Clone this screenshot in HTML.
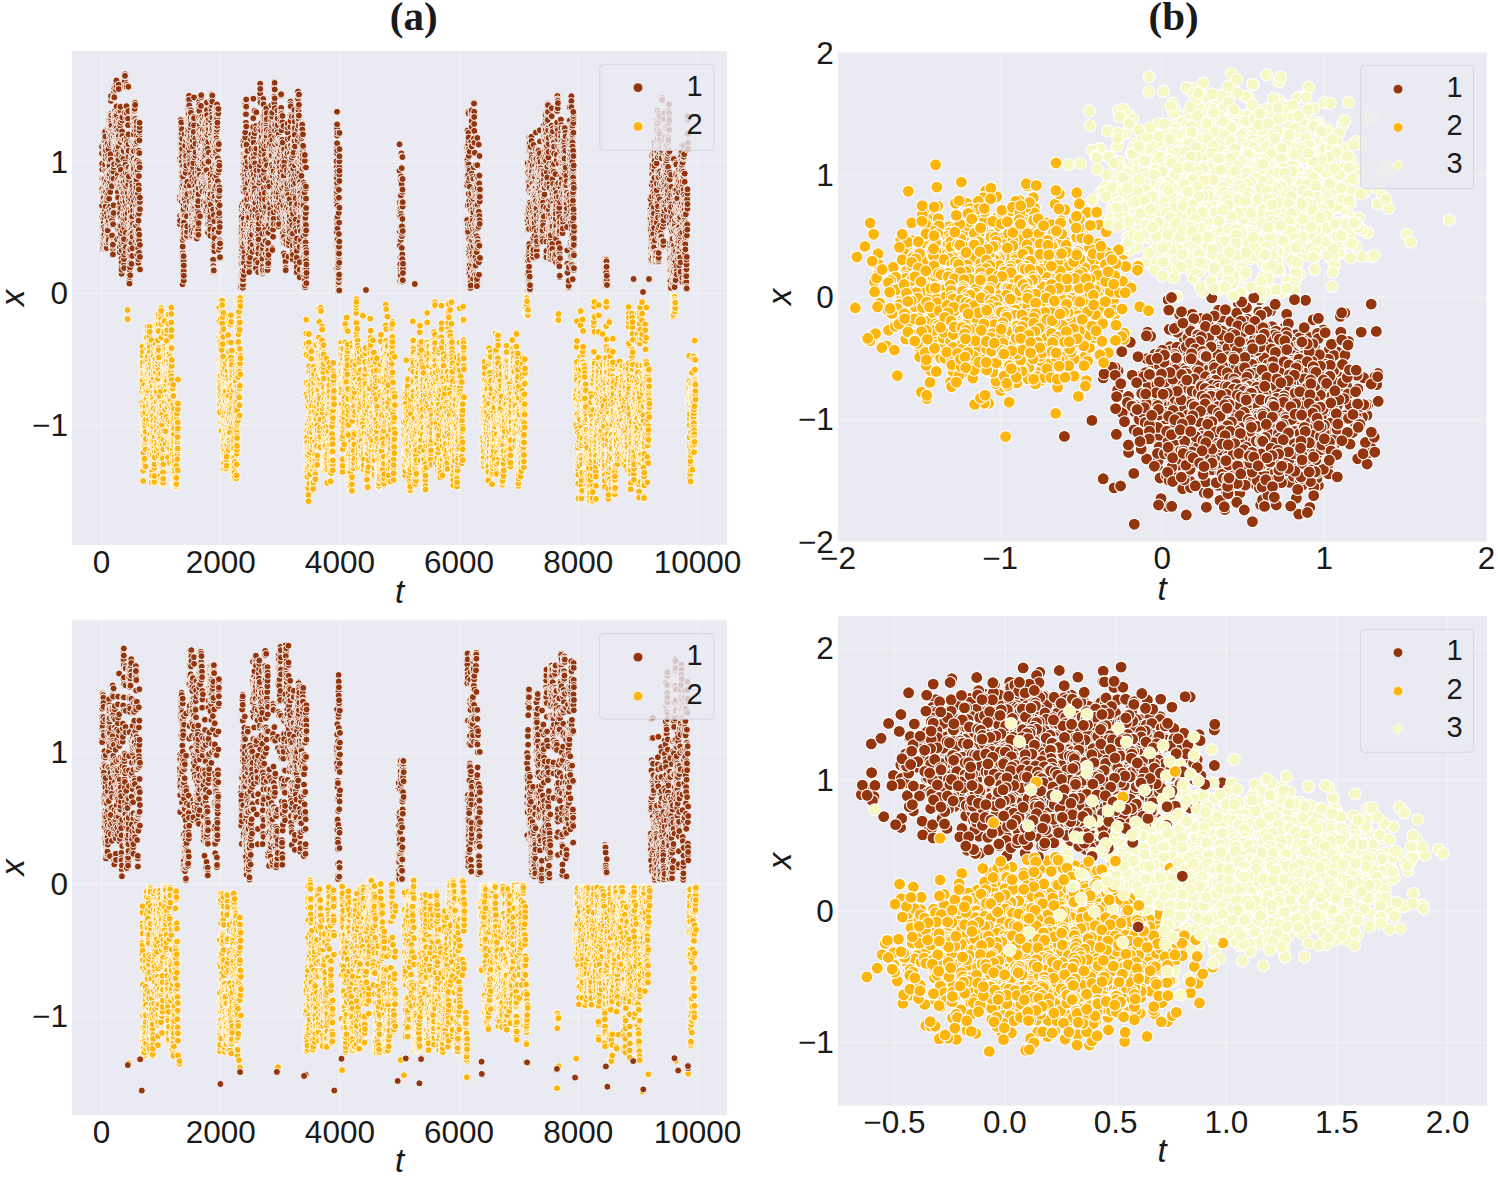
<!DOCTYPE html><html><head><meta charset="utf-8"><style>html,body{margin:0;padding:0;background:#fff;width:1498px;height:1180px;overflow:hidden}svg{display:block}.sa{fill:none;stroke:none}text{font-family:"Liberation Sans",sans-serif;fill:#1a1a1a}</style></head><body><svg width="1498" height="1180" viewBox="0 0 1498 1180"><rect width="1498" height="1180" fill="#fff"/><defs><marker id="ab" markerUnits="userSpaceOnUse" markerWidth="20" markerHeight="20" refX="10" refY="10" overflow="visible"><circle cx="10" cy="10" r="3.5" fill="#93360f" stroke="#fff" stroke-width="0.9"/></marker><marker id="ay" markerUnits="userSpaceOnUse" markerWidth="20" markerHeight="20" refX="10" refY="10" overflow="visible"><circle cx="10" cy="10" r="3.5" fill="#fcb50d" stroke="#fff" stroke-width="0.9"/></marker><marker id="bb" markerUnits="userSpaceOnUse" markerWidth="20" markerHeight="20" refX="10" refY="10" overflow="visible"><circle cx="10" cy="10" r="6.0" fill="#93360f" stroke="#fff" stroke-width="1.1"/></marker><marker id="by" markerUnits="userSpaceOnUse" markerWidth="20" markerHeight="20" refX="10" refY="10" overflow="visible"><circle cx="10" cy="10" r="6.0" fill="#fcb50d" stroke="#fff" stroke-width="1.1"/></marker><marker id="bp" markerUnits="userSpaceOnUse" markerWidth="20" markerHeight="20" refX="10" refY="10" overflow="visible"><circle cx="10" cy="10" r="6.0" fill="#f7f7c4" stroke="#fff" stroke-width="1.1"/></marker></defs><clipPath id="cA1"><rect x="72" y="51" width="655" height="494"/></clipPath><rect x="72" y="51" width="655" height="494" fill="#eaeaf2"/><path d="M101.5 51V545M220.7 51V545M339.9 51V545M459.1 51V545M578.3 51V545M697.5 51V545M72 161.6H727M72 293.3H727M72 425H727" stroke="#f3f3f7" stroke-width="1" fill="none"/><g clip-path="url(#cA1)"><path class="sa" marker-mid="url(#ay)" marker-start="url(#ay)" marker-end="url(#ay)" d="m127.6 310 0 9 14.4 113.6 .1-30.3 0-20.8 .1-9.8 0 4.4 .1 8.2 0-29 .1-8.8 0 33.7 0 11 .1-15.7 .1-1.8 0-12 0 4.1 .1 21.9 0 26.2 .1-51.6 0 9.1 .1-19.6 .1 21.3 0 33.3 .1 13.1 0 15.1 .1 34 0 2 0 10.4 .1-19.5 0-9 .1-17.4 .1-9 0 19.9 0-10.1 .1-.8 0-12.6 .1-1.5 0 24.3 .1-27.5 0 26.5 .1 20.1 0-4.4 .1-30.7 0-13.7 .1-30.5 0-13.1 .1 29.5 0 30 .1-10.3 0 7.8 .1 14.7 0 1.2 .1 21.6 0-1.7 .1-6 0-28.2 .1 1.2 0-.6 .1-21.2 0 29.3 .1 8.4 0-16.9 .1-22.3 0 19.4 0-15.1 .1-19.3 .1 11.1 0-15.2 .1 36.6 0 16.4 .1-52.2 0 16.4 0 15.8 .1 16.7 .1 27.3 0-16.8 0-30.4 .1 12.5 0 8.8 .1-1.6 0-19.3 .1-29.9 0-23.5 .1 4.4 0 .3 .1-8.6 .1 36.7 0-5.5 0-15.3 .1-.1 0-9.5 .1 3.6 0 26.6 .1-7.1 0-20 .1-4.2 0-25.1 .1 6.3 0-9.1 .1-2.7 0 .8 .1-9.1 0 1.9 .1 12.8 0 15.6 .1 11.1 0-13.8 .1-7.6 0 5.7 .1 22 0-4.5 .1-6.2 0-21.9 0-1.1 .1-11.5 .1-3.7 0-.8 .1 4.5 0 13 0 22.1 .1 8.4 .1-1 0-18.8 0 1.9 .1 12.6 .1 33.9 0-10.5 0-6.7 .1 8.9 0 15.1 .1-7.8 0 1.4 .1-15.5 0-19.9 .1 13.8 0 21.9 .1 11.9 .1 8.2 0-32.7 0-20.9 .1-.3 0-25.9 .1 22.2 0 15.2 .1 5.4 0 32.5 .1-12.1 0-1.6 .1-25.8 0 5.3 .1-8.7 0-8.2 .1-17.9 0-2 0-11.9 .1-4.9 .1 17.1 0-19.1 0-2.8 .1 4.9 .1 12.4 0 2.9 .1 5.1 0 43.9 .1 41.7 0 13.5 .1-20.5 0-47.1 .1 45.3 0 25 .1-18.6 0-25.5 0 1.2 .1 14.7 .1 5.1 0 3.5 .1-36 0-16.9 0-17.7 .1 21.2 0 40 .1-48.6 0 7.4 .1-6.7 0 36.2 .1-1.8 0-36.5 .1 33.8 0-27.6 .1-24.5 0 .7 .1-17.2 0 27.8 .1 6.1 0-14.4 .1 23.2 0 13.1 .1 21.5 0-12.2 0-4.4 .1 37.5 .1 35.6 0-2 0 10.1 .1-6.1 .1-19.7 0-12.6 .1-13.1 0 25.1 .1-2.1 0-37.7 0 1.4 .1 11.3 0-33.9 .1 8.5 0-1.2 .1-16.2 0 22 .1 30.1 .1-41.6 0 3.7 .1 46.3 0-6.3 0 14.9 .1-29.2 0-22.2 .1 17.8 0 6.7 .1-1.4 0-10.6 .1 24.4 0-17.5 .1 12.3 0-14.3 .1 11.8 0-29.9 .1 5.7 0-48.9 .1-6.6 0-7.4 0 10.6 .1 22.3 .1-9.8 0 5 0-2.5 .1 20.7 0 43.1 .1 13.8 .1-3.8 0-2.6 .1 17.7 0 19.4 0 2.5 .1-.1 0-5.9 .1-8.2 0-19.2 .1 2.8 .1 12.9 0-12.2 0 6 .1-.7 .1-1.3 0 1.3 0-20.7 .1-34.6 0-42.2 .1 2.3 0-1.2 .1 5.6 0-17.8 .1-.4 0 35 .1-21 0 3.4 .1-7.2 0 9.7 .1 17.5 0-13.8 .1 1 0-28.6 .1 27 0 51.3 .1 9.1 0-20.4 .1-18.3 0-21.1 .1 38.3 .1-9.1 0-14 0-1.9 .1 3.9 .1-1.6 0-35.2 .1 39 0 52.2 0-27.1 .1 6.5 .1 2.2 0-34.2 .1 10.8 0 19.4 .1 20.9 0 9 .1-5.9 0-18.8 .1 5.4 0-14.3 .1-33.6 0-35.7 .1 .5 0-24.5 .1 28.3 0 1.3 .1 32.6 0-17.9 .1 10.3 .1-1.9 0-28.9 .1-30.9 0 47.7 .1-.9 .1-7.9 0-15.7 .1 24.4 0-3.4 0 17.5 .1-26.8 0 55.4 .1 29.7 0-38.4 .1 49.5 .1-12.1 0 19.8 .1-43.9 0-53.5 .1-10.5 0-17 0-14 .1 6.9 .1-9.4 0 35.7 .1 7.2 .1 29.2 0-12.1 .1-4.5 0 39.5 .1 23.4 0-17 0-4.6 .1 12.2 .1-26.9 0-10.4 .1 .8 0 39.5 .1 0 0-28.9 .1 7.4 0-9 .1 43.6 0 23.3 .1-40.3 0-11.5 .1-4.7 0 30.2 .1-2.9 0-19.7 .1 31.6 0 .4 .1-7 0 14.9 .1 8.3 0 13.8 .1 4 .1-36.1 0 1 .1-54.7 0-2.7 .1-14.4 0 17.9 .1 .3 0-17.7 .1-52.4 0-6.7 .1-6.2 0 10.5 .1-8.1 .1 13.3 0 13.4 .1 26.5 0 42.8 0 2.1 .1 7.2 .1-51.6 0 42.1 .1 24.8 0-28.6 .1 38.8 0 19.3 .1-43.6 0 4.5 .1 3.5 0-20.7 .1 10.1 .1 4.8 0-13.7 .1 41.4 0 19.8 0 13.5 .1 3.5 .1-.5 0-2.4 .1-27.8 0 4.8 .1 6.9 0-1.7 .1-6.6 0-11.6 .1 13.4 0-8.5 .1 22.5 0 7.6 .1 3.6 0-.9 .1-4.7 0 .8 .1-14.4 0-15.2 .1-9.2 .1-21.7 0-32.5 .1-2.2 0 47.1 0-44.1 .1-5.6 0-14.4 .1 7.3 .1 9 0-13.4 .1-16.7 0-21 .1-9.9 .1 43.1 0-44.9 0 13.7 .1-.7 0 21.3 .1-7.5 0 15.9 .1-13.2 .1-28.5 0 42.7 .1 19.2 0 21 0-7.4 .1-17.5 .1 22.5 0-5.2 .1-28.2 0 9.1 .1 30.7 0-24.9 .1 26.4 .1-24.1 0-13 0 37.1 .1 21.7 .1 12.6 0-24.2 .1-45.6 0-6.2 .1 1.5 0-.8 0-1 .1 6.9 .1 6.3 0 .6 .1-28.2 0-4.1 .1 0 0 17.9 .1-1.6 0-11.2 .1 37.5 .1-36.8 0 21.4 .1 21.9 0 18.6 .1-10.9 0-47.1 .1 2.5 0 23.5 .1-36.1 0-7.8 .1 13.3 0 24 .1 .6 0 17 .1-15.2 0-46.8 .1-3.9 0 .5 .1 37.3 .1-2.9 0 41.4 .1 16.2 0-25.2 0 7 .1 34.2 .1 10 0-52.6 .1-25 0 36.8 .1 32.6 0 19.6 .1 .3 0-.9 .1-1.8 0-9.3 .1-28 .1-47.2 0-1.3 .1-13.6 0 6.9 .1-.6 0-40.5 .1-9.3 0 52.5 .1-1.4 0-8.9 0 4.4 .1-7.3 .1-6.5 .1 1.3 0 2.9 0 13.8 .1 32.9 0-43.5 .1 1.4 .1 39.2 0-9.9 0-33 .1 1.1 0-6.1 .1 17.8 .1-18.6 0 22.5 .1 15.4 0 14.5 .1 5.7 0 44.5 .1-1.2 0 15 .1-23.9 0-14.2 .1-32.7 0 19.4 .1 10.1 0-42.7 .1-22.1 0-7.7 .1-2 0 24.7 .1 6.3 .1 65.2 0-5.3 .1 .7 0-27.8 .1-39.6 0 30.2 .1 5.7 0-6.7 .1-16.4 0-7.8 .1-9 0 24.7 .1-15.8 0-39.8 .1-13.9 0-14.8 .1 6.3 0 34 .1 .2 .1 10.9 0-29 .1 35.8 0-5.5 .1 19.4 0-19.8 .1 50.2 0 7.1 .1-23.1 0-5.8 .1 15.7 0 5.4 .1 33.3 .1 11.3 0 17.4 0-32.9 .1-.5 .1-12.2 0 13.5 .1-19.8 0-30 0-1 .1 7.5 .1 37.8 0 15.2 .1-4.5 0 14.7 .1 3.3 0-35.9 .1 4.3 0-18.8 .1-27.4 0 11.2 .1 18.7 .1-9.4 0-9.3 0 29.4 .1-7.9 .1 15.6 0 8 0-1 .1 30.8 .1 12.1 0-16.6 .1-21 0-.5 .1 12.6 0-23.6 .1-6.8 0-18.1 .1 7.7 0 12 .1-10.5 .1 35.3 0-11.3 .1 14.5 0 12.3 .1-8.8 0 13.4 0 3 .1 6.8 .1-18.7 0 12.5 0-16.6 .1 22.4 .1 2.9 0-1.4 .1 2.4 0 0 .1 .1 .1 0 0 0 0 0 .1 0 0 0 .1 0 .1-.1 0-1.1 .1 .5 0-.9 0 .4 .1-1.1 .1-1.4 0 2.6 .1 .4 0-4.4 .1-5 0 6.9 .1 .9 .1-4.3 0 3.3 .1 .2 0-5.8 .1-12.9 0 .4 .1-15.1 0-2.5 0-30 .1 24.3 .1-22.8 0 25.5 0 1.7 .1-5.4 .1-38.3 0 10.5 .1 29.3 0 10.3 .1 .8 .1 5.3 0-8.8 0-19.9 .1 11.8 .1-3.3 0-16.6 .1 25.4 0-10.7 .1 11.4 0-26 .1-13.3 0 61 .1-41.5 0-25.2 .1-24 41.3-42.2 .1-29.6 0 12.9 .1 39.7 0 14.9 0 7.9 .1 10.1 0-7.9 .1 7.1 0-6 .1 26.8 0-17.2 .1 16 0-8.3 .1-6.8 0-7.3 .1-3.9 0 1.7 .1 6.9 0-30.6 0-.1 .1-22.7 .1 4.5 0 28.8 0-12.1 .1 2 0-18.7 .1 22.9 0 4.8 .1-9.4 0 12.4 .1-43.1 0-14.6 .1-6.7 0 54.6 0-30.3 .1 33.2 0-21.3 .1 44.5 .1-3 0-18.6 0 26.7 .1 24.7 0-20.9 .1 29.1 0 .5 .1-29.1 0-31.3 .1-7.7 0 7.9 0-32.6 .1 13.3 0-23.5 .1 6.9 0 15.2 .1-20.2 0 36 .1-36.2 0-26.9 .1-2.3 0 .4 .1 11.2 0-7 .1 18.4 0 34.9 0 4.1 .1 1.5 0-32.1 .1 28.7 0-43.5 .1 20.1 0 7.1 .1 16.9 0 2.9 .1 9.7 0-7.8 .1 32.2 0 7.1 0 3.7 .1 12 0-10.8 .1-32 0-7.6 .1-14 0-19.6 .1 68.6 0 18.2 .1-45 0-4.8 .1-61 0 16.2 .1 40.4 0 48 0-.1 .1 16.7 0-45.3 .1 37.2 0 12.9 .1 13.1 0-5.6 .1 3.5 0 19.5 .1-1.1 0-5.1 0-42.7 .1-20.8 0-18.1 .1-14.9 .1 23.7 0 6.8 0 19.7 .1 6.1 0-28.9 .1 34 0-30.5 .1 14.5 0 26 .1-9 0 5.4 .1 15.1 0-48.7 .1-6.5 0-14.9 0-11.8 .1 37.4 0-17.7 .1 14.8 0 21.7 .1-21.4 0-21.8 .1 7.6 0-4.2 .1-4.8 0 11.4 .1 11.6 0 17.8 0-36.6 .1 7.9 0-28.3 .1 12.4 0 25.8 .1 27.9 0-19 .1 23.1 0-12.1 .1 9.3 0-23.7 0 39.7 .1 19.9 0-9.1 .1 9.7 0 1.3 .1-3.3 0-4.7 .1-6.3 0 11.8 .1-12.2 0 3.2 .1 9 0-32.2 0-12.2 .1 1.5 .1 9.9 0-27.1 0 6.5 .1 26.1 .1 7.5 0-1.4 0-10.6 .1-37.9 0 10.4 .1-26.9 0-7 .1 .7 0 10.7 .1-13.3 0 13.3 0 20.1 .1-19.5 .1 15.7 0 25.1 0-39.1 .1 40.7 0 14.1 .1-.8 0-18.6 .1-44.8 0-25.6 .1-16.1 0 25.7 0 24.8 .1-1 .1 23.1 0 1.5 0 29.4 .1 1.8 0-18.2 .1-3 0 30.9 .1-18 0-43.9 .1-7.5 0 15.3 .1 5.6 0 27.1 0-14.2 .1 .5 .1-1.3 0-62.7 .1 1 0-30.2 0 20.4 .1-24.3 0-2.5 .1 51.5 0 16.5 0 2.6 .1 24.8 .1-6.4 0 6.6 0 23.9 .1-1.5 .1-2.3 0-8.2 0-9.1 .1 20.1 0 6.4 .1-14.6 0 17.9 .1-11 0 13.8 .1-25.6 0 1.7 0-20 .1-.7 0-11.5 .1 11.5 .1 2 0-41 0-38.3 .1 43.7 0 16.9 .1 1.7 0-19.4 .1 19.3 0-25.4 .1 5.1 0 59.5 .1-68.4 0-42.1 .1 27.2 0-20.6 0 35.6 .1 17.1 0-10.2 .1 5.7 0 3.4 .1 39.1 0 14.1 .1-24.4 0-38.9 .1 1.6 0 2.6 .1-.4 0-5.4 0 8.1 .1-5 0 19.2 .1-10 0-1 .1-22.6 0 30.5 .1 27.7 0 14.4 .1 22.7 0-28.2 0-39.7 .1 16.7 0 6.2 .1-.5 0-2.2 .1-13.7 0 1 .1-14.5 0 4.2 .1-3.4 0 65.8 .1 25.4 0-1.4 .1-1.5 0 7.6 .1 6.3 0-.9 0-4.3 .1-4 0 3.7 .1 6.5 0-.6 .1-15 0 .6 .1-2.1 0 14.9 0-24.2 .1 .3 .1 .5 0-32.4 .1-27 0 26.7 0 4.3 .1-5.2 .1 2.9 0 4.6 0 19.1 .1-1.8 0 21.6 .1-26.2 0 0 0 12.4 .1 9.6 0 8.5 .1 9.5 0 1.8 .1 .2 0-2.3 .1-2 0-9.8 .1 5.5 0 6.8 .1-13.8 0 6.7 .1 .6 0 2.8 .1-11.3 0 5.5 .1-4.7 0-44.3 0-8.5 .1 1.4 0 26.7 .1-8.9 0-48.2 .1 5.2 0 15.1 .1-27.7 0-1.9 .1 10.7 0-3.4 .1-3.6 0-6.4 0 19.1 .1 21.6 .1-22.2 0-7.7 0 28.3 .1-1.6 0 17.4 .1-14.7 0-37.9 .1 31.7 0-20.6 0 14.2 .1 16.3 .1 18.9 0 12.8 0 6.9 .1-32.8 0 11.6 .1 23.1 .1 12.3 0 10.3 0 3.2 .1-2.8 0-11 0-10.7 .1-10 .1-11.1 0 3.2 .1-39.2 0 22.2 0 30.9 .1-3.9 0-21 .1 13.1 0-27.8 .1 12.7 0-25.2 .1-10.2 0 2.1 .1-3.5 0-13.6 0-9.2 .1-20.2 0-42.5 .1-2 0 5.4 .1-3.9 0 21.3 .1 55.7 0 43.7 .1-20.2 0-4.5 .1-4.8 0 25.3 .1-39.5 0-7 0-14.5 .1-38.8 0 11.7 .1 13.4 0 26.9 .1-33.8 .1-.7 0-12.8 0-4.9 .1-13.3 0 15.5 .1 35.4 0-36.4 .1 1.1 0-12.9 0-4.4 .1 10.3 0-10.3 .1 24.5 .1-4.4 0 44.9 0-6.3 .1 .8 0 6.1 .1 4.5 0-7.8 0 33.4 .1 7.3 .1-15.2 0 15.9 .1-16.9 0 27.1 0-30.8 .1-54.8 0 19 .1 37 0-63.3 .1 40.8 0-58.5 .1-6 0-1.7 .1 1.2 0 .1 0-1.3 .1 .8 .1 4 0 4.1 0 49.4 .1 18.9 0-18.4 .1 2.3 65.5-14.9 .1 9.7 .1-5.7 0-27.6 0 13.6 .1 21.4 .1-11.2 0 38.9 0 11.8 .1 57.3 .1 16.8 .1-20 0-5.6 0 23.6 .1 5.8 0-16.2 .1-1.7 .1-24.1 0 7.6 0 5.2 .1 6.1 .1-2.9 0-2.1 .1 20.5 0 6.5 .1-29.1 0 34.7 .1-22.9 .1 12 0-39.5 .1-29 0-9.7 .1 .5 0-39.8 .1 57.1 0 19.1 .1 31.5 .1-1.2 0-6.1 .1-20.2 0 35.1 .1 4.6 0 19.9 .1 6.9 0-32.5 .1 38.6 0-49.5 .1-31.3 0-38.6 .1 35.8 .1-10 0-65.1 .1-8.3 0 21.8 .1-7.5 0 39.8 .1-2.2 .1-19.7 0 5.6 .1 29 0-10.1 .1 56.3 0 24.8 .1 11.6 0-19.8 .1-44.2 .1 7.9 0 5 0 13 .1 3.9 .1-.5 0 25.7 .1-8.9 0-13.1 .1-6.7 0-31.7 .1 34.5 .1 12.1 0-21.7 .1 6.4 0-18.1 .1 15.1 0-18 .1-7.3 .1-28.1 0-11.1 .1 5.1 0 2.2 .1 10 0 17.5 .1-4.8 0-2.3 .1-12.9 .1 24.7 0-58.7 0 15.9 .1-25.1 0 1.7 .1 17.5 .1 27.3 0 4.7 .1-24.4 0-4 .1 3.9 .1 36.2 .1-6.8 0 26.6 .1-12.2 0-40.4 .1 44.4 0 25.8 .1-4.5 0 24.1 .1-7.8 .1-2.3 0 2.7 .1 3.3 .1-26.3 0-14.1 0 1.9 .1 17.6 .1-1 .1 25.3 0 1.4 .1 12 0 1.9 .1 5.5 0-3 .1 3.4 .1-2.1 0 .9 .1-6.1 .1-16.4 0-19.6 .1-52.8 0 6.7 .1-13.8 0-10.7 .1-9.2 .1 4.3 0 13.7 .1-6.9 0-4.1 .1 8.6 0 7.3 .1 24.9 .1 14.6 0-31.8 .1-3.7 0 17.3 .1 5.3 .1 48.8 0-44.9 .1 3.3 .1-17.2 0 12.5 0 22.9 .1 12.7 .1 2.6 .1-2.1 0-13.9 .1 19 0 12.3 .1 2.1 0 4.4 .1 .5 0-17.2 .1-2.8 .1-22.7 0-4 .1-11.7 0 26.4 .1-16.3 .1 15.1 0-26.9 .1-.2 .1 8 0-13 .1-12.9 .1-2.7 0-28 0-25.6 .1 35.3 0 38.6 .1-12.7 .1-3.9 .1-1.6 0-4.9 .1-7.4 .1 12.7 0 30.8 0 5.7 .1 8.5 0-8.6 .1 27.6 .1-33.9 0-40.8 .1 35.1 .1 32.8 0-2.5 .1-25 .1 4.5 0-3.6 0-1.5 .1 8.7 .1-43.2 .1-21.1 0 40.5 .1-40.3 0 20.3 .1-13.6 0 7.5 .1 9 .1-21.4 0-22.6 0 9.8 .1 29.3 .1-.3 .1 12.3 0-24.9 0 15.2 .1-5.4 .1 5.5 0-39.3 .1-18.4 0-26.7 .1-2.5 .1 1.3 0-1.1 .1 34.3 .1-21.1 0 30.6 .1 3.4 .1 4.1 0 24.1 .1 19.4 0 27.6 .1-12.3 0-22.9 .1-17.4 .1-14.6 0 6.8 .1 27.8 .1-30.8 0 42.5 .1 28.9 0-11.8 .1 19.1 0-9.4 .1 10.2 0-27.5 .1-35 .1-14.3 0-25.3 .1 1.2 .1 16.7 0-2.9 .1-15.9 0-36.3 .1 3.6 .1-.3 0 36.7 .1 12 .1-3.7 0-13.9 .1-.2 0 1 .1 9.5 0 .6 .1 13.6 0 8.9 .1-.8 .1-5.9 0-.3 .1-.8 0-27.6 .1 7.1 .1 .1 0-21.1 .1 3.3 .1 18.7 0 39.5 0-2.6 .1 28.3 .1-1 .1-21.1 0 16.8 .1-20.1 0 15.9 .1-40.9 0-.5 .1 12.8 .1 13.5 0-13.5 .1-23.1 0 10.3 .1 14.5 .1 50.3 0-55.3 .1-4.7 0-8.1 .1-14.2 .1 18.8 0-11.1 .1 25.8 .1 13.6 0 7.2 0-44.9 .1 36.6 0-4 .1 18.7 .1 28.7 .1 6.6 0-18.8 .1-29.2 0 6.9 .1 46.2 0 16.5 .1 .4 .1 2.2 0 1.4 .1-19.6 0 8.9 .1 13.9 .1-4.3 0-26.9 .1 1.7 0-36.7 .1 21.4 0-6.4 .1 3.9 .1 9.8 .1 29.6 0-23.7 .1 19.1 0-9.6 .1-.3 0-11.1 .1 8.8 0 21.7 .1-6.5 .1 8 0-5.6 .1-31.9 .1 25 0-20.9 .1-8.2 0-34.8 .1-31.4 .1-2.1 0 41.9 .1 .6 0 38.9 .1 11.2 .1 16 0 3.5 .1-.6 0-10.1 .1 5.7 0 1.9 .1-9.1 .1 10.6 0-5.1 .1 17.8 0 1.2 .1-31.9 .1-30.2 0 32.8 .1 .7 .1-40.8 0-26.4 .1 2.6 0 9.5 .1 1.1 0 36.8 .1 29.1 0-30.9 .1-38.8 .1 9.7 .1 32.6 0-40.7 0 4.2 .1 27.7 .1-19.4 0-39.2 .1 16.5 .1 43.4 0 10.4 .1 3.3 0-5.9 .1-46.1 0-29.1 .1 61.8 .1-22 0 5.2 .1-5.4 0-40.6 .1 25.6 .1 17.8 .1 33.2 0-21 .1-37.2 0 4.1 .1 22.7 0-16.6 .1 12.9 0 2.9 .1 14.6 .1-2.6 0-21.6 .1-.9 0 11.4 .1-29 .1-11.8 0 54.2 .1 22.9 0-.6 .1 21 0-4.6 .1-5.5 .1 3.6 0 2.8 .1 3.8 0 16.3 .1-26.9 .1 7.8 0-43.6 .1 16.8 .1 1.2 0 30.4 .1 4 0 2.1 .1-19.7 0-.6 .1-12.4 .1 24.4 0-12.4 .1-11.4 0-17.3 .1 9.6 .1-13.6 0 3.2 .1 5 .1-7.6 0 1.8 .1 4.2 0 7.8 .1-26.2 0-32.5 .1 24.5 .1 15.3 0 5.9 .1 18.2 0 4.8 .1 7.3 .1 12.5 0 6.4 .1-9.8 .1-42.3 0-7.7 0-6.5 .1-8.6 .1-9.3 0-14.9 .1-8.3 .1 29.8 0-10.5 .1 16.4 .1-5.5 0 12.5 .1-25.5 0-6.2 .1 27.6 0-11.6 .1-13.7 0 14.6 .1 7.5 .1 6 7-19.4 .1-42 .1 4.9 0 6.1 .1-5.2 0 43.7 .1-10.9 0-16.9 .1 43.6 0-19 .2-17.1 0 15.2 0 24.8 .1-8.2 .1 6.7 0-29.1 .1 33.6 0 23.4 .1-8.3 .1-47 0 37.4 .1-4.1 0 22.5 .1-7.9 .1 40.7 0-8.3 .1 2.3 .1-6.6 0-10.1 .1-38.6 0-1.5 .1 27 0-9 .1-72.3 0 1 .1 24.2 .1 32.8 0-63.4 .1 25.9 0-16.3 .1-9.9 .1 16.4 0 19 .1-1.5 0-10.5 .1-6.9 .1 7.1 0 7.3 .1 47.1 0-26.3 .1 11.3 0 6 .1 14.1 .1 12.3 .1-33.7 0-3.3 .1 5.7 0 10.4 .1-27.9 0-18.2 .1 1.5 .1 18.8 0-32.8 .1 37.8 0-19.3 .1-12.2 .1 34.3 0-37.5 .1 6.2 .1-31.9 0 .2 .1-13 0-5.5 .1 51.6 0-3.4 .1 12.5 0 1.7 .1-13.2 .1-4 .1-11.7 0 2.8 .1 7 0 10.2 .1 10.1 0 2.6 .1-31 0-1 .1 7.1 .1 3.2 0-13.8 .1 27.3 .1-20.9 0-.4 .1-7.3 .1-2.8 0-21.1 0-11.9 .1 27.7 0 8.7 .1 .7 .1 2.4 .1 57.2 0 18.5 .1-8.6 0-17.4 .1 26.7 0-59.2 .1 13.8 .1-28.2 0 5.2 .1-14 .1-4.1 0-15.8 .1 13.2 0 55 .1-8.6 .1-1.8 0 32.1 .1 12.3 .1-34.5 0 55.3 0 4.2 .1-1.1 0 2 .1 2.3 .1-26.6 0-20 .1 10 0-14.9 .1 44 .1 15.7 0 1.9 .1 7.1 0 2.3 .1-16.4 .1 19.8 0 1.1 .1 .5 0-6 .1-10.1 .1-.9 0-1.2 .1-.4 .1-4.9 0 1.8 .1 2.9 0-15.4 .1 12.6 0 5.4 .1-1.6 .1 1.6 0 12.1 .1 .7 .1-10.5 0 13.6 .1-7.2 0-2.5 .1 10 .1-12.2 0-2.1 .1-13.7 0-15 .1 19.8 .1-5.2 0 8.6 .1-16.6 0 17 .1-.5 0-58.6 .1 38.5 .1 9.3 0-14.3 .1-23.3 .1 28.2 0 4.5 .1 9.5 0 4.8 .1-1.1 .1 16.2 0 10.6 0 .3 .1 .1 .1-.2 0-6.3 .1-7.3 0-11.6 .1 2.6 .1-20.4 0-26.7 .1-25.5 .1-13.3 0 16.3 .1-29.7 0-8.3 .1-17.7 .1 5 0-.7 0 19.8 .2 13.9 0 19.1 0-1.9 .1-19.4 .1-16.9 0 28.8 .1 24.4 0 .7 .1-28.1 0 19.3 .1-29.7 .1-6.5 0 39.9 .1 57.8 .1-3.7 0-19 .1 13.5 0-8.2 .1 11.6 .1-6.1 0-17.7 .1 4.8 0-11.1 .1-26.3 .1 52.7 0-14.2 .1-29 .1-18.3 0-23.9 .1-.3 0-19.1 .1-4.3 .1 42.7 0 41.7 .1-20.8 0 1.8 .1-27.9 0-11.2 .1 11.2 .1 24.6 0-28.4 .1-13.8 0 9.7 .1-15.4 .1-20.7 0-2.7 .1-17.8 0-13 .1 2.4 .1 39.5 0-1.6 .1 3.3 0-30.1 .1-1.3 0-14.9 .1 6 .1-5.3 0-2.9 .1-5.6 .1 2.7 0 21.2 0 10.1 .1 4.5 .1 10.7 0 10.9 .1-7.3 .1-10.2 0 1.6 .1 5.9 0 33.6 .1-8.9 .1-2.3 0-12.4 .1-18.9 0-11.6 .1 23.8 .1-7.2 0 7.7 .1-8.3 0 1.4 .1-5.5 .1 5 0 9.5 .1 30 0-3 .1 2.7 .1 14.2 0-13 .1-3 .1 23.5 0-1.6 0 60.5 .1 1.8 .1-5.9 0-13.3 .1 3.5 .1-2.4 0 8.8 .1-4.4 0-13.9 .1-29 .1-37.9 0-24.2 .1 13.1 0 26.6 .1 28 0 8.2 .1 7.5 .1 8.8 0-32.4 .1 12.7 0-25.1 .1 7.1 .1-14.8 0-9 .1-22.9 .1-4.6 0 6.2 0 .6 .1 52.3 .1-14.3 0-17.2 .1 6 .1 21.3 0 29.1 .1 14.4 0 17.3 .1-10.4 .1-20.7 0-8.6 .1-34.3 0 6.7 .1-15 .1 8.2 0-23.3 .1 45.7 0 30.8 .1 17.7 .1-17.9 0-42.7 .1 52.9 0-26.7 .1 9.4 0-7.5 .1 26.5 0 5.9 .1-1.3 .1-6.8 0-15.2 .1 11.5 .1-38.7 0 7.3 .1 32.7 .1 9.5 0-8.3 .1 11.9 .1-5.9 0 1.2 0-46.2 .1 17.9 .1-46.8 0 30.8 .1 7.6 .1-34.9 0 5.3 .1 27.8 0-27 .1-46.2 0-.7 .1-34 0 40.1 .1 40 .1 2.7 0 17.8 .1 11.3 .1 34.3 0 2.3 .1 .5 0-20.2 .1 20.4 .1-16.1 0 15.9 .1 3.7 .1 1.3 0-16.6 0 12.3 .1-6.2 .1-31.6 0-16.3 .1 6.9 .1-20.6 0 35.1 .1-30.1 0 41.5 .1-10.8 0-18.7 .1-13.8 .1-28.9 0 6.1 .1 12.4 .1 21.8 0-27 .1-10 0-13.7 .1 1.7 0-1.3 .1 .1 .1-12.7 0 4.1 .1 20.6 .1-4.2 0 23.9 .1-1.7 0 1.9 .1-44.7 0-1.3 .1 21.8 0 13.8 .1 15.8 .1 38.4 0-41.5 .1-27.2 0 36.2 .1 8.2 .1 30.7 .1 8 0-4.4 .1-4.6 0 5.3 .1-8.1 .1 2.8 0 10.7 .1 15.3 0 3.9 .1-2.5 .1 9.2 0 7.6 .1-18.1 0-27.5 .1-3.4 0 14.1 .1-13.3 .1-8.7 0 23.1 .1-19.8 0-4.5 .1 4.1 .1 15 0 22.8 .1 16 0-22.9 .1-10.8 0-43 .1 28.6 .1 26.1 0-2.8 .1-18 0 4.6 .1-10.6 0 27 .1-3.3 .1-1.9 0 7.1 .1-19.6 0 1 .2-26.3 0-4.2 0 1.9 .1-14.2 .1-4.1 0-39.2 .1 26.6 0 7.3 .1-10.8 .1 13.2 0 29.9 .1 7.9 .1-15.1 0-14.6 .1 39.6 0 3 .1-19.4 0 5.4 .1-20.7 .1 12.3 0-38 0-.6 .2 11.3 0-31.6 0-3.5 .1-3.1 .1-42.9 0 28.2 .1-8.9 .1 14.7 0-5.2 .1-6.1 .1-10.7 0 14.4 .1 14.4 0 42.5 .1-34.5 .1 15.9 0-.5 0 43.4 .1 12.4 .1-38.3 .1-30.1 0 5 0 46.6 .1 31.1 .1-3.3 0-32.6 .1-1.7 0 42.2 .1-11.7 0-30.5 .1 10.9 .1-43.3 .1 48.6 0-21.1 .1 31.8 0-44.8 .1 32.5 .1 15.7 0-47.2 .1-20.6 0-7.5 .1 48.8 0 21.5 .1-31.5 0 2.1 .1 1.1 .1-13.4 0-24.7 .1-21.9 .1-12.1 0 27.2 .1 14.5 0 3.1 .1-26.6 0-2.2 .1 2.7 .1 57.5 0 5.8 .1-20.4 .1 20.5 0-52.2 .1 6 0-2.5 .1 19.4 .1-40.5 0 18.5 .1 52 0 5.6 .1 26.6 0 14.6 .1-14 .1 4.8 0 7.7 .1 1.9 .1 4.4 0-15.8 .1-2.9 0 12.3 .1-7.8 .1-11.5 0 .8 0-1.4 .1 2.1 .1-15.3 0 11.4 .1-36.2 .1-3.1 0-.3 .1 15.5 0 22.8 .1-30.3 .1-19.9 0 5.6 .1-13.8 0-8.6 .1-16.3 0 20.6 .1 39.4 .1-44 .1 39.8 0-11.3 .1 12.8 0 8.3 .1 17 0-9.6 .1-8.9 .1-15.2 0-.9 .1-5.2 0 34.4 .1 14.6 0-49.4 .1-5.4 .1-40.7 0 12 .1 43.6 .1-6.3 0 4.9 .1-3 0 32.8 .1-18.5 0 7.6 .1-50.8 .1 27.7 0 1.7 .1-3.4 0 5.5 .1 26.4 0 28.8 .1 7.2 .1-1.1 .1-26.7 0 22.6 .1-14 0 8.5 .1-12 0 16.1 .1 10.6 .1-4.9 0-8 .1-8.6 .1-30.3 0-12.1 0 31.7 .1 12 .1 6.9 0 21.6 .1-16.9 0 16.6 .1-1.2 .1 .5 0-7.2 .1 3.3 .1 1.5 0-11.4 0-6.7 .1 3.4 .1 11.3 .1-25.4 0 20.6 .1 1.4 0-6.2 .1 4.7 0-7.5 .1 9.6 .1-1 0 .1 .1 2.7 .1-9.1 0-1.9 .1-24.2 0 11 .1 8.8 0 7.1 .1-12.8 0-39.7 .1-37.5 .1-16 .1 29.6 0-2.1 .1 3.4 .1-53.3 0-.3 .1-7.2 0 6.5 0 29.4 .1 48.9 .1 19.7 .1-11.2 0-1 .1 22.1 0 21.1 .1-5.3 .1-14.2 0-33.5 .1 2.2 0-17.5 .1 13 0 20.3 .1-23.7 0 2.4 .1 1.3 .1-14 0 43.7 .1 35.2 0-8.3 .1-.3 .1 4.8 0-12.2 .1-6.6 0-12.1 .1-11.6 .1 25.8 0-20.9 .1-8 0 32.2 .1 6.2 .1-7.2 0-17.1 .1-21.9 0-22.3 .1-30.8 .1 7.3 .1 20.9 0-4.9 0-13.7 .1-18 .1-11.6 0 70.8 .1-13.4 .1-1.2 0 37.1 .1 20.5 0-33 .1 26.1 0 27 .1-5.7 0 .5 .1-14.9 .1 10.5 .1-48.9 0-6 .1-41.5 0 12 .1-20.3 0-13.8 .1 30.7 .1 3.4 0 10.7 .1 23.1 .1-6.8 0-17.4 .1-17.2 0 25.8 .1-15.3 0-46.9 .1 43.8 .1 13.9 0 0 .1-31.4 0-4.9 .1 54.4 0-48.2 .1-22.1 .1-46.6 0 20.5 .1 18.6 0 18.3 .1 12.3 0-21 .1 37.2 .1-38.3 0-11.3 .1-11.9 .1-20 .1 39.4 0 6.3 0 18.7 .1-22.5 .1 14.9 0-6.9 .1 21.3 .1-4.6 0-27.3 .1 11.8 0 .1 .1 46.7 .1-18.2 0 7.7 .1 23.8 0-26.7 .1-24.7 .1-5 0-47.3 .1 27.5 0 14.9 .1-11.4 .1-1.7 0 14.2 .1 1.5 0 35.3 .1 45.4 0-27.2 .1-9 .1 .9 0 8.2 .1 2.2 0-32.3 .1 17.1 .1 33.5 0 23.4 .1 21.8 0-18.7 .1 2.8 .1 4 0 6.5 .1-17.7 0-1 .1 2.8 0-16.1 .1-47.5 .1-30.5 0-8.6 .1 16.7 .1 4.7 0 14 .1-30.4 0 14.6 .1-21.8 0 8.2 .1 67 .1 22.5 0 9.2 .1-35.8 .1-5.1 0-22.5 0 30 .1 16.1 .1-21.4 0-3.4 .1 11.1 .1-11.8 0 47.9 .1 14.8 .1-13.1 0-10.5 .1 .7 0-8.6 .1-8.1 .1 6.5 0-24.2 .1 34.4 0 2.1 .1-30.8 .1-11.3 0 20.1 .1-28.6 0-33.1 .1-8.7 0-18.4 .1-.1 0-21.8 .1 12.7 .1 18.8 0 35.6 .1-31.4 .1-19.1 0 1.2 0 12.3 .1 13.1 .1 3.3 0-48.6 .1 19.4 0 5 .1-4.2 .1-9 .1-15.1 0 20 .1-18 0 29.5 .1 40.8 0-21.8 .1 41.5 0 8.4 .1-7.3 .1-.3 0-32.4 .1 8 .1 2.6 0 20.1 .1-9.4 .1 67.1 0-1.9 .1-10.4 0-12.3 .1 22.9 0-10.5 .1 21.3 .1-6.5 0-14.1 0 5.8 .1-23.7 .1-3.7 .1-16.6 0 13.4 0 16.2 .2-3.7 0-38.4 .1 20.9 0 9.6 .1 14.1 0-35.4 .1-12.5 .1-.3 0-11.2 .1-37 .1 41 0-1.1 .1 9.6 0-1.3 .1 28.3 9 13.3 .1-24.5 0 7.8 .1-32.8 .1 7.3 0 30.5 .1 7 0 14.7 .1-17.6 .1 36 0-8.5 .1 3.9 0-3.1 .1-12.5 0 10.9 .1-13.6 .1 24.3 0-5.3 0 .9 .1 3 .1-3.8 0-18 .1-12.7 0-9.7 .1 19 0-6.6 .1 2.3 0-38.6 .1 42.2 0-3.7 .1-31.7 .1-25.8 0 62.4 .1-7 .1 9.5 0-31.9 .1-17.9 0-5.8 .1-36.9 0 32.5 .1 4 0 35.5 .1 21.2 0-.4 .1-2.4 .1 15.5 0-5.8 .1-6.9 0-13.7 .1-29.7 .1-1.7 0-20.4 .1-.8 0 27.1 .1 30.4 .1 12 0 9.6 .1-12.2 0-27.4 .1-9 0 34.6 .1 .1 0-63.1 .1-9.9 .1 15.6 0-12.1 .1 3.3 0 45 .1 10.2 0-1.3 .1 8.5 .1-19.4 0-50 .1 55.3 0 29.5 .1-14 0-13.9 .1-20.9 0-7.8 .1 4.3 .1 31.9 0-13.4 .1-8.6 .1 11.1 0 23 .1 10.3 0-2 0-.4 .1 5.6 .1-37.8 .1 5.8 0 24.6 0 6.3 .1 9.7 .1 5.4 0-1.5 .1 4.6 0-18.2 .1-10.2 .1 11.3 0 17.7 .1 3.1 0 .7 .1-.4 .1 .4 0-1.8 .1-4 0-.5 .1 5.7 0-3.4 .1-14.2 .1-8.1 0 4.8 .1-8.6 0-13.7 .1 14.1 0-37.3 .1-21.6 0 4.7 .1-7.8 .1 14.9 0 11.9 0-12 .1-23.1 0-21.1 .1 23.9 .1 39.6 0 4.4 .1-13.7 .1 11.2 0 9.1 .1 20 0-6.3 .1-35.3 0 23 .1-6.6 0 2.6 .1 20.5 .1 2.9 0-18.8 .1 11.5 0-2.5 .1 4.5 .1 4.3 0-29.2 .1 28.5 0 3.5 .1-71.2 0 28.4 .1 14.1 .1-30 0-17.1 .1-25.9 0-2.2 .1-41.4 0 18.1 .1 14.1 0 7.3 .1 19.9 .1-.5 0-32.9 .1-6.9 0 7.1 .1 17.9 0 25.4 .1-41.9 0 13.8 .1 8.9 .1 19.8 0-9.5 .1-29.8 0 43.8 .1 31 .1 22.5 0-9.7 .1 2.3 0-22.2 .1 1.4 0 35.2 .1-.2 .1 4.5 0-9.9 0-19 .1-13.8 .1-9.1 0 35.6 .1 15.6 0 7.2 .1 10.5 .1 5.3 0-18.9 .1-16.7 .1 7.4 0 12.5 0 1.6 .1 14.9 .1-12.1 0-16.6 .1 8.2 0-28.5 .1 22.5 0-10.4 .1-22.7 0 3.3 .1 27.7 0-6.9 .1-3.8 .1 10.2 0 20.2 .1 5.7 0-6.4 .1 1.3 .1-.6 0-13.4 .1-11.7 .1 23.8 0-11.4 .1-2.3 0-9.8 .1-18.9 0-3.5 0-20.2 .1-3.2 .1-3.3 .1-18.1 0 19.6 .1-18.4 0-7 .1-22.5 0 59.5 .1 28 0-47 .1-18.5 0-14.6 .1 23 0-13.5 .1 35 .1 17.3 .1-1.7 0 1.2 .1-40.3 0 30.1 0 .2 .1 11.6 .1-37.6 0 1.8 .1 14.8 0 17.7 .1 15 .1-47.4 0-35.1 .1 .7 0 17.6 .1 19.2 0 4 .1-29 .1-2.8 0 24.9 .1 29.5 .1 8.1 0-14.4 0-9.3 .1 7.2 .1 31.4 0-14.7 .1 11.2 0-21.7 .1-59.6 .1 25.4 0 45.2 .1-21.9 0-6.7 .1-43.3 0 9.5 .1-23.1 .1-9.4 0 10.6 .1 6.3 0-3.9 .1-19.6 0 27.6 .1 39 0 17.8 .1 7.7 0 18.8 .1 14.3 0-15.2 .1 24.8 .1-27.7 0 8 .1-1.9 0-38.3 .1 39.8 0-18.7 .1 12 0 13.8 .1-20.1 .1-14.4 0 25.7 .1-13.1 0-.9 .1 15.2 .1-23.3 0-57.8 .1-8.8 0-8.1 .1 26.5 .1 14.1 0 18.3 .1-12.5 0 2.8 .1-13.3 0 40.4 .1-44.1 0-15.4 .1 11.5 .1-8.9 0 18.9 .1 17 0 6.4 .1-22.9 0-5.3 .1 5.4 .1 42.7 0-20.4 .1-38 0 9.7 .1 26.1 .1 8.6 0-19.6 .1 45 0-7.4 .1-.6 .1-31.4 0 21.1 0-31 .1-17.9 0 10 .1 1.8 0 9.4 .1 5.4 .1-21.4 0 19 .1 3.3 .1 32.6 0 42.6 .1-6.1 0 6.3 .1-11.4 0-9.1 .1 13 0-4.1 .1 5.8 .1-.4 0-5.3 .1 21.4 0-13 .1-2.8 .1 8 0-4.4 .1 1.4 0 11.3 .1-7.5 0 4.6 .1 2.9 0 6.5 .1-5.6 .1-2.4 0 7.6 .1 1.5 0-.9 .1 1.8 .1-1.3 0-2.1 0-3.5 .1-2.7 .1 6 .1 3.7 0-13.9 0-11.7 .1-22.2 .1-20.1 0-.9 0-20.4 .1-14.9 .1 9 0-15.2 .1 57.1 0-47.1 .1-31.1 0 29.9 .1 22.2 .1 26.2 0 31.1 .1-11.9 0-9.6 .1-24.1 .1-17.4 0 33.4 .1-10.1 .1 3.7 0-17.7 .1-33 0-28 .1 4.3 0-1.6 .1-13.9 .1-28.8 0 9.5 0 20.3 .1 2.6 .1 15.6 0 .8 0 18.4 .2 36.7 0-14.5 .1 25 0-35.7 .1 45 0 3.8 .1-24.7 0 .4 .1 5 0 32.8 .1-21.6 0-11.4 .1 3.5 .1-6.5 0 13.3 .1-24 0 19.5 .1 20.1 0-14.8 .1 24.5 .1-18.3 0-76.1 .1-12.1 0-4.4 .1 15.9 .1 4.3 0-5.9 .1-6.8 0 37.1 .1-4.5 .1-40 0 .6 0 37.4 .1 2.9 .1-2 0-9.8 0 24 .1 35.2 .1 22.3 0-6.1 .1-29.9 0 6.8 .1 6.1 .1-20.1 0-2.7 .1-21.4 0 21.4 .1-27.2 .1 4.9 0 29.2 .1 38 0 4.6 .1-21.7 0 0 .1 21.5 .1 5.7 0-13.5 .1-9 0 3.9 .1-9.6 0 15.9 .1-33 .1-21 0 50.3 0 1.1 .1-36.9 .1-39.8 .1 6.2 0-16.8 0 27.3 .1 2.7 .1 47 0 24.2 .1-33.8 0-15 .1 15 0 4.7 .1-5.5 .1 3.3 0-12.8 .1-16.6 0-26.8 .1 24.7 0-31.9 .1-22.3 0 25.2 .1 1.3 .1-12.7 0-18.2 .1 2.1 0 6.2 .1 6.7 .1 4.3 0-12.8 .1 1.6 0 .5 .1-3.2 .1 1.6 0 1.4 0 37.4 .1 34.7 .1-22 0-11.4 .1-6.3 0-.7 .1 20.1 .1-40.1 0-1.1 0 15.6 .1-13.4 .1-21.8 0 4.8 .1-4.7 .1 8.7 0-19.1 .1 8.1 0 8.8 .1 15.2 0 .9 .1 27.2 0-12.7 .1-21.4 0 1.8 .1-10.1 .1-7.5 0 3 .1 15.5 0-9.4 .1-4.3 .1-12.8 0 11.8 .1-39.6 0-4.4 .1 2.8 0 38.1 .1 5.9 .1 14.3 0-2.8 0 5.3 .1 15 .1 10.8 0-19.2 .1 46.4 .1 45.2 0-32.3 .1 3.8 0-8.6 .1 12.6 0-39.1 .1-9.3 0 45.6 .1-8.8 0 4.8 .1-.2 0-25.3 .1-24.4 .1 53.9 .1-2.9 0 .9 0-20.2 .1-26.6 0 35 .1 21.2 .1-1.2 0-41.8 .1 9.9 .1-14.4 0 9.6 0 9.4 .1 37.8 .1 4.4 0-24 .1 18 .1-23.6 0-25 .1 45.9 0-31.6 .1-2.1 .1-16 0 5.5 0 30.3 .1 30.7 .1-16 0 20.6 .1-20.4 0-10.5 .1 13 .1-14.3 0-33.9 .1-17.1 0-18.4 .1 1.9 0 6.8 .1-.3 0 3 .1 9.3 0-2.2 .1 27.1 .1 21.2 0 12.8 .1-34.9 0-8.8 .1-6.9 .1-4 0-3.1 .1-29.1 0-8.9 .1-3.7 0-11.9 .1 22.8 0 25.8 .1 3.6 .1-.8 0-2.9 .1 6 0-8.1 .1 25.8 .1 10.1 0 9.7 .1 34.8 0 6.2 .1-2.7 .1 9.8 0-18.7 0 12.1 .1-2.3 .1-2.7 0 3.3 .1-6.3 0-1.7 .1 12 0-13.7 .1 4 .1-3.7 0-35.2 .1-28.7 0-25.6 .1-9.5 0-1.1 .1 24.8 0 4.8 .1-28.7 .1-16.6 0-6.5 .1-9.6 .1-4.3 0 5.7 0-23.4 .1 40.9 0-4.8 .1 3.1 .1-1.7 0 4.4 .1 16.5 0 11.9 .1 9.2 .1-6.6 0 27.9 .1 1.9 0 7.3 .1 30 0-25.1 .1 10.4 0 34.6 .1 9.9 .1-17.6 0 1.9 .1-19.3 0-19.7 .1-57.4 .1-3.4 0 19.8 0-18.5 .1 20.9 .1-5 0-11.4 .1-24 0 26.9 .1 15.9 .1-15.5 0 29.4 .1-36.7 0-7.8 .1 11.7 0 19.7 .1-27.3 0 .9 .1 13.1 .1 26 0 14.2 .1-28.2 0 29 .1 11.4 0-5.7 .1 31.9 .1-14 0-43.5 .1-5.7 .1 .5 0 5.5 0 21.6 .1 33.8 .1 6.1 .1-22.9 0 4.2 .1-7.6 0-25.7 .1 23.2 0 14.9 .1 24.9 0-3.4 .1 2.6 0-27.4 .1 18.9 .1 7.5 0-26.5 0-2 .1 6.9 .1 14.4 .1 12.1 0-14.2 0 1.2 .1-35.6 .1 .6 0 7.4 .1 15.2 0 22.1 .1-41.6 .1-11.9 0-4.4 .1-35.3 0 29 .1-13 0-31.6 .1 22.8 .1-.1 0 39.3 .1 12.7 0 18.8 .1 10.4 0-32.2 .1-5.9 0-4.1 .1 12.3 0-10 .1-18.4 .1 9.2 0 12.8 .1 34.6 0 3.4 .1 6.3 0-42.5 .1 6.5 .1 .4 0-61.5 .1-23.6 .1 .1 0-3.1 .1-31.2 0 26.6 .1-12.6 0-11.8 .1-2 0 14 .1-5.4 0 18 .1-25.8 .1-4.9 0-6.7 .1 7.9 0-9.5 .1 30.8 0-29.7 .1 8.4 .1-7.2 0 13.2 0 24.1 .1 38.1 .1-3.1 0 28.2 .1 11.1 0 28.1 .1-19.5 .1 2.8 0-17.6 .1 13.5 0-3.4 .1-13.4 0 11.6 .1-2.7 .1 20 0 13.9 .1-59.7 .1-31.2 0 4.3 .1-14.8 0-6 .1-31.6 0 22.4 .1 17.6 0-13 .1 5.2 0-6 .1 7.3 .1 8.7 0-3.3 .1 6.1 0 38.7 .1 46.1 .1 9.3 0-24.5 0 19 .1 15 .1-8.1 .1 .1 0-22 0-21.9 .1-34 .1-7.8 0-1.3 .1-18.3 0 .3 .1-21.8 0-21.5 .1 38.3 0 25 .1-25.5 0 10 .1-8 .1 6.7 0 27.8 .1-4.7 0-18.9 .1 3.3 .1 15.4 0 47.3 .1 2.9 0 28.9 .1-46.9 .1-19.2 0-25.3 0 4 .1 15.6 .1-15.8 0 18 .1 16.6 0 12.7 .1 32.2 .1 18.9 0-2.1 .1 14 0 1.2 .1 5.4 0 5.3 .1-22.7 0-35.7 .1 33.9 .1-2.4 0-16.3 .1-6.7 0 23.5 .1 9.7 0 1.8 .1-4.6 0-8.6 .1-37.1 .1 7.9 0-.7 .1 3 0 8.8 .1 19.9 0-5.6 .1 17.5 .1-54.2 .1-13.6 0 41.2 .1-21.1 0 5.1 .1 9.2 0 10.9 .1 13.8 0-49.7 .1 42.4 .1 5.9 0-33.3 0-32.1 .1 4.6 .1 7.6 0 9.1 .1-10 0 9.7 .1-17 0 5.6 .1-6.1 0 2.4 .1 3.2 .1-10.3 .1-3.8 0 54.9 .1-17.2 0 6.5 .1-35.3 0-33.2 .1 17.3 0 4.1 .1-19.6 0 24.8 .1 31.3 .1 2 0 14.3 .1-52.3 0 2.7 .1-33.5 0 62 .1 19.9 .1 12.3 0 25.8 .1 4.9 0-3.3 .1 6 0 1.6 .1-4.1 .1-10.5 0-1.5 .1-17 0-23.4 .1 3.6 .1 11.9 0 8.3 .1 16.4 0-5 .1-9.1 0-17.4 .1-20.9 0 29.1 .1 2.6 0 7 .1 6.1 .1-4.2 0-12.6 .1 3.3 0-8.6 .1-5.7 0-41.7 .1-2.3 .1-24.2 0 37.6 .1-10.4 0 16.7 .1 12.3 0 9.4 .1-39.4 .1 13.5 0-23.8 .1-9.8 0-10.4 .1 1.7 0 30.7 .1 53.4 .1-29.5 0-18.2 .1-2.6 .1 4.2 0-30.8 0-28.5 .1-34.3 .1 34.1 0 13.3 .1 14.2 0 .2 .1 13.7 .1-6.6 0 10.1 .1-28.3 0 22.9 .1 9.6 0 20.4 .1 13.2 .1-19.5 0 28.3 0-3.4 .1-20.2 .1 3.7 0-37.6 .1 33.8 0-15.4 .1 30.6 .1 2 0 3.8 .1-18.1 0 31.5 .1-11.6 .1-33.8 0 26.2 0 15 .1-9.5 .1-8.7 0-12.5 .1 5.2 .1 15.7 0 30.1 0 2.5 .1-6.5 0-37.4 .1-37.4 0 23.8 .1 33.3 .1-18.4 0-16.1 .1-6.9 .1 16.8 0-10.6 .1 23.9 0-23.2 .1 3.6 0 23 .1-4.6 .1 15.8 0-32 .1 49.8 0-10.9 .1-20.3 0-24.8 .1-8.2 .1-29.8 0-14.1 .1-31.1 0-14.3 .1 35.8 0 3.8 .1-4.2 0 9.5 .1-31.8 .1 21.1 0-.7 .1 2.8 .1 7 0 6.8 0-9.4 .1 11.2 0 7.4 .1 3.2 .1 28.1 19 10.2 .1 11.5 0 18.7 .1-20 .1-2 0 26 0 5.2 .1 8.8 0-5.3 .1 10.3 0 .4 .1 1.4 .1 3.6 0-10.6 0 2.3 .1-2.9 .1 2.9 0 5 .1-10.9 0-27.7 .1-14.5 0 3.6 .1-20.8 0 23.4 .1-11.4 0-3.3 .1-10.3 .1 17.3 0-4.3 0-2.3 .1-21.1 0-18.7 .1 5.7 .1 6.2 0 11.4 .1 21.3 0-9.6 .1-16.6 0 9.7 .1 14.5 0-.8 .1-6.7 0-13.3 .1 6.4 0-.2 .1 12.2 0 14.9 .1 5.6 0 3.1 .1-3.4 .1-2.6 0-35 .1 51.7 0 8.7 0-38.8 .1 18.4 .1 13 0 25.2 .1-23.2 0-19.2 0 33.2 .1-13.8 0-12.1 .1-13.3 .1 17.3 0 4.7 .1 5.3 0-13 .1 4.8 0-9.3 .1-10 0-29.1 .1-.3 0 6.7 .1 14.4 .1-15.8 0 22.3 .1-23.2 0 10.7 0-18.7 .1 6.5 .1 1.5 0 31.3 .1 26.2 0-7.9 .1 .1 0 13.6 .1 8.8 0 4.9 .1-3.9 0-2.2 .1 5.3 .1 2 0 .9 0-4.9 .1 9.2 .1 5.9 0-13.5 .1 8.4 0-28.4 .1 26.7 0 0 0 8.8 .1-14.6 0-11.3 .1-5.4 .1-15.9 0-29.5 .1-9.7 0 22.3 .1 10.3 0-44.2 .1-10.2 0-8.9 .1-7.7 0-5.3 .1-2.2 0 11.8 .1 16.1 .1 21 0 31.7 .1 11.3 0 17.4 0-5.9 .1 .6 0-25.9 .1 15.1 .1 .3 0 10.1 .1-6 0-9.7 0-14.2 .1-12.1 .1-32.9 0-24.5 0 8 .1 12.2 .1 24 0-3.2 .1-9.4 0-6.8 .1-25 0 5.1 .1 3.8 0-2.1 .1-1.5 .1-5.5 0 4.4 .1 .4 0 34.1 .1 27.5 0-8.8 .1-29.3 0-.1 .1 .4 0 13.2 .1-3.6 0-1.5 .1 5.9 0 16.1 .1-17 0-5 .1 37.7 0-3 .1 8 0 1.3 .1 15.5 0-13.5 .1 16.2 .1 9 0-6.2 .1 20.1 0 10.4 .1-15.8 0-6.3 .1-.1 0 1.9 .1-.5 0 3.5 .1-9.5 0-6.9 .1-28.8 0-13.4 .1 34.4 0 .5 .1 11.7 0 12.7 .1 4.2 0-3.5 .1-20.5 0-3.8 .1-7.1 0 19.7 .1 11.8 .1-3.1 0-27.3 0 1 .1 9.8 0-10.5 .1-34.8 .1 40.6 0-32.3 0-7.2 .1 14.7 0 20.9 .1 11.2 .1-24.4 0-10.7 .1-10.9 0 17.8 .1 7.3 0-28.8 .1-2 .1 8 0 19.8 0 18 .1-17.4 0 13.7 .1-9 .1-10.2 0 .4 0 12.8 .1-15.6 .1 21 0 22 .1-3.5 0-19.5 .1-16.9 0-26.7 .1-15.1 0 17.1 .1 28.5 0-.5 .1-59.6 0 0 .1 16.4 0-2 .1-20.5 0 2.7 .1 3.1 0 3.2 .1-3.7 .1-7.4 0-25 .1 21.4 0-2.4 .1 13.1 0-4.9 .1-3.5 0-7.6 .1 12.4 0 11.6 .1 12.7 .1 30.6 0 6 0-36.2 .1 5.2 .1-15 0 12.4 0 23.5 .1 21.3 .1 29.7 0 4.3 0 5.6 .1-8.2 0-2.1 .1 .8 0-11.5 .1-9.8 .1 2 0-28 .1 .3 0 23.3 .1-19.6 0-19.6 .1-18.8 0 7.4 .1-23.8 0-2.3 .1-4 0-2.6 .1-21.6 .1-1 0 .5 0 5.6 .1 17.3 .1 4.8 0-24.4 0-3.3 .1 10 0 27.7 .1 10 .1 39.8 0-7.1 .1-28.3 0-.7 .1-9.5 0-2 .1 10.8 0 13.6 .1 19.8 0-13.8 .1-.4 0 35.9 .1 14.7 .1-10.6 0 13.2 0 4.9 .1-17.2 .1-8.8 0 4.2 .1-35.5 0 4.7 0 7.2 .1-6.6 .1-30.8 0 3 .1 20.5 0 4.3 .1 31.7 0 1.8 .1-44.5 0 30.8 .1 14.8 0-30.1 .1 9.8 0-20.9 .1-13.3 0 27.3 .1-8.3 0-11.8 .1 9 0 40 .1-14.6 .1-45.5 0-3.7 .1 38.7 0-11.1 .1 20.3 0 16.5 .1 9.5 0-1 .1-20.4 0-16.9 .1 23.4 0-5.5 .1-16.1 0 17.1 .1-20.8 .1-28.5 0 28.6 .1 20.5 0 17 0-16.3 .1-33.3 0-28.4 .1-7.5 .1 29.9 0 32.2 .1-2.2 0 10.1 .1 10.2 0-27.3 .1 34 0 14.7 .1 10 0 1.1 .1-11.6 0 7 .1 9.9 0-10.5 .1-7.7 0 15.7 .1-1.4 0-16.8 .1-12.1 0-20 .1-8.4 .1 3.3 0 15.5 0-29.1 .1 21.3 .1-17.5 0 29.3 .1-10.3 0 28.5 .1-1.7 0 3.1 .1-14.6 0-6 .1 10.2 0 4.1 .1-8.9 0 17.5 .1-2 0 9.9 .1-5.6 0-6.8 .1-12.4 .1-17.9 0 .6 0 3.8 .1-16.3 .1-3.4 0-13.5 .1 15.7 0 18.7 .1-7.1 0 .9 .1 2 0-10.7 .1-8.6 0-.2 .1 22.2 0-21.3 .1 12.1 .1-7.2 0 37.5 0-27.1 .1-28.2 0-14.1 .1-2.9 .1 15.3 0-19 .1-15.6 0 16.6 .1-4.1 0-5.3 0 9 .1 3.2 .1-19 0-5.5 0 5.8 .1 11 .1 9.5 0-16.3 .1 6.7 0-3.1 .1 9.7 .1-18 0 23.9 0-17.2 .1 4.7 0 19.8 .1 15.3 0-11.6 .1 2.2 .1-32.9 0 1.2 .1 25.2 0-26.9 .1-25.1 0 6.2 .1 8.8 0 14.4 .1-3 0 14.9 .1 36.3 0 31.5 .1 1 0-4.9 .1-37 0-29.2 .1-20.5 0 9.7 .1 3.7 0 61.7 .1 4.4 .1 1.5 0-6.2 .1-20.2 0-41.9 0 12.8 .1 2.2 .1-8.1 0 11.9 .1 16 0 1 .1-22.3 0-19.2 .1-5.9 0-3.6 .1 22.6 0 25.7 .1 26.6 0 11.7 .1-21.4 .1 14.4 0-32.8 0 12.9 .1-28.1 0 14.3 .1 10.4 0-11.8 .1 2.4 .1 23.4 0-8.9 0-2.9 .1 19.6 0-9.2 .1 18.5 .1 10.6 0-4.4 0 10.2 .1 1.5 .1-3.3 .1-3.5 0-17.7 0-43.1 .1-5.8 0-3.6 .1-17.3 0 32.9 .1-21.9 0 4.3 .1-.4 .1-17.4 0-5.5 0 26.2 .1 13.9 0 6 .1-21.4 0 24.6 .1 10.7 .1 28.5 0 13.2 .1-3.6 0-7.6 .1-10.5 .1-2.5 0-21.1 0 19 .1-18.4 .1 26.9 0-20.8 .1-25.6 0 5.7 0 12.3 .1 5.5 0-32.8 .1 19 0 9.8 .1 3.4 .1-22.2 0 19.2 .1 5.3 0-21.2 0-28.5 .1-1.2 .1-12.5 0 9.9 .1 3.7 0 51.8 .1-28.8 0-30.2 .1-13.8 0 4.5 .1-.7 0-3.1 .1-17.3 .1 8.3 0 14.6 0-13.6 .1 14.9 0 3.5 .1-8.5 .1 6.8 0-8.1 .1 9.8 0 10.7 .1-3.7 0 14.2 .1-30.6 0-6.4 .1 7.3 0-.3 .1 12.8 0-3.4 .1-3 .1 13.7 0-19 0-6.5 .1 7.7 0 11.9 .1-15.1 .1-1.7 0 15.1 0 3.7 .1-11.6 .1-.8 0-1 0-8.1 .1 4.1 .1 12.9 0 2.8 .1-6.9 0 5.9 .1-.7 0 17.3 .1 6.5 .1 28.5 0-27.2 0 13.4 .1 17.5 .1 17 0-12.9 0-23.9 .1 .1 0 2.5 .1-10.5 0 14.9 .1-7.5 .1 16.3 0-19.6 .1 15.9 0-22.1 .1 14.6 0 3.1 .1 17.7 0 13 .1-16 0 10.4 .1-15.7 0-19 .1-16.1 0-24.8 .1 13.5 0 .2 .1 6.4 .1 0 0 29.9 .1 .8 0-24.1 0-1.6 .1-29.1 .1-1.3 0 7.8 .1-21.1 0-13.8 .1 1.3 0 24.8 .1 19.7 0 19.4 .1-32 0 22.3 .1 23.9 0 6.1 .1 9 0 .2 .1-2.4 0-14.5 .1-13 0 22.3 .1 12.3 0-35.6 .1-14.8 0-1.2 .1 13.2 0-1.3 .1-19.2 0-11.2 .1-7.1 .1 4.4 0-2.7 .1 24 0-6.8 .1-4.4 0-16.1 .1 9.5 0 14.2 .1 31.5 0 9.3 .1 1.5 0 24.3 .1 3 .1 19.7 0 1 .1 1 0 17.6 0-2.7 .1-7.9 .1-2.1 0 5.3 0-3.9 .1-23.5 .1-42.4 0-11 .1-8.3 0-3.3 .1 43.8 0-1.2 .1-20 0 2.7 .1 16.3 0 5 .1 7.1 0-13 .1-10.8 0 11.4 .1 17.7 0-30.9 .1 31.8 .1 9.2 0-16.4 .1 3.2 0 5.6 0 5.5 .1 10.1 .1-13.9 0 19.1 .1-13.6 0 6.7 0-12.9 .1 7.2 .1-10.5 0 7.7 .1 4.5 0 15.9 .1 2.9 .1-8 0-2.9 0 3 .1-6.5 .1-15.8 0-16.5 0 5.7 .1-14.8 .1 18.8 0-1.8 0 9.3 .1-24.7 .1 36.2 0 4.6 .1 5.7 0 2.4 .1-15.6 0-14.7 .1-5.1 0 4.7 .1-18.3 0 5.3 .1-20.7 0-12.9 .1-27.2 0 15.1 .1 23.2 .1 40.9 0 5.6 .1-44.1 0-5.2 .1-11.1 0 47.3 0-4.7 .1 23.3 .1-19.6 0-25.7 .1-31.6 0-5.8 .1 5.5 0-21.4 .1 5.6 0 30.7 .1 17.7 0 24.1 .1-15.1 0-14.3 .1-9.8 0 16.1 .1 12.3 0-15.5 .1-2.8 .1 24.1 0 19.8 .1-3.7 0-11.2 .1-12.6 0-18.4 .1 38.1 0 23.2 .1-6.8 0 3.3 0 4.1 .1-5.7 .1-6.4 .1-12.6 0-7.8 0-10.7 .1-8.3 .1 7.4 0-41 .1 26.2 0-12.5 0-1.6 .1 17.2 0-28.9 .1 30.5 .1 1.4 0 13.1 0-23.4 .1-21.6 .1 1.3 0-16.3 0-8.3 .1 13.7 .1-4.2 1-64.5 .1 4.2 0 2.1 .2-2.3 0 3.2 .1 3.6 0-2.9 .1-8.8 .1-3 0-2.3 .1 .1 .1 4.6 0 1.9 .1-4 .1 .6 0 12.4 .1-1.8 .1-.8 0 1.1 .1 1.2 .1 .5 0-3.2 .1 4.7 .1 .7 0-.3 .1-.9 .1-1.2 0 1.3 .1-4.1 .1-1 28.6 10.2 0 0 .1 0 0-.6 .1-2 .2 2 0 0 .1-.7 .1-2 0 2.6 .1 .7 .1 0 .1 0 .1 0 .1 0 .1 0 .1-1.3 0 1.3 .1-1 .1 1 .1 0 0-.6 .1 .6 .1 0 .1-6.1 17.5 81.8 .1 20.4 .1 8.9 0-29.7 .1 20.8 0-16.6 .1-.3 0-26.7 0-3.2 .1 10.9 .1-33.3 0 22.4 .1 7.9 0-8.9 .1-1.9 .1-45.2 0 40.6 .1-20.9 0 27.9 0 11 .1 10.5 .1 24.4 0-.3 .1-8.8 0 22.9 .1 4.1 .1 27.9 0 8.9 .1-24.3 0 2 .1 21.9 0-21.6 .1 17.3 0-32.1 .1 27.6 0-4.8 .1-11 .1 24.6 0-7.6 .1 13.4 0 8.9 .1 14.8 0-32.9 .1-6.7 0-41.9 .1-15.4 0 5.7 .1-6.1 .1-30.6 0-1.4 .1 39.2 .1-14.1 0 25.3 0 22.2 .1 14.2 .1-37.5 0-25.5 .1 2.6 0-12.6 .1 24.1 0 27.6 .1 7.1 0 20.6 .1-6.1 0 9.5 .1-8.5 .1-33.9 0-14.5 .1-5.9 0 3.6 .1 13.2 0 17.6 .1 7.8 .1-56.2 0 4.3 .1-6.6 0-13 .1 18.4 0-8.7 .1-.6 0-26.4 .1 8.5 0-39.6 .1-14.2 .1 56.2 0 17.6 .1 13.8 0-29.6 .1 8 0-15.2 .1 30.9 0-11.5 .1 16.6 0-15.5 .1 18.3 .1 7 0 19.1 .1 18.7 0 10.5 .1 29.5 0 13 .1-6 0-12.4 .1 11 .1-29.6 0-1.5 0 1.8 .1-3.5 .1 1.4 0 12.2 .1 .8 .1-8.7 0 10.7 0 16 .1-18 .1-29.5 0-4.7 .1-29.9 .1-21.1 0-33.1 0 7.8 .1-10.8 0-32 .1 45.8 .1-3 0 38.4 .1-35.4 .1-18.4 0-15.8 0 34.5 .1 22.7 0-.6 .1 16.6 .1 27 0-9.4 .1-12.8 0-25.5 .1 5.5 0-4.1 .1 19.6 0 1.2 .1 10.2 .1-21.7 0 22.2 .1-22.7 0 20.6 .1 16.2 0-35 .1-20.4 0-8.6 .1-1.5 0 3 .1-2.2 .1 3.3 0 3.9 .1 4 0 7.4 .1 31.9 0-10.4 .1-6.4 0-1 .1-7 .1 31 0-9.4 .1 6.8 0 23.3 .1-9.8 0 8.1 .1-12 .1-24 0 25.2 .1-21.2 0-18.9 .1 29.9 0-6.6 0-29.5 .1 20.9 .1-15.1 0 16.8 .1 50.7 0 6.9 .1-.7 .1 8.4 0-7.2 .1-26.7 0 24.3 .1 22 .1-17.3 0-1.3 .1-10.7 0-14.1 .1-9.6 0 9.6 .1-11.4 0-14.1 0 26.1 .1 23.3 .1 4.9 0-15.9 .1-3.4 .1 4 0 2.4 .1-18.7 0-19.1 .1 28 0 19.1 .1 9.3 0-12.1 .1 4 0 12.1 .1 1.3 0 7.7 .1 4.2 .1 6.5 0-2.8 0-3.9 .1-12.5 .1-12.3 .1 7.6 0-10.2 .1-10.9 0 13 .1-2.1 0 17.9 .1-17.6 0-.4 .1 2.7 0-5.9 .1 24.6 0 5 .1-13.6 .1 10.9 0-23.6 0 21.2 .1-25.5 .1-4.2 0 11.5 .1-10.1 0-26.7 .1 8.1 0 15.9 .1 39.2 .1 3.7 0 2.6 0 .3 .1-16.7 .1 11.4 .1 3.7 0-1.9 0-5.5 .1 8.9 .1-3.2 0 1.9 .1-4 0-5.2 .1 1.3 0-6.4 .1 6.7 .1-17.1 0 4.9 0-22.2 .1-3 .1-32.5 0-9 .1 19.4 0-21.9 .1 7.2 .1-8.6 0 9.7 0-4.4 .1-20.9 0 18.7 .1-10.5 .1 16.8 0 13.9 .1 30.3 0-21.6 .1 11.2 .1-2.6 0-6.3 .1 16 0-21.5 .1-21.4 0 4.6 .1-24.5 0 33.3 .1-14.5 0 10.7 .1 8.3 .1 2.9 0 .8 .1-14.1 0 15.2 .1 16.3 0-1.2 .1 13.9 .1 17.3 0 4.4 0 8.1 .1 3 0-1 .1-2.2 .1-6.2 0-16.1 .1-31.1 0-24.4 .1 .9 0 20.1 .1-17.1 .1 8.1 0-2.1 .1 15.7 0-36 .1-37.8 0 11.4 .1-4.5 0-3 .1-49.5 .1 37.2 0-30.9 .1-7.8 0 37.3 .1 16.9 0-16.6 .1-11 0-29.8 .1 10.4 .1-29.2 0-2.6 0 1.1 .1 4.9 .1-4.6 0 13.8 .1 57.7 .1-8.4 0 1.4 0-34.8 .1-14.6 0 44.3 .1 2.2 .1 8.2 0 3.5 .1 25.7 0 40.4 .1 8.7 0-3.9 .1-23.4 .1 9 0-2.1 .1 27.4 0-3.1 .1 5.9 0-9 .1-12.4 .1-15.9 0-21.7 0-13.1 .1 57.8 0 8.9 .1 17.2 .1-5.6 0 10.5 .1 22.4 0-13.2 .1-29.9 0 5.5 .1-34.4 .1 6 0-31.4 .1 12.4 0-10.3 .1 26.7 0 18.1 .1-16.4 0 2.8 .1 9.6 0-21.5 .1 13.6 .1 4.7 0-26.8 .1-24.6 0 3 .1-12.2 0 18.1 .1-13.3 .1-5.5 0-4.4 0 26.5 .1 20.5 .1-34.3 0-7.3 .1-11.4 0-2.8 .1 33.3 .1-13.2 0-11.1 .1 33.7 0 19.5 0-25.6 .1 16.7 .1-14.2 0-22.1 .1 .3 0-2.5 .1-5.3 .1-6.9 0-11.7 0 6.7 .1 15.4 .1 8.7 0-16.4 .1-40.1 0-27 .1 10.4 .1 61.5 0-12.3 .1 42.5 0 0 .1-3.4 0-9.2 0 20.8 .1 2.2 .1 .5 .1 31.3 0 10.7 0-21.9 .1 19.9 .1-12.9 0-4.7 .1 23.2 0-25.5 .1-10.6 0 21.9 .1-41.7 0 10.7 .1-18.5 .1 14.6 0-5.7 .1 42.5 0-8.2 .1-12.9 0 9.4 .1-12.3 0 28.9 .1-14.4 .1 7 0-.9 .1 6.5 0-22.9 .1 7.8 0 9.3 .1-54.9 0 17.8 .1-19.1 .1-3.7 0-10.4 .1-15.7 0 4.8 .1 17.7 0-5.9 .1 51.2 .1 13.3 0 .2 .1 9.7 0 11 0-39.1 .1 25.7 0 9.6 .1-7.2 .1-55.3 0 7.9 .1-.5 0 5.8 .1-16.2 0-3.8 .1-19.4 0 32.1 .1 32.5 0-11.8 .1-6.8 .1-43.2 0 23.7 .1-23.1 0-3.3 .1-38.2 0 29.2 .1 1.6 .1 26.4 0 17 .1-29.1 0 23.4 .1-9.9 0-10.5 .1 8.8 .1-4.2 0 19.3 .1 38.8 0 8.6 .1 15.2 0-22.9 .1 16 0-6.6 .1-34.2 0-40.1 .1 42.9 .1 20.9 0 5.3 .1-27.6 0 4.3 .1 11.7 0-21.6 .1 33.6 0 14.6 .1-8.9 0 6.9 .1 4.6 .1 .2 0-3.6 0-16.9 .1 14.9 .1 18.7 0-15.6 .1 21.7 0-12.2 .1-20.8 .1-6.9 0-13.4 0 11.9 .1-11.5 .1-17.9 0-16.2 .1-14.5 0 3.4 .1 30.9 0-28 .1 1.8 0-3.5 .1-17.5 .1-7.9 0 6.4 .1-2.8 0 1.8 .1-4 0 .7 .1 13.2 .1-3.2 0-18.7 .1-10.9 0-20.9 .1-19.3 0-5.3 .1 .2 .1 37.7 0 26.1 0 8.1 .1 .6 .1-2.9 0-.5 .1 21.7 0-28.6 .1-13.8 0 21.3 .1 3.8 0-2.2 .1-.7 .1 22.8 0 13.7 .1 21.6 0 2.1 .1-10.3 0-7.2 .1-8.6 0 38.4 .1-10.6 0 19.2 .1-2.4 .1 12.5 0 13.6 .1-7.8 0-12.9 .1-16.5 0 19.7 .1 16.4 .1 2.8 0-20.1 .1 13 0 17.2 .1 9.9 0-4 .1-34.3 .1 7.6 0-15.1 .1-3.4 0-45.3 .1 8.8 0 10.5 .1-31.5 0-10.7 .1-60.8 0 42.8 .1 12.4 0 13.2 .1 .8 0-24.2 .1-43.5 .1 28.6 0 31.8 .1 8.6 0 27.7 .1 30.1 0 3.3 .1 .9 0 15.8 .1 10.2 0-22.1 .1-39.6 .1-22.8 0-16.8 .1-18.1 0 14.8 .1-13.1 .1 3.2 0-8.5 0 15.6 .1 2.6 .1 14.8 0-.5 .1 47.8 0-19.4 .1 4 0 14.9 .1-35 0-20.9 .1-10.6 .1 23 0 1.5 .1 9.8 0 .9 .1 11.3 0 28.4 .1 6 0 11.4 .1 6.2 .1 14 0 3 .1 3.4 0-46 .1 16.5 0-9.6 .1-2.9 0 2.2 .1-28.7 0 15 .1 6 0-17.5 .1 1.2 .1-8.1 0 2.7 .1-31.3 .1 22.8 0-14.6 0-19.1 .1 12.6 0-21.3 .1-6 .1 17.3 0-14.6 .1-13.3 .1-12.9 0 25.8 .1-2.3 0 29.7 0 19.5 .1-26.8 .1 3.1 0 14.6 .1-15.5 0 25.4 .1 25.9 0-19.2 .1-6.6 .1-3.5 0-28.6 .1 25.6 0-12.1 .1-11.5 0 27.4 .1 11.4 0 18 .1 25.3 .1-2 0 3.9 .1 17.4 0 .1 .1-6.8 0-15.1 .1 4.3 0 4.9 .1 9.3 0 10.3 .1-11.1 0 6 .1 1.6 .1-15.4 0 22.4 0-4.8 .1-9.8 .1 10.2 0-13.4 .1 13.4 .1-1.9 0-23.6 0 2.4 .1-25.1 .1-9.7 0 20.8 .1 14.4 0-2.2 .1-7.3 0-7.6 .1-7.2 .1 12.7 0-9.6 .1-11.8 0-26.4 .1 17 0 12 .1-17.2 0 7.4 .1 23.4 0-15.7 .1 4 .1 19.3 0-31.2 .1 18.3 0 2.7 .1-3 0-21 .1 16.9 0-6.3 .1-27.1 0 5.3 .1-28.1 .1 6.1 0 9.8 .1 14 0-16.2 .1 29.7 0 34 .1-1 0-3.5 .1 7 0-6.5 .1-7.4 .1 .4 0 8.2 .1-2 0-.6 .1-2.9 .1-41.8 0-18.6 0 26.7 .1-11.9 .1-29.4 0-13.5 .1 30.5 0-.6 .1 26.7 0 7.9 .1 18 .1-10.4 0-29.2 .1 28.7 0-31.4 .1 .6 0 32.7 .1-9 0-.7 .1-10.1 0 11.8 .1-6.7 .1-18.7 0 10.4 .1-8.9 0 4.2 .1 16.4 0-36.4 .1 29.7 0-12.4 .1-5.7 0-10.3 .1-30.7 0 7.9 .1 24.8 .1 50.2 0 1 .1 7.2 .1 5.8 0-12.2 .1-50.6 0 14.6 .1 14.6 0 5.3 .1 5.7 0-39.3 .1-10.7 0-17 .1 20.3 0 20.2 .1 4.4 .1 1.9 0-6.3 .1 20.8 0-39.2 .1 1.9 0-6.2 .1 13.7 .1 12.6 0 4.5 .1 15 0 2.3 .1-49.7 0-5.2 .1-.1 0-12.8 .1 28.8 0 19.4 .1 22.6 0-10.1 .1-25 .1 14 0 30.8 .1 2.7 0-17 .1-19.6 .1 7.4 0-.7 .1 17.9 0-6.4 0-44.4 .1-1.1 0 15 .1-.4 .1-29 0-3.8 .1-2 .1 10 0 28.7 .1-24.7 0 1.1 0 49.2 .1 28.6 0-7.5 .1 3.9 .1 6 0-17.2 .1 16.4 .1-13.3 0 3.2 0-16.4 .1 9.3 .1-14.4 0 10.7 .1 8 .1 2.3 0-24.9 .1-18.5 0 17.7 0 10.5 .1-19.3 .1 18.7 0-3.8 .1 21.3 .1 5.9 0-10.4 .1 11 0-5.8 .1-4.3 0 16 .1-25.1 0-15.5 .1-28.2 0 29.2 .1-39.2 0-14.4 .1 11.4 .1 19.4 0-3 0-16 .1 29.3 .1 41.1 0-6.5 .1-21.6 0-52.5 .1 16.6 .1-3.6 0 7.5 .1 39.8 0-17.6 0-27.6 .1-22.7 .1 .9 .1 3.5 0 4.4 0 18.3 .1 30.7 .1 13.7 0 4.3 .1 2 0 16.6 .1-.4 0 7.8 .1-14.6 0 7.5 .1-38.5 .1-25.8 0 21.2 0 24.6 .1 6.5 .1-5.2 0-25.9 .1-19.9 0 27.6 .1 13.2 .1-18.6 0 5.1 0-27.7 .1-21.6 .1 7.3 0 25.5 .1-15.6 0 5.2 .1 46.6 .1-17.3 0-9.9 .1 22.4 0 15.7 .1-3.7 0-3.2 .1 9.3 0-2.2 .1-.6 0 16.8 .1-13.9 .1-28.8 0-14.4 0-19.5 .1-21.5 0-7.7 .1 10.9 .1 9.1 0-15.6 .1 5.6 .1-48.3 0-19.6 .1 14.7 0-3.8 .1-4.3 0 31.5 .1-1.6 0-25.8 .1 45.3 0 29.1 .1-8.4 .1-5.2 0-1.9 0 6.1 .1 20.1 0-14.1 .1-8.6 .1 24.7 0 3.3 .1 11 0-39.5 .1 34.7 0 8.6 .1 44.5 .1-11.1 0-.1 0 11.2 .1-27.5 .1 20.4 0 3.6 .1 18.7 0-10.5 .1-9.9 0-10.6 .1-1.7 .1 12.1 0 3.2 .1 8.4 0-3.4 .1 12.8 0 6.2 .1-25.9 .1-8.5 0 5.8 0-4.4 .1-14.2 .1-2.2 0-9.9 .1 20.5 .1 3.6 0-30.3 .1 4.6 0 23 .1-50.2 0 27.2 .1 15.2 0-16.3 .1-5.5 0 12.4 .1 1.6 0-38.1 .1-28 0-12.8 .1-43.2 .1 7.1 0 41.2 .1-11.8 0-19.3 .1 2.5 0-15.6 .1 9.6 .1-5.3 0 18.2 0-6.3 .1 34.9 0 9.6 .1-.8 .1-13.5 0-11.8 .1-12.6 0 41.5 .1-16.6 .1 39.4 0-4.2 0 30.3 .1 36.5 .1 .4 0 .1 .1-10.1 0-47.7 .1-18.8 0 5.2 .1 9.8 .1 0 0 56.5 .1-10.7 0 22.8 .1-5.9 0 11.7 .1-11.1 .1-4.5 0-13.1 .1-6.2 0-16 0 6.9 .1-21.9 .1-12.9 0-4.6 .1 2.8 .1-9.6 0 2.9 0 16.4 .1-.9 0-22.6 .1-3.7 0 33.4 .1-1.1 .1 20 .1-8.7 0 1.6 0-5.4 .1 34.6 0-14.1 .1 1.5 0 3.1 .1-27.9 .1-2.2 .1 12.1 0-16.8 .1-10.2 0-16.5 0 2.5 .1 5.9 .1-15.2 0-.5 .1 37.7 0 6.9 .1 21.8 0-5.5 .1-6.1 .1-20.6 0 24.9 .1-1.6 0 10.4 .1-10 0-17.2 .1 20.3 0-32.1 .1-18.1 .1 15.7 0 38.6 .1-1.4 0-11.8 .1 2.3 0-18.9 .1-29.8 0-9.8 .1 7.6 0 36 .1 1.6 .1 8.5 0 21.4 .1-5.2 0-7.1 .1-65.7 0-1.3 .1-1.6 .1 .8 0-34.3 .1-20.7 0 29 .1 22.7 0 7.1 .1 12.6 0 6.4 .1 19.8 .1-6.7 0 1.7 0 1.4 .1-10.7 0 4.3 .1 8.6 .1-14.2 0-4.1 .1-3.1 0 .2 .1 12 .1 10.1 0 25.5 0 19.9 .1 28.1 .1 7.3 0 6.1 .1-34 0-9.7 .1-5.3 .1-2.9 0-42.3 0 19 .1-25.3 .1-5 0-14.5 .1-54.1 0-10.6 .1 3.4 0 27.3 .1-5.4 0-22.9 .1-7.8 .1 10.7 0 20.1 .1-8.7 0 84.8 .1 19.9 0 24.9 .1 .8 0 2.5 .1-.4 0 19.9 .1-23.7 0-4.2 .1-50.9 .1 22.2 0-14.9 .1-23.9 0 30.4 .1-10.3 .1 29.7 0 2.7 .1 9.3 0-24.4 .1 30.8 0 4.4 .1-12.1 0-11 .1-16.2 0-32.8 .1 31.2 0-29.7 .1-12.2 0-1.8 .1-.3 .1-9.3 0-44.7 .1 16.7 0 1.7 .1-36.6 .1 11.6 0 20.4 .1 31.2 0 24.7 0 56.2 .1 14 .1-16.8 0-26.1 .1-27.9 .1 3.5 0-14.9 .1 29 0-17.9 0-5.3 .1 1.8 .1-9.2 0 44.6 .1 39.7 .1-19.1 0-22.6 .1-3.8 0 13.6 .1-7.7 0 14.6 .1 31.8 0-19.7 .1-41.7 0 40.6 .1-8 .1 .3 0 0 .1 44.4 0 13 .1 .2 0 1.5 .1-18.3 0-3.3 .1 6.8 0-10.6 .1 12.7 .1-24.6 0-14.9 .1 1.6 0 11.8 0-5.3 .1-16 .1-3.1 0 11.4 .1-3.1 .1-43.3 0 .9 0-25.2 .1 13 .1-26 0 2.6 .1-40.8 0 5.7 .1 30.8 0-20 .1 22.8 .1-14.4 0 24.8 .1 2.6 0-2.2 .1 12.5 .1-22.5 0 9.3 0 53.8 .1 2.2 0 3.2 .1-7.9 0 12.9 .1-13.8 .1-23.6 0-9.1 .1-9 0-19.6 .1 3.7 0-28.9 .1-30.3 0 54.6 .1 6.7 0-1.7 .1 1.6 .1 8.1 0-12.3 .1 6.9 0 18.3 .1-18.6 .1 13.7 0-10.9 0 19.5 .1 11.6 .1 24.7 0 31.6 .1 21.2 0-25.4 .1-14.3 .1 2.9 0-39.3 0 13.1 .1-22.9 .1 1.9 0 7.1 .1-12.8 0-18.8 .1 12.1 0 43.6 .1 .6 .1-4 0 10.8 .1 26.1 0-30.3 .1-19 0 16.1 .1 11.3 0-1.5 .1-46.3 0-22.1 .1 14.3 0 4.2 .1 17.3 0-8.3 .1-10.9 .1-17.2 0-1.2 .1 16.9 0 21.6 .1-28 .1 22 0-1.5 .1 16.6 0-10 .1-3.3 23.8-87.4 .1-7.7 0 4.9 .1 1.1 .1-12.2 .1 1.5 0-5.6 .1 1.4 0 4 .1-3.8 .1 8.6 0-4.9 .1-1 0 2.2 .1 3.4 .1 1 0-3.2 .1-4.6 0 6.5 .1-2.8 0-2.5 .1-5.7 .1 2.8 0 12.1 .1-.5 0-6.4 .1-1.3 .1-.9 0 2.5 .1-3.9 0 2.1 .1 4.8 .1-5.6 13.7 95.1 .1-1.6 0 1.9 .1-9.1 0-33.1 .1 27 0-1.4 .1 20.8 0-7.7 .1 3.4 0 46.8 .1-7.5 0-12 .1-11.2 .1 4.7 0-14.9 .1 10.1 0 37.3 .1-1 0 19.1 .1 9.7 0-9.7 .1-12 0 1.1 0-11.4 .1 5 0 21.7 .1-9.9 .1-2.8 0-6.7 .1 15.9 0 11.2 .1-26.2 0-4.6 .1-49.7 0-8.1 .1-2.6 .1-6.3 0 9.9 0 3.8 .1-14.6 0 7.7 .1 5.4 0 35.9 .1-29.8 .1-18.2 0 7.2 .1 3.7 0-3.6 .1 3 0 9.4 0 2.9 .1-14.3 .1 60.4 0-9.6 .1-49 0-21.5 0 23.4 .1-1.2 .1-2.3 0 3 .1 6.1 0-3.3 .1 23.1 0 6 .1 18.4 0 23.8 .1-24.1 0-9.3 .1-16.9 0-16.6 .1-8.6 0 8.6 .1 6.8 .1 3.2 0-3.5 .1-10.7 0 3 .1-16.2 0 2.9 .1 1.3 0-33.1 .1 2.8 0 32.7 .1 22 0 2.4 0 3.3 .1-16.1 0 13.3 .1-25.6 .1 11.5 0 4.3 .1 6.2 0 20.3 .1-24.1 0 13.7 .1 4.4 0 7.1 .1-4.5 0 22 .1-18 0 4.3 .1 5.9 .1-3.6 0 1.1 0-35.8 .1-9.9 0-6.5 .1 .9 .1-10.5 0-39.5 .1 41.5 0 16.2 .1-9.2 0-19.4 .1 13.1 0 7.4 .1 8.6 0-1.9 .1-13.8 0-23.3 0 35.2 .1-8.3 .1-2 0 6.3 .1 8.7"/><path class="sa" marker-mid="url(#ab)" marker-start="url(#ab)" marker-end="url(#ab)" d="m102 146.6 .1 59.1 0-14.7 0-37.4 .1 10.1 .1 5.9 0 19.4 .1-10.2 0 37.8 .1 10.2 0 19.3 .1 .5 0-.4 0 1.9 .1 .3 0-2 .1 .9 0-3.4 .1 2.9 0-3.4 0 .2 .1-7.4 .1 1 0 7.2 0 2.5 .1-3.7 0-17.4 .1 9.7 0-16.8 .1-21.6 0 16.4 .1-34.1 0 22.2 .1 23.8 0-2.6 0-24.8 .1-6.6 .1 35.4 0 .6 .1 12.9 0-1.5 .1-1 0-.3 0-.9 .1 .8 0 4.4 .1 4 0-2.1 .1-9 0-16.8 0-26 .1-50.4 0 3.9 .1-11.4 .1 47.6 0-14.1 0-30 .1 12.4 .1 3.4 0 25.5 0 5.3 .1 45.1 0-18.4 .1 3.7 0-13.3 .1-14 0-41.2 0 18.5 .1-32.9 0 11.3 .1 14.4 0 13.3 .1-34.1 0 22.2 .1-13.2 .1 13 0-5.9 0 53.9 .1-16.3 0-5.8 .1 8.2 0-38 .1-7.7 0-1.1 .1 9.6 0-5.1 .1 49.7 0 37.4 0 6.3 .1-1.8 0 1.8 .1 4.4 0 .7 .1 0 0-.5 .1 .4 0 .1 .1-.3 0-.6 0-5.3 .1-21.6 .1-34.2 0 8.3 .1 5.2 0-19.8 0-5.3 .1 37.8 0-32.6 .1-10.1 0-26.6 .1 54.1 0-10.7 .1 35.1 0 11.9 .1-16.4 0 10.7 0 .9 .1 5.6 0 0 .1 3.7 0 2.5 .1-10.6 0 7.3 .1-15.6 0-35.2 .1-9.9 0-21.4 0-12.1 .1-15.7 .1 20.3 0 25.2 .1-14.7 0 37.6 .1-3.1 0-20.3 .1-23.5 0 13.5 .1-.1 0 9 0 65.8 .1 4.8 0-2.5 .1-18.8 0-12.5 0-19.8 .1-16.4 .1-47.2 0 6.2 .1-11.1 0 46.9 0-4.3 .1 27 0 8.9 .1-21.5 0 6.9 .1-10.9 0-8.5 .1 .9 0-38.3 .1 32.8 0 17 .1-3.1 0 37.2 0-27.9 .1-55.5 .1 8.4 0-10.3 .1 2.8 0-4.2 0 .6 .1-10.3 0 5.1 .1 14.1 0 11 .1 47 0 14.3 .1 7.7 0 2 0 8.8 .1-7.1 0-36.3 .1-27.3 .1-30.6 0 .3 0 5 .1 11.8 0 29.9 .1-10.9 0-37.6 .1-6.2 0 4.9 .1-20 0-3.5 .1-1.2 0 17.8 0 20.8 .1-8.1 0-3.2 .1 4.5 .1 7.6 0 7.4 .1-17.3 0-10.2 0 25.9 .1 2.4 0 27.6 .1 .2 0 7.3 .1 7.4 0-8 0 31.1 .1 16.1 0-5 .1 0 0 19.9 .1-16.3 0 11.5 .1 6.6 0 4.7 .1 1.5 0-2.4 .1 1.1 0-2.4 0 1.5 .1-.8 .1 1.5 0-4.1 0-.9 .1 1.2 0 1 .1 2 0 2.4 .1-2.6 0-1.1 .1-19.4 0 29.1 .1-30.2 .1-11.9 0 2.7 .1-79.6 0-5.4 .1 33.4 0 8.3 .1 7 .1 26.6 0 7.7 .1-45.9 .1-33.6 0 4.1 .1-46.3 0 6.7 .1 45.7 0-6.8 .1 27.3 0-68.2 .1-9.1 .1 1.4 0 9 .1-8.9 0 26.6 .1 .6 .1-3.3 .1 2.3 0 14.9 .1-13.9 0 3 .1-3.6 0 26.2 .1 4.3 .1-26.2 0 2.5 .1-11.1 0 10.9 .1 .3 .1 12.8 0 8.7 .1-16.5 0 6.6 .1 4.9 0 6.7 .1 5.5 .1-5.9 0-31.4 .1-29.5 0 5.9 .1 32.2 .1 22.2 .1-13.4 0 9.5 .1 .5 0-26.6 .1-8 0-25.6 .1 6 0 42.4 .1-.5 0-22 .1 8.8 .1 23.5 .1-17.4 0 18.3 .1 8.7 0-6.6 .1-4.2 .1 44.2 0 57.6 .1-85.7 0 1.7 .1 29.2 .1-42.1 0-11.4 0 12.5 .1 21.2 .1 10.1 .1-36.5 0 4.4 .1 21.2 0 28.2 .1-41.3 .1 46.9 0-18.4 0 49.8 .1-43.7 .1-50.7 0 .6 .1 24.5 0-18.5 .1 5.2 .1-35.1 .1-23.9 0-2.8 0 4.3 .1 32.3 0 13.9 .1 .9 .1 5 .1-21.6 0 34.8 .1-13.8 0-11.1 .1 80.1 0-23 .1 20 .1 1 0-22.9 .1-17.4 .1 13.9 0 47.8 .1 18 0-21.1 .1 26.4 .1-14.6 0-24 .1-28.1 0 17.5 .1-60.7 0-20.9 .1 4.2 .1 16 0-30.7 .1-.1 0-4 .1 15.7 .1 19.6 0 28.4 .1 8.9 0-9.6 .1 12.8 .1 25.5 0 25.1 .1 6.9 0-14 .1-8.3 0-32.2 .1 59 .1-2.7 0 16.8 .1 8.4 .1 6.7 0-4 .1-19.4 0 11.8 .1-73 0-11 .1-23.6 .1-15.8 .1 18.2 0-22 0-3.6 .1-15.1 0 4.1 .1-3.1 .1 18.7 .1 41.6 0-1.3 .1-26.3 0 41.6 .1 9.3 0 19.3 .1 10.9 .1 9.2 0-47.1 .1 4.8 .1-14 0-1.1 .1-7.4 .1 46.7 0-8.1 .1 4.4 0-59.6 .1 23.4 0-42.5 .1 12.4 0-1.4 .1 42.8 0 19.9 .1 27.9 .1 23.7 .1-40.7 0 14.7 0 20 .1 9 .1-13.4 0-46 .1 5.9 .1 13.7 0 19.8 .1-41.1 0-8 .1-2 0-11.2 .1-46.2 0-26.7 .1-31.8 .1-4.7 .1-2.2 0 1.6 .1 10.7 0 89.7 .1-13.2 0 34 .1 22.4 .1-18.1 0-39 .1-17.4 0 19.9 .1 16 0-7.6 .1 41.3 .1 18.3 .1 19.2 0-4.9 .1-40 .1-18.4 0-2.5 .1 38.5 0-31.8 .1-45.4 0-41.7 .1 12.2 0-33.2 .1 21.4 .1-19.3 0 26.9 .1-.9 0 31.6 .1 3.4 .1-6 0 5.2 .1-7.2 0 7.1 .1-10.1 0 5.2 .1 27.5 .1-1.9 0 41.1 .1-34.2 0 43.7 .1-39.6 .1 34.5 0-16.9 .1 28.7 .1-25.1 0-16.1 0 9.2 .1-40.8 .1-29.1 .1-4.4 0 6.5 0 24.9 .1 34.5 .1-31.6 .1-66.3 0 24.4 .1 33 0-9.8 .1 22.6 0 22.3 .1-28.4 .1 25.6 0-9 .1 32.9 0 8.5 .1-11.6 .1 26.7 0 10.8 .1 18.5 0-4.6 .1-7.1 .1 31.3 0 1.4 .1 6.5 0 2.9 .1-14 0-17.2 .1 3.3 .1 21.3 0-14.1 .1-14.1 .1-22.6 0-1 .1 42.2 .1 7.9 0-41.3 0-16.9 .1 32.5 .1 13.3 .1-54.4 0-4.9 .1-12.5 0 20.9 .1 4.3 0 3.8 .1-27.6 .1 28.4 0 4.9 .1 8.4 0 21.8 0-13.6 .1-46.9 0-25 .1 22.8 0 5.8 .1 29.9 0-11.1 .1 24.9 0-17.9 .1 39 0-34.4 .1-13.4 0-58.6 0 28.2 .1-27.5 0-15.7 .1 48.8 0 46.1 .1-31.5 0-22.5 .1-15.1 0 1.1 .1-13.5 0 32 0 37.3 .1-8.4 0 39.2 .1-7.7 0-25.3 .1 15.2 0-6 .1-46 0 18.4 0 28.7 .1 3.5 .1-63.6 0-21.8 0 19.3 .1-8 0 3.6 0 29.7 .1 .5 0 10.1 .1-38.6 0-24.7 .1 67.2 0 13.4 .1-33.2 0-34.3 .1-33.1 0 31.2 0 11.5 .1-23.8 0-29.9 .1-2.4 0 .7 .1 1.1 0 39.8 .1 13.7 0-6.6 0-24.2 .1-14.2 0-2.6 .1 33.5 0 19.5 .1 22.7 0 7.4 0-32 .1 6.8 .1-32.1 0-23.3 .1-9.3 0 8 0-10.2 .1-1.5 0 3.5 .1 15.7 0 16.6 .1-12.9 0-21 .1-.2 0-5.5 .1-.6 0-.2 0 .9 .1-.7 0 .9 .1-1.3 0-.2 0 .7 .1-.2 0 .4 .1 1.9 .1 17.2 0 22.5 0-25.7 .1 8.3 0 36.4 0-1 .1 23.1 .1-25.3 0 16.3 0 48.7 .1-18.3 0 7 .1 27.2 0-58.6 .1 6.7 0 44.4 .1-8.3 0-32.4 0-53.4 .1 33.9 0 24.8 .1 6.6 0-22.9 .1-3.5 0 32.4 0-70.3 .1-15.5 0 18 .1 44.3 0-7.9 .1-20 0-18.1 .1-11.1 0-9.5 0 5 .1-4 .1 29 0-15.4 0 33.8 .1-9.5 0 6 .1-24.1 0 19.8 .1-.3 0-.5 0 72.8 .1 4.4 0 6.2 .1 10.4 0-53.1 .1-7.8 0-22.5 .1 4.5 0 47.2 0 8.7 .1-11.4 0-9.8 .1 1.4 0 8.9 .1-5.1 0 18.9 .1-40.8 0 10.4 .1 27.3 0 1.6 0-33.9 .1 45.8 0 3.4 .1-11.4 0 2.9 .1 23.2 0-3.6 .1-20.6 0-18 .1 9.4 0-44.8 0-19.6 .1-14.9 0 60.3 .1-21.8 0-24.6 .1 2.3 0 9.1 .1-39.5 0 25.7 0 51.4 .1 27.2 0 11.9 .1-49.2 0 31.1 .1-25.6 0-56 0 11.1 .1-23.8 .1-7.9 0-1.8 .1-8.5 0 1.9 0 3 0-4.3 .1 44.6 .1 34.6 0-4.5 .1 11.7 0 35.7 0 12 .1 12.5 40-72.6 .1 18.8 0 8.7 0-3.5 0-21.1 .1-39.5 0-2.2 .1-22.3 0 8.9 0-1.1 0-8.7 .1-4.1 0-1.4 0 13.6 .1-18.5 0-4.9 .1 2.5 0-2.1 0-.3 0 2.1 .1 1.5 0 10.7 .1-5.6 0-4.5 0-3 0-.7 .1 5.5 0 7.5 0-3.1 .1-5.2 0 6.7 0 11.8 .1-18.2 0 .4 0 7.8 .1-6.4 0 11.2 .1-8.4 0-7.2 0 15.7 0-8 .1 7.1 0 14 .1 23 0-21.3 0 19.7 0-12.5 .1 39.5 0-43.4 0 45.3 .1-14.7 0-44 .1-11 0 1.8 0 28.3 .1-12.9 0 12.7 0-22.5 0-10.1 .1 23.1 0 24 .1-22.3 0-5.1 0 45.4 .1-28 0-27.7 0 17.8 0 15.9 .1 17.7 0 24.8 .1-17.8 0 33.6 0 24.4 .1 16.9 0 12.2 0 .2 0-11.6 .1-21.7 0 2.2 .1 2.3 0-8.9 0-6.7 0-4.2 .1 25.9 0 2.1 0-5.3 .1 15.6 0-42.6 0-50 .1 7.4 0-16.4 .1 9.2 0-4.9 0-10.8 0 18.4 .1 43.6 0-13.6 .1 21.9 0-39.8 0-1.6 .1-10 0 31.2 0-12.3 0-11.2 .1 16.8 0 53.6 0-32.6 .1-8.7 0 38.9 0-4.3 .1 14.9 0 9.5 .1-15.1 0 10.2 0-52.7 .1-.4 0 4.4 .1 9.6 .1 1.2 0-6.3 .1 1.9 .1-32.7 0 14.9 0-23.7 .1 8 .1-65.8 .1 58 0 4 .1-2.6 0 5.3 .1-29.5 .1 19.6 0 26.5 .1-58.4 0 14.4 .1-25.7 0 14 .1 28 0-35.4 .1 7.6 0 13.1 .1-.3 .1 10.2 .1-10.1 0-10.3 .1 40.8 0 3.2 .1-42.2 .1 21.4 0 8.8 .1-40.6 .1 2.1 0 12 0-28.6 .1 1 .1 46.1 0-20.9 .1 16.5 .1 14.1 0-10.5 .1 41.5 0 5 .1 2.1 0 2.3 .1-20.3 .1 20.5 0-1.1 .1-4 .1 .1 0 .1 .1-5.6 0-19.5 .1-24.9 .1 12.2 0-62.5 .1-9.7 0 15.8 .1-2.5 0-13.7 .1 8 0 .6 .1-11.3 .1 3.1 0-6.5 .1-3.9 .1-3.1 0-1.9 .1-5.7 0-.6 .1-1.1 .1 15.9 0 16.5 .1 11.7 0 5.6 .1-36 0 1 .1-7.3 .1 17.5 0-4.1 .1 21.6 0-3.3 .1-12.5 .1-29.9 .1 7.3 0-3.4 .1 5.7 0 18.2 .1 15.4 0 18.5 .1-.8 .1 46.3 0 6.1 0-7.8 .1-15.9 .1-40.1 .1-26.9 0 32.9 .1-25.7 .1 35.3 0 4.1 0-.8 .1-25.6 .1-5.8 0-8.5 .1-4.5 .1 12.4 0-6.2 0-13.8 .1 2.4 .1-4.6 0 7.4 .1 10.1 .1 8.7 0-25.8 .1 2.4 0 33.9 .1 27.2 0-26.9 .1-22.3 .1 31.3 0 37 .1 33.2 .1 6.8 0 1.3 .1 1.9 0-1 .1-2.1 0-2.2 .1-12.3 .1-9.6 0 8.3 .1-7.6 .1-3 0 9 .1-1.7 0-36.3 .1 23.8 .1-4.5 0-15.9 .1 25.9 0-8.3 .1 21.5 0-52.9 .1 2.3 0-29.5 .1-22.1 .1 15.1 .1 13.3 0 45.8 0 16.4 .1-41.5 0-31.8 .1 20 .1 7.8 .1 47 0 14.3 .1 8.3 0-14.2 .1-11.6 0-4.8 .1-65.9 .1-4.3 0-15.2 .1 3.3 .1-22.6 0 20.8 0 7.1 .2 57.7 0-27.8 .1 2.1 0 43.3 .1 12.8 0 8 .1-6.2 0-17.2 .1 13.4 .1 11.4 0 1.8 .1 4.1 0-6.9 .1-6.7 0 5.5 .1-14 .1-16.4 0-11.6 .1-5.6 0 13.2 .1-47.7 .1 17.1 0 37.4 .1-49.4 .1 8.6 0 49 .1-10.7 0 27.4 .1-14.3 .1 11.8 0-24.9 .1 27.4 0-5.2 .1-9.7 .1 23.7 0 4.8 0 2.6 .1 3.8 .1-4.1 0-22.6 .1 9.2 .1 .8 .1 14.8 0-.3 .1 1.5 0-1.1 .1 2.5 0-5 .1-30.3 .1 11.3 0 3.5 .1-40.3 0 4.2 .1 22.2 0 17.2 .1-8.5 .1-24.8 0 17.5 .1-37.3 0 28.6 .1-24.2 .1 27.1 0 11.3 .1 19.5 .1-26.9 0 1.8 0-11.2 .1-30 .1 36.8 0 27.3 .1 1.3 .1 6 0-.9 .1-9.7 0-31 .1 29 .1-9.9 0-25.1 .1-13 0-40.6 .1 1.8 .1-8.4 0-9.9 .1 11.7 0-12.3 .1-10.2 0-5.8 .1 9.5 .1-6.4 0 43.2 .1 2.6 0 18.4 .1-6.4 .1-18.4 0-19.1 .1 8.9 .1 12.7 0 7.9 .1 20.6 0 41.3 .1-34.1 .1 1.4 0-46.1 .1 21.9 0-29.6 .1-10.1 0 30.4 .1 1.8 0 6.2 .1 6.7 .1-14.6 0-10.6 .1 43.6 .1-33.5 0 33 .1-46.5 0-30.2 .1-8.8 .1-1.9 0 21.9 .1 22.6 .1-18.1 0 9.8 0 18.1 .1 6.2 .1 7 0-18 .1 38.8 .1 4.4 0-45.6 .1 20.8 .1 27.9 0-27.1 0-43.3 .1 12.4 .1 3.9 0-14.8 .1-5.8 0 39.1 .1-34.1 .1 10.2 0 60 .1-26.2 0 11.7 .1-19.3 .1 8 0-35.7 .1 15.1 0 6.8 .1 8.7 0-8.7 .1 5.1 .1-17.8 0-20.5 .1 27.9 .1 .7 0 9.2 .1 22.4 .1-2.7 0-22.6 .1 30.2 0 20.4 .1 0 .1-2.6 0 3.4 0-26.5 .1-21.9 .1-8.4 .1 1.8 0 17.4 .1 .4 0-4.8 .1-6.1 .1-9.5 0-14.8 0 41.9 .1-23.4 .1 30.5 0-49 .1-10.6 0-5.8 .1 22.8 .1 9.2 0-15.2 .1-2.5 .1 46.8 0 4.8 .1-1.1 0 11.4 .1-37.1 .1-6.3 0-4.2 0-21 .1-11.6 .1 9 0 14 .1 34.8 .1 9.6 0 22.4 .1-9 .1-.8 0 18.7 .1-32.6 0 26.9 .1-18 0 14.7 .1 5.3 .1-37 0 38.6 .1-47.6 0-41.6 .1 17.9 .1-20.6 0-4.8 .1-2 0-7.6 .1 12.7 0 5.7 .1 14.4 .1 10 0-.7 .1-15.7 .1 2.1 0 3.7 .1 18.6 0 25.1 .1-29.7 .1 11.1 0 39.1 .1-3.9 0 11.7 .1-14.1 0 23 .1 1.6 .1 6.7 0 8.7 .1-44.2 0-28.1 .1 17.1 .1-15.7 0-19.9 .1-16.3 0-4.9 .1-1.1 0 3.7 .1 9 .1 20.3 0-33.1 .1 9.5 0 47.7 .1 10.9 .1 22.5 .1-12.4 0 19.7 0-18.2 .1-22.5 .1-.8 0 11.8 .1-12.9 .1 34.8 0 14.3 .1-11.5 0-14.8 .1-3.3 0-6.7 .1 40.2 .1-9.7 0 8.8 .1-7.7 0 8.7 .1-1.1 .1-9.9 0 13.9 .1 5.1 0-6.6 .1-55 .1 36.6 0-16.4 .1-14.8 .1 3.6 0 21.3 .1-17.5 0-.6 .1-51.9 0-8.4 .1-18.7 .1-7 0 17.2 .1 16.7 0-13 .1-21.1 .1-6.4 0 .7 .1 15.8 0 28.5 .1-8.3 .1 8.9 0-13.2 .1-29.5 0 .2 .1 .1 0-.8 .1 18.3 .1-8.9 0-6.7 .1-3.4 0 6.1 .1 16 .1 7.9 .1 14.2 0 15.9 0-25.1 .1 10.3 .1-12.6 0 47.8 .1 34.2 0-40.6 .1-27.4 0 25.2 0 30.2 .1-41.8 0 30.1 .1 23.6 0 37.1 0 13.1 .1 5.5 0 1 .1 3.1 0 2.6 0-.3 .1-.4 0 0 .1-2.1 0 .8 .1-.2 0 1.5 .1-.8 0-20.7 0-3.3 .1-1.8 0-29.5 .1 17.3 0-37.1 .1-.5 0-1.9 0 6.9 .1 47.1 0-11 .1 7.6 0-22.3 0 29.9 .1-12.9 0 8 0-16.4 .1-46.9 0 .2 .1-38.9 0 5.7 .1 4.4 0 42.3 .1-17.5 0 6.7 0-37.7 .1 17.1 0-17.7 .1 31.6 0 8.9 0 .8 .1-10.5 0-37.4 .1 .6 0 4.7 .1-25.8 0 6.7 0 1 .1-13.8 0-3.4 .1 1.3 0-3.5 0 23.7 .1 23.4 0-29.1 .1 1 0-7.4 .1 10.7 0 11 .1-27.1 0-6.3 0 14.1 .1 31.7 0 10.5 .1-14.1 0 34.7 .1-16.2 0 2.2 0 30.7 .1-26.6 0 10.8 .1 15 0-75.9 .1 6.2 0 6.5 0-23.6 .1-5.6 0 14.5 .1 2.5 0 21.3 .1-17.7 0-3.1 0 18.6 .1-21.8 0-6.8 .1-7.6 0-4.5 0 8.1 .1 5.9 0-7.9 .1 3.8 0-5.9 0 17.4 .1 32.4 0-17.3 .1-18.2 0 43.8 .1-7.3 0 12.2 0-5.5 .1 6 0 36.6 .1 0 0 8.6 .1-12.4 0-23.4 0-23 .1 44.4 0 29.4 0-31.5 .1-5.7 0-5 .1-24.7 0-.3 .1-22.1 0 6.4 0 44.5 .1-21.3 0-58.9 .1-4.6 0 36.3 0 62.4 .1-10.9 .1 49.1 0-4.1 0-.1 .1 8.2 0-17.9 0-69.1 .1-19.9 0 1.3 .1 17.8 0 7 .1 .7 0 47 0-23.4 .1 31.5 0-28.7 .1 17 0-26.9 .1 6.1 0-29.6 0 2.9 .1 21.9 0 34 .1 4.7 0-35.7 .1 14.7 0 17.9 .1 17.2 0-13.3 0 31.2 .1-11.4 0-4.7 0 5 .1-3.5 .1 13.6 0-13.7 21 38.1 0 6 .1-.7 0-4.5 .1-25.1 0-18.6 0-6.6 .1-2.8 0 27.9 0-1.1 .1-19.1 0-2.6 0-16 .1 45 0-16.6 0 34.4 .1-6.7 0-2.9 0-15.1 .1-37.2 0-9.5 0 39.2 .1-11 0 4.2 0-26 .1 .7 0-10.7 0 32.7 .1-6.3 0-6 0 3.8 .1 2.5 0 7.4 .1 29.5 0 2.5 0-1.6 .1 .5 0-33.2 0-16.9 0 33 .1-7.3 0-8.8 0 32.9 .1 6.4 0 3.8 0 .8 .1 1.3 0-1.7 .1-11 0 2.8 0 7.9 .1-.9 0 7.1 0 .3 .1-3 0-4.5 0-6.6 .1 5.7 0-16.2 0-16.8 .1 13.3 0-4.6 0-51.7 .1 32.4 0-24.3 .1-43.6 0 7.8 0 11.1 0-12.3 .1-4.8 0-15.1 0-13.5 .1 4.3 0 12.5 .1 63.1 0-29.9 0 39.3 .1 7.1 0 37.7 0-17.3 0-15.1 .1 19.5 0-43.6 0 38.4 .1 5.8 0-38.3 .1-17 0-20 0 22.7 0-54.5 .1 3.3 0 2.2 .1 2.4 0-6.3 0 13 .1-2.2 0 10.2 0 28.8 .1 17 0 28.2 .1-18.9 0 10.1 0 27 0-13.2 .1-21.5 0-34.2 0-25 .1 6.8 0 29 0-43.1 .1-12.7 0 32.8 0 21 .1-31 0-9 .1-28.7 0-6.2 0-31.4 .1 31.6 .1 24 0-22.2 .1-22.9 0 17.8 .1 25.3 0 6.7 .1 18.4 .1 4.3 0 21.5 .1-4 0-14.9 .1-44.6 .1-22.3 .1 3.6 0-12.2 0-6.6 .1-3 .1 2 0-7.1 .1 27 .1 18.1 0 13.3 .1 12.3 0 35 .1 30.7 0 30.3 .1-38.5 .1 .3 0-.4 .1-2.5 0-31.6 .1 47.4 .1-41.8 0 44.3 .1-7.5 0-13.9 .1-55.6 .1 10.9 0-26.4 .1 30.9 0-20.1 .1 13 0 45.2 .1-36.7 .1 24.6 0 6.2 .1 5.8 .1 19.5 0-26.3 .1 30.3 0-36.8 .1 6.2 .1 29.9 0 15.4 .1-24.4 0 15.9 .1-33.6 0 41.3 .1-28.6 .1-10.3 0-23.8 .1 26 .1-3 0 30.5 .1 7.2 0-.4 .1 15 0 .3 .1 2 0-7.7 .1-2.7 .1-28.9 0 7.3 .1 2 .1-.6 0 8.5 .1-15 0-9.1 .1 19.6 0-13.8 .1-57.5 .1 37.2 .1 14.2 0 15.4 .1-11.3 0 28 .1-13.3 .1-5.2 0 3.3 0 5.5 .1-49.8 .1-10.4 0-13.7 .1 7 .1 28.9 0 19.3 .1-21.3 0-50.5 .1-18.1 .1 18.6 0 29.8 0 3.3 .1-30.3 .1-1.5 .1-10.5 0-14.3 .1 29.2 0 2.8 .1-8.4 .1 31.1 0 .7 .1 33.6 0-9.9 .1 21.2 0-6.6 .1 .2 .1-7.2 0-45.2 .1 18.9 .1-10.1 0 38.7 .1 1.1 0 27.2 .1-7.2 0-34.1 .1 5.4 0 10.7 .1-54 .1 10.1 0 12.3 .1 3.7 .1-1.4 0-10.4 .1-14.9 0-16.7 .1-26.7 0-1.7 .1-8.7 .1-19.5 0 39 .1 .2 .1 4.7 0 36.9 .1-4.9 0 18.6 .1 13.8 .1-18.2 0-33.8 .1 3.8 0 30.4 .1 .2 .1-1.1 0-25.9 0 27.3 .1-6.8 .1-33.9 .1-38.3 0 .3 .1 22.2 0 55.2 .1 3.7 0 36.2 .1-11.6 0 10.7 .1-29.3 .1-18.5 0-.9 .1-15.3 .1 44.2 0 2 .1-7 .1 13.8 0 14.7 0-1.3 .1 32.4 .1-13.2 0-19.7 .1 11.6 0 28 .1-.8 .1-5.8 0-2 .1-21.2 0-70.8 .1-15.3 .1-27.1 .1-13.6 0 17.2 .1 17.5 0 1.6 .1 26.1 0-4.2 .1 26.8 .1 28.4 0 10.5 .1-41.8 .1 1.7 0 .3 .1-1.5 0 3.5 .1-.2 0-16.5 .1 12 .1 32.3 0-3.4 .1 7.2 0-11 .1 28.9 .1-1.5 0-5.3 .1-4.1 0-5.9 .1 11.9 .1-30 0-15.8 .1 19.2 0 32.6 .1-9.2 0 23 .1 9.5 .1-18.5 0-9.6 .1-7.1 0-.7 .1-7.3 0-6.5 .1 17.1 .1 6.5 0 2.2 .1-24.7 0-17.2 .1-24.6 .1 1.6 0 9.9 .1 25.1 0-35.5 .1-53.3 .1 13.9 0 36.2 .1 14.9 .1 4.5 0-.3 .1-23.2 0 27.2 .1-32.5 0 21.2 .1-1.3 0-10.3 .1-22.2 .1 19.2 0-11.6 .1-67.8 .1-3.7 0-10 .1 5.2 0 12.2 .1-1.3 .1 2.8 0 21.2 .1 3.6 .1 10.9 0 20.8 0-5.2 .1-7.8 .1 4.9 .1-7.8 0 10.9 .1-15.2 0-8.3 .1-7.2 0 20.6 .1 17.3 .1 29.8 0 14.8 .1-12 0-43 .1-4 .1-10 0 40.6 .1 24.7 0-26.3 .1 33.7 0-.1 .1-10.4 .1 56 0 14.9 .1-19.9 0-16.4 .1-12.3 .1 37.5 0 6.5 .1 7.3 0 1.1 .1-.8 .1-1.4 .1-.4 0-4.5 .1 3.3 0-21.4 .1-4.6 0-26.4 .1-11.2 0-17.4 .1-45.6 .1-27.2 0-17.2 .1 4.9 0 19.9 .1 4.8 .1-24.3 .1 28.8 0-6.9 0 53.5 .1 8.3 .1-64.9 0 50 .1-3.3 .1-38.1 0-7.4 0-5.7 .1 30.5 .1 11.7 0-21.9 .1-22 .1-4.6 0 2.2 .1 24.7 .1 15.9 0-13.4 .1 21.2 0 30.1 .1 12.4 0-6 .1 25.5 0-12.1 .1 7.2 .1 9.7 .1-9.1 0 20.3 0 29 .1-15.7 .1-13.1 0-19.7 .1-2.1 .1-12.6 0 46.9 .1-20.4 0-67.2 .1-27.6 .1 21.2 0 18.6 .1-45.8 0-7 .1-11.3 .1-5.6 0 15.2 .1 22.1 0-5.9 .1-18.7 0 18.5 .1-3.8 .1-22.7 0 18.5 .1-1.7 0-10.8 .1 46.1 .1 21.2 0 26.3 .1 10 0-2.5 .1 29.9 .1 6.4 0 5.7 .1 1.3 .1 4.7 0 1.8 .1-6.1 0 1.4 .1-20.5 0 5 .1 11.9 0-43.3 .1 14.7 .1 9.7 .1 16.7 0-.4 0 6 .1-1.9 .1-30.6 0 17.8 .1-28.9 .1 33.3 0-35.4 .1 4.3 0-21 .1-3.3 .1-16.7 0 42.7 .1-11.5 0-82.7 .1 25.6 .1-15 0 4.4 .1-5.1 0 52.1 .1-6.9 .1-10.5 0 40.8 0 2.2 .1-1.5 .1-64 .1-10.5 0 1 .1 10.6 0 54.3 .1-7.5 0 10.1 .1-.3 .1-14.4 0 6.7 .1 5.5 0-13.2 .1 22.4 .1-4.3 0-20.3 .1-42.5 0 5 .1-23.9 .1 22.2 0 14.7 .1 59.4 .1-54.3 0 1.2 .1-25.7 0-15.4 0 3.4 .1-1.1 .1 31.5 .1-49 0 1.6 .1-15.3 0 8.8 .1 42.2 0-5.5 .1 42.3 .1-37.6 0 18.5 .1-8.5 0-.5 .1-16.2 .1-3.2 0-21.9 .1 2.3 .1-9.3 0-4 .1 27.1 0 53.5 .1 55 0 1.7 .1-26.5 .1-1.7 0 2.3 .1-23.2 0-8.4 .1-16.5 .1 23.3 0-31.7 .1 30.6 .1 31.4 0 7.2 .1-18.1 0-.6 .1-3.3 .1-32.2 0-10.3 .1-1.2 0 34 .1 13.6 0-6.4 .1-11 .1-8.7 0-2.5 0 34 .1-31.9 .1 1.6 0-46 .1 3.7 .1-27.1 0-20.1 .1-7.5 0 6 .1-15.3 .1-4.7 0-.9 .1 1 .1 6.6 0 8.9 .1 9.7 0 15.1 .1 2.5 0 4.8 .1 14.5 .1-.5 0-8.1 .1-11.4 .1 31.5 0-4.2 0 8.2 .2 41.5 0-23.5 0 23.1 .1-43.8 .1 29.4 0-21.2 .1-2.7 0 17.5 .1 19.2 0-3.3 .1-1.2 .1-33.4 .1-20.9 0 32.4 .1-16.1 0-6.7 .1 39.7 .1 10.7 0-8.5 .1 32 0-14.6 .1-4.3 .1-19.6 0-66.6 0 42.2 .1 21.4 .1 14.3 0-15.2 .1-39.6 .1-7.9 0-7.1 .1 4.6 .1 18.8 0-8.1 .1-26.7 0-5.8 .1 12 0 2.5 .1-6.4 0 37.4 .1 1.3 .1 16.9 0-22.1 .1 5.9 0 18.2 .1 12.1 .1-6.8 0 26.1 .1-63.7 0 56.1 .1 1.3 .1 24.9 0-32.8 .1-9.1 .1-18.1 0-32 .1 20.3 0 19.4 .1 12.8 .1 37.3 0-26.1 0-17.6 .1 2.2 .1-43.7 .1 2.1 0 20.5 .1-8.5 0 15.8 .1 11 0 37.9 .1-39.4 .1-4.1 0-35.2 .1 13.5 0 10.1 .1 4.6 .1 5.2 0-18.3 .1-4.6 0 53.3 .1 10 0-8.5 .1-14.7 0 19.1 .2-33.3 0-3.5 .1-31.6 0-17.7 .1 25.5 0 3 .1-30 .1-10.2 0-.2 0 4.1 .1-19.1 .1-1.3 .1 13.6 0 4.9 .1 1.3 .1 2.7 0-.1 .1 13.6 0 10.4 .1 3.5 0 42 .1-4.7 .1-41.4 0 6.4 .1 42.5 0 7.9 .1 3.3 .1 13.5 0-2.2 0 4.8 .1-28.3 .1-62.4 0 14.3 .1 25.7 0-43.4 .1-6.3 .1 26.8 0 21.2 .1-14.2 0 16.4 .1 16.5 .1 24.5 0 25.7 .1 4.5 0-66.7 .1 5.5 .1 29.6 0-50.7 .1 4.8 .1-6 0-27.8 .1 25.4 .1 24.5 0 20.8 0-11.7 .1 26 .1 42.5 0-10.7 .1-5.9 0-20.9 .1-33.8 .1-32.1 0 2.3 .1-3.1 .1 12.4 0 24.8 0-19.3 .2-11.1 0 63.1 .1-3 0 14 .1-30.6 0 12.8 .1 13.4 0-1.1 .1 1.3 0 29.9 .1-14.9 .1-10.7 0-32.9 .1 13.9 .1 1.1 0 5.9 .1-36.2 .1 61.7 0 17.8 0 5.8 .1 .7 .1 0 0 2.1 .1-27 0-22.9 .1-28.1 0 17.8 .1 7.6 .1-16.4 0 2.9 .1 22.4 .1 1.9 0 15.3 .1-3.3 .1-15.8 0-33.4 .1-19.2 0 17.3 .1-33.5 0-3.1 .1 17.4 0 12.4 .1 31.6 .1-2.3 .1-10.3 0 5.1 .1-17.7 0 9.3 .1 28.3 .1-40.4 0-2.5 .1-30.5 0-20.8 .1-4.9 .1 19.4 0-19.2 0-4.1 .1 15.6 .1 61.6 0 11.4 .1 7 .1-.1 0-3.1 .1-20.9 .1 42.4 0-22.9 .1 42.3 0-28.9 .1-.3 0-1 .1-27.5 .1 9.8 0 36.1 .1-20.5 .1 14.9 0-16.8 .1-7.9 0 27.4 .1-21.1 .1-17.3 0 26.4 .1-27.8 0 11.7 .1-1.1 0 4.7 .1 3.1 0 11.3 .1-32.9 .1 38.8 0-16.3 .1-5.7 .1-44.7 0 1.2 .1-21.5 0 32.3 .1-13.5 0-16.2 .1 6.8 .1-22 0 7.2 .1-19.2 0 .6 .1-12 0-13.3 .1 19.4 .1-16.7 0 2 .1 39.6 0 20.1 .1 15 .1 0 0-4.6 .1-5 .1-14.5 0 52.3 .1 3 0 23.7 .1-16.4 0 14.4 .1-29.9 .1 6.7 0-24.9 .1-9.4 0-15.9 .1-3.8 .1-42.1 0 2 .1 32 0 9.1 .1 10.6 .1-2.7 0 14.3 .1 29.6 0 15.7 .1 25.5 .1 4.2 .1 4.8 0-4 0 3.5 .1-6.9 .1-18.7 0 11.8 .1 9.3 .1-38.5 0-21.9 0 19.6 .1-59.3 .1 15.6 0-15 .1 34.1 0-20.5 .1-17.7 .1-3.1 .1 37.1 0-32.5 0-11 .1-1.6 .1 37.1 0 3.4 .1 10.3 0-45.1 .1-6.2 .1-28.1 .1 31.3 0-3.2 0-12.7 .1 3.1 .1-20 0 7.2 .1 8.6 .1 2.1 0 13.5 .1-6.6 0-9.5 .1 1.4 0-4.9 .1 6.5 .1 18.3 0 19.1 .1 9.2 .1 8.2 0 12.2 .1 30.7 0-17.5 .1-18.1 0 14.7 .1-4.4 .1-2.4 0 9.5 .1 20.5 0-8.7 .1 25.6 .1-34.5 0-5 .1 22.7 0 21.4 .1-8.6 0 26.2 .1-.5 .1-16.8 .1-1.7 0 .5 .1 13.8 0 5.8 .1 3.4 .1 .4 0-21.3 .1 16.1 0-9.4 .1-19.1 .1-60.4 0 26.1 .1 26.9 0-18.4 .1-51 .1-21.3 0 21.9 .1 11.7 0 15.9 .1 1.2 .1-50.9 0 21.9 .1 8.7 0-53.9 .1-2.4 0 14.5 .1-16.4 .1-13.9 0-7.2 .1 20.8 0 6.5 .1-7.3 .1-5.2 0 2.4 .1-13.2 .1 14.8 0-3.7 .1 18.1 0-3.6 .1-2.4 .1 7.1 0-10.4 .1 .2 0-10.9 .1-10.2 0 115.2 .1-46.2 0 14.8 .1-17.9 0-7.5 0-16.2 .1 16.5 0 29.7 .1-11 0 19.2 .1 30.6 0-9 0-14.3 .1-12.4 0 60.9 .1 30.3 0-7.6 0-7.4 .1-35.2 0-33.9 .1-12.2 0 7.7 .1-31 0 1.2 0 8.2 .1-15.1 0 30.1 .1 10.2 0 18.3 .1-17.8 0-24.7 .1-9.4 0-14.8 0 22.5 .1-9.6 0 8.2 0 41.3 .1 8.6 .1 25.3 0-9.8 0 1.8 .1-1.1 0-14.4 .1-5.4 0-15 0 7.1 .1-18 0 1.1 .1 24.8 0-23.6 .1 12.3 0-2.8 0-11.6 .1-54.9 0 16.6 0 4.3 .1 24.3 0-37.6 .1-2.4 0 18.3 .1-.7 0 7.7 .1-30.3 0-3.9 .1 20.6 0-21.2 0-3.3 .1 1.1 0 2.3 .1-1.6 0 21.8 0 2 .1-3.3 0-21.4 .1 5.6 0-4.7 .1 4.7 0 34.8 0-16.9 .1 15.7 0 23.4 .1-18.8 0 44 0-43 .1-9.8 0-7.4 .1 37.1 0 11 .1 12.1 0-12.4 .1-40 0-7.7 0-17.2 .1 12.7 0 7.9 .1-9.2 0 39.3 0 12.6 .1 9.3 .1 9.7 0 27.3 0 3.7 .1-13.8 0 2.2 .1-11 0-19.7 .1 17.6 0-40.5 0 4.7 0 37.1 .1-12.9 .1-13.9 0 29 0 4.6 .1 37.8 0-.4 0 1.2 .1-16.8 .1-3.5 0 7.1 0 16.9 .1-3.8 0 6 .1-28.3 0-27.7 0-7.8 .1 6.3 0-53.4 .1 27.9 0-7.8 .1 42.1 0 41.9 .1-45.9 0 27.3 0-82.6 .1-6.8 0-5.8 .1 55.9 0 7.2 0 26.9 .1-13.1 0 47.8 .1 7.6 0-1.9 .1-16.4 0-41 .1-28.1 0 23.4 0-5.4 .1 16.1 0 27.9 .1-5.9 0-14.9 0 32.1 .1-22.9 0-7.9 .1 5 0 5.7 .1-40.1 0-24.4 .1-2.2 0-18.9 0 57.5 .1-16.6 0-9.8 .1 9.4 0 50.9 0 2.1 .1-30.6 0 19.7 .1 2.8 0 23.1 .1-7 0-4.6 0 18.8 .1-10.3 30-26.3 0 21.9 .1-36.4 0-5.1 0-76.9 0 11.2 .1 6.1 0 20 0 8.1 0 6.8 .1-20.2 0 37.2 0-27.9 0-13.8 .1 71.3 0-30.1 0 6.5 0-7 .1-64.7 0-5.5 0 22.8 0-59.1 .1 16.7 0-4.1 0 11.2 0 7.7 .1 7.2 0 33 0 15.2 0 25.8 .1-50.5 0 67 0-35.3 0-72.8 .1 38.3 0 68.6 0-16 0 4.3 .1-11.3 0-27.9 0 39.6 0 22.4 0 12.1 .1 7.1 0 14 0-18.9 .1 9.3 0 15.9 0-44 0 8 .1 5.9 0-4.9 0-2.4 0 32.6 0-25.8 .1 24.6 0-26 0-7.9 .1 22.8 0-10.4 0-15.4 0 20.3 0 14.9 .1-24.1 0-8.6 0-3.4 0 17.4 .1 21.9 0-18.8 0 19.8 0-11 .1-14.9 0 13.9 0 15.5 0-16.3 .1 13.3 0-1.8 0 4.8 .1-.2 0-14.8 0 8.5 0-19.1 0-14.3 .1-.5 0 38 0 2.5 .1-13.7 0-67.8 0 3.9 0 69.2 .1 8.1 0-11.1 0-4.5 0-15.6 0 15.4 .1-40.4 0-36.3 0-7.9 0 88 .1-16.9 0-14.2 0 6.9 0-6.9 .1-24.1 0 52 0 15.5 0 .2 .1-.3 0 .4 0-27.7 0-21.3 .1 .2 0-74.3 0 7.3 .1-13.3 0-5.1 0 24.8 0 26.7 0-36.9 .1-21.7 0-16.2 59.9 11.6 .1-.2 0 26.5 .1 44.6 0 15.7 .1-28.3 0 6.5 .1 71.3 0-13.8 .1-26.8 0 5.7 .1 35.8 0-2.1 .1 1 0-15.4 .1 11.5 0 4.3 .1 .2 0-8 .1-.6 0-8.2 .1-6.8 0-29.9 .1-16.5 0 63.5 .1 2.6 0-1.8 .1-35.6 0-10.8 .1-33.5 0 18.5 .1-37.4 0 3.1 .1 1.5 0 26.1 .1 29.2 0-51.4 .1-31.3 0 62.8 .1-49 0-14.1 .1 50.4 0-18 .1-1.8 0 19.2 .1-35 0-11.6 .1 71.9 0 19.5 .1-21.7 0 9.8 .1 21.2 0-24.4 .1 48.7 0 .1 .1-.1 0-1.6 .1-25.6 0 4.7 .1-67.2 0-34.8 .1 32.5 0 29.4 .1-40 0 27.6 .1 24.4 0-28.8 .1 63.3 0 14.7 .1-11.2 0 4 .1-9.3 64-117.3 .1 37.4 0 35.8 .1 .5 0-34.5 .1-37.5 .1-18 0 29.8 .1-29.3 0 34.7 .1 16.9 .1-18.9 0-12.4 .1 54.3 0-28.7 .1 56.4 0-3.7 .1-4.7 .1 7.2 0-63.1 .1 6.2 .1-30.4 0-32.7 .1 21.2 .1-19.5 0 26.9 .1-2.8 0 12.3 .1 44.1 0-13 .1-25 0 8.6 .1-14.9 0 19.3 .1 86 .1 10.1 .1-12.9 0-13.1 .1 16 0-53.9 .1 68.3 0 4.4 .1-26.7 .1-20.5 0-21.5 .1-53.5 0 18.8 0 7.7 .1 8.7 .1 37.9 0 40.4 .1 17.6 .1 .7 0-2 .1-24.3 0 20.9 .1-.8 .1 6.7 0 3.1 .1-3.6 0 4.5 .1-5.1 .1 2.7 0-17.1 .1 7.9 0-31 .1-23 0 18.2 .1 16.1 .1-60 0 13.4 .1-16.8 .1-48.8 0-2.6 .1-21 0-10.8 .1 4.3 0-1.5 .1 8.3 0-10.6 .1 16.5 .1 19.4 0 27.1 .1 27.6 0 24.7 .1 22 .1-6 0-1.8 .1 14.6 0 9.9 .1 7.9 0-.1 .1-12.1 0-6.9 .1-76.6 0 28.3 .1 16 .1 36.1 0-39.3 .1 2.8 0-10 .1 18.3 .1 41.9 .1 8.1 0-43.1 .1 .5 0-27.9 .1 4.1 0-32.8 .1 19.1 0-20 .1 11 0 56.4 .1 13.6 .1 12 0 .6 .1-105.1 .1-28.8 0-22.8 .1-13.2 0 1.1 .1 9.7 .1 10.7 0-12.2 0 5.2 .1 13.9 .1 12.1 0-.3 .1 48.4 .1 36.4 0 9.8 0-13.4 .1-27.5 .1-43.7 0 40.2 .1 12.6 .1 17.8 0 43.4 .1 6.8 0 1.1 .1-11.8 0-3.8 .1 1.6 .1-8.2 0 4.6 .1-16.8 0 22.7 .1 2.6 0-31.7 .1 10 .1-50.1 0 12.4 .1-10.5 0-30.7 .1 64.3 0-19.1 .1 40.3 .1-28.8 0-5.2 .1 26.3 .1-23.5 0 2.1 .1 18.5 0-63.2 .1 6.7 0 53 .1 15.9 .1 28.7 0 1.9 .1 3.3 0-11.1 .1 4.1 0-18.8 .1-41.1 .1-23.5 0-9.8 .1-20.7 0-27.3 .1 41.9 .1 24.9 0 19.7 .1-35.7 0 39.6 .1 10.7 .1 8.4 0-5.4 .1 .6 0-32.4 .1 5.9 0 9.4 .1-46.8 .1-1 0 5.3 .1 15.3 0-1.1 .1 14.3 0 9.6 .1 5.7 .1-14.6 .1-67.6 0 49.1 .1 3.7 0 14.4 .1-18.2 0 68.7 .1 12.4 0-29.1 .1-23.7 .1-38.4 0 36.2 .1 26 0-23.1 .1-6.5 0-40.5 .1-19.6 .1 35.4 0 28.9 .1-18.7 0 22.3 .1-27.1 0-7.7 .1 .3 .1 68.5 47.5-1.9 0-41.6 .1-50.3 0-1 0 57.2 .1 9.2 0 42.6 0 14.8 0 .6 .1 .6 0-2.6 0 .4 0-11.5 .1 12 0 2.8 0-.7 0-.6 .1 1.2 0-1.5 0 1.2 .1 .3 0-.2 0-14.9 0-13.4 .1-32.9 0-14.9 0-30.7 0 25.7 .1-25.8 0-10.5 0 37.9 0-36.8 .1 51.9 0 60.8 0 1.3 .1-58.1 0 .3 0 28.2 0 28.8 .1-7.9 0 7.9 0-15.1 .1 16.5 0-.1 0-.7 0-14.8 .1 10.2 0 2 0-66.3 0-27.9 .1-7 0 35.3 0-7 .1-3.9 0 37.4 0 8.9 0-24.4 .1 16.4 0 21.3 0-8.9 0-.9 .1 21.1 0-28 0-5.9 0-62.1 .1-40.7 0-3.8 0 14.1 .1-7.7 0-1.9 0 32.7 0-30.5 .1 5 0-2 0 39.2 0-19.5 .1 46.9 0 74.6 0-.1 .1-11.6 0-17 0-12.1 0 38.8 .1-2 0 5.4 0 .5 .1 .1 0-1.6 0 1.3 0-1.9 0 1 .1-3.9 0-123.1 .1 30.7 0 9.7 .1 19.7 .1-14.9 0 14.8 .1-29.9 0-33.4 .1-21 .1 16.5 0 6.4 .1-4.7 .1-9.2 0 7.7 .1 23.2 0 26.7 .1-50.2 0 13.3 .1 6.2 .1 16.5 0-8.7 .1 33.7 0-41.9 .1-33 .1-3.6 0 4.3 .1 14 .1 37.9 0-34.8 .1-.4 0 10.1 .1 4.9 0-2.6 .1 1.9 0 4.5 .1 6.6 .1 7.3 0 23.7 .1 11.7 0 3.1 .1-22 .1-23.5 0-18 .1 47.3 .1 8.4 0 32.7 .1-4.8 0 5.7 .1-2.5 .1 6.3 0-1.1 .1-.4 .1-3.6 0-13.6 .1-2.7 0-16.7 0 17.5 .1 12.2 .1-31.8 0-73.4 .1 14.3 .1 42.1 0-8.9 .1-5.1 0 36.2 .1-27 0-3 .1-15.9 .1-1.7 0 11.3 .1 .4 .1 26.6 0-.4 .1-20.6 0 2.9 .1 21 .1-10.8 0 16.6 .1 5.5 0 7.4 .1-35.6 .1-21.5 0 10.6 .1-12.4 0-5 .1-6.5 .1 20.4 0 20 .1-8.1 0-11.6 .1 14.3 0-17.9 .1-23.5 .1-8.2 0 22.3 .1 14.4 0 4.3 .1-21.2 .1-21.5 0-16.6 .1 38.4 0-9.9 .1 40.1 .1 6 0 5.3 .1-20 0-33.4 .1 49.4 0 5.9 .1 1.7 .1-1 0 0 .1 35.4 .1-5.2 0-14.5 .1 25.2 0-12.1 .1-6.4 0 3.9 .1-20.2 .1-36.5 0-2.3 .1-14.7 0 3.8 .1 19.9 .1-1.1 0-6 .1-.2 0-11.4 .1 10.1 .1-8.4 0-6.7 .1-.8 0-17.4 .1 22.8 0 31.1 .1-28.5 .1-4.6 .1-.8 0-19.8 .1 14.7 0-2.6 .1-7.9 0-3 .1 28.8 0-1.3 .2-19 0 24.3 .1-5.7 0-10.4 .1 23.1 .1-13.6 0 12.8 .1-16.7 0 16.2 0 10.8 .1 12 .1-8.1 0 16 .1 5.1 0 4.4 .1-13.1 .1-30.2 .1 10.2 0-37.9 .1-5.3 0-22.9 .1 11.1 0 30.3 .1 3.5 .1 2.8 0-3.4 .1 8.2 0 0 .1-20.9 .1 11.3 0-5.3 .1 24.8 0 6.6 .1-1 0-30 .1 2.5 .1 27.6 0 4.7 .1-6.9 .1 9.9 0 10.6 0 6.5 .1-.4 .1 3.2 .1 14.9 0-10.8 .1 4.7 0-8.7 .1-13.8 .1 10.4 0 12.3 .1-23.7 0-25.7 .1-10.9 0 6.4 .1 17.6 .1 25.6 0-19.5 .1 9.5 0 18.4 .1-1.7 .1-22.6 0 30.6 .1-8.5 0-34.8 .1 21.3 0-46.1 .1 3.3 .1 43.7 0 23.5 .1-16.5 .1-22.5 0 4.7 .1 13.4 .1 1.5 0 3.3 .1-34.3 0-33.6 .1 30.3 0 19 .1 9.4 .1-20.1 0-24.2 .1 5.3 0-15.7 .1 18.7 .1 36.3 0-31.8 0-10.3 .1 13.5 .1-50.1 .1 9.1 0-22.3 .1 9.6 0 2 .1 23.5 .1 29 0 5.9 .1-6.8 0-28.7 .1-18 0 7.4 .1-9.4 .1-9.9 0 1.3 .1 23.3 0-6.7 .1-7 .1 8.6 0-15.7 .1 6.6 0 11.1 .1-18 .1-2.3 0-10.1 .1-6.5 0 6.1 .1 1 .1-5.1 0 7.3 .1 6.7 .1 31 0-14.4 0 8.9 .1 28.3 .1 24.4 .1 33.9 0 12.2 .1 3.2 0-6.2 .1-21.6 0-.5 .1-49.6 0 6.3 .1-13.5 .1-20.2 0-3.3 .1-10.6 .1-5.1 0 13 .1 36.2 0 2.2 .1-30.2 0-1.1 .1 24.4 0-10.7 .1-45.2 .1-4.2 .1-4.2 0-1.9 .1 8.8 0-14.2 .1-2.4 .1 2 0-.9 .1 .7 0 7.3 .1-.6 .1 15.4 0 1 0 2.1 .1 9.7 .1 17.3 0-17.5 .1-2.9 .1 6.9 0-6.1 .1 14 0 49.4 .1 13.7 0-5.1 .1 16.7 .1-7.7 0 8.9 .1 8.1 0-18 .1 12.2 .1-26.1 0-20 .1-20 .1 23.9 0 39.6 0-22.4 .1 37.3 .1 2.4 0 .3 .1 9.4 .1-6.9 0 7.6 .1-1.5 .1 3.5 0 .2 .1 .1 0 1.4 .1-1.9 .1-1.4 0-2.5 .1-32.5 .1-14.8 0 9.3 0 4.6 .1 11.5 0 6.7 .1-3.7 .1 1.1 .1-8.6 0 23.5 .1-24.2 0 2.6 .1-3.1 0-24.6 .1-29.2 .1-6.2 0-32.6 .1-16.3 .1 12.4 0-3.2 .1-17.5 0 8 .1 20.3 .1 27.1 0 2.6 .1 24.5 0 29.9 .1-1.6 0 7.6 .1 2.1 .1 15.1 0 5 .1 6 0-28.3 .1-32.1 0-15.3 .1 14.9 .1-27.6 0-14.9 .1-12.4 .1-10.6 0 3 .1 12.1 0 54.9 .1-28.1 0 33.1 .1-17.1 .1-2.5 0 28.4 .1 3.2 0-25.9 .1 22.1 0 7 .1-12.2 .1-65.7 0 .9 .1 1.2 .1 5.6 0 23.4 .1 18.6 0-26.6 .1-18.2 0 1 .1 7 .1 44 0 15.1 .1 .4 .1 17.7 0-24.2 .1 14.4 0 38 .1-5.6 0 1.7 .1-24.5 .1-19.7 0-18 .1 18.3 .1-2.1 0 23.9 .1-10.7 .1-8 0-6.7 0-12.9 .1-20.7 .1 15 0 17.9 .1 19.6 0-17.6 .1 2 .1 9.4 0-1.5 .1-5.2 .1 40.5 0 8.1 .1-34.2 0 10.7 .1-6.9 0-6.1 .1-29.4 .1 3 0-6.4 .1 12.3 0-4.8 .1-3.1 .1-13 0-24.1 .1-5.4 0-26.7 .1-1 .1 1.5 0 7.5 .1-11 0-14.2 .1 11.5 0-20.3 .1 5.9 .1-10 0-2 .1 3.5 .1 .8 0-.6 .1 8.5 .1-8.7 0 1.4 .1 2.1 0 26.9 .1 9.5 0-4.7 .1 11.5 .1 39.5 0 14.6 .1-17.1 0 47.3 .1 2.2 .1 10.5 0 17.7 .1 3.2 .1-11.9 0-18.2 0-28 .1-42.4 0 54.1 .1-21 .1 17.4 .1-4.1 0 2.7 .1 20.5 .1-9.2 0 4 0-20.3 .1 58.5 .1-12.5 .1 3 0 20.3 .1-1.4 0-46.7 0 2.5 .1-7.2 .1 23.8 .1 10.1 0-35.5 0-5.7 .1-14.8 .1-55.9 0 3.6 .1 7.3 .1 30.2 0-11.3 .1-18 0 .4 .1-.1 .1-1.7 0-12.2 .1-6.1 0-3 .1-1.9 0-14 .1 13.3 .1-7.6 0 11.5 .1 24.1 0 8.6 .1-27.7 .1-13.8 0 29.3 .1 26.4 0 8.2 .1-24.6 .1 25.1 .1-23.6 0 14.2 0-4.5 .1 5.3 .1 14.2 0-53.6 .1-3.4 .1 16.8 0-9.8 .1 25.1 0-12.2 .1-11.3 .1-2.1 0 85.9 0-8.5 .1-4.8 .1-46.9 .1 22.5 0-.7 .1 26.8 0 6.8 .1-62.4 0 52.5 .1-50.1 0-8 .1 9 .1-25.8 .1 3.5 0 53.6 .1-27.9 0 17.8 .1 2.4 0-35.3 .1-13.6 .1-9.1 0-6.8 .1 7.4 0 14.9 .1-22.6 .1 12.6 0 29.3 .1-18.3 0-9.2 .1-3.2 0-9.5 .1 18.3 .1 11.9 0 14.2 .1 10.8 0-26.3 .1-23.8 .1-6.7 0 8.4 .1 29.7 .1 3.5 0 31 .1-17.4 0-2 .1 7 .1-3.1 0 18.5 .1-33.6 0-19.4 .1-18.1 .1 3.8 0 51 .1 4 0-23.8 .1 50.6 .1-6.3 0-18.7 0 18.5 .1-9.3 .1-1.7 .1-7.4 0-8.2 .1-9.3 0 38 .1 1.1 .1-6.2 0-10.5 0-3.6 .1 .3 .1-13.7 0 17.8 .1 4.8 0-11.3 .1 19.8 .1 14.7 0-18.5 .1-11.3 0-4.5 .1 3.9 .1 20.5 0 33.2 .1 13.5 .1 8.9 0 12.6 .1-.9 .1 .9 0 1.4 0 0 .1 .2 .1-.1 0-.5 .1-1.7 0-1.3 .1 2.1 0 1.2 .1-.5 .1 .4 .1 .3 0 .2 .1 0 .1-.1 0 0 0-2 .1 .9 .1-5.1 0-14.3 .1 1.2 0-48.3 .1-23.8 .1-1.2 0 6.8 .1 14.8 0-16.7 .1-55.6 .1-5.9 0 21.3 .1-9.8 .1 1.1 0 44.7 .1-53.8 0-20.7 .1-13.2 0 13.1 .1 36.7 .1-3.4 0 18.3 .1-22.5 0-9.7 .1 25 .1-5.9 0 24.3 .1 18.5 .1 5.2 0 3.9 .1 31.1 0-21.1 .1 1.3 0 34.8 .1-10.2 0-2.5 .1-26.5 .1 38.1 0-70.9 0-36.3 .1 3.4 0-7.8 0-19.5 .1 8 0 3.5 0-.7 .1 14.8 0 5.6 0-55.1 .1-4.6 0 4.9 0 6 0 28 0 11.7 .1 32 0-11.1 .1 16.1 0-51.6 0-6.1 0 33.4 .1 25.5 0-13.1 0-35.6 0 39.3 .1 42.7 0-54.4 0 1.2 .1 15.2 0 48.9 0-10.6 .1 7.1 0 9.6 0 29.8 0-27 .1-28.3 0 37.1 .1 8.2 0-10.9 0-47.9 0-55 .1 1.2 0-4.1 0-2.4 0 11.7 .1-13.2 0 27.3 0-32.5 .1 13.2 0-16.8 0 21 .1 35.5 0 57.6 0-35.2 0 16.5 .1 58.1 0-36.7 0 24.9 .1-33 0-34.9 0 35.2 0 6.1 .1 3.6 0-50.1 0-6 .1-17.8 0 30.1 0-8.3 .1-16.2 0-25.4 0 32.4 0-5.6 .1 10.5 0-19.4 .1-45.6 0-5 0-2 0-2.6 0-1.5 .1 20.8 0 23.4 .1 26.5 0 29.8 0 1.5 0-29.5 .1 24.9 0 8.8 0 25 .1-1.1 0-11.9 0-64.6 .1 22.5 0 65.8 0-8.8 .1 24.8 0-1.6 0-30 0 17.1 .1-24.4 0-4.2 31 32.3 .1 1 .1 6.9 .1-6.6 .1 .7 0 19.6 .1 2.7 .1 1.7 0 0 .2 0 0-3.7 .1 3.2 .1-2.1 .1-16.1 .1 4.8 .1 1.4 0-10.1 .1-2.6 .1 1.5 0 5.1 .1 .4 .1 13.3 .1-4.3 .1 8.8 .1 .4 43.4-69.2 .1-16.6 0 19.1 0-8.7 .1 16.3 .1-12.6 0-.1 .1 26.5 0-11.2 0-16.2 .1 18.6 0 9 .1-16.9 0-10.2 .1 21.6 0 13.5 .1 7.9 0 .6 .1 .8 0-2.4 0 5.2 .1-1.5 0-21.6 .1 16.3 0-13.3 0-55.1 .1 20.3 .1 30.3 0-11.2 0 20.5 .1-.8 .1-1.5 0-45.9 0 17 .1 28.9 0-18.4 0-8.3 .1-30.4 0-29.8 .1 12.2 0 47.4 .1-1.3 0-39.2 .1 75.5 0-39.7 .1 .2 0-45.3 .1 75.1 0 10.3 0 .8 .1 2.2 0 2.4 .1-5.2 0 6.2 .1-5.6 0-32.8 .1 14.2 0-2 .1-11.2 0-38.3 .1 52.6 0 11.4 0-26.5 .1-9.7 0-17.9 .1-36.4 0-1.4 .1 37.8 0 25.4 .1 26.7 0-.7 .1-35.6 0 14.7 .1 25.8 0 2 0 3.4 .1-39.5 0 12.5 .1 26.8 0-1.1 .1-4.4 0-19.4 .1-41.7 0-9.8 0 1 .1-35.3 0 27.9 .1 23.6 0-15.8 .1-31.3 0 19.3 .1-11.2 0 6.1 0-10.5 .1 46.4 0 42.6 .1 1.2 0 13.2 .1-.8 0 5.9 .1 .5 0-3.5 0 1.6 .1 .4 0-1.3 .1 .8 0-.4 .1 4.4 0-3.3 .1 2 0-4.5 .1 1.8 0-2.4 .1 5.5 0 .8 .1 0 0 .5 0-1 .1 .3 .1-.3 0 .6 0-2.2 .1-.4 0 2.7 .1 .3 0-.2 .1-4 0 1.8 .1-6.7 0-.5 0 4.7 .1-4 0-32.6 .1-18.3 0-14.2 0 16.1 .1-8.7 0-31.6 .1 26.8 0 32.4 .1-39 0-36.2 .1 7.6 0-29.8 .1 2.2 0 10.6 .1 13.7 0-28.2 .1 6.8 0-10.7 .1-8.7 0 26.9 0 9.9 .1-8.5 0 12.6 .1 5.5 0-.8 .1 .6 0 16 .1-1.4 0 31.4 0-5.6 .1-20.1 0 38 .1-5.8 0 5.9 .1-9.2 0 27.6 .1-4.1 0-12.3 .1 20.3 0 16.2 0 5.1 .1 2.7 0-1.7 .1-.3 0 .3 .1-1.1 0 1.3 .1 .9 0-1.7 .1-2.9 0 1.2 0-4.9 .1-25.5 0-30.6 .1-24.8 0 5.6 .1-32.2 0-32 .1 21.9 0 13.3 .1-30 0 15.7 .1 1 0-15.1 0 35.1 .1-11.2 0-12.5 .1-14.5 0-1.1 .1 18 0 11.1 .1 7.4 0-12.2 0 8.6 .1 37.5 0-2.4 .1-.2 0 15.5 .1-27.8 0 66.8 .1-12.8 0 11.5 .1 .2 .1 7.5 0 1 .1-1 .1-11.8 0 13 .1 0 0 .6 .1 .1 .1-.3 0 0 .1-.1 0 .2 .1-.5 0-.4 .1-2 0-5.4 .1 1.8 .1-4.1 .1 1 0-19.8 .1-40.5 0-2.6 .1-29.7 0 8 .1 6.1 .1 25.9 0-32.2 .1-2 0-49.4 .1-2.9 .1 2.5 0-.3 .1 18.5 0 28.4 .1 38 .1 23.2 0-5.2 .1 17 0 20.8 .1 1.1 .1 2.9 0-3.8 .1-13.9 0 18.3 .1 .3 .1 1.1 0-1.3 .1-.5 0-4.1 .1 4.2 .1-.8 0 .9 .1-3.8 0-17.7 .1-6.1 .1 3.2 0-6.2 0-5.5 .2-6.3 0-20.9 .1 2.5 0 6 .1-7.2 0-7.8 .1-1 0 2.5 .1-10.7 .1 15.2 .1 29.6 0-5.6 0-33.7 .1-.4 .1 23.3 .1-22.4 0-24.3 0-28.5 .1-6.3 .1 24.1 0 7.8 .1-3.5 .1 15.8 0 14.4 .1 23.1 0-6.5 .1 18.2 0-5.3 .1-26.7 0 5.2 .1-23.4 .1 11.5 .1-20.9 0-19 0 28.2 .1-6.2 .1 21 0-6.1 .1-3.2 0-.6 .1 13.1 .1-3.8 0-6.2 .1-13.4 .1-24.6 0 17.7 .1 1.8 0 15.2 .1 36.9 .1 11.6 0-14.3 .1 22.1 0-7.7 .1-19 .1-16.9 0 5.5 .1 7.4 0-17.9 .1-12.1 0 2.1 .1 10.9 .1 27.8 0 3 .1 .7 .1-44.8 0-6.8 .1 40.8 0-37.2 .1-12.2 .1 30.3 0 7.7 .1 15.6 0-3.7 .1-36.7 0 13.2 .1-41.1 0 11.1 .1 1.3 0 15.2 .1-11.6 .1-1.8 0-24.5 0-5.7 .1-3.4 .1 .4 0 2.3 0 2.1 .1 2.8 0 8.8 .1-7.8 .1 1 0-2.7 .1 4.9 0-13.9 .1 25.6 0-11.7 .1 2 0 30 .1 1.3 0 47 .1-11.5 0 16.9 .1 13.3 0-10.9 .1-33.7 0 6.9 .1 27.5 0 42.5 .1-2.8 0 11.7 .1-34.3 0 21.7 .1 18.1 .1-21.4 0-48.4 0 65.3 .1 10.4 .1 10.9 0 5.7 .1-5.1 0 6.9 .1-2.5 0-21.2 .1-1.7 0 3.9 .1 1.2 0-11.6 .1 29.4 0 2.1 .1-11.9 0-64.4 .1-7 0-8.9 .1 11.2 0-32.1 .1 44.5 0 9.7 .1-41.9 0 59.9 .1-8.2 .1 36.7 0-24.3 .1 16 0-4.4 .1-11.8 0-8.1 .1 12 0 19.7 .1-21.2 0-32.3 .1 10 0-5.1 .1 13.7 0-22.7 .1 35 0-11.1 .1-15.2 .1 47.3 0 5.7 0-13.7 .1-13.1 0-13 .1 22.9 0-1.1 .1 5 0 9.3 .1 10.1 0-.1 .1-1.9 .1-13.4 0-3 .1 3.8 0-44.3 .1 2.6 0 22.3 .1 13.5 0-12.2 .1-6.4 0 28.7 .1-3.3 0-11.5 .1-7.8 .1-1.6 0-54.1 0-37.2 .1 87.7 0-33.9 .1 14.4 0 18.1 .1-18.1 .1 3.5 0 23.2 0 27.1 .1-3.6 .1-13.7 0 14.3 0-11 .1 11.7 0 5.8 .1 2.5 .1-7.1 0-16.1 .1-41.7 0 3.1 .1 .1 0-5.5 .1-21.9 0 8 .1-15.2 0-1.3 .1 60.2 0 6.6 .1 3.3 0 15.3 .1-13.3 0 6.2 .1 3.3 0 2.6 .1 6.9 0-.5 .1-28.6 .1-13.5 0-8.9 0-34.9 .1 1.1 0-22 .1 37.9 .1-36.3 0 54 .1-31.3 0 5 0-39.8 .1 1.6 .1 44 0-19.1 .1 44.9 0-16 .1-20.4 0 44 .1 15.9 0 13.3 .1-5.3 0 8.8 .1-36.7 0 3.5 .1-4.2 .1-3.8 0 5.8 0-28.8 .1-4.1 .1-21.1 0 13.3 .1 18.9 0 25.1 .1-23.9 0 27.8 .1-17.9 0 25.7 .1-35 0 22.6 .1-37 0 4.9 .1 47.5 0 1.5 .1-21.9 0-5.3 .1-56 0 6.9 .1-6 .1 8.2 0 51.1 .1-21.4 0-6.9 0 19.8 .1-8.6 0 12.5 .1 7.9 0 2.7 .1 7.1 0-40.1 .1-27.7 .1-10.9 0 15.9 .1 6.6 0 17.4 .1-.8 0 19.2 .1-19.3 0 18.3 .1 38.1 0-13.6 .1 .4 0 5.1 .1-41.5 0 32.4 .1-13.5 0-29.4 .1-1.1 0 .6 .1 11.7 0 14.3 .1-13.2 0 1.8 .1-12.8 .1-28.6 0-6.3 0 12.1 .1 33.4 0 40.3 .1-9.8 .1-17.2 0 9.6 0 33.8 .1-2 .1-9.4 0-20.1 .1-8.9 0-51.8 .1-23.5 0-11.2 .1 62 0-2.4 .1-40.7 0-17.5 .1 5.1 .1 22.8 0-10.9 0-11.3 .1-5 0 7.2 .1 9.5 0 7.2 .1 17.9 0-40.4 .1 10.4 0 10.9 .1-.8 .1 6.3 0 26 .1 6.1 0-44.7 .1-13.3 0 23.5 .1 11.9 0 42.9 .1-17.6 0 20.1 .1 49.7 0-4 .1-28.1 0-6.2 .1 5.6 0-34.9 .1-51.7 0 47.2 .1-25.5 .1-8.9 0 2.6 0 3.4 .1 14.1 .1 29.5 0-18.9 .1-6.6 0 23.3 .1-9.6 0 10.4 .1-.2 0-11.4 .1-40.3 0-13.3 .1-12.9 0 11.8 .1 18.6 0 .4 .1-19.6 0 33 .1 10.5 0-5.5 .1 48.9 .1-28.3 0 32.6 0-49.6 .1 6.3 .1-30.6 0-19.8 .1 50.7 0 10.7 .1-12.2 0 16.7 0 .4 .1 25.4 0-17.6 .1-18.4 .1-36.3 0 25.6 0-17.4 .1 73.1 .1 23.1 0 4.7 .1-11.1 0-18.9 .1-4.8 0-6.3 .1-19.3 0 6.6 .1 15.4 0-18.1 .1-29.8 0 53 .1-12.2 0-.4 .1-12.1 0 7.1 .1-31 0 12.3 .1 1.2 0 11.2 .1 47.2 0 5.7 .1-8.6 .1 4.4 0 12.7 .1 1.2 0-.8 .1-5.3 0-5.9 0-14.9 .1 8.2 .1-4.8 0-4.9 .1 27.3 0 1.9 .1-.5 .1-31.5 0-33.6 0 12.2 .1-30.6 0-16.2 .1 18.4 0-8.9 .1 2.2 .1-1 0 25.1 0-19 .1 24.1 .1-36.1 0 15.3 .1-4.7 0-14.8 0-39.7 .1-14.5 .1-14.8 0-1.2 .1 14.6 0-17.5 .1 26.1 0 .7 .1 5.5-322 141.5 48.8-6 218.8-5 15.4 0-6 13"/></g><text x="101.5" y="573.2" font-size="31.5" text-anchor="middle">0</text><text x="220.7" y="573.2" font-size="31.5" text-anchor="middle">2000</text><text x="339.9" y="573.2" font-size="31.5" text-anchor="middle">4000</text><text x="459.1" y="573.2" font-size="31.5" text-anchor="middle">6000</text><text x="578.3" y="573.2" font-size="31.5" text-anchor="middle">8000</text><text x="697.5" y="573.2" font-size="31.5" text-anchor="middle">10000</text><text x="68" y="172.6" font-size="31.5" text-anchor="end">1</text><text x="68" y="304.3" font-size="31.5" text-anchor="end">0</text><text x="68" y="436" font-size="31.5" text-anchor="end">−1</text><text x="399.5" y="602.5" font-size="33" font-style="italic" text-anchor="middle">t</text><text transform="translate(15.3 298) rotate(-90)" x="0" y="8.7" font-size="33" font-style="italic" text-anchor="middle">x</text><clipPath id="cA2"><rect x="72" y="620.3" width="655" height="494.7"/></clipPath><rect x="72" y="620.3" width="655" height="494.7" fill="#eaeaf2"/><path d="M101.5 620.3V1115M220.7 620.3V1115M339.9 620.3V1115M459.1 620.3V1115M578.3 620.3V1115M697.5 620.3V1115M72 752.1H727M72 884.1H727M72 1016.1H727" stroke="#f3f3f7" stroke-width="1" fill="none"/><g clip-path="url(#cA2)"><path class="sa" marker-mid="url(#ay)" marker-start="url(#ay)" marker-end="url(#ay)" d="m142 953.8 .1-10.7 0-11.6 .1-2.2 .1-5.6 .1-11.1 0 33 0-16.9 .1-22.5 .1 27.4 0 16.9 .1-24 .1 32 0 1.7 .1 7.3 0 47.9 .1-30.8 0 43.7 .1 8.3 .1-9 0 11.1 .1 0 0 2.3 .1 13.5 .1-5.8 0 5.6 .1-2.5 0-2.2 .1-1.4 .1-.9 0 7.9 .1-2.1 0 2 .1-.7 .1 1.1 .1-2.9 0 .3 .1-.4 0-15.9 .1-7.2 0 2.6 .1 1.3 .1 2 0-2.3 .1 10.4 0-29 .1-10.7 0-.1 .1 39.9 .1-2.2 0-10.8 .1-1.8 0-22.6 .1 16.6 .1-52.5 0 21.5 .1-26.1 .1 29.2 0 30.9 .1-38.9 .1-31.1 0 5.9 0 33.1 .1 20.7 0-15 .1 21.6 .1 10.8 .1 16.1 0-5.4 .1-38.6 0-37.4 .1-40.7 0-2.4 .1-.4 .1-4.7 0 4.1 .1-26.6 .1 17 0-17.7 .1-4.5 0 2.6 .1-2.6 0 5.6 .1 37.4 .1-9.3 0 9.3 .1-13.1 0 21 .1 48.2 .1-16.6 .1-39.3 0 7.5 .1 36.5 0-46.6 .1-3.9 0-17.9 .1 32.5 0-9.2 .1-15.3 .1 19.8 .1 25.7 0-29.6 .1 38.8 0 25 .1 10.2 .1-42.7 0 68.8 .1 12.9 0-8.4 .1-40.5 .1-59.5 0-34.9 .1-6 0 5.4 .1 39.8 .1-8.4 0 29.4 .1-9.1 0 4.1 .1 39.1 .1 10.4 0 23.5 0-3.4 .1-7.1 .1 7.7 0-37 .1 21.7 0 24.3 .1 12.6 .1-2.2 0-21.7 .1-5.5 .1-49.5 0-48.4 .1-.7 .1-11.7 0-16.7 .1-2.4 0-1.3 .1 1.2 .1-3.1 0-.9 0 1.9 .1 1.9 .1 30.7 0-16.4 .1 19.4 .1 3 0-4.8 .1 32.8 .1 49.2 0 .4 .1 11.8 .1-7 0-32 0-.4 .1 34.2 .1 1.5 .1 19.8 0 2.4 .1-31.3 0-7.2 .1 6.4 0 17.5 .1 7.2 0 7.9 .1-4.6 .1 .4 0-5.7 .1-17.8 0 12.4 .1 19.3 0-20.5 .2 7.7 0-4.1 0 16.9 .1 14.8 .1-1.5 0-13.3 .1 2.9 0 .8 .1 4.1 0-11.5 .1-19.1 .1 17.7 0-.8 .1 3.7 .1-24.9 0-20.4 .1-27.4 .1-21.5 0 29.2 0 17.6 .1-49.1 .1-.8 0-32.1 .1 24.3 .1-37.2 0-1.6 .1-1.3 .1 43.6 0 66.7 .1-41.2 .1 7.9 0-30.8 0 16.5 .1 .2 0-3 .1-11.7 .1 27 0-2.8 .1-9 .1 24.8 0 35.2 .1-22.1 .1-1.6 0 15.7 .1-58 0 25.5 .1-22.2 0-30.4 .1-6.3 .1 15.3 0 9.4 .1-28.5 .1 14 0-8.2 .1 2.1 0 7.3 .1-23 .1 10.4 0-24.8 0-.2 .1 18.1 .1 8.2 .1 7.5 0 12.7 .1 7 0 43.3 .1-85 .1 11.3 0-4.4 .1 9 0-13.5 .1 4.5 0 17.1 .1 12.2 .1 12.7 0 11.3 .1 55.3 0-23.4 .1 11 0-77.1 .2-30.5 0 25 .1 53.2 0 30.5 .1-23.3 0 31.4 .1 9.7 0-21.3 .1-8.4 .1 28.3 .1 21.4 0-9 0-46.1 .1-57.6 .1-2 0 29.8 .1 61.7 .1-7.4 0-46 .1-52.8 0-14.5 .1-7 0 11.8 .1-2.6 .1-11.5 .1 67.9 0 20.5 .1 23.9 0-61.9 .1-20.5 .1-28.3 0 16.2 0-9.5 .1 15.4 .1-2.5 0 18.7 .1-19.9 .1 49.6 0 33.3 .1-31.5 .1 17.8 0 7.9 .1-58.6 0-18.7 .1-20.5 0 36.9 .1-35.5 .1-2.3 0 5.3 .1-1.1 0 4.4 .1 9.2 .1-7 0 18.7 .1 45 .1-66.1 0 4.7 .1 33.7 0-16.7 .1 25.9 0 36.3 .1-16.7 0 46.9 .1 9.4 .1-7.1 0-21.4 .1-35.3 0-40.7 .1 4.6 .1-1.1 0 14.1 .1-15.5 .1 10.1 0-25.9 .1 20.1 .1 25.9 0 7.1 .1 6.6 0 45.9 .1 6.5 0 16.7 .1-20.3 .1-10.2 0-11 .1-8.8 .1-6.7 0-17.6 .1 28 0 25.3 .1-20.2 0 15.6 .1-17.6 .1-7.2 0-22 .1 40.2 0-38.6 .1 27.9 .1-32.5 0-27.6 .1-18.3 0-1.1 .1 15.4 0 20.8 .1-6.7 .1 5.5 .1-21.1 0-24.4 .1 13.2 0-21.5 .1 4.4 0-8 .1-.6 .1 .1 0 .8 .1 .1 .1-1 0 1.4 .1 .2 0 3.7 .1 1 .1-3.9 0-1.2 .1-.4 0 13 .1-1.9 0 8.1 .1 16.4 .1 6.4 0-16.2 .1 8.3 0-4.3 .1-26.3 .1 7 0 52.7 .1-34.3 0-25.9 .1 8.7 0-9.9 .1-2.4 .1 0 .1 .5 0-.6 .1 .3 0 .5 .1 1.9 .1 6.5 0 27.7 0-4.7 .2 30 0-1.9 .1-9.5 0-4.7 .1 36.7 0-7.6 .1-20.4 .1-44.7 0 13.3 0 24.2 .2-18.5 0 53 .1-9.7 0 29.7 .1-29.4 0 29.9 .1-19.5 .1 15.6 0-22.7 .1-.7 0 28.8 .1-15.8 .1 6.4 0 16.8 .1-9.3 0-4.8 .1 34.2 0-14.4 .1 14.4 .1 17.9 0-29.8 .1-18.6 .1 32.5 0 7.5 0 14.2 .1-2.1 .1-20 .1 21.4 0-1.3 .1-7.9 0-20.8 .1-15.5 .1 30.3 0 8.4 .1-2.7 0-5.1 .1 11.8 .1-12.4 0-65.4 .1-22.4 0-16.8 .1-15 .1 32.2 0-22.6 .1-25 0-1.8 .1-2.3 .1 8.3 0-1.7 .1 24.6 0-22.3 .1-3.3 .1 5.1 0-3.9 .1-6.3 0 .2 .1 1.1 .1-1.4 0 0 .1 1.4 .1 6.5 0-.9 .1 7.6 0-7.3 .1 29.9 0 35.6 .1 7.3 0-5.9 .1 7.3 .1-4.4 0 10.9 .1 24.6 .1-9.4 0-24.7 .1 20.5 0-23 .1 2 0-31 .1 44.9 .1-7.5 .1-1.6 0-41.8 .1 20.6 0 39.2 .1 6.1 .1 53.4 0-4.1 .1 4.6 0 3.4 .1-16.2 .1-2.9 0 1.7 .1 14.1 0-.1 .1-17.9 0 4.5 .1 3.2 .1-19 0-35.6 .1 12.7 .1 24.5 0 15.5 .1-6.8 0-8.9 .1-23.8 .1 27.1 0 14 0 6.2 .1 1.5 .1 8.8 0-1 .1 1.9 .1-13 0-6.6 .1-2 .1 3.3 0-1.1 0-12.6 .1 22.7 .1-13.1 .1-26 0-9.9 .1 30.1 0-15.7 .1-32.7 .1 35.4 0 2 0 4.6 .2-14.9 0-51 .1 2.7 0 9.4 .1-41.8 .1 47.1 0 25.9 0-17.7 .1 .3 .1 33.6 0-48.7 .1-23.5 .1-16.9 0-29.2 .1-3.1 .1 15.1 0-14.9 0 35.9 .1 17.2 .1 43.5 0-10.6 .1-9.8 0 8.3 .1-17.7 .1 8 0-9.7 .1-8.1 0-51.8 .1 46 .1-16.9 0-36.4 .1 6.8 .1 28.5 0-3.9 .1-23.7 0-1.8 .1 45.1 .1-18.9 0 30.9 0 10.5 .1-1.5 .1 9.3 0 23.1 .1-67 .1 12.7 0 47.1 .1 39.6 .1 .8 0-9.8 .1-33.9 0 13.2 .1 13.7 0-15 .1 13.4 0 16.7 .1 6.9 .1-31.2 0 30.3 .1 7.4 .1 14.6 41.7-115.8 .1 23.9 0 29.1 .1 9.6 .1-2 0 40.8 .1 10.2 0-4.1 .1-2.1 0-6.8 .1-3.7 0-.8 .1-9.1 0 3.7 .1-17.1 0-9.3 .1-35.3 0-13.9 .1-57.4 .1 7.3 0-.1 .1-6.5 0 .6 .1-3 0 6.6 .1 23.4 0 34.1 .1 62.6 .1 18.2 0-7.5 .1-2.9 0-48.3 .1 18.4 0 11 .1-48 .1 41.1 0-12.2 .1-34.8 0-18.7 .1 41 0-25.6 .1 1.1 0 25.2 .1-4.7 0 5.8 .1 17.8 .1 29.6 0-3.8 .1-23.9 0-55.9 .1 18 0-42.6 .1-24.3 0 40.1 .1 1.5 .1 65.4 0 7.7 .1-3.5 0 6.4 .1-23.5 0 10 .1 34 0-49.9 .1 3 0-47.6 .1-17.6 .1-16.7 0-6.5 0 28.5 .1-11.9 .1-7.3 0 34.9 .1 8.7 0 15.1 .1 10.5 0-7.6 .1 54.6 0-97.7 .1 35.2 .1 23.5 0 5.9 .1 26.3 0 15.7 .1 18.1 0-5.5 .1-11.7 0-10.5 .1 26.3 .1 2.2 0 1.5 0-4.1 .1-35.4 .1-12.4 0 21.5 .1 10.3 0-12.9 .1-31.2 0 16.8 .1-8.2 .1 47.4 0-32.5 .1 3.1 0-30.5 .1 13.3 0 6.4 .1 23.6 0 1.6 .1 12.6 0-7.9 .1-5.1 .1-5.3 0 9.9 .1 2.7 0 .6 .1-22.8 0 17.6 .1-13.7 0 26.8 .1 .2 .1-10.6 0 1.9 0-2.1 .1 11.6 .1-14.6 0 13.9 .1-16.9 .1-4.8 0-.4 0-19 .1-36.8 0 20.5 .1-14.7 .1-33.8 0-44.5 .1 .3 0 19.3 .1 27.8 0-29.1 .1 .8 0 1.9 .1-19.5 0 7.3 .1-.9 0 5.1 .1 32.3 .1 23.7 0 25.4 .1 1.4 0 30.3 .1 10.8 0 .9 .1-20.1 .1 .1 0 19.2 0 20.5 .1-21.9 .1-17.9 0 3.5 .1 1.4 0-23.3 .1-36.1 0 13.4 .1 38.7 .1-23.7 0 5 .1 35.4 0-5.4 .1 18.7 0-49.1 .1 23 0 29.2 .1-13.1 .1-4.3 0-67.3 .1 58.7 0-6.6 0 .8 .1 14.8 .1 10.8 0-85.2 .1-20.6 .1-5.5 0 29.2 .1-.4 0 29.6 .1 35.4 0-.6 .1 5.7 0 18.5 .1 10 0-4.9 .1 6.2 0-3 .1-6.9 .1-5.6 0-34.3 .1 11.1 0 26.7 .1 2.3 0-15.1 .1-27.2 0-13.7 .1 35.5 .1-.3 0-28.8 .1 16 0 8.5 .1 1.8 0-31 .1 39.9 0 9.9 .1 3.3 .1-3.4 0 14.2 0-9.7 .1-6.5 0 3.9 .1-18.5 .1 16.6 0-33.5 .1-5.4 0 4.3 .1-72.7 .1 57.8 0-20 .1-13.6 0 31.9 0-1 .1 45.7 0-29.1 .1-1.3 .1-9.8 0 14.9 .1 18.8 0-85.2 .1-2.1 .1 35.5 0-28.2 0-24.9 .1-6 .1 28.5 0-39.9 .1 19.5 0-29.4 .1-.6 0 8.4 .1 39 .1 15.3 0 7.6 .1-20 0 27.1 .1 6.1 0-17.6 .1 1.9 0-30.5 .1 .3 .1 3.3 0-40.8 .1 11.2 0 11.1 0 14 .1-16.6 .1-11.2 0 31.9 .1-.3 .1-15.6 0 36.2 0 23.4 .1-66.7 0 15.4 .1-16.3 0-.2 .1-10.8 .1 16.1 0 53.8 .1 13.5 0 31.8 .1-2.4 0-26 .1 12.9 0 4.8 .1 3.3 .1-25.6 0 25.8 .1 3.8 0-58.5 .1 3.9 .1-44.1 0 12.6 .1-8.7 0 8.9 .1-4.9 0-5.8 .1 8.7 0-9.1 .1 32 .1 32.3 0 11.9 .1-57.9 0 38.1 .1 33.8 0-49.6 .1-38.4 0 19 .1 29.7 0 31.8 .1 10 .1 14.4 0-10.3 .1 29.7 0-12.3 .1-34.6 0-47.8 .1-1.3 0-14.5 .1 13.6 0 16 .1-3.7 0 19.7 .1 4 .1-10.8 0 52.5 .1 2.1 0 15.5 .1 11.9 0 4.7 .1-5.5 0 0 .1-12.7 0-11.2 .1-26.5 .1 15 0-32.9 .1 27.1 0-21.3 .1 35.4 0-29.1 .1 32.3 .1-46.2 0 54.1 0-55 .1-43.5 .1-13.8 0 50.4 .1-25.2 0 15.7 .1 12.7 0 5.6 .1-27.2 0 35.9 .1-2.5 0-3.3 .1-35.4 0 15.6 .1-.5 .1-13.9 0 25.7 .1 23.2 0-27.8 .1-27.5 0-.5 .1-14.8 0 22.9 .1 12.8 .1 36.8 0-40.8 .1-41.9 0 10.4 .1 6.4 0-9.8 .1 35.7 0-29.2 .1 16.4 .1 43 0 3.1 0-.2 .1-5.5 .1 7.2 0-24.3 .1 18.8 0-3.6 .1 2.8 0-18.3 .1 17.7 0-47.6 .1-7.8 .1 56.5 0-12.4 .1 38.7 65-8.3 .1-14.5 0 16.8 .1 5 .1 15.4 0-39.5 .1 15.5 .1 29.2 0-24.7 .1-27.5 0 54.4 .1 8.6 .1 5.1 0-3.6 .1-15 .1 13.4 .1 2.3 0-14.8 .1-3.5 0 12.5 .1 5.8 .1-22.6 0 21.5 .1 2.3 0-3.7 .1-13.4 .1 2.1 0-48.4 .1-9.6 .1-8.6 0 48.3 .1-9.4 .1-36 0-33.4 .1-39.3 .1 1.2 0-13 .1 16.7 0 17.4 .1-12.5 .1 35.9 0 82.1 .1 4 .1-24.1 0-47.5 .1 22.3 0 27.1 .1 24.6 .1-6.4 .1-22.1 0-12 .1 6.8 0 30.7 .1-34.9 .1 11.7 0 9.4 .1-24.6 .1 29 0-24.2 .1-12.1 0-27.2 .1-12.3 .1-10.2 0-28.7 .1-24 .1-.5 0-.2 .1 2.4 0 2.2 .1 16.3 .1-1 0-11.3 .1 11.6 .1 6.9 0 .1 .1 6.8 0-15.3 .1 67.5 .1 16.7 .1-33.6 0 12.8 .1-40 0 38 .1-8.1 .1 25.9 0 3.9 .1-36.4 0 29.7 .1-33.9 .1 .7 0 49.8 .1-54.4 .1 21.2 0-22 .1-6.3 0-11 .1 48 .1-2.7 0 2 .1 37.6 .1-9.4 0 35.4 .1-5.2 0 15.3 .1 4.7 .1 4.2 .1-1.9 0 1.9 .1-9.9 0-9 .1-35.5 0 10.2 .1-15.9 .1 5.4 0-20.5 .1 13.3 .1 23.1 0 36.1 .1-19.2 .1-9.3 0-8.9 .1-2.9 .1 7.3 0-14.4 .1-22.9 .1-5.9 0-13.5 .1-6.6 0-12.4 .1 7.9 .1-6.8 0 13.6 .1-1.8 .1-2.8 0 7.7 .1-4.2 0 9.3 .1 27.7 .1-4 0 34.4 .1 23 0-12.5 .2 8.1 0-8.6 .1-14 0-28.8 .1 47.3 .1-20.2 0 2.3 .1-17.9 0 10.3 .1 12.2 .1 8 0-3.8 .1 2.6 0-2.4 .1-25.3 .1-36.2 0 62.9 .1-48.9 .1-2.8 0-.6 .1 34.2 .1-44.8 0-51.2 .1 27.9 .1 52.6 0-49.3 .1-21.6 0 5.8 .1-34.9 .1 11.1 .1 1.5 0 10.6 0 24.2 .1-21.5 .1 4.5 0-13.9 .1-1.5 .1 15.2 .1-12.6 0 12.6 .1-11.9 0-20.3 .1 3.2 0 12.1 .1-.2 .1-9.5 0 15.6 .1 37.6 .1 23.6 .1-42.2 0 16.2 .1 29.3 0-5.3 .1 51.6 .1 13 0-3.1 .1-5.9 0-.8 .1-13.3 .1 5.7 0 22.3 .1-16.7 0-26.5 .1 6 .1-55.2 0-1.5 .1 15.2 .1-41.2 0-6.5 .1-12.6 .1-12 0 18.1 .1 45.1 .1-38.4 0 7.5 .1-2.6 .1-10.2 0-9.7 .1 24.5 0-7.3 .1 2.3 .1-19.5 0 17.5 .1-8.6 0-7.9 .1 48.5 .1-3.4 .1-29.6 0 34 0-20.8 .1-2.1 .1 44.7 .1 33.3 0-11.8 .1 5.7 .1 13 0 14.6 .1-10.9 0 8.1 .1 13.6 0 1 .2-22.8 0-5.6 .1-12.6 0-26.6 .1-31.8 0-4.6 .1-13.2 .1 74.5 .1-4.4 0 .3 .1-27.1 0 26.7 .1-15 0-32 .1 46.8 .1 44.3 0 9.8 .1-5.2 .1 5.3 .1-.4 0 1.7 .1-10.2 0-15.7 .1-12.3 .1-58.4 0 24.2 .1-15.2 0 11.7 .1 22.9 0 32.7 .1-22.4 .1 13.4 .1 22.3 0-18.1 .1-19.5 .1 10.3 0-50.1 .1 11.6 0-16.4 .1-15.4 .1 16.2 0 7.2 .1 51.4 0-18 .1 7.8 0 1.6 .1-32.7 .1-16.9 .1-13.2 0-1.3 .1 33 .1 9.7 0-53.4 .1-12.9 0 39.7 .1-25.5 0 50.7 .1-42.7 .1 32.3 .1-2.3 0 29.7 .1 11 0 3 .1-24.5 .1-11.8 .1 4.4 0 13.9 .1-3.7 .1 22.7 0-20.9 .1-4.8 .1 25.4 0 .9 .1-10.6 0-12.2 .1 26 .1 4.6 0 14.6 .1-14.7 0 13.3 .1 1.1 0 7 .1-1.3 .1 1.6 .1-7.5 0-4.2 .1 3.1 .1-29.8 0 7.5 .1-26.9 0 30.4 .1-27.3 .1 14.6 0 6.7 .1 18 0-9.5 .1-76.1 .1-18.2 0 29.9 .1-29.8 0-16.1 .1-9.4 .1 17.3 0 1 .1-16.8 .1 2.5 0 2.9 .1-6.6 0 17.5 .1 19 .1-.3 0-46.2 .1-4.2 .1 5.6 .1-3.6 0 13.5 .1-16.7 0 31.6 .1-4.6 .1 21.5 0-16.3 .1-20.4 .1 18.2 0-13.6 .1-6.8 0 23.7 .1 12.1 .1 16.3 0 13.1 .1 1.6 .1 20 0-22 .1 7.2 .1 52.2 0 14.1 .1 5.3 .1-4.4 0-27.4 .1-3.3 0-34.4 .1-.6 .1 8.1 0-2.8 .1-41 .1 48.4 0-5.7 .1-51.6 0 45.6 .1 3.9 .1-14.3 0 8.7 .1 46.4 0-25.8 .1 51.3 .1-38.7 .1-17.1 0 26.4 .1 30.8 0 .2 .1-6.7 .1 4.6 0-6 .1-3.9 .1 9.1 0 1.2 .1-4.8 .1 3.7 0-8.4 .1 5.8 0-5.9 .1 9.7 0-27.3 .1-.2 .1 8.5 .1 11.9 0-23.4 .1-2.3 .1-8.2 0-96 .1-12.4 0 29.8 .1 14.4 .1-35.8 0 13.9 .1-9.4 0-2.6 .1 32 0-11.8 .1-7.1 .1-12.4 .1-12.9 0 26.6 .1-14.1 0 3.9 .1-7.8 .1 21.6 0 12.2 .1 22 .1-19.1 7.5 83.1 .1-43.6 .1-53.5 .1 30.8 0 13.1 .1-30.2 .1-12.1 .1-27.2 0-9.4 .1 13.3 .1 4.8 0 10 .1-17.6 0 8.5 .1-12.1 .1 21 0 1.8 .1-11.5 .1 17.8 .1-8.3 .1-1.7 0 2.3 .1 12.5 .1-8.5 0-8.1 .1 29.7 .1 14.5 0-6.1 .1-1 .1 18.7 0 4.6 .1-36.2 .1 11.8 0 44.4 .1 15.8 .1-.1 .1 20.7 0-20.2 .1-58 .1 8.8 0-14.2 .1-1.6 0 34.5 .1 29.7 .1 6.3 .1 7.8 .1-45.4 0-38.2 .1-35.4 .1 32.9 .1 13.1 0 5.1 .1 43.6 0-14.1 .1 29.5 .1 11 0 18.3 .2 9.1 0 1.9 .1-1.9 0-8.6 .1 5.6 .1-10 0 1.5 .1 3.8 .1-4.8 .1-10.3 0-5.7 .1 5.7 .1-10.9 0-13.5 .1-22.7 .1 54.1 0-19.8 .1-19.6 .1 7 .1-26.8 0-46.3 .1-23.5 .1 38.4 0-42.5 .1 29.2 .1 17.2 0-31.3 .1 24.5 .1 17.9 .1-34.8 0 35.4 .1-31.8 .1-31.2 0 1.4 .1 6.3 .1-8.5 .1 41.7 0-6.2 .1-20.3 .1 13.7 0-27.1 .1-6 .1 35.2 .1-6.7 0-7.1 .1-.2 .1 19.5 .1-4 0-18.6 .1 24.8 0 37.3 .1-35.3 .1-.7 0 49.1 .1 4.4 .1 34 0-13.9 .2-9.3 0 9.7 0-20.7 .1-8.7 .1-15.2 .1-44.8 .1-4.1 0 19 .1-2.8 .1-30.3 .1 13.2 0 35.7 .1 14.2 0 27.9 .1 24.2 .1 22 .1 5.7 0-24.2 .1 7 .1-12.2 .1-6.9 0 16.8 .1-4.6 .1-15.6 0 14.1 .1-22.9 0 28.3 .1-6.5 .1 5.1 .1-19.8 0-66.6 .1 10.5 .1-2.4 0 4.3 .1-.4 .1 34.2 .1-5.3 .1-22.8 0 53.7 .1 20.3 0-12.2 .1 9.5 .1 22.6 0 1.5 .1-2.2 .1-9.4 .1 4.2 0-19.8 .1-46.6 .1-28.1 0-11.6 .1 20.3 0 12 .1-34 .1 29.7 .1-47.2 0 11.4 .1 29.1 .1-22.6 .1-25.4 .1 43.2 0-24.5 0 33.7 .2-19.5 0 22.2 .1-43 0 100.3 .1 25 .1-2 0 .8 .2-.4 0-14.3 .1-80 0-25.6 .1-1.8 .1 4.6 0-27.3 .1 0 .1 3.2 0 15.9 .1 16.2 .1 2.2 0-21.1 .1-4.6 .1-12.4 .1 4.1 0 9.5 .1-4.5 .1 11.2 .1 31.7 .1 4.3 0 9.4 0 25.4 .2-50 0 48 .1-29.2 .1 57.2 0 26.5 .1-22.6 .1 9.6 0 3.2 .1-1.7 .1-7 0-13.5 .1-11.6 .1-18 .1-20.5 0-68.8 .1 11.4 .1 18.8 .1 56.7 0-10.1 .1-25.5 .1 25.4 0 24.4 .1-53.5 .1-11.1 .1 16.5 0 47.8 .1 41.7 .1-1.2 0-15.7 .1-11.9 0-51.8 .2 37.8 0-26 .1 46.1 0-40 .1-47.3 .1-9.3 0 60.1 .1-6.2 .1 24.3 .1-26.7 0 3.8 .1 77.2 .1 .2 0-.8 .1-7.6 .1-7.7 .1-17.4 0-23.6 .1-22.9 .1-.1 .1 13 0-13.6 0-.9 .2 3.4 0-48.7 0-9.4 .1 40 .1 10.8 .1-11.3 0-46.6 .1 42.1 .1-7.1 .1 .8 0-38.7 .1-14.8 .1 9.9 .1 24.2 0 12.3 .1 18.5 .1 28.8 0-43.6 .1-.8 .1-2.5 0 16.4 .1-9.4 .1-3.6 .1 53.9 0 31 .1 1.3 .1 16.1 .1-5.7 0-3.2 .1-1.3 0-14.6 .1-20.7 .1-52.5 .1 52.3 0-12.5 .1 21 0-17.1 .1-34.8 .1-22.9 0-30.9 .1-11.2 .1 24.2 .1-4 .1 66.4 0-26.6 .1-19.1 .1-5.5 .1-12.9 0-3.1 0-15.7 .1 11.2 .1-15.3 .1 1.1 0 6.8 .1 4.4 .1-8.5 0 27.9 .1 21.3 .1 64.2 .1-32.4 0 16.6 .1-13.6 .1-47.5 .1 47.4 0 50 .1 10 0 8.6 .1-9.6 .1-10.2 0-6.2 .2 7.8 .1 4.5 0-29.5 0 2.8 .1-18.3 .1-27 .1-52 0 48.1 .1-20.7 .1 18 .1 43.2 0-18.4 .1-23.6 .1-29.2 0-15.2 .1 6.6 .1 11.2 0 35.4 .1 20.8 .1-30.4 0 21 .1-12.4 .1 42.2 0-4.7 .1-14.5 .1-46.7 .1-3.3 0-10.7 .1-7.1 .1 14.4 0-14.7 .1 17.5 .1 22.2 0 49.6 .1-3.7 .1-61.8 .1-16.4 .1-4.9 0 4.6 .1 1.9 .1-31.4 0 9.7 .1 22.9 .1 36.3 0-19.9 .1-28.1 .1 4.3 0 46.8 .1-8.8 .1-27.1 .1-17 0-17.8 .1 17 0 9 .2 78.6 0-3.4 .1 6.4 0 12.9 .1-57.5 .1-52.6 .1 5.1 0 38.5 .1 41.2 0-34.8 .2-2.4 0-53.4 .1-3.6 .1 16.7 0-14.6 .1 15.1 .1 2.4 0-29.8 .1-.8 .1 3.1 .1 38.7 0 20.8 0-9 .1-33.4 .1-18.4 .1-3.8 .1 .2 0-.8 .1 9.1 0 13.9 .1 1.2 .1-9.6 .1 24.6 0-26.4 .1-.3 .1-10.5 0-3.5 .1 .4 .1-.3 .1 .9 0 1 .1-.4 .1 6.6 0 34.1 .2-8.6 0-5.6 0-2 .1 4.2 .1 24 0-33.9 .1-5.2 .1 1.3 .1 14.6 .1 2.2 0-23.9 .1 4.9 .1 10.8 0 20.4 .1-7.5 .1-22.7 0 6.1 .1 30 .1-5.5 .1 17.1 0 27.7 .1-41.9 0 12.4 .2 21.7 0 3.1 0 4.5 .1 15.5 .1-12 .1-23.8 0-27.3 .1-26.9 .1-8.6 .1 16.8 .1 8.6 0-12.9 .1-4.4 0 10.4 .1 11.8 .1-30.4 .1-.4 0 20.6 .1 13.3 .1 33.9 0 40 .1-40.8 .1 18.6 0 1.5 .1-52.1 .1 18.2 .1-42.3 0 18.5 .1 9.8 .1-4.6 .1-1.9 0 19.2 .1 65.2 0 37 .1 11.4 .1-1.1 .1-6.8 .1-1.1 0-.7 0 6.1 .1 2.7 .1-3.3 .1-32.6 .1-.3 0 1.7 .1-3.4 .1 11.2 0 6.6 .1 20.4 .1-1.1 0 2.7 .1-4.8 .1-2.4 .1-8.6 0-9.7 .1 7.8 0-12.4 .1 0 .1 .3 .1 12.6 .1 2.1 0-31.6 .1 20.1 .1 16.2 0-39.2 .1 28.6 0-14.2 .1-23.6 .1-7.2 .1-32.9 0-10.5 .1 3 .1 7.3 .1 12.1 0 60.3 .1-13.9 .1-.5 0-4.7 .1 19.6 .1 7.9 .1 10.9 0 7.1 .1-.1 .1 .3 .1-.5 0-2.4 .1-20 .1-4.8 0-29.5 .1 22.4 0 16.6 .1-17.4 .1-1.8 .1-53.3 0-28.6 .1 69 0-11.7 .1-11.3 .1-48 .1 26.7 .1-50.6 0-23.4 .1 8.2 0 20.3 .1-9.7 .1-11 .1-7 0-.6 .1 14.4 .1 9.3 .1 59.4 0 9.4 .1-9.1 .1-43.4 0-9.3 .1 21.5 0-25.6 .2-1 0 15.3 .1 8.8 0 1.3 .1 23.4 .1-17.2 .1 11.6 0 1.5 .1-30.8 0 11.2 .1-6.4 .1-22.9 .1 7.8 .1 17.4 0-8.6 .1 34.3 .1-11.3 0-16.3 .1 20.8 .1 26.3 0-33 .1 38.9 .1-2.4 0 1.8 .1 4.2 .1 24.1 .1 .3 0-1.2 .1-15 .1-53.4 0 27.8 .1 14.7 .1-5.6 .1-9.1 .1 8.7 0-44.5 .1 18.1 0-12.8 .1 18.5 .1-14.3 .1 26.5 0 1.3 .1-37.8 0 16.6 .1 51.8 .1 13.3 .1 1.1 .1 14.2 0 .6 .1-25.1 0-12 .1-17.2 .1 20.5 .1 45.3 0 3.9 .1 1.6 .1-4.9 0-.3 .1-10.4 .1 2.9 0 8.9 .1 8.8 .1-9.5 0 6.7 .1 .7 .1-13.2 .1-2.6 0-12.5 .1 13.9 .1 12.2 .1-3.1 0-25.9 .1 13 .1-35.6 0 15.2 .1-35.5 .1-5.1 0 26 .1 4.9 0-44.3 .2 20.9 0 22.5 .1-5.9 .1 6.6 .1 2.6 0 41.4 .1-2 .1-19.7 0-2.7 .1 19 0 11.4 .2-6.4 0-.7 0-7.2 .1-3.3 .1-17.8 .1-3.4 0-7.3 .1 12.6 .1 27.9 0-.9 .1-22.7 .1 9.9 0 8.4 .1 6.8 .1-11.7 .1-12 .1-1.4 0-6.5 .1 19.1 0-34.2 .1-24.1 .1 48.3 .1-10 .1 21.8 0-5.1 .1-45.7 .1 11.5 0-15.9 .1 33.4 .1 6.8 0-23.1 .1 13.2 .1-26.8 0-35.5 .1 41 .1 33.7 0-46.4 .1 .5 .1 33.3 .1-20.4 0-1.3 .1-48.1 .1 13.5 0 40.2 .1 4.2 0-30.9 .1-46.7 .1-18.9 .1-9 0-1.5 .1-6.3 .1-1.1 .1 5.1 0 18.6 .1-23.7 .1 9.1 .1-6.3 0-.9 .1 10.3 0-9.1 .1-3.3 .1 19.5 0-12.2 .2 12.3 0 33.6 .1 50.3 .1 11.3 0-52.4 .1 50.1 .1-10.4 0-33.7 .1-44 0 8.9 .1 28.1 .1-33 .1 3.9 0 28.3 .1 43.7 .1 11 0-.3 .1 31.8 .1-17.9 0-2.2 .1 .2 .1 5.2 .1 8.4 0-4.8 .1 9.5 .1-6.3 .1-27 0 18.8 .1-23.1 0-37.5 .1 25.1 .1-6.6 .1 5.8 0 18.7 .2-2.8 0-20.5 .1-17 0 40.9 .1 5.2 .1-13.2 0 14.4 .1 21.9 .1-30.9 0-1.5 .2-42.5 0-40.5 0-4.7 9.1-11.9 .1-1.5 .1 17.3 .1 19.5 0 1.6 .1-5.3 0 26.8 .1-18.6 0 34.2 .1 10.9 .1-3.9 .1-4 .1 38 0 25.1 .1 2.6 0-10.9 .1-26.3 .1 9.3 .1-2.1 0 3.3 .1-25.7 0-25.1 .1-28.2 .1-11.3 0 10.9 .1 12.7 .1 13.4 .1 63 0 9.5 .1-9.6 0 .6 .1 8.1 .1-24.7 .1-5.1 0-18.7 .1-19.3 .1-32.1 0 10.8 0-27.3 .2 48.6 0-7 .1-19.5 0-21 .1 39 .1 11.4 0-2 .1 51.8 .1 13.8 0 9.4 .1-17.7 .1-8.3 .1-6.8 0-5.9 .1-16.3 0-3 .1-62.9 .1-13.3 .1-10.6 0 33.9 0 19 .1-35.4 .1-4.4 0 6.1 .2-7.3 0 21.4 .1-3.2 0 23.4 .1 12.7 .1-27.2 0-25.8 .1 36.3 .1 25.8 .1-15.4 0-2.6 .1 31.9 .1 22.1 0 16.5 0-52.5 .2 15 0 5.1 0-59.5 .1 3 .1 30.7 .1 20.7 0-23.2 .1 2.4 .1-8.8 .1 9 0 21.3 .1-49 0 12.9 .1-52.1 .1 0 .1-1.4 0 7 .1 .8 0 21 .1 52.5 .1 10.8 .1 22 0-1.5 .1-12.9 0-48.3 .1-45 .1-2 0 7.6 .1 7.6 0 18.2 .1 25 .1-5.9 .1 32.7 .1 13.7 0-11.3 .1-33.2 .1-24.1 0-35.2 .1 20.2 0-10.3 .1 3.4 .1-5.9 0-.3 .1 6.7 .1 14.4 0-5.8 .1-22.2 .1-4.6 .1 11.3 0-17.3 .1 2.3 .1-2.9 0 1.2 .1-2.8 .1 .1 0 1.1 .1-1.2 .1 .4 0 5.9 .1 12.4 .1-.7 0 29.5 .1 10.6 .1 19.2 0 7.2 .1 23.2 .1 10.1 0 21.8 .1 10.2 .1 5.2 0 6.1 .1-21.3 .1 29.5 0-.2 .1-16.9 .1 6.6 0-2 .1 8.7 .1 2.9 0-4.5 .1 1.2 .1 5.1 0 .5 .1-28.3 .1 11.8 0 6.7 .1-27.2 .1 7.1 0 16.6 .1 2 0-5.1 .1-30 .1 18.8 0 16.7 .1 1.7 .1 4.9 .1-7.9 0-7.3 .1-9.5 0 11.7 .1-1.6 .1-15.9 0 12.8 .1 16 .1 6.2 .1-.8 0-4 .1-3.9 0-8.5 .1-35.2 .1-13.5 .1 55 0 8.8 .1 1.4 .1-.8 0-16.3 .1-4 .1-.5 0 2 .1-8.8 .1 12.3 0 10.4 .1 3.8 .1-1.6 0-7.9 .1-4.9 0 3.6 .1-2.6 .1 .7 .1 1.6 0-10.8 .1 1.2 .1 15.7 0 6.2 .1-.5 .1-11.5 .1 10.7 0-15.2 .1-5.4 0-23.3 .1 13.4 .1 6.2 .1-19 0-40.4 0 32.9 .1 41.5 .1 8.3 .1-1.2 0-26.5 .1-9.9 0-41.8 .1 3.8 .1 16.6 .1 4.8 0-7.7 .1-15.4 .1 6.5 0 40.2 .1-32.5 0 15.2 .1-4.5 .1 2.3 .1-44.6 .1 48.1 0-19 .1 27.2 0-36.7 .1 .3 .1 25.6 0-85.7 .1-.4 .1-3.2 0 24.7 .1 8.8 .1-30.5 .1-12.5 0 32.3 .1 8.1 0 7.1 .1-6.7 .1 18.3 0-8.8 .1-5 .1 30.8 .1 26 0 10.2 0-30.4 .2-12.8 0-2.3 .1-40 0-23.5 .1 3.6 .1 1.7 .1-11 0 12.3 .1 23.2 0-17.7 .1 36.4 .1-23.9 0-2.4 .1-29.7 .1 4 0 19.3 .1 26 .1 17 0 26.5 .1-26.5 .1-22.8 0 7.2 .1-20.4 .1 8.6 .1 8.4 0-38.7 .1 3.9 0 40.9 .1 40.4 .1 15.8 .1-15.3 0-9.7 .1-39.9 .1 10.8 0-19.5 .1 3 .1 5.5 0 25.5 0-55.6 .1 51.1 .1 32.7 .1-60.2 0 44 .1 32.2 .1-62.6 .1-29.3 0 28.6 .1 68 .1-35.7 0-22 .1-8.7 .1-20.9 0-22.4 .1-8.5 0-.8 .1 12.7 .1 15.7 0-20.8 .1 44.6 .1-27.3 0-5.1 .1 20 .1 27.9 .1 36.5 0-.1 .1-21.9 .1-6.7 0-11.5 .1 52.8 0-2.6 .1 5.6 .1 16.5 0 .4 .1-1.1 .1 9.1 .1 4.5 0-.6 .1-8.3 0 8.8 .1-9 .1-34.4 0 5 .1 4.1 .1 3.4 .1-12.2 0-3 .1 .9 .1 21.4 0-10.8 .1 5 .1 28.9 0 5.8 .1 .9 .1-17 0 10.2 .1-8.3 0 1.1 .1-17.3 .1 7.1 .1-11.9 0 18 .1 1.5 .1-39.5 0-57.3 .1 60.5 .1 22.6 0-2.1 .1 .6 0-52.1 .1 41.6 .1 15.1 0 4.3 .1-8.7 .1 11.7 0-29.1 .1-31.1 .1-20 .1 2.8 0-38 .1-4.6 .1-5.8 0 1.7 .1 34.3 .1-13.2 0-31 .1 25.4 .1-12.4 0 91 .1-11.6 .1 13.4 0 9.6 .1 18.8 .1-48 0 20.7 .1-26.3 .1-36 0 6.9 .1 32.6 .1 10.5 0-8.1 .1-22.8 0 26.5 .1 20.8 .1 27.6 .1-11.8 0 3.2 .1-25.9 .1 33.2 0-17.8 .1 9.4 0-24.3 .1 11.1 .1 11 .1 4.7 .1-13.7 0-24.3 .1-13.3 0-57.1 .1 39.9 .1-44.1 0 26.8 .1-16.4 .1 50.6 0 30 .1 27.1 0-18 .1 21.7 .1-28.7 .1-27.2 0 1.1 .1 24.5 .1-16.5 0 41.6 .1 7.4 .1 5.5 0-15.9 .1-1.3 0 1.1 .2-6 0-.9 .1 16.6 0-29.9 .1-20.8 0 18.7 .1-6.5 .1-19.4 .1 21.7 0-3.8 .1-25.6 .1-15 0 25.3 .1 10.5 .1 15.3 0-12.9 .1-11 0-47 .2 31.4 0 20.2 0-2.3 .1-24.4 .1 19.6 0-9.5 .2 9.6 0-2.6 0-17.6 .1-11.6 .1-14.4 .1-27.2 .1 11.8 0 26.1 0-35.1 .1 13.4 .1-32.9 .1 1.4 0 3.2 .1 6.1 .1-4.5 .1-3.1 0 6.9 .1 20.9 0-1.8 .1 15.9 .1 28 0-56.6 .1-3.7 .1 34.5 0 56.1 .1-15.9 .1 20.7 0-17.9 .1-3.8 .1-16.8 0-43.7 .1 30.4 .1-32.9 0 14.1 .1 11 .1 1.1 .1 53.7 0 33 .1 8.2 0-.8 .1 2.4 .1 6.8 0-8.1 .1-1.7 .1-14.5 0-16.1 .1-9.1 .1 38.1 .1 10 0 0 .1 1.9 0 4.7 .1 0 .1-11 0-12.5 .1 3.6 .1-19.4 .1 2.3 0 9.4 .1-2.2 0 8.5 .1 6.3 .1-25.8 0 6 .1-2.6 .1-64.9 0 23.6 .1 56.6 .1-5.3 0-26.8 .1-2.5 .1 2.9 .1-39.7 0-9.9 .1 1.7 0-19.2 .1 56.6 .1-2 .1-31.2 0 19.5 .1 .9 0 16.6 .1 15.1 .1 6.8 .1-7.6 0 15.7 .1-10.8 0 3.3 .1 6.9 .1 13.7 .1-27.8 0-.5 .1 39.2 .1 3.7 0-5.4 .1 2.5 0 2.6 .1 1.1 .1 .5 0 1 .1 1.4 .1 1 0 .2 .1-.1 .1-.1 .1-.1 0-3.8 .1-17 0 12 .1-23.2 .1-24.9 .1-6.2 0-30.5 .1 54.9 0 11.3 .1 10.6 .1-15.2 0 17.2 .1 1.6 .1-.9 0-20.2 .1-31.6 .1 3.5 0-3.7 .1 9.5 .1 19.4 0-11.9 .1 29.5 .1-3.3 .1-51.8 0 9.7 .1-17 .1-11.1 0-27.8 .1-14.1 0 3.7 .1 5.9 .1-15.5 .1 43 0 42.3 .1-1.3 0 28.1 .1 7.2 .1 4.1 .1-37 0 14.3 .1-4.6 .1-11.7 0 20 .1 4.1 0 18.7 .1-64.9 .1 11.2 0 19.2 .1-45.3 .1 5 .1 37.7 0-51.6 .1 18.2 .1 21.6 0-17.6 .1-19.4 0-15.9 .1 47.3 .1-39.3 0-11.2 .1-2.3 .1-14 .1 .2 .1 16 0 31.7 .1-26.7 0 11 .1 45.8 .1 8.1 0 21.3 .1-2.9 .1-26.6 .1 4.2 0 46.3 .1 1.2 0-6 .1-25.9 0 21 .1-54.8 .1-21.3 .1 30 0-8 .1 10.2 0-19.7 .1 10.1 .1 26.4 0 9.6 .1-17.5 .1 39.9 .1-18.5 0-12.4 .1-39.9 0 3 .1 32.2 .1-29.3 .1-42.4 .1-23.3 0-13.5 0 2.1 .1-3.5 .1 7.3 .1-12.7 0 5.7 .1-10.9 .1-1.3 0 4 .1 4.4 .1-6.6 0 .7 .1 13.2 .1 30.8 0-19.7 .1 33.9 .1-19.9 .1 1.1 0 59.4 .1-42.9 0 29.6 .1 7.5 .1-27.5 0-11 .1 40.5 .1-19.8 .1-8.7 0-11.9 .1-27.9 0-4.2 .1-10.5 0-6 .1 9.6 .1-5.4 .1 42.4 0 4.3 .1 30.8 .1-11.7 .1-55.3 0 26.7 .1 4.5 .1-21.8 0 39.4 .1-3.4 0 23.2 .1 1 .1 43.3 .1 16.9 0-2.9 .1-3.4 .1-12 0-62.5 .1-68.6 0-.5 .1 11.1 .1-12.2 .1 2.6 0-2.9 0 4.8 .1-5.9 .1-2.9 .1 1.9 0 4.4 .1-.4 .1 7 .1 5 0 4.9 0-1.2 .1-17.3 .1 9.6 0 6.8 .1 15.3 .1 18.7 .1-22.6 0-18.8 .1 17.6 .1 29.9 0 50.4 .1 0 .1 17.9 .1-1.9 0-39.4 .1-24.1 0-44.9 .1-8.2 .1 7 0 11.8 .1 26.4 .1-2.2 0 18.9 .1-34.5 .1 10.8 0-8.5 .1 33.8 .1-9.8 .1-24.4 0 27.4 .1-22 0-5.1 .1 7.6 .1 7.7 .1 6.8 0 22.8 .1 13.2 .1 24 0 11.4 .1-13.5 .1 21.7 0-6.5 .1 18.6 0-27.5 .1-80.3 .1-1.1 0 39 .1 23.3 .1 23.2 0 33.1 .1 6.8 .1-1.6 0 1.5 .1-3.5 .1 3.3 .1-3 0-7.9 .1-4.3 0-8.2 .1-11.4 .1 15 0-6.4 .1 13.8 .1-30.7 .1-56.5 0 7.9 .1-9.1 0-28 .1 10.1 .1-6.2 0 89.8 .1-10.4 .1-16.2 0 2.9 .1 22.3 .1-48.7 .1 16 0-13.3 .1-28.7 .1 32.7 0 54.6 .1-.3 0 2.4 .1-18.1 .1-15.5 .1-36.4 0-40.6 .1 27.5 .1 42.7 0 11 .1-12.3 .1 1.9 0 13.5 .1 3.6 0-60.7 .1-26.9 .1-20.3 .1-10 .1 2.6 0 0 .1 .8 0 7.8 .1 .1 .1-6.8 0-3.9 .1-.1 .1-5.6 0-1.1 .1 3.3 0-1 .1-3.7 .1 3.8 0 7.4 .2-3 0-5.5 .1-2.2 .1 3.4 0-2.5 0 9.7 .1-5.5 .1-4.6 0 12.2 .2-10.5 0-.2 0 1.6 .1-2.6 .1 8.5 .1 32.6 0 35.9 .1 15.4 .1-71.4 0-15 .1-6.3 .1 1.8 .1-1.1 0-2.9 .1 1.6 .1 10.2 0 2.1 0-.8 .1 30.9 .1 5.9 .1-7.9 0-11 .1 5.7 0-27.7 .1-2 .1 4.7 0 36 .1 36.1 .1-33.2 0-31.3 .1 21.5 .1 47.7 0-61.8 .2 2.6 0 15.6 0-5.8 .1-5.9 .1-2.2 .1-7.3 16.5 65.2 .1-64.6 .1-1.3 0 4.2 .1 37.5 0-32.6 .1 28.1 0-2.1 .2-22.4 0 55.1 0-.7 .1-31.2 .1-26 0 21.3 .1 .4 0 9.2 .1-.5 .1-18.3 0 23.9 .1-4.2 .1-.9 0-4.6 .1 4.8 .1-17.2 0 1.2 .1-6.8 0 19.1 .1-28.4 .1-8.1 0-5.9 .1-11.3 .1-.5 0 1.3 .1 11.8 0-12 .1-.7 .1 5.3 0 29.5 .1 27.9 .1-30.7 0-30.8 .1-1.1 .1 2.7 0 2.8 .1 4.2 0-3.3 .1 10.1 0-8.2 .1 9 .1 13.2 0 9.8 .1 22.9 .1-14.9 0 6 .1-51 0-2.8 .1 14.6 0 9.3 .2 20.4 0 63.2 .1 3.1 0-2.6 .1 15.4 0 2.3 .1-11.5 .1-37.2 0-.7 .1-33 0 10.4 .1 20.8 0-26.6 .2-2.3 0 6.3 0-30.8 .1-20.4 .1 1.5 0 6.3 .1 36.1 0 16.7 .1 18.1 .1-11 .1 29.7 0 13.1 .1 16.4 0-12.1 .1 5.7 .1-7.1 0 4.5 .1 19 .1-3.6 0-14.9 .1-1.9 0 12.5 .1-5.1 0-6.9 .1-31.9 .1-40.2 .1 37.1 0 17.7 .1 20 0-8.6 .1 3.5 .1 9.7 0 1.9 .1-24 0 21.6 .1-1.1 .1 1.8 0 .2 .1-11.1 0 11 .1 6.1 .1-13.6 0-5.1 .1 10.5 0-.8 .1 16.4 .1 1.2 .1 1.8 0-12.8 .1 .3 0-34.3 .1 3 .1 16.5 0-1.6 .1-2.7 0 14.8 .1-30.7 0-9.3 .1-51 .1 10.8 0 46.5 .1-4.6 .1 11.1 0-8.6 .1-1.1 .1-1.2 0 3.1 .1 14 0 8.8 .1-7.4 .1 1.7 0-12.7 .1-8.7 0 5.2 .1-8.5 .1 9.5 .1-28.6 0 10.2 .1 4.1 0-49 .1-12.7 .1 19.6 0 38.4 .1 7.9 0-26.6 .1 27.2 .1 39.4 0-18 .1-77.4 .1 6.7 0-8.3 0 16.2 .1-29.1 .1-4 0-2.8 .1-1.9 .1 11.3 0 13.4 .1-27.8 .1-1.7 0-.1 .1-.4 0 0 .1 .1 .1 .1 0-.2 .1 0 0 .3 .1-.1 .1-.3 .1-.1 0 0 0 .2 .2 1.3 0-1.2 .1 .2 0 .9 .1-.3 0 15.4 .1 60.6 .1-5.3 0-44.5 .1 14.8 0 16.7 .1 33.9 .1-29.9 0-6.2 .1-34.2 0 9.9 .1-25.7 .1-5.2 0-1.1 .1 1.1 .1 .9 .1 14.2 0 1.4 .1 16.8 0 2.3 .1 33.1 .1-16.3 0-2.8 .1-4.9 0-.3 .1-2.7 .1-3.4 0-10.9 .1-7.7 .1 .2 0 42 .1-12.6 0-8.6 .1-25.4 0-13.9 .1-1.1 .1-.3 .1-.5 0 1.5 .1-.3 .1 9.1 0 12.6 0 43.3 .1 22.8 .1-71.6 0 11.3 .1 12.3 .1-30.5 0 25.5 .1 8.6 .1-15.4 0 10.3 0 27.1 .1-25.8 .1 19.7 0 15.6 .1 26.7 .1-44.6 .1 12.4 0-4.5 .1 .4 0 24.2 .1-32.2 0 31 .1-3 .1-37.3 0 23.2 .1-16 .1 26 0 11.7 .1-13.4 0-3.5 .1 6.1 0 36.8 .1-49.4 .1-6.3 0 22.8 .1-.6 .1-4.8 0 26.4 .1 6.3 .1-16 .1-15.1 0 21.2 0 19.2 .1-19.3 .1 8.1 0 0 .1 21.7 .1 5.7 0-19.3 .1-10 0-1.3 .1-18.1 .1 26 .1-39.1 0 18.1 0-5.9 .1-9.2 .1 8.3 .1 3.7 0-48.3 .1 70.8 .1-11.1 0 8.4 0 18.4 .1-23.9 .1-2.1 .1 12 0 10.8 0 7.6 .1-12.7 .1-1.4 .1 6.3 0-2.1 .1-22.1 .1-10.6 0-.9 .1 7.3 0-17.9 .1 7.7 0 10.1 .1 16.4 .1 10 0-3.3 .1-5.6 .1-41.9 0 .6 .1-7.1 0-24.4 .1-3.1 .1 27.3 0-20.8 .1 3.4 0-5.4 .1 46.8 .1-19.2 0 16.9 .1-1.6 .1 8.3 0 19.6 .1-14.9 0-31.2 .1-1.8 .1 26.4 0 33.3 .1-4.8 .1 15.4 .1 2.3 0-35.3 0 20.4 .1 4.6 .1-13.7 0 7.8 .1 4.1 0-23.3 .1 .8 .1-43 0 13.9 .1-.7 0-40.3 .2-7.4 0-1.7 .1-26.6 0-.9 .1-.1 0 .3 .1 .8 .1 6 0 20.4 .1-23.9 0 27.7 .1 17.3 0 26.1 .1 14.6 .1-8.7 .1 24.4 0-4.9 .1-3.9 0 15.1 .1-68.1 0 4.2 .1-19.2 .1 41.3 0 33.2 .1-13.5 .1 3.4 0-2.3 .1 31.5 .1-17.1 0-11.7 .1 9.3 0 18.7 .1-15.9 .1-25.1 0-42.7 .1 6.5 0-11.6 .1-22.9 .1 8.7 0 20.1 .1 1.7 .1-7.8 0 9.8 .1 35.6 0 1.6 .1 34 .1 18.1 .1-41.5 0 51.3 .1-13.9 .1-29.6 0-57.2 .1 28.4 0 7.6 .1 15.2 0 13.3 .1-31 .1-22.6 0-11.4 .1 39.8 .1 28.2 0 5.9 .1-23.8 0-35.6 .1 56.3 .1 13.3 0 20.4 .1-9.3 0-13.3 .1-4.4 .1 12.3 0 .6 .1-.3 0-13 .1-52 .1-1.7 .1-27.3 0 3.6 .1-2.8 0 19.4 .1-6.5 .1-39 0 2.9 .1 6.7 0 19.5 .1-10 .1 50.6 0-37.4 .1-27.3 0-9.8 .1-2.4 .1 23.6 0 50 .1-14.9 0-2.7 .1-2.8 .1-35.2 0-1.9 .1 9.7 .1 1.7 0 33.6 .1 32 0 1.8 .1 15.1 .1 4.1 0 7.9 .1-22.9 .1-18.3 0-1.8 .1-48 0 13.1 .1-22.6 .1 11.1 0-18.1 .1 25.1 0-32.5 .1 57.9 .1 41.7 .1-2.6 0 .8 .1 27.5 0 1.8 .1-37.9 0-7.9 .1-24.3 .1 5.9 0-6.5 .1 .3 0 14.9 .1-24.8 .1 24.7 0-14.4 .1 25.3 .1-41 0 31.2 .1 21.6 0-5.1 .1-4.6 .1 17.7 0-35.8 .1 29.6 .1 2.3 0-22.4 .1 13.8 0 20.6 .1-3.1 .1-47.9 0 22.7 .1-17.7 .1-3.4 0-.5 .1 6.4 0-9.1 .1-23.6 .1 27.2 0 4 .1 33.6 0-34.6 .1 5.6 .1 1.5 0-21.5 .1 23.1 .1-21.9 .1 7.1 0-29.8 .1 20.7 0 16.5 .1 16 .1-33.1 0-8.3 .1 41.9 .1-16.7 0-44.3 0 11.2 .1-38.7 .1-2.3 .1-.6 0-.6 .1-.5 0-.5 .1 .1 .1 0 0 0 .1 .5 .1 .5 0 13.8 .1 8.3 0-21.4 .1 1.1 .1-1.3 0-1 .1 1.3 0-.8 .1-.9 .1 2.6 0 3.4 .1 8.4 0 33.4 .1 18.5 .1 21.4 0 2.4 .1 28.5 .1 16.3 0 12.9 .1-3.2 .1 5.9 0-8.8 .1 4.4 0-24.6 .1-23.3 0 16.5 .1-1.1 .1 25.6 .1-18.5 0-20.4 .1 11.8 0-5.7 .1 12 0 16.2 .1-22.6 .1 19.2 0-14.2 .1-5.3 .1 38.6 0 4.2 .1-8 0-.3 .1-10 .1 .7 0-64.7 .1-57.4 .1-6.6 0 5.6 .1-10.7 0-.7 .1 10.5 .1 57.3 0-5.4 .1-13.5 .1 5.8 0 42.4 .1-15 0-57 .1 .4 .1 18.8 0-10.1 .1-23.3 0 2.1 .1-13.6 0-1.7 .1-.1 .1 2.1 .1 4.6 0 31.5 .1-29.1 .1-.2 0 20.6 0-11.9 .1 1.5 .1 2.4 0-7.4 .1-1.1 0-10.4 .2 0 0 22.2 .1 53.6 0 34.3 .1-24.5 0-38.6 .1-28.5 .1-18.5 .1 37.1 0 17.5 0 10.3 .1 14.4 .1 7.4 0-12.6 .1-12.2 0-22.3 .1 13.8 .1-2.5 0 2.3 .1 2.2 .1-1.4 0-37.1 .1 2.3 0-4.4 .1-15.4 .1 22.2 .1 21 0 17.2 .1-13.3 0-13.5 .1-26.6 0 6 .1 18.5 .1 4.1 .1-15.5 0-3.1 .1 8.8 0-12.5 .1 0 .1 30.5 0 12.7 .1-11.7 0-3.5 .1 31.3 0-35.5 .1 60.6 .1-23.7 .1-56.1 0-14.2 .1-3.7 0 3 .1-3.2 .1-1.3 0-.6 .1 .2 .1-.1 0-.1 0 .2 .1-.1 .1-.1 .1 .4 0-.5 .1 0 .1 .1 0 .7 0 .6 .1-1 .1 .3 .1 7.3 0-2.7 0-2.7 .1 15 .1 60.9 .1 14.9 0-5.5 .1-45 .1 6.3 0 32.5 .1-2.9 0 29.5 .1-28.2 .1 8.5 0 30.3 .1 22.7 .1-21.2 0 9.6 0 2.8 .1-10.4 .1-2.6 .1-45.3 0-39.1 .1 3.7 0 14.9 .1 5.4 .1 16.7 0-26.3 .1 22.1 0-46.7 .1-3.3 0 5 .1 5.1 .1 22.6 0 16.5 .1 9.3 .1 10.2 0-.8 .1 27.4 .1 2.6 0 8.3 .1-1.9 0-6.1 .1 2 .1 10.6 0-58.2 .1 24.8 .1 7.9 0 25.1 .1-1.1 0 15.7 .1-13.8 .1-3.4 .1 3.1 0 8.7 .1-17.5 .1-8.5 0 3.9 0 9.7 .1-6.1 0-13.8 49.1-55.3 .1 1.6 .1 17.8 0-6.5 .1-10.5 .1-16.3 0-13.2 .1 29.9 .1 .1 0-9.7 .1-2.6 0-7.1 .1 0 .1-5.6 0-.8 .1 23.7 .1 13.1 0-29.5 .1 .5 .1-24.9 0 1.8 .1 4.1 0-12.5 .1 20.4 .1-13 .1-11.5 0 15.7 .1 6.3 0 24.7 .1 15 .1 15.2 0-5.7 .1-8.9 .1-.3 0-9.3 .1 7.4 .1 6.2 .1-24.1 0-14.5 .1-5.3 0 25.3 .1-6 .1-32 0 43.4 .1 36.4 0 26.5 .1-17.8 .1 11.1 0-10.7 .1-43.5 .1-14.4 0-30.9 .1 13.7 .1-4.5 0-10.7 .1 15.5 .1 9.1 0 10 .1 44.1 .1-40.8 0-.5 .1 23.1 0 29.3 .1-27.1 .1-25.6 0 3 .1-.8 .1 9.9 0 23.8 .1 7.6 .1-31.8 .1-13.9 0 8.5 .1-7.5 0 18.4 .1-14.5 .1 19 .1 .3 0 14.3 .1 5 0-42.7 .1-3 .1 17.1 0-27.2 .1-26.6 0-4.5 .1-.3 .1 .2 0 0 .1 .9 0 12.6 .1 2 .1-6.8 .1 6 0 2.5 .1 19.1 .1 28.1 .1 30.7 0 14.7 0-8.2 .1-7.4 .1-13.3 0 6.2 .1-.7 .1-22.3 0 2.3 .1 4.8 0-9.4 .1 14.8 .1 7.4 .1-56.8 0-20.6 .1-6.5 .1 2 0 2 .1-3.7 .1 3.9 0 10.9 .1 5.9 0 30.6 .1 7.6 .1-13.2 0-14.1 .1-6.2 .1-2.9 0 .7 .1-22.6 .1 12.6 0 14.9 .1-21.2 .1 5.9 0 16.7 .1 29.8 0-20.9 .1 4.6 .1 41 0-21.7 .1 40 .1 1.4 0 13.1 .1-31 .1-24.9 .1-31.4 0-2.9 0 30.7 .1-36.4 .1-8.7 .1 3.5 .1-16.4 0 8.7 .1-.9 0 3 .1-10.1 .1 6.5 0 3.4 .1 31.9 .1-15.9 0 18.9 .1 34.2 .1 6 0 28.6 .1-9.7 .1 1.1 0-11.7 .1 18.2 0-37.5 .1-44.7 .1-14.9 0 1.3 .1-16.6 0 16 .1-2 .1 22.2 0 .2 .1-.3 .1 22.3 .1 5 0-.7 0 7.5 .1 30.4 .1 8.4 0-13.5 .2-23.8 0-.3 .1-18.4 0-21.6 .1-7.1 .1-9.3 0 28.5 .1 7 .1-43.7 0 4.1 .1-2.1 0 22.4 .1-11.7 .1 19.8 .1-4.8 0-28.4 .1-3.2 0-2.3 .1 23.5 .1-12.2 0 26.8 .1 1.9 .1 24.8 0-21.6 .1 2.3 .1 6.5 0-6.2 .1 18.9 0 40.2 .1-10.3 .1-7.5 0 13 .1-14.6 .1 15.6 0 4.8 .1-4.5 .1 3.1 0-55.4 .1 29.5 .1 22.5 0-4.8 .1-1.5 .1-26.5 0 22.8 .1-25.9 .1-5.1 0 5.4 .1 12.7 0 19.6 .1 6.5 .1-10.4 0 22.4 .1 1.3 .1-14.8 0 14.6 .1-.8 0-6.7 .1-30 .1-25.9 0-13.6 .1 15.3 .1 .1 .1-40.9 0 15.8 .1-21.5 .1 2.7 0 20.5 0 21.8 .1 .1 .1 4.4 .1-19.7 0-27.1 .1 43.7 0 20 .1 1.2 .1-30.6 0-4.8 .1-25.6 .1 33.4 .1 14 0 20.8 .1 3.2 .1-18.1 0 19.6 .1-.1 .1-33.4 0 15.3 .1-45.8 0-21.4 .1-3.8 .1-.3 .1 .5 0 3.1 .1-2.6 0 6.1 .1 7.9 .1 36.2 0-3.8 .1-14 0 32.7 .1 15.9 .1-11.5 0 .6 .1-15.3 .1 7.7 0 18.3 .1 19.6 .1-21.1 0-11 .1-11.2 .1-1.3 0 7.1 .1-1.7 .1-19.3 0 33 .1 2.8 0 7.3 .1 1.4 .1 10.1 0 1.1 .1-15.6 .1-2.7 .1 3.4 0 7.7 .1 16.8 0 1.5 .1-14.5 .1-21.9 0-8.3 .1 13.5 .1 20.9 .1 3.8 0 3.2 0-3 .1-25.4 .1-12.8 .1-6.9 0-4.6 .1 13.9 0-35.8 .1-24.5 0 7.4 .1-1 .1-13.4 .1-.2 0 .2 .1 16.2 0-3.7 .2 17.4 0 .7 .1 14.5 0-12.7 .1-17.7 0-5.3 .1 12.9 0-3.9 .1-.7 .1 31.5 .1-22.9 0 44.4 .1-11.9 .1 55.6 0-5.5 .1 27.4 0-2.1 .1 15.6 .1 2.4 .1-34 0-29.6 .1 9.2 0 4.6 .1-7.6 .1-29.5 0-25.1 .1 44.2 .1 18.8 0-17 .1 9.6 .1-19.1 0 28.8 .1 6.4 .1 2.3 .1-8.4 0-4.4 0-69.9 .1-27.7 .1 8.7 0 14.9 .1 .5 .1 3.5 .1 25.8 0-3.7 .1-22.6 .1 36.3 0-20.9 .1 6.2 0-16.2 .1 12.9 .1-7.4 0-24.2 .1-1.1 0-14.1 .1 36.2 .1-2.4 .1 13.3 0 21.1 .1-5.1 0 16.7 .1 3 .1 16.6 0-6 .1-12.8 .1-36.2 .1 15.1 0-41 .1 6.9 0 3.3 .1-30 .1 5.5 0 6.8 .1 6.3 0 7.6 .1 5.4 .1-12.1 .1 10.4 0 .8 .1 15 0 22 .1-23.2 .1-32 .1-1.3 0 .8 .1-9 0 6.6 .1 4.8 .1-2.6 0-5.1 .1 5.6 0 15 .1-11.2 .1 26.1 .1-8.9 0-16.6 .1 1.7 0-.4 .1-2.3 .1 4.8 0-13.9 .1 14.2 0 1.7 .1 2.7 .1 3.6 .1-10.9 .1 11.2 0-4.5 .1 12.3 0 47 .1 36.4 0-24.2 .1 20.4 .1 38.3 0-15.3 .1-15.1 .1 6.2 0 14 .1-6.8 .1 19.9 .1-41.9 0-2.2 .1-27.2 .1 5.6 0 .6 0 6.8 .1 43.5 .1-27.9 .1-6.9 0-13.2 .1-17.3 .1 .2 0-54.7 .1 22.3 .1 10 0 8.8 .1 20.4 0-4 .1-6.2 0-29.4 .1 29.7 .1-9.9 0 19.7 .1-42.1 .1 5.2 .1 13.7 0-16 .1 18.3 .1-3.9 0-30.4 .1-5.2 0 46.7 .1-6.1 .1 8.4 0 3.3 .1-37 .1 3.6 .1-13.1 0 4.8 0 14.3 .1 8.3 .1 30.1 .1 17.8 0-39 .1 2.6 .1 29.9 0-5.3 .1-36 0 33.9 .1 19.8 .1-19.5 0 1.7 .1 10.8 0-16 .1 27.1 .1-5.4 .1 35.1 0-29.8 .1-14.7 .1 13.2 .1-22.9 0 1.1 .1 1.2 0 20.1 .1 33.1 .1 3.3 0-35.8 .1-10 0-8.1 .1-61.4 .1 25.4 .1 6.9 0-4.1 0-14.2 .1-12.3 .1-13.8 .1 48.7 0-38.6 .1-11 0-11.4 .1-4.8 .1-5.3 .1 14.3 0 29 .1 6 .1 8 0 16.4 .1-.3 .1 26.4 0 21.5 0 25.9 .2 9.8 0 13.4 .1 1.6 0 1.2 .1 .3 .1-.8 0-21.3 .1-45 .1 7.1 0-4 .1-9.7 0-3.5 .1 5.7 .1 6.7 .1-12.4 0 4 .1 12.8 0-24.5 .1 13.6 .1 43.7 0 21.1 .1-10.4 .1-52.8 0-27.8 .1-.4 .1 25 0 1 .1-64.4 .1-9.3 0 4.6 .1-12.8 .1 18.1 0-22.1 .1 42 0-12.5 .1-4.6 .1-6.8 0 32.7 .1 8.6 0-5.1 .1 27.4 .1-7.2 .1-20.3 0-26.2 .1-8.3 .1 10.7 0-10.6 .1-11.9 .1 4.3 0-28.1 .1 0 0 0 .1 6.6 .1 23.5 0 28.3 .1-2.2 .1 20.3 0 4.3 .1 12.6 .1-22.7 0 37.3 .1-22.2 .1-19.5 0-35.2 .1-25.9 .1 1.5 0-.2 .1-6.6 .1 .1 0 6.7 .1-1.3 0-5.6 .1 11.9 .1 22.7 .1-16.2 0 41.4 0-13.7 .2-41.8 0 1.5 .1-6.4 0 .6 .1 4.1 .1 8.5 0 46.3 .1 31.1 .1 33.6 0 35.2 .1 1.6 0-49.7 .1-8.3 .1-8.5 0 10.9 .1-49.3 .1-14 0 1.8 .1 13.9 .1-19.1 0 48.5 .1 15.1 0-8.3 .1-26.7 .1 26.4 .1 15.7 0-26.4 .1 17 0-48.6 .1-20.1 .1-16.9 .1 41.8 0-14.8 .1-26.3 .1-6.1 0 19.4 .1 2.3 .1 51.1 0 18.9 .1 14.1 0 32.5 .1-30.8 0-19 .1-58.8 .1 2.6 0-16.4 .1-4.6 .1 10.6 0 36.7 .1-22.8 .1 35.7 .1-3.9 0-48.1 .1 40.8 0-27.1 .1-26 0 5.4 .1-4.5 .1-5.4 .1 13.4 0-12.6 .1-4.5 .1 1 0-8.7 .1 .2 0 24.4 .1 6.8 .1-7.4 0 16 .1-8.7 0-.1 .1-20.4 .1-10 .1 19.1 0 26.3 .1 3.8 0 4.1 .1-21.1 .1-9.7 0 4.9 .1 .5 .1 32.4 0 1.1 .1 14.5 .1 20.1 0-36.3 .1-36.8 .1-9.8 0 14.8 .1-22.6 .1 10.7 0-12.7 .1 11.9 0-15.9 .1 15.8 .1 29.9 0 8.4 .1-.3 .1-28.5 .1-10.4 0-11 .1 29.5 .1-18.5 0 18.8 0-4.3 .2-2.3 0 6.2 .1-17.7 0 16.6 .1 50.7 0 21.8 .1-4.2 .1 14.7 0-4.7 .1-16.5 .1-26.4 0-18 .1-30.7 0 39.9 .1 39.1 .1 5.2 0 57.7 .1-18.2 .1 5.9 .1 14.9 0-33.3 .1-29 .1 3.1 0-12.5 .1 4.5 0 1.7 .1 1.5 .1-27.5 .1-1.8 0 11.6 .1-16 0-9.4 .1-32.7 .1 3.3 0 11.6 .1 66.4 .1 11.8 0 13.7 .1 20.8 .1 7.5 0 6 .1-27.3 .1-4.6 0-23.7 .1 31.7 .1-24.8 0-2.1 .1 6.5 0-18.9 .1 9.2 .1-11.8 0 3.4 .1-4.2 .1 1.5 0-39.4 .1-21.2 .1-2.9 0-16 .1 12.1 .1-12.9 0 29.5 .1 25.1 0-34.3 .1 4.2 .1 33.2 0 2.8 .1 19.7 .1-46.1 0-20 .1 .8 .1 38 .1-10.4 0-17.7 .1 19.1 0 20.2 .1 14.7 0-10.5 .1 6.9 .1 1 .1-1.3 0 9.6 .1-14.4 0 4.7 .1-.1 .1-1.7 0-8.1 .1-13.3 .1 5.4 0-2.5 .1-18.4 .1 10.1 0 9.8 .1-1.2 .1 13.9 0 19.5 .1-11.4 0-3.6 .1-30.9 .1-9.9 0 25.1 .1 38.1 .1 32 0-19.8 .1-13.2 .1 12.6 0 36.1 .1 7 .1-13.9 0-17 .1-24.9 .1-10.1 0-17.8 .1-10.5 .1 3.7 0-.2 .1-1.7 0 14.4 .1 7.1 .1 7.7 0-4.8 .1-4.7 0-16.1 .1-38.7 .1-2.2 .1-15.3 0-23.9 .1 1.2 .1 14.3 .1 1.8 0-9.7 0-4.4 .1 5.5 .1 17.9 0 10.6 .1-24.3 .1-7.9 0 8 .1-12 .1 22.8 .1 4 0-3.5 .1 80.6 0-38.6 .1 31.6 .1-8.6 0 16.8 .1-27.7 .1-15.9 .1-1.6 0-29.4 0 3.4 .1 9.2 .1-28.9 .1-14 0-1.7 .1 0 .1 1.3 0 20.8 .1 14.4 .1 1.1 0 24.1 .1-17.7 0-7.3 .1-26.2 .1-10 0 8.5 .1 17.2 0-3.3 .1-14.8 .1 23.9 0 52.3 .1-41.1 .1-28.3 0-15.2 .1 .3 .1 3.9 .1 18.6 0-9.2 .1 .9 0 34.8 .1 15.1 .1-3.5 0 13.2 .1-7.8 .1 27.2 0 19 .1 17.6 .1-19.2 0 4.6 .1-9.2 .1 19.3 0-23.2 .1-26.2 0-1 .1 26.6 .1-13.3 0 10.2 .1 13.8 0-41.1 .1 15.2 .1-11.2 .1-1.3 0 4.2 .1-22.7 0 5.1 .1-28 .1 2.9 .1-17.7 0 13.3 .1 5.2 .1 28.3 0 25 0 .6 .2 6.2 0-23.4 .1 15.2 0-19.8 .1 24.1 0 12.7 .1-8.6 .1 7.3 .1-4.6 0 14.9 .1 6.7 .1-6.1 0 22.7 .1-16.4 0 23.4 .1-26.8 .1 38.7 0 10.5 .1 1 0 1.1 .2-16.4 0-36.2 .1 4.5 0-24.9 .1-25.3 .1 15.8 0 20.4 .1-10.3 .1 45.6 0 17 .1 8.7 .1-12.2 0-9.8 .1 19.7 .1-32.4 0-25.8 0 14.5 .2 31.8 0 8.5 0 4.3 .1-32.4 .1 29.4 .1 9.4 0-3 .1-.3 .1-1.2 0 4.5 .1-.6 0-39.4 .1-24.1 .1-3.5 0-3 .1-10 .1-6.5 .1-29.9 0 7.1 .1 3.3 .1 12.6 0-8.5 0 16.3 .1-9.8 .1 17.9 0-43.8 .1 42.2 .1-33.7 0 6.9 .1-6.7 .1 6.4 .1-35 0-18.1 .1-3 .1 19.3 0-9.8 .1 30.4 .1-9.6 0-17.3 .1-14.9 0 3.7 .1 3.2 0-5.1 .1 9.5 .1 19.4 .1-21.2 0-17.7 .1 .3 0 6.3 .1 .9 .1 26.1 0-11.5 .1-3.5 .1 12.8 .1-6.5 0 31 .1-10.7 .1 35.5 0 3.5 0-20.9 .1-15.3 .1-33.7 .1 42 0-16.5 .1 15 .1-19.5 0 14.6 .1 21 .1-10.4 0 4.2 .1 30.1 0-34.2 .1-28.1 .1 6.5 .1-16.9 0-1.7 .1-19.8 0 5.7 .1-.1 0-5.8 .1 4.7 .1 27.3 0-2.1 .1-13.6 .1 45.2 0-16.3 .1 27.2 .1 10.3 .1-9.3 0 7.1 .1 7.9 .1 14.7 0-8.2 .1-27.7 0 18 .1-72.5 .1 2.3 0-14.6 .1 23.7 .1 15.8 0-7.7 .1 31.9 0-11.4 .1-22.1 .1 11.9 0 24.6 .1 25.9 .1-38.1 .1 12.5 0-5.7 .1 12.1 .1-11 0-48.1 .1-.1 .1 21.6 0-22.4 .1 36.6 0-8.2 .1 5.9 0 23.8 .1-13.1 .1-15.1 0 36.1 .1 12.9 .1-19.2 .1 7.1 0-30.6 .1 14 0-23.8 .1 .2 .1-21 0 27.7 .1 .8 0 4.2 .1-14 .1 26.1 0-4.9 .1 16.7 .1 9 0 9.2 .1-7.6 0-9.1 .2-15.7 0-27.2 .1-5.6 .1-8.8 0 1.7 .1-21 .1 .5 0-1.4 0 0 .1 13.1 .1 21.1 0-33.8 .1 .6 .1-.5 0-.1 .1-.5 .1 6.7 0-6.4 .1 .4 .1 8.4 0-8.8 .1 2.7 .1 14.8 39.3 15.5 .1-4.4 0-13.7 .1 1.6 0 26.6 .1 24.4 .1-4.3 0-58.2 0 14.1 .1 6 .1-7 0-.8 .1-2.4 0-7 .1 9.8 0-17.2 .1-.5 .1 8.4 0 19.6 .1-25.6 0-1.7 .1 .4 0 7.1 .1 36.5 0-11.5 .1 28.5 0 3.5 .1 3.9 0-3 .1 50.8 0 24.7 .1 12.3 .1 2.6 0 .6 0-2.2 .1 .2 0-1.8 .1-19.7 .1-36.4 0 20.6 .1 3.3 0 15.3 0-8.4 .1 4.6 .1-20.1 0-1.9 .1-1.8 0-26.6 .1-58.2 0 51.6 .1-1.5 0 36 .1 34.2 0-21.3 .1-3.5 .1-22.9 0-57 .1 5.5 0 51.6 .1 35.9 0-14.7 .1 1.7 0-37 .1 16.1 0 19.7 .1-25.2 .1-31.7 0 8.1 .1-8.3 0-36.2 .1 2.3 0 17.8 .1-35.5 0 8.9 .1 18.5 0-4.6 .1-18.6 0 8.8 .1 1.8 0 17.6 .1 10.9 .1-28.9 0 15 .1-27.6 0 12 .1 76.9 0-9.9 .1 38.7 0-48.1 .1-31.1 0-1.6 .1 18.8 0 14.6 .1-29.2 .1 27.5 0 19.7 .1 30.1 0-22.1 .1-26.6 0 43.8 .1 3.9 0-11.3 .1-80.5 0 8.4 .1-8.5 0 42.6 .1-14.7 .1-41.6 0-6.1 0-16 .1-1.7 .1 .8 0-.9 .1-.1 0 .2 0 .1 .1 .2 .1 1 0-.4 .1 .2 0-.6 .1 .2 0 21.4 .1-6.3 .1-8.6 0-5.2 .1 10.2 0-12.7 .1-.2 0 .8 .1 42-230.7 126 .1-10.3 .2 5.3 .1-2.9 .2-2.1 .1-2.6 0-4.8 .2 8.5 .1-13.7 .1-2.8 .1 2.9 .2 14.5 .1 2.6 .1 8.2 .2 2.3 0-1.6 .1 1.6 89.5-45.2 .1-2.8 .2 0 0 0 .3 15.3 .2-14.7 0 7 .1-1 .2-2.6 .2 .6 .1 1 .1-1.3 .1-1.1 .2 2.1-429.6 44.9 50.5 .6 .1-2.7 59.5-.9 .9 7.3 38.1-.3 56.3 24.2 7.8-21.3 58.5-10 3.3 15.1 62.6-15.5 .3 17.6 60.3-13.7 29.9 24.6 1.7-21.9 17.4-7.7 66.3 32.9 5.9-17.2 27.5-13.6 12.4 13.1-222.9-47.5 .1-2.2 .1-1.2 .1 1.1 .1-5.2 .1-6.3 .1 10.7 .1-5.3 .1 22.7 .1 4 .1 10.6 .1 1.7 0-4.9 .1 4.1 .1 .5 .1-7.9 .1-3.5 .1-.2 .1 6.1 0-1.9 .1-10.3 .1 0 58.8-9.6 .2 13.4 .2 1.6 .2-16.3 .1-1.7 .2-3.6 .2-2.8 .2-4.8 .1-7.3 .2-3.5 .2 1.2 0 2.4"/><path class="sa" marker-mid="url(#ab)" marker-start="url(#ab)" marker-end="url(#ab)" d="m102 740.1 .1-11.4 .1 13.5 0-25.6 0-21 .1-2 .1 2.3 0 12.8 .1 9.9 .1 12.8 0 36.1 0-41.4 .1-20.8 .1-10.2 0 .4 .1 .5 .1 3.6 0-4.4 .1 2.4 0 1.4 .1 .4 0 3.4 .1 18.7 .1-23.8 0 5.4 .1 3.8 0 10.2 .1 48.4 .1-33.5 0 4.7 .1-3.8 .1 2.6 0 21.5 .1 15.4 0-7.9 0 16.3 .1 14.9 .1 3 0-21.9 .1 25.6 .1-5.3 0-13.8 .1-17.2 0-14.9 .1 60.3 0 15.3 .1-4.5 .1-9.3 0 3.9 .1 4.8 0 16.1 .1-36.7 0-7.6 .1-12.3 .1 13.9 0-28.8 .1-8.8 0-38.1 .1 67.9 .1-5.8 0-3.4 0 63.8 .1-19.3 .1-67.4 0 55.4 .1 34.5 0 9.1 .1 2 .1 2.2 0-3.5 .1-37.9 0-16.8 .1 32.4 .1 5.3 0-8.5 .1 6.3 .1 14.3 0-1.2 0-.8 .1 4.8 .1-1.6 0-13.3 .1-25.9 .1-8.5 0-6.8 .1 26.1 0 12.8 .1-2.7 0-1.6 .1 18.4 0 1.7 .1 3.9 .1-3.4 0 1.7 .1-2 0-14.3 .1-46.3 .1 7.6 0 26.5 .1 19.5 0 0 .1-3.6 0-31.9 .1 1.3 .1-24.3 0-18.7 .1-27.9 0-5 .1-2.5 .1-24.4 0 12.3 .1 7.3 0 40.2 .1 32.3 .1 1.4 0 31.4 .1-16.9 0-64.2 .1 0 0-9.6 .1-24.3 .1-18.2 0 30.4 .1-19 0-3.4 0-2 .1 12.2 .1 16.3 .1 41 0-47.7 0-5.4 .1-14 .1 10.5 0-9.4 .1 0 0 37.4 .1-6.8 .1-6.4 0 123.1 .1-30.1 .1-17.8 .1-39.2 .1-28.1 .1 83.9 0-51.9 .1 35.1 0 11.1 .2-4.2 0 19.3 .1-47.1 .1-3.8 .1-55.2 .1 28.2 0 38.7 .1-53.8 .1-2.6 .1 45.1 0-6.2 .1-18.8 .1-50.7 .1 85.4 .1 47.4 0-83.4 .1 50.1 .1 15.7 .1-26.2 .1-49.7 .1-29.8 0-2.4 .1-19.7 0 13.2 .2 27.5 0-50.6 .1 71.5 .1-46.5 .1 30.1 .1 25.5 0-1.1 .1-68.3 .1 59.2 .1-41.2 .1 54.1 0 18.7 .1-99.1 .1 29.9 .1 24.3 .1 27.6 0-25.4 .1 28.2 .1 55.7 .1 6.2 .1 25.3 0 4.2 .1-43.3 .1-11.3 .1-34.6 .1-47.6 .1-18.2 0-3.4 .1 69.5 .1 60.7 0-54.3 .1-61.7 .1-.7 .1 51.9 .1-12.2 0-28.7 .2 19.3 0 69.9 .1 18.6 .1 21.1 0-5.7 .2 6.2 0-62.8 .1 28.6 .1 3.7 0-53.7 .1-14.6 .1 24.3 .1 31.2 .1-11.2 .1 6.1 0-12.7 .1-69.2 .1 59 0-19.4 .1 17.1 .1-57 .1 10.4 .1 36.4 .1 15.1 0 36.2 .2 7 0-47.1 .1 12.6 .1-.6 .1-28.8 0-47.3 .1-18.8 .1-7.8 .1 21 0 61.7 .1-.8 .1 37.8 .1-6.4 .1-21 0 1.6 .1-30.6 .1 41.4 .1-58.2 0-7.6 .2-62 0 57.5 .1-16.7 .1 31.8 .1 65.9 0 12 .1 7.7 .1 9.7 .1-30.5 0-.1 .1-31.1 .1 7.3 .1 5.8 0 45.9 .1-50.5 .1 37.5 .1-15.8 .1-.5 .1-41.4 .1 17.2 0 20.6 .1-48.2 .1-15.3 0 45.1 .2 14.1 .1-8.8 0 3.4 .1 27.9 0 4.2 .1 32.2 .1-7.5 .1-17.5 .1 22.8 .1 11.2 0-9.1 .1 15.1 .1 .9 .1-10.8 .1-45.6 .1 26.1 0-86.7 .1 4.8 .1-28.9 .1 30.9 .1 5.3 0-29.7 .1 16.3 .1-29.6 .1 8.5 0-13.3 .1-17.9 .1-8.6 .1 8.3 0-41.4 .1-10.8 .1 7.9 .1-5.5 .1 23.9 0-20.2 .2-10.8 0 7 .1 9.7 .1 12.2 0 20 .2-13.2 0 26.3 .1 60.1 .1-9.5 .1 18.1 0-21.2 .1 29.9 .1-20 .1-14.3 .1 48.5 0-20.2 .1-8.6 .1 39.4 .1 3.4 0-9.9 .1-12.7 .1 20.6 .1-87.2 .1-41.6 0-19.1 .1 2.3 .1 42.3 .1 21.6 0 22.9 .1 53.3 .1-38 .1 20.2 0 28.2 .1 7.2 .1 18.3 0-25.4 .1 21.4 0 19.9 .1 7.5 .1 .1 .1 0 0-11.5 .1-20.4 .1-1.1 0 9.6 .1 15 .1 3.3 0-27 .1-12.5 .1-25.2 0 6.2 .1 3.6 0 36.3 .1-3.5 .1-2.6 .1 18 0 5.3 .1-11.1 .1 8.2 0 3.6 .1 3.4 0-7.9 .1-26.9 .1-14.3 0 35.8 .1-1.9 .1 .6 0-6.8 .1-9.1 .1-11.1 0-6.2 .1-18.9 0 30.2 .1-43 .1-15.7 .1-14.4 0-79.3 0 1.1 .1-7.2 .1-2.7 .1 1.3 0 28.1 .1 9.2 .1 25.7 0-49.4 .1-2 .1 2.9 .1 14.8 0-11.7 0-12.1 .1-1.1 .1 38.3 0-3.4 .1-33.8 .1-3.9 .1 9.5 0-1.9 .1 7.2 .1-24.6 0 .1 .1 .4 .1 2.9 0 1.2 .1-7.1 .1 1.1 0 .4 .1-.9 .1 .1 0 3.8 .1 8.8 0 3.8 .1 23.3 .1 76.6 .1-35.2 0 62.9 0-6.5 .2 17.5 0 10.2 0-51.4 .1-10.4 .1 72.4 .1 17.8 0-11.1 .1-5 0 2.8 .1-8.3 .1-89.7 .1 11.5 0-7.6 .1 43.7 0-63.2 .1 23.9 0-1.8 .2-10.8 0 43.9 .1 2.1 0-1.2 .1 20.2 .1-17.5 0 62.6 .1-3.1 .1 9.6 0-35.6 .1-4.9 0-43.5 .1-35.7 .1 .5 0-32 .1 9.8 .1 28.9 0 1.1 .1-1.6 .1-29.1 0 .2 .1 36.6 .1-27.8 .1 20.7 0 2.3 .1 34.9 0-32.6 .1-3.6 .1 38.2 0-21.9 .1 25.4 .1 52.5 0-6.1 .1 6.7 0-10 .2-95.7 0 15.4 0 15.3 .1-30.8 .1-30.2 0 5.9 .1 .5 .1-30.8 .1-4.5 0 4.2 .1-10.4 .1 4.2 0 2.2 0-1.5 .2 10.3 0 28.4 .1-19.2 0-10 .1-.5 .1 56.2 .1 .9 0 11.6 .1 66.8 .1-54.1 0-16.7 .1-42.9 .1 25.2 0 42.1 0 55.6 .1-2 .1 17.3 .1-21.8 0-25.7 .1-25.4 0-27.3 .1 10.7 .1-1.4 .1 17.9 0-17.3 .1 66.2 .1 42.5 0-2.6 .1 10.5 0 .2 .1-40.1 .1-10.9 0 12.5 .1-13.8 .1 14.3 .1-37.3 0 39.5 0-42.3 .1 24 .1-45.3 .1-16.3 0 37.5 .1-61.1 0-19.9 .1 20.2 .1 71.5 .1-35.8 0-6.9 .1 36.4 0-33.2 .1-14.6 .1-24.3 0-31.4 .1 50.5 .1 39.3 0 32.8 .1-46.8 .1 27.1 .1 12.9 0 20.6 0-62.9 40.1 7.9 .1 6.4 0-9 .1 44.1 0-17 .1-35.9 0 23.4 .1-28.3 0 32.5 .1-7.9 .1-63.4 0-2.5 .1-13.5 0 3 .1 16.5 0 61.1 .1-43.6 0-24.2 .1-6.8 .1-11.5 0-1.3 .1 1.3 0 9.4 0-7.2 .1 12 .1-14.6 0 1.4 .1-1.8 0 13.7 .1-5.6 0-8.6 .1 8.8 0-6.5 .1 15.5 0 27.4 .1-17.6 0 70 .1 12.4 .1-28.2 0-11.9 .1-8.3 0 12.2 0 5.1 .1-5.4 .1-20.7 0-30 0-3.3 .1 26.5 .1-.8 0 22.1 .1-56.5 0-4.9 .1 20.9 0 32.1 .1 12.9 0 17.9 .1-58.2 0 5.1 .1 2.1 .1-15.7 0 19.5 .1 55.1 0 .7 .1 17.5 0-18.7 .1-3.2 0 21 .1 28 .1 34.3 0-23.7 .1 14.9 0 4.3 0-31.2 .1-40.4 .1 4.7 0-15.7 .1-21.7 0-36.4 0-8.6 .1 53.1 .1 9.3 0-.6 .1 .9 0 28.8 .1-14.3 0 23.3 .1-26.4 .1-24.4 0 12.5 .1-14 0 44.6 .1 39.7 0-4.4 .1 26.9 0-16.8 0-2.1 .1 15.5 .1-21.8 0-8.2 .1 .6 0 26 .1-9 0-22.7 .1 15.7 .1-28.2 0 6.6 .1 19.8 0-6.6 .1 16.6 0 21.4 .1 2.1 0-1.3 .1-11.4 .1-153.8 0 42.2 .1 32.4 .1 2.9 0 35.5 .1 9 .1 8 .1 5.9 0-44.8 .2-1.1 0 58.7 .1 3.1 .1-2.5 .1-1.9 .1-5.6 0-4.6 .1 12.1 .1-3.9 .1 2.1 .1-6.2 0 1.8 .1-.8 .1 4.9 .1 5 0-4 .2-7.7 0 9.6 .1-11 .1-.6 .1-19.7 0 3.8 .1-24 .1 1 0-17.5 .2 43.1 0 17.9 .1-21.6 .1-17.2 .1 7.6 .1 .3 0-20.6 .1-66.4 .1-54.4 .1 26.5 0 15.2 .1-20 .1-30.4 .1-10.3 .1-11.5 .1 .9 0-3.9 .1 5.1 0-2.5 .1 8.7 .2 2.5 0-6.7 .1-4.7 .1 .3 0 6.7 .1 14.1 .1-14.2 .1-7.3 .1 4.1 .1 29.6 0-20.1 .1-7.2 .1-9 .1 7.3 0-1.1 .1 4.5 .1 22.8 .1-4 0 31.3 .2 25 0 12.7 .1-.4 .1-26.4 .1-23.3 .1-12 0 4.4 .1-10.2 .1 43.2 0-19.2 .1-27.7 .1 30.4 .1-8.2 .1-21.1 .1 24.4 .1 7.9 0 41.6 .1 48.1 .1 20 .1-2.9 .1-12.8 0-35 .1-15.3 .1-25.1 0 34.2 .2-45 0-19.7 .1-41.4 .1 6.6 0 51.7 .2-27.3 0 13.5 .1 24.6 .1 32.1 .1 49.1 0 2.4 .1-35.3 .1 32.3 .1-39.6 .1 10.6 0-12 .1-28.7 .1-28.7 .1 48.4 0-6.3 .1 1.9 .1-32.9 .1-9.8 .1 8.9 .1-17.6 0 16.9 .1 20.8 .1-21.5 .1-26.9 .1 59.9 0-53.7 .1-15.6 .1 63.2 .1 16.4 .1 20.1 0 18.2 .1 6.6 .1-11 .1 5 0-50.4 .1 27.7 .1-26 .1 45.3 0 25.3 .1-12.4 .1-6.5 .1-3.3 0 21.8 .1-29.4 .1-60.1 .1 20.7 .1-17.5 0 50.6 .1-35 .1-5.2 .1-19.6 .1 54.9 .1-37.7 0 26 .1-29.1 .1 58.4 0-4.5 .1 20.9 .2 9.4 0-34.5 .1-8.8 .1-86.7 0-10 .1 3.6 .1-12.5 .1 2.3 .1-4.9 .1 84.6 .1 30.2 0 23.1 .1-33.1 .1-1.3 0-16.3 .1 39.6 .1-9.4 .1-105.5 0-23.3 .2-3.6 0 10.7 .1 9.5 .1-19.1 .1 12.3 0-10.9 .1 1.9 .1-9.9 .1 19.9 .1-9.3 0-8.7 .1 11.9 .1 29 .1 2.8 .1-41.3 0 23.5 .1-5.1 .1-7.9 .1 69.5 0-36.9 .2-26.2 0-1.2 .1 5.3 .1 30.6 .1-16.7 0 8.3 .1 .2 .1 55.9 .1 29.7 .1-15 0-20.5 .1-.6 .1-54.7 .1 44.1 .1 5.2 0 32.7 .1 13.9 .1 13.6 .1-18.9 0-37.9 .2 47.1 0 37.4 .1 8.7 .1-23.5 .1 18.5 0-7.7 .1-32.9 .1 30.6 0 3.9 .2 1.1 0-3.2 .1 10.2 .1 18.6 .1-57 0-55.1 .1-24 .1 50.8 .1-50.8 .1 11.2 .1-.9 0 31.6 0 13.1 .2 21.5 0-3.4 0-18.9 .1 7.3 .1 9.3 .1 11.5 0-57 .1 16.3 0-22.6 .1 58.6 .1-7.4 0 30.6 .1-9 .1 30.1 .1 26.2 0-28.5 .1-29.4 .1 2.9 0-6.3 .1 21.1 0 34.3 .1-34.1 .1-5.7 0-.8 .1 10.5 .1 6.8 .1-4.2 0-11.4 .1 8.2 0-23.6 .1 20.1 .1-2.2 .1 2.6 0-8.2 .1-8.4 0 17.3 .1 13.6 .1 29.2 0-4 .1 5.9 0 1.9 .1-31.6 .1-13.5 0-7.8 .1-68.7 .1 .8 0 28.4 .1-45.5 .1 4.1 .1 .8 0-3.5 0-31.4 .2-6.8 0-27.4 .1 27.4 0 65.1 .1-9.8 .1-1.8 0 25 .1-13 .1 7.2 0-4.2 .1 23.1 .1-59.8 0-45.1 .1-14.6 .1-2 0-3.6 .1 1.4 0 22.7 .1-16 .1-8.2 0-.3 .1 5.2 .1 1.3 0 7.5 .1-11.1 .1 20.4 0-6.9 .1 9.1 .1-8.4 0 27.3 .1-37.8 0 4.8 .1-10.6 .1 14.2 .1-1.2 0 2.5 .1 20.7 0-9.5 .1-10.8 .1-8.9 0 12.2 .1 13.6 .1 62.5 0-42.8 .1-21.1 .1-21.6 0-7.4 .1 19.9 .1-18.5 0 8.9 .1 14.1 .1 49.6 0 8.1 .1-62 .1-5.4 0 13.6 .1-32 0-.3 .2 3.2 0 .6 .1 .9 0-.5 .1 14.5 .1 31.4 0-27.4 .1-12.4 .1 53.1 0-56.3 .1 12 .1-17.6 0 9.4 .1 23.4 .1-2.4 0-16.1 0-7.9 .1-1.4 .1 .4 .1-5.2 0 3.9 .1-5.8 .1-.6 0 0 .1 8.7 .1-.9 0 .1 .1 36.3 0 14.6 .1 23.8 .1 32.9 .1 48 0-26.3 .1-52.1 .1 23.3 0-50.3 .1 24.5 0-3.4 .1 39.4 .1 22.1 0 36.8 .1 1.1 .1-17.6 0-21.5 .1 48.5 .1-15.4 0-1 .1 1.1 .1-47 .1-3.2 0-5.9 .1 9.9 0-1.2 .1-14.5 .1 15.3 0-56.8 .1 49.4 0-3.6 .1 19.5 .1 5 .1-7.8 0-3 .1-39.6 .1 .7 0 52.4 .1-10 0 12.3 .1 28.7 .1 18.9 0 9.7 .1-2.1 .1-33.4 0-3.1 .1-8.8 .1 19 0-.5 .1 1.1 0-4 .1-12.6 .1-21.5 .1 12.3 0-4.8 .1-2.6 .1-11 0-24.8 .1 4 .1 20.3 0 4.2 .1-16.6 0 14.5 .1-47.3 .1-43.4 0 25.5 .1-36.1 .1-12.4 .1 3.6 0 3.2 .1 6.5 .1-17.1 0 24.3 0-15.7 22.1 104.9 .1 10.4 .1 22.5 0-16.1 .1 10.8 0-20.3 .1 .8 .1 17 0-22.6 .1-7.8 .1 56.5 0-34.6 .1-1.4 0 13.3 .1-5.7 .1-37 0 27 .1-27.7 .1-67.2 0-1.1 .1-8.9 0-3.7 .1 6.6 .1 .3 0-4.1 .1-4.9 .1 1.5 0 8.4 .1 16 0 52.9 .1-2.9 .1-12.8 0-7.7 .1 10.7 .1 22.1 0 22.1 .1-47.9 .1-11.1 0-6.2 .1 .5 0 48.5 .1 47.3 .1-2.8 0-45.8 .1-13 .1 12.2 0-15.6 0 11.6 .1-27.6 .1 32 .1-47.3 0-6.6 .1-6.5 0 10.8 .1-9.9 .1 35 0 17.9 .1-21.6 0 11 .1-23.1 .1-30.3 0 37 .1 21.9 .1 2.1 0 .5 .1-38.9 0 28.5 .1 8.4 .1 10.1 .1 42.3 0 1.4 .1 13.5 .1-5.4 0 8.9 0-3.1 .1 2.5 .1-2.7 0-3.9 .1 19.1 0-2 .1-37.4 .1 17.2 0-21.3 .1-3 .1 23.2 0-3.2 .1 9 .1 4.9 0 21.7 .1 6.8 .1-5.6 0-21.7 .1 2.2 .1-4.4 0 5.9 0 10.3 .1-31 .1-33 .1 41.4 0-30.3 .1 3.7 .1-29.6 0 19.1 0 6.8 .1 2.7 .1-17.6 .1-20 0-22.8 .1-21.9 0 2.8 .1 25.6 .1 15.2 0-4.7 .1 13.9 0 19.6 .1 28.5 .1-17.8 .1 9.7 0 7.3 0 23.6 .1-7.5 .1 18.4 .1 7.1 0-1.5 .1-3.1 0 .1 .1-7.8 .1-11.9 0-8.5 .1 2.2 .1 3.1 0 .8 .1 6.1 .1 29.2 0 .3 .1-2.3 0-15.2 .1-17.4 .1 5.3 0-1.7 .1-12.6 0-32.7 .1-11.3 0-30.4 .1-15.9 .1 20.3 0-11.9 .1 35.3 .1-39.9 0 34 .1 8.1 .1-13.9 0 33 .1 54.1 .1-10.8 0 1.2 .1-15.6 0-3.2 .1-15.6 .1 6.2 0-3.2 .1-56.9 .1 17.7 0-3.5 .1-24.3 0-8.3 .1 15.6 .1-11.6 0 19.2 .1 47.9 .1 26.2 0-75.8 .1 62.9 .1-29.3 0 27.7 .1 2.7 0-64.4 .1 5.5 .1 12.1 .1-35.4 .1 8.1 .1 44.6 0 4.4 .1-45.8 .1-60.9 .1 .1 .1-40.3 0 17.7 .1 1.5 .1 4.3 0 13.8 .1 12.4 .1 27.7 .1-22.1 .1 92.2 0 .1 .2-31.3 0 17.4 .1-11.7 0-92.8 .2 2 0-16.5 .1 9.6 .1 41.5 0-50.7 .1 12.3 .1-17.8 .1 9.3 .1 5 .1-.4 0 2.7 .2 18.9 0 50.4 .1-48.3 0-9.1 .1-9.2 .1 1.5 .1-10.1 .1-22.7 .1 2.9 0 24.3 .1-.6 .1 12.8 .1-19.7 0-14.7 .1-8.6 .1 10 .1 25.2 0 49 .2 4.5 .1-3.5 0-23.6 .1-38.6 .1 3.7 0 86.7 .2 45.5 0-.2 .1-48.3 .1-2.9 .1 8.1 0 5.7 .1-58.3 .1 1 .1 62 .1-21.3 0-40.1 .1-10.5 .1 84.6 .1-16.5 0 66.3 .1-15.2 .1-27.2 .1-7.7 0-38.3 .2-74.9 .1 4.1 0 15.8 .1-6.3 0-19.1 .1-1.7 .1 16.6 .1-4.1 .1-5.9 .1-1.8 0-16.2 .1 6.7 .1-5.2 .1-3.2 0 21.8 .1 2.3 .1 18 .1 24.9 0-45.5 .2 22.2 0-2.4 .1 23.7 .1-9.4 0 46.2 .1 4.3 .1-17.3 .1-11.9 .1-29.2 .1-7.2 .1-3.8 0-4.1 .1 10.6 .1 60.1 0-74.2 .1 12.7 .2-10.4 0 15.6 .1-14 0 25.7 .1 15.9 .1 .5 .1 45.5 .1-7.1 .1-80.2 0-22.9 .1 21.8 .1 16.4 .1-8 .1 57.4 .1-14.8 0-30.9 .1 53.2 .1 5.4 .1 29.8 .1 42.8 0-9.6 .1-16.2 .1-8 0 15.7 .1-53.4 .1 29.2 .1-75.1 .1 56.5 0 50.7 .1-30.4 .1-14.2 .1-33 .1 41.3 0 39.2 .1-54.6 .1 37.5 .1-43.9 0 23.5 .1-20.5 .1-27.4 .1 12.3 .1-27.5 0-8.9 .1-34.7 .1 7.7 .1-8 .1-36.7 .1-2.5 0 13.2 .1 3.5 .1 10.7 .1-25.9 .1-1.3 0-2.4 .1 4 .1 17.7 .1-3.9 .1 9.8 0 74.4 .1-20.4 .1-14.4 .1 9.3 0-48 .1 25.1 .1-32.9 .1-17.8 .1 46.8 0 31.2 .2-1.7 0 9.5 .1 8.7 .1 41 0-8.4 .2-82.8 0-24.9 .1 18.6 .1-8 .1 19.3 0-11.1 .1-16.2 .1 10.4 .1-19 0 13.5 .1-8.1 .1 41.8 .1-38.6 .1 29.2 .1 1.8 0 24.5 .1 73 .1 51.9 .1-3.5 0-20 .1 7.2 .1-21.7 .1-6.1 .1-14.9 0-20.7 .1-.4 .1 27.9 .1 17.8 0 16.5 .1 27.5 .1-49 .1 6.2 .1-1.4 0-52.1 .1 54.5 .1 27.1 .1-12.5 .1 1.2 0-8 .2-21.6 0-32.4 .1 41.3 .1-26.6 0-3.6 .2 .7 0 27.3 .1 25.5 0 14.2 .1-7.8 .1-25.9 .1 15.3 0 9.1 .2-7.8 0 7.4 .1-4.4 .1-23.9 .1 8 0-13.6 .1-4.4 .1-27.4 .1 21.9 .1 36.4 .1-3.2 0-10.6 .1 7.5 .1 27.7 .1 1.5 0-23 .2-29.5 .1 9.5 0 11.6 0-3.8 .1 37.7 .1-3.4 .1-22.7 .1-11.8 0-34.7 .2-58.3 .1 5 0-29.8 .1-5.3 .1 2.6 .1 2.6 0 .9 .1 56.6 .1 28.1 .1 11.8 0-23.6 .2 24.3 0-20 .1 54.2 .1 2.9 0 1.1 .1-17.1 .1-32.4 .1-68.8 .1 83.5 0 22 .1-22.7 .1-22.2 .1 26 .1 46.3 0-19.9 .1-47.4 .1-52 .1 35.5 .1-2.5 0 41.6 .1-4.5 .1 21.2 .1-17.7 0 26.6 .1 6.9 .1-21 .1 11.4 .1-7.5 .1-14.5 0 17.3 .1 3.6 .1 6.5 0 23.6 .1-13.6 .1 .4 .1-2.6 .1 10.8 .1 2.7 .1-6.8 0-6.1 .1-40.1 .1 16.6 .1 3.3 0 26.6 .1-27.3 .1 26.3 0 .9 .2-5 0-9.3 .1 9 .1-13.1 .1-30.2 .1-73 0 11.3 .1-46.3 .1 12.8 .1-2.6 0-28.9 .1 1.2 .1-30.3 .1 15.3 .1 45.6 .1-47.1 .1 33.3 0-43.3 .1 1.6 .1-4.6 .1 17.6 0 9 .1 4.6 .1-16.8 .1 9.3 .1 .7 .1 16.2 0 5.8 .1 50.2 0-37.4 .2-50.6 0 10.2 .1 .7 .1-3.8 .1 29.6 0-9.1 .1-16.6 .1-11.8 .1-10.2 0-5.5 .2 3.3 0 11.2 .1-3.8 .1 11.9 .1 5 0 41.4 .1 23.9 .1 43.7 .1-25.3 .1-11.2 0 33.8 .1 1.5 .1-3.4 .1 6.8 .1 15.9 0 38.7 .1 6.1 .1-36.8 0 33.2 .2 22.1 0-10.5 .1 3.6 .1-50.8 0 5.4 .1 1 .1 17.1 .1-16.7 .1 10.9 0-38.2 .2-65.9 .1 28.1 0-2.4 .1 12.6 0-.4 .1-24.3 .2 18.1 0-.6 .1-30.2 .1 21.2 0 42.2 .1 5.3 .1-49 0-7.3 .2 5.1 0-18.3 .1 49.1 .1 32.3 .1 5.5 .1-27.3 0 11.6 .1 26.2 .1-7.5 .1-18 .1 27.6 .1-14.4 0-35.3 .1-52.7 .1-17.2 0-6.4 .2-38.2 0-8.7 .1-2 .1 6.9 .1 12.6 0-8.8 .1-7.6 .1 23.1 0-7.1 .1 14.1 .1-4.8 .1-6.7 .1-18.7 .1 13 0 14.4 .1-11.5 .1 22.6 .1 31.8 0-36.6 .2 27.1 .1-30.9 0 55.2 .1-31.2 .1 15.3 0-8 .1 15.8 .1-11 .1 12.5 .1-3.6 0 18.3 .1 38.4 .1-32.2 0-22.3 .1-4.4 .1-22.7 .1 .3 .1-19.3 .1-33.7 .1 19.3 .1-2.5 0 13.3 .1 11.7 0 5.3 .1 36 .1 24.6 .1-35 .1-12.6 .1 15.4 0-20.4 .1-13 .1 70 .1-39.7 .1-6.9 .1 9.7 .1 13.5 0 15.6 .1 21.3 .1-4.1 0-50.3 .1-20.5 .1-15.7 0 8.6 .1 25.9 .1-14.7 0 24.4 .1 21 .1-.7 0-4.4 .1 55.3 .1-13 0-59 .1 34.3 .1 57.6 0-29.6 .1 36.3 .1-30.5 0-27.6 .1 36.1 .1-32.7 0 14.6 .1 4.6 0 39.9 .1-19.7 .1 37.5 .1-14.5 .1 1.9 0-67.8 .1-15.8 .1-3.1 0 37.1 .1-15.8 0-24.1 .1 47 .1 13.5 .1-31.6 0 20.1 .1-42.7 .1 42.2 0-2.1 .1-3.9 .1 3.9 0-32.1 .1 9.3 .1-7.1 .1-35.3 0-26.5 0 15.1 .2 9.8 0 6.3 0 20.5 .1-21.4 .1-3 0-1.8 .1-26.8 .1 .8 0-6.3 .1 69.8 .1-24 .1 15.3 0 33.8 .1 26.3 .1-28.7 0-12.2 .1-7.8 .1-14.1 0 8.4 .1 59.4 .1-55.3 0 78.4 .1 9.8 .1-14.9 .1-19.5 0 3.5 0-33.3 .1-30.5 .1 61.6 .1-46.9 .1 4.1 0-26.8 .1 10.4 .1-40.1 0 52.1 .1 37.4 .1-16.1 0 3.8 .1-33.3 .1-20.4 0 78 .1-61.9 0-45.4 .1 15 .1 21.4 .1 25.4 0 12.6 .1 13.5 0 17.9 .1-109.2 .1 6.6 .1 33.9 0-24.1 .1 25.2 .1-19.1 0 21.5 .1-33.9 0 50.6 .1-2.4 .1 19.7 .1-7.5 0-69.5 .1 3.6 0-12.1 .1-4.6 .1 29.9 .1-27.1 0 6.4 .1 14.3 .1-4.2 0 .5 .1 24.9 .1 39.7 .1-22.7 0-36.6 .1 2.3 0-12.5 .1-13.9 .1-14.9 0 1 .1 30.7 .1-18.7 .1-5.2 0-3.8 .1 23.9 .1-22.6 0 17 0-17.2 .1 2.2 .1 3.2 .1 10 0 38.2 .1-6.8 .1-11.7 0 23.4 .1-4.8 .1 24.2 .1 43.6 0 11.7 .1 2.2 .1 12.5 0-3.6 .1 4.6 .1 9.8 0 5.8 .1-8 0 4.6 .1-35.9 .1-49 0 32.3 .1-27.4 .1 1 0-12.5 .1-7.4 .1 68.7 0 14 .1-31 .1-4.7 0 26.1 .1 .7 .1-53.6 .1-21.3 0 2.4 .1 4.9 .1-12.6 0-19.2 .1-.6 .1 15.2 0 3.4 .1-54.8 .1 52.5 0 30.5 .1-9.2 .1-25.4 0-5.2 .1 36.5 0-32.1 .1-29.2 .1 6.7 0-4.1 .1-15.9 .1 8 .1-2.9 0 3.4 .1 1 .1 16.5 0 2 .1-11.9 .1-20.4 0 67.5 .1 6.3 .1 9.3 0 42.4 .1-22.1 .1 64.7 0-25.7 .1-35.8 .1-20.8 .1 .5 0 10.4 .1-51.8 .1-8.2 0 7.8 .1 22.3 0 51 .1-14.1 .1-32.5 .1 45.2 0-37.3 .1-26 0 1.1 .1-36 .1 62.2 0-48.1 .1 22.4 .1 12.6 .1-16.4 .1 53.2 0 24.9 0-5 .1 34.7 .1 7.2 .1-9.6 0-15.3 .1-9.6 0-79.8 .1-26.4 .1 17.8 .1 1.9 0-14.3 .1 38.4 .1-36.7 .1 5.6 0 4.8 .1-25.4 0 34.4 .1-8.5 .1-21.6 30.4 53.7 .1-13.2 0-3.1 0-37.5 .1 25.2 .1-10.4 0 97.6 0 8.1 .1-74.9 0 13.9 .1 18.1 0 92 0-2.9 .1-37.6 0-19 .1-20.8 0-17.9 .1 98.1 0-2 .1-37.2 0-56.9 0 .3 .1 59.5 .1 36.4 0-15.3 0-14.8 .1-82.2 0-24.5 0-.9 .1 69.7 .1 13.9 0-108 0-22.1 .1-.7 0-2.7 .1-16.4 0 82.4 .1-43.6 0-32.3 0 14.1 .1 32.4 0 20.4 .1-61.1 0 111.4 .1-44.2 0-49.5 0 42.5 .1-44.3 0-2.9 .1 108.9 0 67.5 .1-8.1 0-5.6 .1 4.3 0-72.6 .1 53.4 0-18.4 0 3 .1-31.3 0 66 .1-95.4 0-8.4 .1-53 0 22.1 .1 9.9 0 11.9 0-21.6 .1 57.4 58.5 24.8 .1-26.7 0-5.4 .1 50.7 .1 19.8 0 22.7 .1-13.9 .1 8.8 0-16.3 .1-29.4 .1 35.3 0 1.1 0 17.2 .1-5 .1-58.1 .1-3.9 0-23.8 .1 29.8 0 14.5 .1-2.1 .1 8.9 0 16.8 .1-2.6 .1-41.1 0 32.3 .1-13.6 0 22.9 .1-22.1 .1-58.7 0-9.2 0-3 .1 0 .1 0 .1 15.4 0-4.6 .1-10.8 0 25.1 .1-6.4 .1-3.7 0 44.7 .1 38.9 0 11.2 .1-19.2 .1-3.1 0 19.3 .1-18.1 0-24.8 .1-41.7 0 16.4 .1-.2 .1 .5 0-8.7 .1 79.7 .1 8.1 0-29.4 .1 11 .1 11 0 7.4 .1-8.3 0-43.3 .1-14.3 .1 26.3 0 20.1 .1-12.2 0-45.7 .1-37.1 0 12.1 .1 32.8 .1-36.3 .1 40.6 0-14.5 .1-24.2 .1 17.1 0-14.6 0-16.5 .1 6.6 .1-6.6 0 2.7 .1-2.7 .1 0 0 0 .1 9.5 .1 26.5 0-15.8 .1-9 63.3-115.9 .1-1.4 .1-.5 0 7.2 .1 19.9 0 1.7 .1-18.6 .1 12.6 0-1.3 .1-22.4 0 16.7 .1 4 0 3.7 .1-18.6 0 18.5 .1 42.9 .1 74.3 0 4.7 .1 37.9 0-18.2 .1 36.2 0 2 .1 8.5 .1-3.6 0-10 .1 8.5 0-33 .1 11.6 0-17.9 .1-9.2 .1 22.6 0-4.5 .1-22.8 .1 38.7 0-25.4 .1 .1 0-10.8 .1 2.8 0 38.8 .1-11.6 .1-41 0-55.4 .1 36.4 0 49.2 .1-26.7 .1 46.8 0-78.6 .1-7.5 0 2 .1-29.7 .1 0 0 31.2 .1-64.6 0-19.5 .1-3.3 0 20.1 .1 8.6 0-7.9 .1 2.8 .1-31.2 .1 37.8 0 15.9 0-4.3 .1 53 .1 20.7 0 64.5 .1-22.1 0-51.4 .1-41.2 0 26.4 .1 28.6 .1 42.2 0 24.5 .1 4.8 0-44.7 .1-38.6 .1 16.4 0 24.7 .1 8.7 0-15.1 .1 11.1 .1-5.2 0-46.1 .1 11.6 0-7.6 .1-67.6 0 7.1 .1 13.1 .1-42.1 0 5.4 .1 13.9 0-10.3 .1 26.4 0-8.7 .1 16.5 .1-38.5 .1 .8 0-3.3 .1-43.4 0-1.1 .1 12.5 0 29.7 .1-8.8 0 47 .1-51.4 0-15.1 .1 17.7 0-25.4 .1 14.8 .1-4.8 0 13.4 .1 31.8 .1-47.3 0 16.3 .1-9.4 0 8.7 .1 34.8 .1 22.6 0-56.2 0-27.2 .1 58.7 .1-12.4 .1 14 0-39.5 .1-3.5 0-19.4 .1 1.3 0-3.1 .1-1.8 0 1.2 .1 3.7 0 31.8 .2 20.2 0-50.8 0-2.2 .1 2.3 .1-5.5 0-.9 .1 .6 0 1.4 .1-1.3 0-.1 .1-.9 .1-.2 0 0 .1 1.2 .1 1.4 0-1.4 .1-1 0 1.6 .1-.9 0 .7 .1 4.6 0 7.5 .1 4.5 .1-14.5 0-2.4 .1-1 0 .4 .1 1.7 .1 4.1 0 33.2 .1 118.5 .1 19.2 0 13.6 .1-25.3 0-40.5 .1 14 0-48.8 .1-14.4 .1 55.8 0 20.7 .1 38.3 0-19.2 .1 23.5 0-48.7 .1-23.5 0-65.2 .1 9 .1 14.6 0 10.9 .1 41.8 0-18.8 .1 26.5 .1-41.7 0 43.9 .1 37.8 .1-15.8 0-82.9 .1-4.1 0 80.2 .1-3.4 0 66.1 .1-1.9 0-25.6 .1-15.8 0 24.8 .1-17.3 .1 18.9 0-72.9 .1 6.3 .1 9.3 0 11.3 .1 24.4 0-11.4 .1 19.8 0 12.4 .1 5.9 .1-15.8 0 24.7 .1-5.5 0-34.5 .1-30.5 .1 34.2 0 1.4 .1-27.5 0-20.7 .1 58.5 .1-34.3 0-60.3 .1 40.3 0 30 .1 50.3 47-109.2 .1-8.9 .1-1.3 0 25.6 .1 24.6 0 32 .1-39.1 .1 15.9 .1-54.9 0 30.7 .1 .1 0-12.5 .1-6.6 0-32.8 .1 21.2 .1 23.2 .1-35.8 0-14.8 .1-14.7 .1-11.7 0-10.6 .1 4.7 .1 2.5 0-.6 .1-6 0 3.8 .1-2.8 .1 3.4 0-7.3 .1 6.6 .1-7.8 0 18.4 .1 94.8 0 21.4 .2 15.7 0-46.3 0 11.6 .1 13.7 .1-19.4 0-16.3 .1-8.3 .1 35.6 .1-8 0-2.8 .1-22.7 .1 16.1 0-5.8 0 17.5 .1 11.4 .1 9.4 0-2.5 .2-4.3 0-8 0 29.6 .1-16.2 .1 12.6 .1-17.2 0 8.5 .1 4.7 0 2.6 .1-33.4 .1 34.2 0-44.9 .1 44.4 .1-7.7 0 5.1 .1 8.3 .1 15.7 0-6.5 .1-3.1 0 10.1 .1-10.8 .1 22.1 .1-6.2 0-13 .1-11 .1 17.5 0 15.9 .1-17.7 .1-5 0 24.6 .1-4.2 0-41.5 .1 12.3 .1-18.4 0-33.5 .1 38.6 .1 14.6 0 .1 .1-30.4 .1 41.1 0-10.8 .1 7 0-61.9 .1 53 .1 23.6 0-26.5 .1 14 .1-5.1 0-3.9 .1 14.6 .1 11.6 0-2.3 .1-8.2 .1-24.3 0 30.3 .1 3.9 0-9.8 .1-7.3 .1-20 0 19.3 .1 12.2 .1 13.9 0 .6 .1-10.7 .1-13.1 0 19.9 .1 1.6 0-13.4 .2-20.8 0-13.3 0 23.6 .1-9.5 .1 2.6 0-30.1 .1 1 .1 28.4 .1 26.9 0 3.8 .1-14.6 0-14.2 .1 5 .1-21.2 0-20.9 .1-55.2 0-13.7 .1-6.6 .1-21.5 .1 21.9 0-11.9 .1 1.4 0 7.1 .1-10.2 .1-5.6 .1-10.6 0 12 .1 28.4 0-10.7 .1 63.8 .1-58.8 0-17.5 .1-5.7 .1 8.4 0 31.4 .1-2.9 .1 7.8 0-21.9 .1 23.4 0 39.1 .1-5.5 .1-19.2 .1-2.4 0-41.9 .1-1.2 0-31.2 .1 10.8 0-14.6 .1 14.6 .1 32.6 .1-7.8 .1 1.1 0 20 0 .8 .2-3.8 0 19.7 0-6.2 .1-7.8 .1 15.4 0 29.2 .1-2 0-3.5 .2-50 0 13 0-5.3 .2 .9 0 31.5 .1 16.8 0 11.7 .1-22 .1 18.3 0 6.2 .1-8.2 .1 26.1 0 .2 .1 27.5 0-19.5 .1 33.5 .1-10.7 0-28 .1-1.8 .1 13.9 0-73.3 .2-13.1 0 37.7 0-45.4 .1 43.7 .1-2.3 .1-7.4 .1 12.5 .1 38.8 .1-1.1 .1-23.7 .1 44.3 0 12.9 .1-5.7 .1 4.8 0 2.6 .1-8.6 .1-5.5 .1 6.6 0 12.3 .2-2.3 0-8.8 .1-8.8 0-75.3 .2-35.4 0-39.5 .1 20 .1 44.1 .1 .9 0-31 .1 62.2 .1 24.2 .1-32.2 0 7.3 .2-10.8 0 .4 .1 18.7 0-6.5 .2 8.3 .1-68.6 0-21.5 .1 34.4 .1-35.8 0 26.7 .1-6 .1 28 .1-7.9 .1 17.2 0-33.4 .1 8.2 .1-22.7 .1 66.3 .1 26.3 .1-8.4 0 17 .1-3.1 .1 8.9 0-23.8 .1-12 .1-41.5 .1-3 .1 52.9 0 25.5 .2-15.2 0-12.1 .1 18.4 .1-4.8 0-7.2 .2 29.3 0-5.1 .1-68 .1-42.4 0-45 .2-8.7 0-3.1 .1 14.3 .1 12.4 .1-5.7 0-16.4 .1-9.2 .1 4.2 .1-5.9 .1 20.8 0 25.9 .1-24.9 .1 25.3 .1-13.5 0-10.5 .1 47.8 .1-9 .1 43.7 .1-7.4 0 56 .1-18.5 .1 53.2 .1 17.6 0-5.2 .1-21 .1-21.7 .1-48 .1-34 .1 72.2 0-4.7 .1-11.8 .1 23.5 .1-29.1 0 19.9 .1-9.3 .1-34.5 .1-10.9 .1 29.6 .1 22.1 0 30.1 .1 22.4 .1 11.6 0-3.9 .2 4 0-26.7 .1 23.1 .1-43.2 .1 2.7 0-19 .1-16.6 .1 41.2 0 2.6 .1 15 .2 .5 0-2.1 .1-2.2 .1-7.5 0-30.8 .2-99 0-9.7 .1-28.5 .1-4.1 0 18 .1 4 .1-11.1 .1 19.7 .1-23.2 .1-9 0-3.6 .1-2.2 .1 0 .1-.1 0 5.8 .1 8.3 .1-9.5 0-2 .1 26.5 .2 23.5 0-3.1 .1-26.1 .1-13.1 .1 12.6 .1-7.3 0-12.2 .1 22.4 .1-4 0 13.1 .1-18.2 .1 16.1 .1 17.5 .1 2.1 0 10.1 .1 6.9 .1 30.8 .1-1.4 .1-1.9 .1 10.9 0 24.6 .1-51.8 .1-27.1 .1 21.2 .1-15.6 .1-19.7 0 .9 .1-11.1 .1-7.8 0 46.5 .1-39.3 .1-4.6 .1-22.7 .1 .6 0-.9 .1 4.8 .1 28.8 .1 31.6 .1 13 0-2.3 .2 6 0-56.8 0-17.8 .1-7.5 .1 3.3 .1-3.2 .1-1 .1 23.4 0-1.1 .1 2 .2 7.8 0 17.8 0-1.2 .2-12.8 0 5.4 .1-15.9 .1 0 .1 14.7 .1 37 0-28.1 .1-5.3 .1 18.8 .1 16.9 .1 5.1 0 68.4 .1 18.4 .1-52.4 .1 7.5 0-2.3 .1-17.7 .1-48.4 .1 98.2 .1-8.2 0-37.9 .2 13.6 0 20 .1 45.7 0-33.3 .1 10.7 .1-14.4 .1-18.4 0-16.6 .1-50.2 .1 32 .1-46.3 .1-5.4 0-13.1 .2-.7 .1 12.1 0 16.8 .1 3.9 .1-24.1 0 23.2 .1-1.5 .1-31.2 .1 14.3 .1 .8 0 16 .1 43.5 .1 18.7 .1 9.1 0-39.9 .2-42.4 0-29 .1-7.7 0 2.8 .1 27 .1-.4 0-47 .1 8.5 0-15.7 .1 15.5 .1 10.6 .1 7.1 0-2.7 .1 1.6 .1 24.7 0-54.2 .1-5.9 .1 11.6 0-10.3 .1 6.8 .1 9.2 0-10.4 .1-1.6 0 27.3 .1 23.5 .1 42.5 0 10.6 .1 30.4 .1 19.9 0 6.7 .1 25.2 .1-37.4 0 28.8 .1-2.2 .1 18.4 0 22.2 .1-10.5 .1 .1 0 6.5 .1-24.7 .1-69.2 0 6.2 .1-23 0-48.7 .1-.5 .1 24.1 .1 11.5 0-50 .1 38.4 0-22.6 .1 11.3 0-13.8 .1 23 .1-39.6 0-20 .1 6.5 .1 10.1 .1-19.1 0-13 .1 16.2 .1-2.9 0 31 .1-41 .1 13.2 0 19 .1-14.8 0-18.2 .1-2.5 .1-1.5 0 19.2 .1-13.6 .1 0 0-3.5 .1 1.1 .1 34.2 0 13.6 .1 47.8 0 31.7 .2 28.4 0-19.7 0-8.9 .1 44.3 .1-43.6 0 2.7 .1-22.9 .1 15.3 0 36.6 .1 39.3 .1-5.2 0-1.5 .1-23.3 .1-34.4 .1-86.2 0 32 .1-6.1 0 75.5 .1 23.8 .1-15.3 0 32.3 .1 26.4 .1-21.6 .1-31.4 0-28.9 .1 2.7 .1-20.2 0 9.4 .1-9.7 0-12.5 .1-9.4 .1 13.8 0 32.4 .1-32.4 .1 7.9 0 31.4 .1 14.9 0-35.1 .1 31.1 .1-15.9 0 2.3 .1-21.7 .1-20.6 .1-71 0 12.6 .1 23 0 15.5 .1 44.5 .1 18.2 .1-69.3 0 76.9 .1-23.2 0-41.4 .1 44.2 .1 31.2 0-70 .1 48.6 .1-3.7 0-11 .1-23.7 0-32 .2 54.7 0-42.7 .1-16.2 0 8.3 .1-25.2 .1-24.9 0 52.9 .1-49.5 .1 43.2 0 35.6 .1-38.1 .1-1 0 35.3 .1 16.4 0-12.5 .1-46.3 .1 34 .1 20.1 0-1.5 .1 54.4 0-14.7 .1-16.3 .1-31.8 0-33.1 .1-38 .1 30.5 0 5.8 .1-23.8 .1-5.9 0-9.6 .1-12.7 0 8.9 .1-3.9 .1-23.4 0 25.4 .1-18.6 .1 3.1 .1 7.8 0 46 .1 5.2 .1-32.1 0-16.6 0 19.1 .1 19.3 .1-15 .1 60.7 .1 46.9 0-2.4 .1 4.7 0 6.9 .1-.4 .1 2 0 19.5 .1-110.2 0 77.5 .1 6.6 .1-3.5 0 4.8 .1-8.5 .1-27.8 0-.8 .1 36.8 .1 24.9 0-16.6 .1-95 0-22 .1-4.2 .1-10.4 .1-31.3 .1 16.8 0-12.1 .1 17.1 0 25.4 .1-23.1 0 12.8 31 145 .2 1.7 .1 .8 .2-.5 .1 .5 .1 5.1 .2 12.7 .1 2.7 .2 2.2 .1 2.8 .2 0 0-.1 .2-.6 .2-13.2 43.9-50.7 .1 .8 .1 28.7 0-4.4 .1 15.9 .1 10.9 0-16.5 .1-37.5 .1-4.6 .1 3.8 0-35.1 .1 27.1 .1 10.1 0-47.3 .1-41.9 .1 19.8 0 59.2 .1 42.9 0 14.2 .1 11.9 .1 4.6 .1-33.8 0 2.9 .1-77 .1 17.2 .1 1.3 0 4.4 .1 7.6 .1 58.6 0-35.4 .1-30.4 .1-68.8 0 20.4 .1 45.5 0-8.7 .1-11 .1 28.9 .1 28.1 0 14.1 .1-49.4 .1-8.7 0-1.6 .1 12 .1 5.6 0-2.5 .1 31.5 .1 14.1 .1-.1 0-10.4 .1 19.1 .1 5.8 0-5.1 .1-18.3 .1 15.9 0 4.5 .1 24.2 0 5.2 .2 3.4 0-.4 .1-.8 0 .9 .1-2.3 .1-5.1 0-3.4 .1-6.9 .1-42 .1 17.1 0-14.3 .1-2.2 .1-13.4 0 6 .1 12.3 .1 30.8 0 3.6 .1-14.8 .1 .1 .1-4.2 0 33.8 .1-12.4 .1-2.3 0-54.8 .1 28.7 0-10 .1 41.5 .1-24.9 .1-23.2 0 18.8 .1-18.2 .1 56.6 .1-69.1 0 49.3 0-10 .2-29.5 0 53.9 0-31.1 .1 25.1 .1-86.5 .1 37.2 .1 13.3 0-46.4 .1-3.6 .1-1.5 0 10.6 .1-9.8 .1-19.4 0 7.2 .1 60 .1-37.1 0-9.8 .1 38.5 .1-46.7 0 17 .1-49.5 .1 90.3 0-9.2 .1 26.9 0-.6 .2 15.1 0-5.7 .1 .3 0-.1 .1 1.8 .1-12.3 0 28.5 .1 5.5 .1 2.1 .1-2.8 0-10.9 .1 10.3 0-9.4 .1-45.7 .1 49.1 .1 8.6 .1-4.5 0 1.6 .1 .4 0-18.8 .1-30 .1 13.4 .1 7.5 0-6.1 .1-19.1 .1-29.9 0 11.2 .1 32.5 .1 34.4 .1 3.7 0-13.2 .1 .9 .1-56.9 0-28.4 .1 51 .1-26.6 0-54.7 .1 19.2 .1 1.8 0 9 .1 13.9 .1-39.1 .1 46.6 0 30.2 .1 37.8 0-40.2 .1 18 .1-5.1 0-24.5 .1 20.1 0 2.6 .2-6.4 0 27.7 .1-36 .1 36.9 0 5.9 .1-25.1 0 16.5 .1-14.1 .1 33.6 .1-11.4 0-15.4 .1-2.4 .1 5.4 0-9.9 .1 20.1 .1-7.5 0 5.1 .1-40.7 .1-7.5 0 32.2 .1 22.3 .1 1.9 .1 9.9 0 .6 .1-.2 0 .4 .2-3.2 0-.1 .1-4.6 0-.2 .1-50.2 .1-32.6 .1 42.3 0 11.9 0 34.7 .2-3.3 0-47.2 .1-86.2 0 13.3 .1 49.9 .1 1.5 .1-1.4 0-23.4 .1 22.9 0-1.6 .1-1.6 .1-9.2 .1-31.7 0-15 .1-10.7 .1-27.7 .1-22.9 0 38.5 .1 12.6 0 28.2 .1 4.8 0 30.3 .1 37.8 .1-20.3 .1-40.1 .1-46 0 1.6 .1-3.1 .1 6.3 .1-4 0 90.8 .1-22.7 0-16.5 .1-69 .1-8.7 0-4.4 .1-26.3 .1 12.4 .1 16.8 0-8.9 0-17.2 .1-3.5 .1 25.2 .1 17.3 0 4.4 .1 20.2 .1 10.2 0 63.1 .1 26.9 .1-13.2 0-44.2 .1 10.2 .1 20.9 .1-.9 0 24.6 .1-51.6 .1-7.8 0 65.7 .1-5 .1 6 0 16.9 .1-64.6 .1-25.5 0 37.9 .1 36.7 .1-16 .1-14.3 0 20.7 .1 33.5 0 9.2 .1-.1 .1-.2 0-3.7 .1-1.8 .1-12.4 0-30.1 .1-22.8 .1-32 .1-4 0-15 .1 65.8 .1-2.8 .1-21 0-40.6 .1 19 .1 54.6 0 30.4 .1 12.8 0-18.5 .1 5.7 .1 12.1 0-22.3 .2 21.1 0-.8 0-43.8 .1-29.5 .1 17.2 .1-11.2 0 20.2 .1 5.8 .1 7.2 0-29.8 .1 51 .1-29.3 .1-27.5 0-38.4 .1 55.3 0 13.5 .1 35.7 .1 9.7 .1-6.8 0-18.8 .1 14.3 .1-18.7 .1-3.7 0-35 .1 52.8 0 5.5 .1-62.5 .1-53.7 .1-28.8 0 18.3 .1-25.5 .1 3.8 0 54.3 .1 45.6 .1 11.3 0-8.4 .1 23.9 .1-2.2 0 17 .1-29 .1-3.1 0-.1 .1-31.6 .1-23.2 0-20.8 .1-28.9 .1-3 0-19.2 .1 24.8 .1-11.1 .1 24.4 0 34.4 .1 19.6 .1 39.4 0-46.2 .1-28.2 .1-48 .1 28.5 0-27.9 .1 6.9 .1-32.8 0-13.6 .1-1 0-.9 .1-8.3 .1-2.9 .1 9 0-7.2 .1 28.1 0 20.1 .2-8.7 0-10.9 .1 21.3 0-.4 .1 36.7 .1-7.8 .1 19.1 0 31.7 .1 6.5 .1 9.2 0-5.1 .1-27.6 .1-6.9 0-10 .1 28.5 .1 19.4 0-27.1 .1 5.5 0 39.7 .2-15.6 0-59.5 .1 60.4 0-44 .1 60.2 .1-8.2 0 .1 .1-26.7 .1-4.7 .1 19.3 0-38 .1 .7 0 7.9 .1-41.4 .1 .6 .1 9.8 0 34.1 .1-35.8 0-4.5 .2 46.4 0 14.4 0 24.6 .2 5.6 0 39.3 0-3 .2-13.1 0-15 .1-6.4 .1-17.3 0-28.3 .1 37.6 0-28.5 .1 18.6 .1 19.1 .1-56.8 0 20.1 .1 4.3 .1-32.8 0 4.2 .1-40 .1 16 0-34.2 .1 14.2 .1-9.7 0 14.4 .1-2.6 .1 22.8 .1-4.5 0 6.3 .1-40.7 .1 22.6 0-10.5 .1-20.4 .1 7.5 0 58.1 .1-46.2 .1-46.1 0 13.2 .1-5.2 .1 13.6 0-29.1 .1 42.8 .1-2 .1-45.7 0 4.8 .1 .3 0 4.8 .1 31.8 .1 3.5 0-30.9 .1 17.8 .1 10.7 0 1.3 .2 17.5 0 2.9 .1-28.3 .1 4.5 0 11.9 .1 .9 0 32.7 .1 43.6 .1 15.8 .1 30.6 0-3.8 .1 9 0-4.8 .1 26.3 .1 7.5 .1 1.7 .1 3.5 0-.5 .1-2.7 .1-3.6 0-7.3 .1-10.4 0 6.7 .1-15.5 .1 .9 .1-27.1 0-59.8 .1-41.7 .1 10 .1-24.8 0-7.4 .1 13.9 0 23.1 .1 16.9 .1 20.1 0 12.2 .1 34.5 .1-53.8 0-36.6 .1-36.7 .1 31.6 0-24.3 .1 29.7 .1-14.4 .1 16.7 0 19.5 .1-44 0 51.6 .1-49.1 .1 3.1 .1-.3 0 10.3 .1-12.5 .1 66.9 0-40 .1 28.9 .1 39 0-10.7 .1 31.9 .1-10.7 0-26.7 .1 5 .1 36.7 0-83.1 .1 4.8 .1-20.3 0 13.2 .1 36.3 .1-18.4 .1 5 .1-3 0-20.6 0-13 .2 40.5 0 26.9 0-48.6 .1-35.8 .1-22.8 .1 11.6 .1-19.7 0 16.7 .1 46.4 0 8.8 .1-7.4 .1 75.9 .1 32.6 0-11.2 .1 3.6 .1 4.8 0-45.5 .1 9.5 .1 44.4-560.5 204.7 12.4-5.8 1.6 31.3 78.6-6.6 19.7-11.9 36.8-.2 28.8 2.8-1.6 1.2 30.2 14.6 7.2-31.8 64.3-.3-8.1 22.6 23.4-21.9-1.7 24.2 62.4-9.4-.2-12.2 44.6 .3 .9 .4 29.8 6.5 18.2 8.7 30.8-11.2 1.5 20.3 25.8-25.6 10.1 28.3 31.2-31.2 3.7 12.3 10-2.4-.2-2"/></g><text x="101.5" y="1142.6" font-size="31.5" text-anchor="middle">0</text><text x="220.7" y="1142.6" font-size="31.5" text-anchor="middle">2000</text><text x="339.9" y="1142.6" font-size="31.5" text-anchor="middle">4000</text><text x="459.1" y="1142.6" font-size="31.5" text-anchor="middle">6000</text><text x="578.3" y="1142.6" font-size="31.5" text-anchor="middle">8000</text><text x="697.5" y="1142.6" font-size="31.5" text-anchor="middle">10000</text><text x="68" y="763.1" font-size="31.5" text-anchor="end">1</text><text x="68" y="895.1" font-size="31.5" text-anchor="end">0</text><text x="68" y="1027.1" font-size="31.5" text-anchor="end">−1</text><text x="399.5" y="1172" font-size="33" font-style="italic" text-anchor="middle">t</text><text transform="translate(15.3 867.6) rotate(-90)" x="0" y="8.7" font-size="33" font-style="italic" text-anchor="middle">x</text><clipPath id="cB1"><rect x="838" y="52.5" width="648.5" height="489"/></clipPath><rect x="838" y="52.5" width="648.5" height="489" fill="#eaeaf2"/><path d="M838 52.5V541.5M1000.1 52.5V541.5M1162.2 52.5V541.5M1324.3 52.5V541.5M1486.4 52.5V541.5M838 52.5H1486.5M838 174.8H1486.5M838 297H1486.5M838 419.2H1486.5M838 541.5H1486.5" stroke="#f3f3f7" stroke-width="1" fill="none"/><g clip-path="url(#cB1)"><path class="sa" marker-mid="url(#by)" marker-start="url(#by)" marker-end="url(#by)" d="m878 253.8-3.7 27.9 21.6 5.2-22.1 47.3 1.2 1.5 48.5-83.2 5.4 4.2-22.8 7.4 16.2 .4 14 17.4-13.5 1.8-9.4 .6 24.5 3-3.4 .1-19 .4 1.8 2.2-4.7 12.2 16.2 1.3-1.4 3.4-23 4.9 15.2 4.6 13.1 1.9-3.2 2.9-18.3 12.5 37.7-107 3.5 2.3 20 2.7-22.6 .9-2.5 3.6 27.2 2.6-21.6 19.2 13.7 1.9-24 1.2 18.1 9.8-9.4 1.7 21.3 .4 1 8.7-23.2 .8 16 4.5-22.3 .8 20.4 .1 9.8 .2-9.9 2.2-13.8 2.1-9.9 .5 25.7 4.8 2.1 .6-14.8 1.8-4.2 3 19.1 1.3-1.9 1.4 7.1 .4 2.5 .7-6.7 .9 6.1 .6-9.5 .8-4.4 .4-10.1 .1 19.6 3.8-13.2 .3 10.7 3.1-4.4 4.6 7.4 5.2-10.3 .6-13.9 3.8 2.1 2.7 22.2 10.3-23.3 1.1 1.6 12.2 20.5 7.2 15-173.8 11 5.9 16.6 8.9-27.1 14.9 24.6 6.5 5.1 10.9-2 1.2-6.9 2.4-24.5 1.3 29.9 2.8-18.8 1.7-12.3 3.2 15.6 3.4 19.5 1.8-29.4 1.2 5.6 2.9-1.5 .4 19.6 1.6-21.5 .1 5.5 .9-11.4 1.2 10.9 5.4 13.9 2.3 8.8 .4-26.6 .3 19.3 .7-17 2 26.6 .1-34.5 .3 17.4 1.7-7.4 .8 23.5 1.2-30.9 .9 22.8 .3 8.1 .5-37.1 .2 11.9 3.1-6.6 .3 14.3 1.5 15.6 4-9.5 2-18.1 1.4 27 1.4-8.9 .4-7.8 1.2 8.7 3.1-19 1.7 .6 .4 9.4 .4-8.8 .2 1.9 2.7 23 1.1-23.6 .4-.2 3.5 28.9 1.7-21.3 .8 6.5 1.3-21.2 1.8 35.5 .9-26.4 .5 19.3 1.7-30.5 .1 32.6 .8-22 1 16.2 1.8-1.4 .3 5.5 .1-25.5 1.9 26.2 1.3-21.3 .6 20.6 1.9-15 1.8 3.1 2.7-4.5 2.6 7.3 1.6-15.1 .8-8.3 1 17.5 .7-15.4 .9 32.5 1.8-6.5 .1-13.9 1.5 18.4 1.3-30.2 1.7 6.7 1 25.4 .3-10.9 .3 9.7 1.5-8 4.1-5.7 4.7 12.5 3.8-.4 1.9-23.3 38.8 44.6-205.6 8.2 37.5-8.9 5.8-10.4 3 17.5 0-4.3 .3-9.3 .2 23.2 5.9-10.7 .1 15.3 2.1-25.8 .9 21.4 4.3 1.3 1.8-24.2 1.9 13.8 1.8-9.2 .2-8.7 3.7 6.4 1 15.9 4 1.3 3.1-24.7 .1 21.7 4.2 12.5 2.1-4.2 1.1-2.9 .7 1.7 .6-4.6 3.8-.8 1.3 7.1 .7-10.3 1.8-4.9 1.3-5.4 1 27.3 2.4-15.4 1.6 13.7 1.3-12.6 .5-7.9 .4 1.6 7.2 13.9 .1-4.7 2.1 8.4 1.2-16.3 1.1-16.3 .3 32.2 .6 4.4 1.8-34.3 .7 29.8 1.4 2 3.5-2.2 1.7-17.2 .1-13.9 3.3 2.5 .2 6.4 .9 17.3 2.1-4.6 .9-3.2 5.5-17.8 1.1 9.9 2.9 18.9 .7-20.7 8.4 12.7 6.4-3.5 12.2-19.6 3.7 54.8-177.5-11.8 17 15.7 26.6 11.6 7.1-14.3 7.8 16.3 13.3-20.5 2.3 .6 2.4 4.1 7.5-1.3 9.8-12 5.7 16.1 .4 1.6 2.5-11 1.4-7.9 .7 2 5.7 26.2 6.9-13.1 1.4 2.3 .5-19.5 1.6 37 .8-8.3 6.8-24.2 21.2 18.9 14-11.2 1.7 0 1.2 41.4-92.9-4.5 17 .5 1.6-7.2 7.2 2.6 1.3 6.3 7.3-10.7 12.9"/><path class="sa" marker-mid="url(#bb)" marker-start="url(#bb)" marker-end="url(#bb)" d="m1118.1 370.7 8.3 36.8 53.3-92.8-8.8 43.5-2.6 .4 9.2 7.7-1 1.2-8.5 13.4 2.7 1-16.7 12 22.4 3-8.5 1.7-12.5 9.6-6.4 9.1-5.8 1.7 29.4 5.9-.8 8.9 2.4 1.3-33.3 11.1 26.5 60.4 44.4-208.8-2.6 28.5 6.7 16.4-19.8 7.2 18.6 0 3.3 3.2-9.7 3-16.6 5.9 22.8 4.6-6.5 2.8 2.9 1.6-8.9 .7 10.9 2 5 1.2 1.3 2.3-23 1 12.8 4.7-10.2 3.9-7.1 1.7 28.1 .3-36.5 1 16.9 5.9 8.5 2.5-6.4 1-3.5 .2-2.2 .5-4.3 1 9.4 1.9-12.1 1.3 .6 2 19.4 1.9 4.5 1.2-30.6 .9 28 .2-1.8 2.4 1.6 3 8.4 1.7-23.6 1.5 15 .9-7.4 .7 6.8 .8 3.8 .1-5.4 1.9 2.9 1.1-14.6 1.5-11.9 3.7 31.5 3.3-2.9 2.9-21 1.2 2.6 .3 13.9 2-11.4 .6 11.9 6.6 .5 4.5-23.8 8.3 26.8 3.5-7.8 28.6 .8 15.8 32.6-176.3 7.8 4.6-2 4.2 1.5 12.9-1.8 4.3 1 1-13.9 .8 24.4 5.7-10.9 0-22.7 1.2 25.5 1.1 11.2 2.1-7.2 4.4 3 1.1-12.9 1.1 4.8 .8-3.7 .6-10.9 .4 21.9 3.5-15.9 .2 14.9 5.4-19.4 .8 25 .4-18.6 1 16.9 5-1.6 3.4-27.6 .1 4.2 .2-2 1.1 27.2 .2 .3 1.1-6.1 .8-12 .7 7.6 .3-10.8 1.5-6.8 3.3 21.5 .7-2.7 .3 7.5 1.5-23 .4 5.6 2.9 16.9 .1-3.7 3.2 2.3 .1-24.2 2.3 26.7 1.2-20.7 3.3 8.6 1.4 .4 1-.7 2.2-14.7 2.7-5.5 1.9 1.7 3 11.5 5.7 18.2 .2 3.6 .4-28.9 1.3 15.7 1.2-12.3 4.2 5.9 .5-7.4 .9 18.7 1.1-15.7 1.6-7.9 4.1 17.1 1.9-20 4.4 10.2 6.9 21.5 15.7-29.3 9.2 49.1-146.1 3.5 5.7-11.2 12.2 27.8 .2 4.3 2.1-37.7 1.3 15.4 2.7-2.6 1 7.4 2.7 7.3 .3-15.4 1.1 9.2 .4 3.9 2.3-24.5 .2 19 0-15.9 .2 32.8 3-24 .7-5.6 0 7.8 0 5.1 1.9 7.3 .3-3.5 .4-20.2 .2 18.7 .7 4.5 1.1 2.3 .1-23.8 2.4-3.3 1.7 11.9 4.5 7.5 2.3-22 .3 24.5 .3-19 .2 15.6 2.4 4.1 1-.8 .9 10.1 1.1-35.5 0 24.4 1.2-23.1 2.5 16.2 .3 2.7 1.5 12.3 2.6-4.6 1.3-5.3 1.3-16.2 1.5 10.6 1.5-14.6 4 3.6 .2 14.1 1.5 16.2 3.2-23.4 .4-12.4 .4 37.7 .8-30.8 1.1-4.1 3.1 28.6 2.5-8.6 .7-15.6 2.1 26.5 2.3-31.3 .4 23.3 1.7 9 .1-19.4 1.7-.1 5.3 8.9 .5-7.7 4.3-11.3 1.1 6.9 .5-8.2 .8 29.5 4.9-28.8 0 11 11.5 17.7 5 2.3 18.9 27-168.2-15.4 7.1 29 33.7-10 4.6-12.6 1 17.6 17.7 4.1 4-34.9 10.3 23.4 9.4-6.6 2.1-3.5 8.8 13.2 1.3-24.7 3.6 8.6 5.4 22.9 5.3-34.4 9.5 8.3 6 12.7 5.9-10.1 8.2-4.5 5.3 11.9 6.3 22-169.1 36.3 68.2-8.9 20-17.1 .1 16.3 10.6-22 .5 17.5 1.3"/><path class="sa" marker-mid="url(#bp)" marker-start="url(#bp)" marker-end="url(#bp)" d="m1122.8 114.2 12.5 29.5 3.8 18-12 10.3 1.2 28.2-.7 15.1-12.5 7.4 19.7 2.2 40.1-100.1-13.8 11-9 4 19.8 5-1.4 12.2-7.7 2.1-18.2 1 6.1 3.8 10.9 .1-20.8 5.6 21.9 2.2 8.5 .7-1.6 .5-3.6 2.2 12.8 2.7-28.2 1.2 3.3 1.4 24.8 4.9-.2 1.7-17.9 3.5 15.2 4.6-25.2 3.3 21 .9-2 0-16.4 .9 16.4 2.8-11.6 16.1-3.9 2.4-13.3 4.3 25.6 .4 7.9 4.1-23.7 8 26.4 21.9-23.3 4.5 42.1-149.3 13.2 12.8 4.4 9.8-4.5 2.4 3.4 8.7-25.1 1 18 .7-3.9 .1 1.5 3-4.9 1.7 3.4 7.3-8.8 2.2 10.9 3.7-.8 3.9-9.6 .2 10.8 2.4 11 1.9 2.4 0-12.2 1.6 14.5 1.7-28.7 .8-3.5 1.6 12.2 .8 15.4 .8-24.5 .8 1.5 .8-10.9 1.8 4.6 .4 17.8 1.1-7.4 9.2 8.9 1.4-18.2 5.7 32.3 .2-28.3 1.1-10.4 2.7 30.1 7-26 2.9 30.6 1.7-26.1 3.8 27.3 3.4-1.3 3.3-32 3.4 29 .4-21 4.6 28 2.7-13.2 .2-3.9 8.6 2.7 5 1.8 .8 10.7 6.7-19.7 6 29.8-161.5 11.3 5.8 12.2 3.3 4.6 9.4 4.5 1.6-10.4 2.5-25.1 .1 10.8 12.6-10.3 0 25.7 3.3-20.4 0 24.2 3.1-1.5 5.8-32.4 1 27.1 .7-20.4 .4 7.9 4.1 6.9 1.9 11.3 1.9-7.7 4.8-19.4 .8 15.7 .9-18.8 .8 14.2 .1 11.8 2.1-18.1 4.4 24.4 .5-33.8 2.6 7.3 4.3 29.8 1.6-24.9 2.4 14.9 1.3-11.3 1.1 9.6 4.1-2.9 1.4-6.8 .7 15.4 .4-20.5 .8 16 .7-18.3 3 25.6 .6-28.4 4.3 4.4 .2 28.3 2.8-6 .3-33.1 .1 31.4 .5 3.9 1-25.2 .9 11.4 .7 2.2 1.9 .8 1.3-14.5 2.1 25.4 .1-9.9 .8-6.7 .4-6.7 .6 27.1 4.5-32.9 1.4 1 6.1 14.5 4-10.3 2.5-11.7 4.8 23.8 1.1 14.3 1.7 20.6-149.4-11.2 39.4 5.7 5.1-10.6 4.3 4.6 1.1-4.1 2.3 4.9 1 6.8 2.3 14.3 2-17.2 1 17.9 .2-15.1 2.4 20.7 1.6-1.8 1.1-29.4 4.4 20.6 1.1 5.8 .4 9.1 1.5-9.3 1-6.9 .9 4.1 .4-26.4 .6 16.4 1.3 18.2 .4-20 2 11.5 4.7 2.2 7.4-25.9 1 33.4 2.7-.4 2.4-21.5 1.2 5.4 3.8-13.1 1 24.8 1.3-11.3 1.6-10.2 1.8 27.5 3.7-16 .3-15 .2 13.4 2.4-4.3 .8-6 .4-4 1.4 22.7 .6 4.4 1.4-9.3 4.4 14.5 3.2-34.6 .1 35.2 .8-6.7 2.8-25 2.7-6.9 .9 8.3 8-6 35.8 24.3 3.8 7.6 .1-8.8 6.7-15.8 1.3 23.3 4.1 7.3-140.6 10.2 8.2 .5 7.5 17.8 2.4-19.5 5.2-9.6 6.9 11.6 11.8 8.2 5.3-18.2 .4 8.6 .5-5.6 3.5 2.1 .5 19.2 .1-18.5 5.1 12.9 1.3 5.4 1.3-23 3-1.6 9.1 21.2 9.7-15.3 17.5 7.8 5.1 32.7-42.3"/><path class="sa" marker-mid="url(#by)" marker-start="url(#by)" marker-end="url(#by)" d="m893.2 267.3-13.4 35.8 15.3 9.9-25.2 27.8 65.7-176-27.3 26.4 15.8 22 8.3 4.6-5.1 1.3 3.3 18.6-19.3 2.7-3.5 2.8 14.5 2 16.9 1.1-13.1 11.4-.8 3.5 9.5 14.9-16.6 3.2 14.7 5.1-9.9 1 3.2 26 8.2 3.5-8.7 5 12.3 12.8-13.1 3.7-19.2 2.7 32 5.7-6.7 1.8-11.7 .9 7.8 2.4 42.5-132.8 4.5 26.5-15.7 3.5 11.5 11.4-5.6 .2 6.9 1.9-.3 3.7 5.5 .2-3 2.3-16.1 1.7 22.5 1.2-15.2 1.4-7.9 .3 21.6 1.6-28.9 .1-.2 3.5-3.9 2.8 23 .7-25.1 2.8 9 14.1-1.9 .1 17.4 .2 6.6 2.4 1.5 3.4-12.4 0 1.7 1-2.6 1.9 6.1 1.6-22.7 .2 4.6 .5 4.7 4.6 8.9 1.3 10 .8-28 .9 6.9 .8 7.5 .1-10.1 .4 23.8 12.9-10.1 2-12.2 3.7-.3 1.1 4.4 1.1 1.5 .2 9.5 0-14.6 14.2 20.4 4.1-15.7 2.3 4 8.3 58.3-166.6-9.4 10.6-13.3 6.9 11.7 10.4-24.9 .1 25.6 2.2-20.9 1.2 .9 .2-7.8 9.2 11.2 3.7 14 .1-5.8 .3-14.1 2.8-4.6 5.9 24.5 1-19.5 .4 .3 1.4 30.5 .2-27.1 2.4-8.1 5 19.8 5.6-5.2 1 3.9 1 11 .9-13 1.7 3.4 1-6.5 .3 9.9 .5-25 .2 32 .4-19.8 .9 26.9 .5-11.5 .1 11.4 .2-31.6 0-5.1 1 7.6 .7 19.1 2.1-16.5 .3 1.9 .1 1.1 .4-7 .6 3.2 .6 1.4 3.2-10.3 .3 32.3 1.1-5.1 .6-4 1.5 6.9 .8-24.4 .7 21.2 .6 3.8 .3-1.3 2.3-12.7 .1 15.9 2-16 1.4 4 .2-7 2.3-10.7 1.7 32.2 1.1-9.4 1.2-24.7 2.5 15 4.3-16.4 .1 32.2 2.1-13.9 1.4 13.3 .5-19.6 .7-9.8 .8 8.7 .4 12.7 1.2 7.3 .1-32.9 .4 33.6 .4-24.9 1.7 2.2 .3-.9 4.1-9.9 .2 17.8 0 19.6 2.4-28.9 .5-8.5 .5 18.1 .6 2.1 1.5-12.7 1.7 4.7 .6 25.7 .1-18.5 2.1 7.2 2.1 8.5 .4-30.7 .1 19.7 1.9-14.9 2.5 2.1 1.8 23 3.4-27.4 1 24.1 13.6-25.3 .2-2.7 .3 5.5 1.4 2.1 .6 1.9 .8 6.9 23.4-16.5 12.5 21.3 33.4 41.6-213.6 11.2 2-19.2 .2 .2 22.1-4.4 8-9.9 1.3 2.4 2.3 4.2 .4-.7 3.4 18.2 1.1-21.2 3.6-.9 .1 28.2 .3-24.2 .5 21.4 2.6-2.4 .2-12.8 2.9-8.8 1 27.2 0-1.2 6.1-25.2 .4 30.4 2.7-37.3 0-1.8 8.2 6.8 1.8 1.6 3 6 .6-6.3 .8-6.1 .5 9.9 1.4 11.3 .8 5.4 1.7-17 1.2-12.1 .3 22.4 3.2 3.7 1.3-20.2 .2-4.8 1.2 23.5 .5-10.9 3.7-8.6 4.1 1.1 .9-2.4 .8 25.5 2.2-15.8 .4 4.9 3.2-4.7 3.6 8.8 3.2 7.7 .1-.4 2.8-11.4 5.1 2.6 1.8 1.9 2.6 4.8 1.1-19.5 2.5 5.3 .6-12.7 1.3 36.7 36.4 29.7-174.8-5.4 19-9.1 32.6 2 2.1 6 4.1 11.8 4.4 7.3 6-37.1 7.5 8.8 4.4 26.8 3.2-15.3 .2 1.7 7.3 1.1 1-13.1 9.8-4 13.2 9.4 .4-8.7 11.2-9.2 2.9 14 .5-11.5 14.9 60.8-102.9-18.1 46.8-3.3 9.8"/><path class="sa" marker-mid="url(#bb)" marker-start="url(#bb)" marker-end="url(#bb)" d="m1134.9 412-6.3 40.5 40.8-122.6 3 .7-2.4 16.2-23.4 11.9 18.5 5.6-11.9 2.7 21.5 15.5 4 6.7-8.6 16.2-1 2.4 1.3 2.7-18.8 9.4 20 13 7.3 2.8 0 10.4-17.9 52.5 10.7 7.7 20.6-192.1 5.7 4.6-.3 19.6 17.3 2 .3 13.3-7.2 4.8-18.5 8.4 24.1 1.9 .2 2.8-33 .8 24.1 .4 5.6 .1-23.7 .3 24.5 .1 3 .6-16.5 11.4-1.2 1.3 1.6 .3 17.4 1.4-4 1.1-22.4 1.5 1.6 .2 16.7 3.3-4.2 1.2-3.3 .2-17.8 3.7 16.9 .1-10.6 .1 5 2.4 12.2 3.6-4.1 1.6 17.4 1.1-4.4 .2-2.8 3.4 3.5 9.3-30.4 .3 27.3 .1-1.8 2.3 4 3.4-27.5 2.5 7.8 6.4 11.5 7.9 6.6 .7-18.2 1.9 16.9 3-7.7 .9 8.3 2-13.8 .3 15.7 2.8 2 12.4-29.8 46.8 58.3-207.1-23.6 9.4 35.8 21.6-2 1-21.5 6.2-4.7 2-7.1 2 35.1 1.9-20.3 1 5.8 1.8-7.1 3.6 19.1 1.4-10.1 2.9 5.5 3.8 1 1.2-21.7 .1 26.7 2.2-1.5 1.1 4.2 .4-37 1.1 2.2 .3 31.4 .7-12.5 1.7 2.7 .4 3.4 .1 9.4 .8-18.5 1.3 1.6 4 9.2 .2-18.4 4.1 5.9 1.6 18 .6 .8 1.3-11.3 0 14.1 1.1-22.9 1.2 12.5 2.9 4.1 4.3-12.4 2.1 6 .6-18.3 .3 19.9 .1 9 .8-22.8 .3 5.2 .7 3.8 1.6 10.6 .1-28.7 .9 6.4 .4 16.3 .3-9.9 0 15.7 2.2-28.2 1.1 14.5 2.4 18 .2-36.6 .4 25.4 1.2-12.3 .2 6.9 1.4-11.4 .7-9.9 .1 6.9 .8 14.1 .1 4.6 4.6-4.6 .1 15.4 4.3-4.7 2.2-12 .8 16.4 3.3-12.3 .8-14.5 .5 1.2 .6 1.8 .7-10.5 .4 30.2 .2-4.6 1.4-7.6 3.2 2.4 6.3 7.7 1.2-15.2 1.6 13.6 .7-3.9 4.3-7.2 3.1-13.9 12.2 15.6 .3 8.4 4.8-6.8 11.5-.7 5.7 30.6-181.9-9.8 14 17.9 4 17.5 5.6-29.7 7.8-6.4 3.1 27.9 8.5-2.8 2.2 3.9 2.1-16.3 3.9-8.6 2.6 5.3 2.7 4.4 2.6 11.7 3.4-2.2 1.5-16.1 1.7 1.6 5.1 16.4 1.3-6.9 1.8 13.4 2.8-31.2 3.6 5 .2-1.1 5.1 11.4 .4 16.9 1 1.2 1.9-15.3 3-15.9 .7 8.8 .8-1.5 .4-3.7 2.3 1.9 .3 6.4 3.3 11.7 6.7-11.1 2.2-8.6 3 24.5 1.5 3.6 .4-19.1 2.1-14.2 .5 35.6 0-17.8 1.4-18.1 1.7 17.7 0 5.6 1.4-2 3.2-6.7 5.4 15.5 .7 .5 5.2-2.3 8.1-27.6 .9 25.1 5.4 6.6 3.5-24.6 .4 20.4 2-27.7 .8 7.3 19.5-8.2 18.1 45.3-154.8 31.3 1.9-10.8 7.9 13 10.5-32.2 3.6 18.6 3 .5 6.5-24.5 7.8 4.7 4.3 8.5 15.9-10.4 4.5 23.8 7.9-11.9 .2 5.3 3.7-21.5 .4 27.9 2.2-24.9 0 16.7 7.5-16.8 .1 10.3 7.7-4.1 7.1 7.4 25.6-14.4 6.7 11.4 2-.4 8.7 27.3-163.6 7.7 9.2 18 102.5 4.6 3.9-1.1 4.9"/><path class="sa" marker-mid="url(#bp)" marker-start="url(#bp)" marker-end="url(#bp)" d="m1090.1 125.8 9.8 22.6-19.6 15.1 27.3-32.5 24.1 36.6-4 14-5.5 4.6 10.3 8.5 6 3-6.1 .2-13.9 6.4-5.9 4.2 4.5 7.2-12.2 4.5 32.8 11.1-3.8 15.2 42-117.2-8.4 28.6 5.1 3.7 4.5 3.2-10.6 2.6-21.2 5.4 13.3 4.2-.9 1.4 16.1 6.2-13 .7 10.8 .7 4.2 5.4-31.2 4.2 17.7 2.6-6.5 0-6.8 1.2 .6 1.4-8.5 2.7 12.7 .4 17.5 20.3-14.3 3.4 50.6-109-3.9 .1-3.2 19.7-14.6 4.7 6.3 3.8 3.2 10.3-1.6 1.1 11.1 2.6 4.5 .2-23.2 10.7 20.6 2.6 12.7 .2-2.8 2.3-19 2.1-2.7 1.6 20 2.2-29.6 2.4 10.5 .7 14.6 .5 8.7 .1-.2 .7-10.2 1.1 1.2 .9-27.8 6 19.9 3.3 3.7 3.5-25.7 2.8 25.6 .8 7.7 1.7 .2 5.4-15.8 .5-14.1 4.1 23.8 5.1-12.1 2.5 18.9 .2 5.4 .4-22 .1 6.6 .2-12.4 2.8 7.3 2.2 20.6 1.2-29.1 4.3 6.7 .1 7.4 3.7-23.2 1.1 15.9 5.5 3.2 12.5-19 .3 44.3-162.5 22 .4-14.1 18.4 0 .4 18.7 5 3.9 2.7-19.9 3-7.6 8.1 1.2 10.2 17.4 3.2 5.4 2.8-26.3 1.8 19.1 1.2 7.3 2-1.7 .9-1.7 1.3-17.6 2.7-7.2 .3 25.7 3.4-24.5 .1-.4 2.2-4.4 .3 15.4 2 23.3 .7-8.3 2.5 .7 .8-22.1 .1 17.2 .1-1.3 1.7 13.5 1.9-11.4 .1-24.6 .2 35.6 .1-16 5 14.6 .3-22.8 3.1-9 .3 27.3 3.1-12.2 1.1 13.6 .7-5.5 .1-7.1 1.4-6.5 4.9 12.6 0 8.4 .4-36.2 2.8 33 .2 6.4 1.2-13.9 1.7-12.6 .5-5.7 1.6 21.5 .6 10.6 2.1-21.5 2.5-11.8 .8 28.4 1.8-31.3 0 .7 1.8 21.9 3.3-18.6 2 22.6 .1 1.4 4.5-29.5 7 15.3 .6 22.1 5.6-8.5 2.6-18.9 1.4 18.4 0-28.8 3.1 2 .4 11.3 6.4 36.1-136.2-8.4 4.7-2.2 5 5.2 2.2 27.7 2.3-22.7 6.6 7.1 .5-5.2 4.2-5.7 3.4 .4 .3 28.4 3.9-35.2 1.8 37.7 2-23.3 2.4-6.5 1.6-.8 7.2-2.6 1.6 26.6 .6-28.4 2.9 21.6 .6 12.2 2.6-23.7 2.5 22 .8-28.5 2.7 5.3 1.2 12.6 2.1 0 4.8-23.3 7 5.4 .8 28.7 5.6 3.4 .5-32.5 .1 3 1.4 21.6 5.5-10.3 1.2 10.7 1.1-24.6 .2 31.1 3.1 1.9 5.1-25.1 5.5 8.1 .3 6.8 .2 1.3 1.5-18.4 5.9 5.3 1 12 .2-29 11.5 15.6 1.7 22.9 4.5-29.7 4.6 27.6 1.2 22.1-133.7-2.3 2.8 10.1 4.8-7.3 10.1-16.4 4.1 28.4 21.5-13.5 2.5-6.2 4.9 17.5 .4-11.6 .3 14.4 .1-15.8 1.1-13.6 4.3 7.8 .3-2.2 3 7.7 13-2.8 9.4-12.2 2.8 1.9 5.2 10.8 1 .5 .3 6.6 2.9 12.6 8.3-2.3 32.5 11-133.5-1.2 30.4 .6 34 23.3 2.4-21.2 1.5-1 15.6 6.7 25.8 6.4 11 6.2 10.8"/><path class="sa" marker-mid="url(#by)" marker-start="url(#by)" marker-end="url(#by)" d="m896.1 288.1-9.5 57.8 19.1-106.3 1.7 5.5 7.1 24.4 25.3 6.1-23.5 2.6 20.7 16.5-1.9 .3-31.1 3.8 28.7 .8-13 1.9 2.8 3.7 2.6 3.2 7.8 4.2-18.2 .9-5.8 3.3 2.5 17.2 16.7 21.7 33.2-173.6 15.9 36.7-22.2 33.6 7 .1 12.5 4.9-7.7 2.2-23.5 1.6 18.5 3.3 16.8 3-29.7 3.2 25.9 .5-23 0 24.4 .9-24.6 5.8-5.8 4.1 30.7 .8-34.9 1 2.8 .3 23.1 .2 7.9 .2-20 1.3 13.6 5.2-21.2 .4-1.5 .3 17.1 .9 8.2 .2-5 1.8-13.1 3.6 23.7 1-20.5 .9 19.9 4.1 2.8 0-23.6 3.8 18.8 .3 .2 .2-18 2.9 22.8 2.4-34.5 2.5 14.9 1.9 9 .5 4.3 .7-12 .7-8.9 1 6.1 .4 7.6 1 4.1 .1-3.7 .1 10.6 .7-19.4 5.3-1.1 2.1 2.2 4.9 10.7 7.1 1.3 1.5-15.9 2.9 9 .2 7 1.1-21.7 0 8.6 .8-4 1.1 15.4 4.7 10.6 1.3-24.1 5.6-5.2 20.1 39.7-146-4.7 2-2.1 7.6 23 1.6-22.3 .9 28.8 .7-12.6 .4 13.3 4.4 1.2 1-7.3 1.9 6.4 .3-13.4 1.8 9.7 .2 4.5 .3-7.2 4.9 9.3 .1-19.9 .5 .5 1.5 6.2 2.8-3.6 1.1 5.9 .2-5.7 .1 14.8 2.6-23.3 2.5 3.1 2.4 13.5 1.4-25.6 3.4 19.6 0 17.5 2-15.6 .5-18.3 .8 16.3 2.7-20.2 4.8 11.9 .4-7 .1 15.8 .8 7.5 .1-29.2 .7 19.9 .6-16.3 2.9 30.7 .7-6.2 .9-26.6 2.4 34.7 1.1-21.6 2.9 17.9 3.4-28.2 3.8 7.5 .4 13.7 .3-7.6 .3-17.8 2.9 37.9 .7-33.2 .1 13.1 0 15.8 .6 1.7 .2-4.8 1.3-26.2 3.2 33.1 0 .9 .7-38 1.8 31.5 .5-14.7 2.4-10.7 .2 20.3 .3 3.7 5.2-15.6 1.4 19.1 .1 2.8 3.6-6.7 .8-14.5 .3-6.8 9.2 14.7 8.3-6.6 3.9 5.7 23.8 23.6-200.9 7.3 22.2 13.7 19 4.7 5-26.4 13 17.3 1.3 3.3 2.8 4.6 4.5-8.3 3.2-11.8 1.8 15 .2-18.1 2 15.2 1.7-3.9 2.6-7.1 5.3 12.7 1.5-.2 1.9-15 .2 9.8 .4-19.6 1.7 8.3 .4 7.6 .1 15.6 .6-15.6 .9-4.4 4 9 2.6-3.4 1.4-15.8 1.2 24.9 1-4 1.3-1.5 1.2-3.6 3.2 22.3 .8-.4 4.5-28.9 0 12.8 2.6 11.9 3.5-8.4 .8 8 1.1-8.9 2.4 5.4 1-24.4 1.1 19 2.5 13.3 1.5-15.3 1.8-11.1 1.8 24 2.2-15.4 .9 16.5 3.4-37.2 1.2 2.5 2.9 4.4 4.8 30.2 3.9-8.3 1.7-26.4 .5 14.8 .5-4.6 2.5 25.9 16-17.4 9.9 6.5 .3 34.2-138.5-5.8 5.6-15.2 34.8 1 2.3 17.9 .8-15.8 2.6 7 .5 11.9 5.9-4.5 .3 7.6 .7-1.7 1.5-20.2 .4 3 4.8 .1 27.1 1.4 2.7 16.1 6.2 4.2 19.6-18.4 4.6 54.7-85.6 3 19.4-14.2 6.7-.1 22.2-10.6 1.7"/><path class="sa" marker-mid="url(#bb)" marker-start="url(#bb)" marker-end="url(#bb)" d="m1064.4 436.4 65.9-94.1 3.8 87.6-17.7 4.4 54.6-137.2-1.5 58.8-3.4 5.2 8.8 3-14.5 3.1-11.8 5.9-3.3 5.1 15.4 1.6 9 8.1-7.1 1.3-14.1 .8 9.5 .7-2.7 8.7 17 6.1-2.7 16.7 6.9 11.8-19.1 31.9 61.1-155.8-17.7 8.3-11.2 25.2 27.4 3.4-36.5 4 12 3.9-9.8 8.8 15.5 .4 20.1 1-6.4 .1-27.5 2.3 16.4 3.5 6.6 1.6-8.8 1.2 18.4 2.9 1.7 .3-32.7 .1 32 2.2-11.8 .1 .9 .7-5.7 4.7 4.6 12.5-24.6 4.7 11.5 .4 15.5 .6-19.2 1.8 .6 2.1 14.2 1.9 1.8 .4 4.4 2.9-17.6 2.3 14 4.9-7.6 4.6 15 1.5-15.2 1.9-7.9 1.3 24.9 .9-17.7 9.9 21.6 4.4-6.8 .8-3.2 1.5-7.6 .4 6.6 1.5 10 8.2-16.9 2.3 11 1.3-7 5.9 6.9 4.2-22.6 11.4 28.5 4.1-35.9 3.3 21.5 3.9 55.2-192.9-.6 12.2-27.9 9.6 13.6 1.4 .3 4.1 3.2 1.3 10.1 4.6 1.3 .6-26 5.4 .5 2.4 5.8 6.8-7.1 3.1 16.9 .6-24.7 .5 33.7 2.4-35.6 2 6 6.6 29.5 1.8-22.5 1.6-.9 2.6-10.2 .5 30.6 .4-4.1 4.7-5.2 1.1-23.9 .9 29.2 .4-26.9 5.5 35.4 .7-8.8 1.3-20.2 .5-.4 1.7-5.8 .8 17.7 .1 1.4 1-22.7 2.5 25.5 1.3-10.3 .3 19.3 .9-28.3 .1 10.5 .1 15.9 1.7-26.3 1.7-5.3 .1 11.3 0 25.3 1.4-12.7 1.1-3.3 .1 14.2 .5-32.1 .2 1.6 .2 26.1 .4-27.6 2.4 26.4 2-23.9 .6 6.2 1.2 25.2 .4-3.7 0-15.5 2.1-10.5 .4 30 .3-5.1 .6 4.8 .8-33.3 .8-4.1 .2 14.4 2.6 .2 0-8 .4 22.2 2.2 2.3 .1-20.1 1.1 18.1 3.3-8.9 .9-18.6 .5 22.9 1.1-2.7 .3 1.6 1-12.1 4.2 8.1 2.1 13.1 1.9 1.5 .6-9.7 3.4-3.5 .3 1 1.8 1.8 6.3 11.3 1-7.4 .2 9.2 4.2-19.4 1.1-12 10.4-5.6 5.7-.4 3 31.7 3.1-28.8 6.7 13.2 19.5 15.6 19.3 31.9-193.7 4.3 9.6-6.7 1.3 3.9 3.5-21.3 9.8 6.6 4.1 8.8 .3-19.3 1.8 22 1-18.4 7.7 14.2 4.1 14.1 .2 1.7 2.2-33.3 1.2 21.8 1.8-6.7 .8 12.5 5.7-27.6 1.1 38.6 3.4-18.8 1.3-17.7 .5 1.8 .2 34.5 .3-4.1 .5 0 .8-3.2 1-19.4 .9 15.5 .6-14.3 .5 5.6 2.1 14.8 5.5-33.4 4.8 10.6 .8 19.4 .9-20.8 1.7 17.9 1.4-4.9 1-21.8 5.1 12 .3-1.9 .3 21.1 2-4.3 1.1 8.9 1.8-30 .6 12.9 1-4.6 .6 14.9 .6-2.2 3.7-27.7 .4 25.6 1.6-7.3 1.6 2.5 .1-2.7 .4 2.9 .5-5.6 1.2 19.2 .2-31.7 3 8.8 .7 20.3 .3-16.8 5.4 11.6 3-17.4 1-3.5 7 13.6 3.8-8.8 1.1-8.4 39 38.3-157.7 5.1 3.3-4.5 26 31.1 .7-6.3 5.1-13.5 4.6 8.2 .2-9 .7 11.4 14.2-14.4 .2 20 4.6 6.8 6.5-23.3 3.3 5.5 7-1.5 5.1-11 8.6-3.7 .2 14.8 1.4-14.4 2.6 4.3 3.9 6.2 3.2-.7 .3-5.1 1.3-6.6 8.1 2.3 3.7 7.9 24.7 31.7-103.2 4.5 8 31.5 15-18.9 5.5-18.6 28.3 17 23.6 9.4 5.3"/><path class="sa" marker-mid="url(#bp)" marker-start="url(#bp)" marker-end="url(#bp)" d="m1092.1 150.1 40.8-1.5 1.6 9.5-32.9 33.6 15.1 5.2 12.7 3.7 5.1 44 29-153.2 11.3 17.4-3 20.2 2.6 6.8-31.9 1.8 25.3 15.6 2 4.6 3.9 16.5-6.5 .7 2.6 9.4-14.7 2.2 13.1 1.3-3.6 .2-12.9 4.4 25.7 1.1-29.3 3.5-2.3 .1 33.7 3.6-14.6 6.2-7.6 2.2 18.1 .4 4.4 7.4-.1 .6-25.7 4.5 4.7 8.2 9.8 1.4-14.2 5.5 21.6 16.1 16.7-164.7 1.7 5.6 11.6 7.1 9.2 .9-26.7 10.4 21.7 .1-22.3 7.3-7.7 1.7 .5 .3 2 .3 8.1 3.2-5.2 5.9 24.8 .9 4 2.9-12.8 2.4-5.2 2.8 23.6 13.9-27.6 1.3 13.1 4.3-8.5 4.3 15.7 1.4-19 2.9 23.5 .1-6.5 .7-7.4 .7-10.9 .3 27.7 .8-1.6 1.6-18.3 0 2.8 5.6 14.4 1.4-29.7 1.2 31.4 2.9-13.4 1.2-19.2 .8 22.2 3.8-15.4 1 5.8 2.7 19.6 .3-3.4 1.9-11 0 13 .8-34.9 4.9-1.9 1 13.1 .1 18.6 .8-9.1 8.4 6.4 .7 10.1 4.3-20.8 1.7-15.9 1.7 24.5 2.2 9.3 2.1-15.5 .5-17.7 .7 32.3 1.4-14.6 5.1 14.5 .2-9.1 .3 8.1 6.8-6.2 1.7-15.8 1.1-7 9.9 25 28.7 24.1-190.2-11.3 16.2 5.9 .9 18.3 14.6-13.5 1.3 1.6 .5 7.2 3.4-18.6 4.6 24.4 2.1-13.2 14.5 9.9 1.9-15.4 .8-5.9 3.7 7.8 2.1 14.5 2-23.5 3.3 4.4 1.1 4 2.1 9.4 0 14.2 .4-14.3 4.8 15.2 .3-8.5 5.1-16.9 3.9-5.2 .1 27.7 .7 6.3 1.7-31 5.8 18.7 2.6 12.5 .2 .1 1.3-29.9 .4 7.9 2.4 21.4 .3-16.7 1.2-7.5 .9 10 1.2 4.4 .8-5.3 1-16.5 .1 19.8 0-17.4 2.2 9.2 .1-15.7 0 3 0 14.4 1.6-17.9 .4 11.1 3.6-4.4 .8 27.8 5-29.8 2.5 30.3 1.2-20.1 1.2 18.9 2.6-15.2 1.4 17.6 3-33.2 1.8-1.4 1.2 20.2 3.1-16.7 1 31.3 7.9-5.8 2.1-20.4 2.3 9.2 2.3-3.2 4.1 8.8 2.7-16.5 2.4-2 6.2-9.2 5.4 46.8-194 12.1 6.7 11.1 24.5-22.9 2.7 1.1 17.3-4.1 15.9 16.6 .1-12.3 1.7-1.1 1.4 6.6 1.8 5.1 11.3 4.7 2.1 11.8 1.8-18.2 .8-13.6 1.1 27.7 .1-27.3 .6 21.9 .8-22.7 12.6 20.4 4.7 2 .3-3.3 2.8 3.8 1.6-25 .1 29.1 4 8.9 .6-37.1 2.1 26.2 1.4 10.8 1.9-30 8.8 8.2 .5 1.9 0-3.6 4.9-3.1 1.7 19.1 .1-12.9 2 6.6 2.1 2.5 .4-13.2 .6 5.9 1 12.5 2.2-30.4 4.4 16.1 3-16.9 1.3 9.8 3.5-9.2 1.4-1 9.4 35 .4-11.6 .9 9.2 15.6-15 4.6 28.3-146.2-5.6 5.4 1.5 9.9 13.1 7.6 10.9 .7 9.4 8.4-31.5 2.2 14.2 16.3-10.5 7.5 11.4 9.7 17.4 9.3-32 5.5 23.8 4.8-28.2 5.6 21.4 .7-19.3 21.6 5.7 3 23 48.1 15-65.1 20.5 11.1-26.8 20.9 30.8 3.3 8.8-83.5 26.4 61.2"/><path class="sa" marker-mid="url(#by)" marker-start="url(#by)" marker-end="url(#by)" d="m878.5 274.3 13.1 12.4 3.9 35.1 16.1-99-10.9 16.7 2.7 10.4 30.7 .6 .8 16.1 .1 4-28.2 .3 29.1 2.2-16 3.7 3.5 7.6-12.2 4.3 18.7 7.1-15.7 1.6 21 .7-5.9 1.1 1.6 .9 4.4 .2-8.5 3.6 3.6 4.5-21.4 4.9-1.3 9.7 28.9 .5-17 33.5 1.7 35.2 5.6 6.5 25.1-161.9 11.2 1.8-7.7 8.4-.9 1.9 8 .4 6.9 4.8 4 4.5-12.6 11.2 5 .4 4.1 1.6 2.1 1.3 .3 4.8-18.6 .3-12.6 .1 3.2 1.6 20 .5-17.1 3.6 9.7 10 19.2 .9-4.2 1-6.8 .5 5.8 3.4-4.8 1.7-11.1 .2-11.1 1.8-3.6 3.1 8.5 .1 8.1 1 12.7 0-12.9 1.4-11.9 .9 32.7 1.8-.7 7.4-7.6 4.4 .8 .7 4.1 1.1 2.4 3.1-11.5 1.9 8.1 1.1-19.4 1.9 2.7 2.7 5.6 2.8 13 1.6 3.6 2.1-13.8 2.8 10.4 5.4-33.2 .7 33.9 .5 3.8 8.9-26.7 10.5 21.6 33 27.2-192 16.9 8.8-37.8 5 34.8 6.9-32.9 4.4 31.3 3.9-19.2 1.3 12.4 .4 6.1 5.4-20.1 1.6-13.1 5.9 26.2 1.3-2.7 1.4 14.7 .7-9 .7-13.8 3.7 8.2 1-23.1 .4 23.8 .2 8.9 .4-25.7 .6 21.2 .5 7.2 0-18.9 1.4-5.1 .5-2.5 .4 16.9 1.6-8.8 .3 5 2.4-4.5 4.9 19.1 1-26.1 1.1-2.2 0 20.4 .3-18.2 0 27 .1-36 .7 18.4 0-16.2 1.3 34.3 .6-19.7 1.1 3.9 0 3.7 2-4.3 1.8 7.1 .8-4.9 1.6 6.7 1.4 3 .1-2.6 1.6-13.1 4.4 20.7 2.2-14.2 .1-6.1 .7-8.3 0-1.1 1.2 20.8 1.4-28.6 .7 20.7 1.3-16 1.8 7.3 .9 24.5 .8-23.6 2.3 3.5 0 5.5 .4-2 .5 13 1.4-22.3 .4 9.8 .1 16.8 .4-5.9 .9-23 4 5.3 .2 5.7 3.3 1.1 3.3-12.2 1.3 14.3 .1 10.3 3.9 .7 .4-28.3 13 7.3 7.6-12.9 6 21.7 4.6-7.4 20.2 13.5 18.5 46.8-239.2-1 41.3-20.7 8.4-1.5 8.1 2.8 8.5-1.9 .4-5.5 10.6-5 1.7 17.3 3.1 11.4 3.4-17.5 .4-11 5.8 2.7 5.7 3.2 3.7-6.9 2 17.1 1 16.1 1.3-30 2.2 2.2 4 2.7 .1 21.1 2.2-29.9 2.4 2.6 .3 28.8 .2 5.9 1.2-16.9 2.6 7.5 3.3-12.1 .1-11.3 2 17.5 .2 4.6 .5-24.3 2.5 3.1 2.4 5.5 1.8-2.7 .9-1.1 0 22.2 1.4-11.5 .1 15.1 .1 2 .5-14.3 2.6-18 1.2-1.6 1.8-.6 1.7 21.1 .1-21.7 2.5 9.9 1.9-5.6 .2 22 1.3-10.6 1.7-14.6 .3 20.5 .4 .6 .8-12.6 .8-10.9 1.3 26.9 .2-12.7 4.4-4.3 4.4 14 1.2 7 3-22.4 3.9 26.7 1.2-23.1 .5-9.7 5.3 16.4 6-16.9 16.1 27.4 6.3 48.8-126.9-23.8 15.7-6.1 .8 10.7 .5-3.7 5.3 24.4 4.5-37.7 1.3 32.9 1.6-7.4 1.3-25.1 3.6 7.7 .5 4.7 1.6-4.9 2 11 5.4-5 4.7 5.2 .5-18.5 19.4 10.9 .7-8.2 .7 13 82.7 28.3-119.5 .4 3.2 3.2 11.6 13.6 47.6"/><path class="sa" marker-mid="url(#bb)" marker-start="url(#bb)" marker-end="url(#bb)" d="m1136 407.6-12.5 3.8-1.2 1.4 16.7 6.5-10.6 25.7 51.3-115.2-9.6 21.1-15.2 3.2 23.9 4.4-9 2.7 .1 1.1 6.5 3.4-5.6 2.9-29.7 7.6 9.7 1.6 25.5 3.4-28.1 4.9 11.7 2.5 1.2 1.1 17.3 15.7-12.7 3.8-5.5 6.2 1.8 5.6 .4 8.3-3.8 15.2 18.8 12.5-17.4 21 39.2-144.1 13.2 3.4-28.3 1.2 3.8 12.3 .1 8.1 13.8 .7-5.7 8.6 9 .6 8.9 3.9-20.4 1.3 3.7 3.7-5.3 5.3-8.8 .3 36.4 3.9-21 3.6-13.2 .3 14.6 0-19.8 1.8 21.2 0 11.9 2.8 4.1 .6-24.6 3.5-.6 1.3 2.3 1 23.2 2.7-.9 1.1-27 1.6 30.1 .7-25.4 2.9 24 .1-30.5 1.5 25.7 1.1-1 2.5-12 1.8-2.7 2.5 8.3 .9-2.7 1.3 3.6 2.5 9.9 3-31.3 .1 13.2 2.3 17.7 .5 .6 1.8-22.3 2 22.1 2.2-13.1 .2 5.9 1.6 8.6 10.6-13.7 .2-2.9 5.6 7.6 .4-10.8 1.9-5.3 .3 22.9 4.9-10.6 19.1-15.2 5.5 57.2-168.2-23.1 15.6-2.1 8.2 33.6 7.3 .3 2-25.4 1.1 7.7 .9 2 3-8.1 5.2-6.4 4.5 27.7 .4-24.4 3.9-1.6 .3 6 3.7 15.8 2.3-16.9 .7 1.4 .2 20.9 2.3-14.2 .2-18.4 2.4 20.5 .1-4.3 .1 12.7 3.5 4.7 1.1 3 .9-33.1 1.9 28.2 1.9-.1 .2-31.6 .3 25.5 .6-2.4 .4-2 1.5 11.3 1.3 0 3.1 .4 .8-11.8 .1-23.1 .3 9.3 .4 9 .5 10.9 3.4-6.5 1.8 15.3 .2-6.6 .3 2.3 4.1-3.6 .2-20.8 3.9 4.1 .5 17.3 1-8 2.6 1.4 .2-5.1 0-18.8 .4 28.9 .5 8.3 3.4-3.8 3.2 1.9 1.3-15.1 2.4-4.5 1.7 19.3 4.6 3.8 1.6-4.3 9.6-28.1 .6 7.1 .9 7.3 6.6 16.7 5.3-6 1-2.6 .9-.9 2.1-2.7 12.9-23.2 1.7 18.6 3.6 25.8-173.3-6.3 3.4 11.6 11 8.8 9.8 18.7 1.7-34.9 2.4-2.2 1.3-1.9 .4 31.6 .3-28.7 3.1 30.5 4.9-28.4 5.8 29.8 2.9-22.6 2.7 5.6 2.4 5.9 2.6-12 3 22.5 1.6 1.6 1-34.9 1.5 10.6 5.4 8 0-17.5 .2 24.4 .4-1.4 1.8 1.7 .9-15.6 3.1 8.4 3.6 7 1.3-20.9 .8 30.1 .4-15.2 .7-17.6 2.3 4.2 .2 22.3 .1-17.8 0 .5 .5 3.9 2.1 8.3 1.5-.1 4.4-21.8 .4-1.2 .1 24.5 0-6.2 .3-9.3 3.1-9.3 .1 28.1 2 5.4 .9-30 6.8 4.6 .2 15.8 1.9-22.1 1.9 13.8 1.5-2.6 .7 5.6 1.8 7.1 2.4-24.5 1.5-2.6 .7 30.2 2.3-2.6 1.7-4 4.4-23.7 3.5 12.1 7.5-9.8 5.2 3.7 3.5 21.4 1.7 6.8 7.8-30.8 .4 5.1 5.9 20.8 8.9-8.1 .3-13.5 12.8 30.8 18.7 15.5-167.3 16.3 13.2-26.9 1.2 10.2 13.6-10.3 3.8 24.5 .6-17 .3-1.8 .6-5.8 .6 12.1 .1-9.7 .4 28.8 .5-34.7 3.2 20.4 10.1-5.3 4.4 4.4 2-10.3 .1 3.6 11.5-6.9 1.9 4.9 1.1 5.7 17.7-3.7 35.6 4.1 3.4-7.1 34.7 66.5-176-26.2 73.8 10.9 1.3-6 13.6-.7 5.8 11.1 16.6"/><path class="sa" marker-mid="url(#bp)" marker-start="url(#bp)" marker-end="url(#bp)" d="m1092.2 200.2 32.9-66.7 6 20.2-21.7 2.3 10.1 5.4-3.4 13.9 4.3 14.7 11.3 29.7-2.9 6 8.5 14.2 22.7-91.5 19.8 .7-10 5-17 2.1-3.5 2.5 24 15.9-15.8 9.2 21.3 2.2-25.7 6.2 20.6 9.9-14.8 .8 2.9 .9 12.2 1.4 .4 .1-15.6 7.3 12.1 9.7-12 .8 12.8 1-13.3 1.3-4.1 .8 23.1 .8-16.3 8.2 17.7 2.2-10.6 1.5 7.6 .2 3.8 23.3-7.2 4.9 26-162.5 .3 15.4 11.7 7.4-13.3 9.4 19.9 2.1-32.1 1.2 34.7 4.3-13.8 3.4 8.7 3-6 4.4-23.8 4.1 30.2 2.9-8.2 1.5-15.2 2.1 20.5 .9 4 .2-15.2 1.1 11.7 .3-6.8 2.8-1.5 .5 11.6 .6-8.5 7-3.5 2.1 7.4 1.3-23.2 .9 29.2 .4-28.4 .1 16.2 2.7-5 9.9 14.3 .2 1.4 2.4 3.7 1.2-38 .8 20 2-8.2 .2 16.7 1.7 9.4 1-12.5 1.2 12.8 1.1-20 .4 18 10.9-15.7 1.3-11.5 1.5 14.7 1.8 5.3 8 6.6 7.2-7.4 14.6 7.3 2.2 1.5 15.4-26.9 .4 2.2 5.6 60.3-164.2-4.6 12.6-6.9 .8 7.6 3.9 5.3 3.3-15.6 .7-11.8 3.3 26.7 4.3-31 1.2 25.3 7.9 10.8 4.1-30.2 .2 28 2.2-26.8 0 1.7 3.6 5.3 1.3 20.2 .4-25.4 3.5 11.9 .6-23.1 .5 1.8 1.9 5 .9-4.7 .4 13.1 2.9 13.8 .8 4.9 3.6-11.5 1.1 11.1 1.5 2.7 6.3-36.4 1.5 29.8 1.1-4.3 .1 10.3 .3-31.5 1.2 20 3.7-8.3 1.7-10 8.9-5.8 .9 1.9 .7 3.1 .1-4.2 1.3 2.3 .1 .4 1.7-1.1 3.5 13.1 .4 3.9 1 9.8 .7-8.3 .3-20.7 .5 14 1.5 8.4 .6 11.2 .2-9.9 2 12.6 .3-26.2 2.4 12.4 .1 .4 .3 .8 3.4-20.1 1.8 4.9 .5-8.6 1.3 23.3 2.9-9.3 .4 10.1 2.1-2.6 1.9-17.4 2.1-.5 6.1 21.3 0-.9 .8-2.9 2 4.1 .3 4.3 4.3-12.4 17.7 3 4.7-3.8 1.4-16 8 68.9-172.5 1.2 1.8-20.7 2.2-6.4 3.5 25.3 5.5-16.2 0 .4 5.7-10.4 3.9 16.1 7.8-15.6 .2-4.2 1.4 11.5 3.4-7.2 2.1 24.9 .3-26.6 .6 8.5 .1 6.6 1.4-2.2 .4 2.2 5.4-16.7 .3 12.8 1.7 3.9 5.3-16.4 4.2 10.8 .2 15.9 9.2-6 2.2-16 .5 11.3 1.1 9.3 3.2-24 .8 10.8 1 7.7 1.6-5.3 .8-13.1 .7 33.1 7.5-22.3 8.9-9.8 3.2 28.6 1.1-10.5 .9-10.3 2.6-4.3 1 3.5 .1 12.1 1.6 6 4.1-3.3 3.1-18.8 3.3 9.5 5.5 9.1 1.6 1.9 15.7-8.1 18.7-10.4 21.9 33.7-196.5-1.8 16.4 16 11.2-11.9 8.8 34.2 .4-2.4 8.2-29.8 4.1-5.6 28 7.9 1.4 25.8 12.1-2 5.2-10.4 .7-17.7 .4 .4 26.3 33.5 32.9-5 3.8 13.6-108.7 11.9 21.7 18.7 19.4-19.2 29.1-9.3 25.3 1.1 14.6 31.7-62.1"/><path class="sa" marker-mid="url(#by)" marker-start="url(#by)" marker-end="url(#by)" d="m856.9 257 8-10.6 9.7 45.4 12.3 17 35.5-94 15.9 3.9 .7 7.2-4.8 15.1-4.4 .7-27.7 18 37.7 5.7-27.9 1.1 24.6 2.5-16.4 2.8 17.4 10.9-7.8 .3-16 8.3 18.6 2-7.5 2.5 13.6 .8-36.4 1.1 36.6 1.8-23.9 .7 7 3.3 16 1.4-17.4 9.3 19.5 1.5-9.2 1.7 2.2 5.1-8.2 13.1 9.9 11.4 5.4 6.7-.8 1.7-8.6 15.1 45.6-164.6-16.4 30.6-8.9 1 17.7 1.7 .6 1.2 1.7 12.9 3.7 4.3-25.4 2.2 26.3 3.3-24.9 8.2 1.9 1.4 17.2 .2-26.6 2.2 10.2 1.4 15.8 .7-24.4 2.8 16.6 0-12.2 3-.3 1.4-3.8 2.6 11.9 4.6-3.5 1.7-.4 .5-2 .1-.3 .6 24.8 1.1-5.8 .4-10.3 .2-9.5 3.1 12 1.5 1 1-18.8 .2 2.7 .3 30.1 2-14.5 3.4-14.5 .4 26 1.3-4.8 2.4-7.9 .5-.7 .8 1.3 3.8 4.7 3.2-14.4 1.3 20 1.8-22.7 4.8 21.1 .1-1 2.5 7.7 .7-8.3 .6-11 3.2-5.8 8.8-1.2 2.5 18.8 8.2-28.9 3.5 24.1 14.6-13.2 13.9 39.3-198.5 25 13.1-31.5 13.3-1.8 19 36.8 3.4-26.4 9.3 1.9 3-7.6 .1 10.6 4.5 19.2 .1-9.2 2.6-21.2 .2 10.5 .1 16.2 .5 3.5 2.8-20.5 1.4 19.9 4.9-14.7 .5-10.1 .5-5.7 .6 6.6 .7 12.9 .4-19.7 2.8 25 1.3 2.5 .1-30.9 .1 13.5 .7 18.1 .1-30.7 .4 13 .2-10.1 .1-5.7 .9 8.4 .1 29.4 1.1-25.2 3.4 6.2 .1-12 0-6.9 .7 20.8 .4 3.9 .8-16.4 1.3 21.5 .7-17.4 1.9 25.9 1-36.4 1.6 8.4 10.7 6 .5 15.4 1.7-8.3 1.7-6.5 .1-.7 3.3 4.2 1.3-6.4 .6 24.2 .2-2.6 1.5-33.8 2.7 33 1.1-27.4 2.3 18.9 1.2-20 .3 29.8 .5-30.5 13.2 2.9 6.7 13.5 5.8 12.4 4.1 .5 5.2 .7 .3 3.1 1.8-34.7 .2-3.4 5.3 9.8 10.8 32.5-154.5 28.6 6.9-12.5 17-4.9 5.7 6.5 2.5 2.4 2.2-2.5 1.2-13.1 2.3 6 9.3 7.6 2.5 3.3 3-17.3 2.8 12.6 .5-9.4 .4 .4 1.7 19 3.8-9.4 2.3 17 1-22.7 2.6 16.4 .8-1.3 .7-23.1 .1 22.3 .3 8 5.1-4.7 .4-21.9 .4-5.1 1.9 1.6 .3-2.6 4.3 34.8 .2-13 3.2-13.2 1.6-7.8 .7 4.6 .3 26.7 .3-10.5 2.7-25.7 1.6 5.4 6.6 20.8 0-14.2 3.9-10.6 1.2 31.4 5.7-22.9 5.1-1.9 15 8.2 1.9 11.8 1.4-5.6 3.6-13.9 13.2-5.7 2.3 14.8 6.7-12.5 .4 15 3.9 41.3-156.6 0 11.2 0 2.4-16.6 3.6 24.6 6.3 .3 12-7.4 5.1 1 .4-6.7 4.3 17.9 .5-27.9 6.5 24.3 2.3-20.8 .3-9.7 11.2 15.7 2.8-6.3 2.9-.6 0-5.6 4.1 13.5 8.1-5.3 1.3 .1 9.4 6 8-17.3 .4 33.5 10.1-10.1 2.1-.5 6.1-14.2 3-.7 17 5.4 10.4 45.3-83.6-14.9 14.4 19.5 26.3"/><path class="sa" marker-mid="url(#bb)" marker-start="url(#bb)" marker-end="url(#bb)" d="m1091.9 420.4 23.2-53 23.8 37.9 36-78 2.4 4.9-29.7 0 29.4 15-17.2 10.5 7.2 9.5-21.3 5.5 24 1.3 2 23.2-7.2 5.1-1.1 5.2-14.2 10 11.6 7.5 13.4 .9-11.7 13 15.8 6.8-18.1 9.3 12.4 5.2 21.2-141.6 15.7 19.5-16 7.7-9.8 3.1 34.1 8.5-3.4 18.9-12.2 .2-7.7 1.3-11.5 .7 20.2 .1-6.1 3-2.5 4.4 3.2 .2-9.5 0-1.5 .8 18 7.1-17.9 2.3 15.8 2.4-2.7 .6 .3 .9 11.5 1 1 .4-16.5 1.2 11.3 .7-16 .9 24.8 1.1-3.4 1.8-9.9 1.2 12.7 1.1-32 3.5 32 1.2-4.4 .1-9.8 7.9 15.7 1.2-30.1 .3 29.4 .4-4.9 .9-29.5 2.5-.8 .1 37.9 .5-15.2 .7-5.8 .4-11.3 2 15.5 1.6-15.5 .8 11 .2 17.5 8.2-14.3 .8 16.6 5.4-10.1 3.7-17.2 3.9-4.3 4 16.8 2.4-14.9 3.7-4 13.6 24 13.5 11.9 7.2 18.1-197.7 7.1 18.4-12.7 14.2 25.1 12.2-21.5 .5 21.7 7.4 .6 .1-30.5 3.1-7.2 5 24 9-14.9 3.8 20.7 .5-25.2 .3 32.2 .5-32.7 1.3 23.3 1-6.2 1.9 2 .4 11.3 2.5-26.8 .3 15.2 1.1 15.1 .2-20.4 .7-13.5 0 11 2.8 16.1 .3-.3 .4 5.6 .8-19 .2 .8 0-.4 .6-11.7 0 9.3 .4 10.3 1.1-2.7 .2-23.5 2.6 3.7 1.9 24.3 2 6.1 .3-20.2 1.6 1.9 .1 15.8 .2-20.5 .8 8.3 .7-2 .6 8.1 .2 10.6 2.2-19.7 1.8 1 .5 2.7 1.1 7.7 .2 3.8 .5-27.4 3.6 2.1 4.1 11.9 1.7 .5 1.6-10.5 1.2 7.6 .7 23.8 .6-33.9 .6 23.7 2.4-14.8 1.9 21.7 2.7-30.9 .2 24.4 4.2 3.5 6.2-8.6 1.6-18.1 3.1 30.3 .2-17 .9 6.8 3.4-24.3 2.6 7.7 2.5 9.8 .3-4.3 .2 18 0-19.1 3.2 15.4 .5-5.2 2.6-23.7 3 12 16.7 26 4.1 7.3-157.8-2 13.6 7.7 6.4 18.5 .6-12.4 4 21.6 1.5-1.3 3.5-37 11 8.9 2.5-2.6 6.6 3.6 3.6-2.1 .2-2.9 1.6 16.4 .3 14 4.2-36.8 2.5 3.4 .1 10.9 2.3 7.8 2-11.1 .3 1.1 1.9-3.1 2.5 20.4 .6-17.7 0-7.9 3.7 33.5 .2-32 .2 9.6 .6 15.6 3.4-22.5 .7-1.7 .8 6.5 .8 13.4 .6-26.1 .6 39.3 3.1-39 .5 31.9 2.1-3.9 2.3-21.2 2.6 3.9 2 5.8 .1 21.4 .7-18.4 1.4 3.5 6.6-10 3.7 11 2.3 6.3 .2 2.7 2.9-19.8 11.1-12.5 4.2-.4 2.8 31.4 4.5-28.5 7.1 29.7 2.7-17.2 28.7-11.8 1.4 41.1-206.1 12 33.1 .5 5.2-13.8 2.7 26.2 6.4-1.1 1.6 4.4 6.1-21.7 4.6 15.7 1.7-5.7 4.3 13.4 4.9-3.9 .5-29.2 4 25.2 4.1-22.6 6.7-.2 15.7 29 1.1 3.3 3.3-15 .6-8.6 3.5-2.5 .3 1.2 13.7-8 2.6 35 7.7-19.1 4.1 14.2 .2-4.2 5.5-29.9 6.6 10.4 3.4 5.2 5.3 24.5-82.4 25.3 28-2.5 48.3"/><path class="sa" marker-mid="url(#bp)" marker-start="url(#bp)" marker-end="url(#bp)" d="m1139.4 156.3-30.7 .6 28.1 23.7-23.2 12.3 24.5 5.2-.2 9.9-2.1 1.6-14.8 11 28.2-143.8 18.4 48.6 8.7 3.5-22.1 8.7 12.8 1.9-22 22.4 14.1 .3 16.9 .3-1.3 5.3-18.9 14.3-2.8 .3 25.8 1 .5 10.5-19.9 7.8-14 5 30 25.5-21.9 .5 8.5 .7-1.2 3.4 14.4 1.6-9 5.1-8.6 7.9-2.6 18.7 18.9 7.6 29.6-194.8-17.1 4.7 18.3 8.7-7.2 6.7 9.9 8.7-20.6 13.3-6.6 7 12.1 .5 22 .3-10.9 6.3-19.3 .4 .5 6 7.9 1.7 24.2 5-3.5 3-26.5 10.3 30.2 .8-11.7 1.8 8.1 1.8-16.2 1.3 13.9 .8 7.8 .2-10.6 0-16 .9 20.2 .1 2.8 6.4-13.2 .7 5.3 .3-7.8 3.9 10.6 1.9-24.2 .5-5.8 6.8 10.8 2.3 4.9 4.2-15 4.5 15 .9-2.1 1.1-12.1 1.6 .7 .2 22.2 1.6-8.8 .3 5.5 1.2 16.9 2.3-24 5.9-9.6 2.8 32.9 2.3-20.1 .7 20.9 2.6-20.5 3.2 19.9 8.5-24.7 .1 22.2 .3-8.9 5.7-24.9 4.8 33.4 1.4-19.1 7.1-12 .4 2.8 4.2 14 6 59.6-159.1-37.7 2.5 26.6 .2 8.5 .9-9.5 1.5-26.3 8 10.1 2.2 .9 4.1 17.2 4.3-14.8 1.9 13.3 2.1-19.5 4.7-2.6 .1 26.5 1.3-10.5 .3 7.3 .5-19.8 .1 20.5 3.2-10.6 2.3 14.8 .6-7.1 2.5 4.5 2.5-23.1 .9 1.1 1.5-6 .4 5.9 .8 29.1 4.1-38.8 2.8 33.7 1.2-18.2 .2 12.4 .1 7.6 2.3-29.8 6.9 1 2 5.6 .9 13.5 .6 3.7 3.9 8.2 .7-36.7 2 25.1 .2-25.2 2 .5 .4 25.2 .5-23.2 1.2 6.9 1.4 29.7 2.6-10 1.8-23.9 1.2 21.3 .8-8.1 1.2 13.9 .5-15.1 3 7.3 1-21.1 .6-2.2 .5 4.3 3 31.2 8.6-18.1 .8-10.6 1.3 10.3 1.5 2.2 5.3-16.8 6.9 27.9 3.6-26.9 2.6 9.3 3.5 9.4 .1-21.7 6.1 .8 2 17.7 3.4 6.8 1.9 2.3 1.3-8.5 3 11.1 34.3 28.4-191.5-14.8 4.4-2.9 6.9-2.9 .5 9.5 5.2 1.9 5.6-5 6.8 3.5 .9-9 4.8 27.8 12.6 9.6 .5-1.8 8.7-36.4 .1 34.7 3.6-.1 .1-27.5 .4 15.8 6.9-17.6 .6 2.6 5.4 18.7 1.6-22.4 0 19.8 1.7-16.1 .1-8.5 .2 13.8 .1 10.5 1.3-21 .5 9.4 .4-7 .7 25.3 0 5.7 1.6-22.2 2.3-7 1.4 31.9 .1-14.9 1.8 5.7 3-.5 .7-7.8 1.9-14.3 .1 14.2 .6 13.5 2.7-18.5 .1-2.6 6.4 13.3 1.2 6.2 .4-31.4 1.6 14.3 1.6-6.2 3.8-5.3 .4-1.9 1.1 10.6 3.5 10.9 1.6-18.7 1.7 14.1 .2-17.9 14.7 14.6 9.5-3.2 1 19.6 0-15.7 9.5-14.4 3.2 7.3 5 29.2 6.6 24.5-171.6-22.1 20.4 11.5 5.8-7.9 3.2 5 12.7 13.9 .4-19.2 8.9 24.9 2.4-2.6 8.7 10 10.3-31.9 2.8 24.6 6.6-17 3.7 15 5.5 1.9 8-6.1 .5 12.7 1.5-5.3 5.3-23.1 8.9 30.1 3.8-33.3 5.6 9 20.2 13.9 7.1-20.5 .4 40.3-72.4 4.3 7.6-7 11.6 2.8 20.3 14 7.2 28.3-62"/><path class="sa" marker-mid="url(#by)" marker-start="url(#by)" marker-end="url(#by)" d="m874.5 262.8 13.4 47.5 11.9 2.9-2.5 62.4 36.1-144.3 4.3 2.7-29.8 8.1 16.3 32.1-18.1 2.1 32.8 9.1-32.4 3 23.4 7.3-24.9 1.3 11.8 3.8-5.5 2.5 12 2.2 4.6 1.7 0 1.4 6.8 27.6-4.7 46.2 44.3-152.3-15.9 11.9-10.2 2.5 3.7 5 20.8 1.1-.8 2.6-28.1 .4 16.5 .9 18.6 7 .8 .2-26.1 .2-.8 1 17.6 4-19 .8 25.3 1.6-34.2 6.3 16.9 1.8 16.1 .2 1 1.9-5.1 3.5-6.8 1.3-1.7 .8-17.7 5.6 32.3 6.9-9.2 2.6 7.3 .9 1.9 2.4-6.6 .6-19.7 1.7 10 8-16 .7 6.4 8.5-2.2 2.3 22.3 .5-6.3 7-12.9 3 19.3 .2-28.8 2.1 30.5 7.7-28.9 3.7 16.2 15-1.8 11.1 42.9-165.4 10.9 19.2-30.7 1.6 1.6 4.8 28.3 9.2 2.6 4.4 .8 .9-32.9 .7 24.4 .8 4.9 .7-23.9 2.3 6.5 .2 13.6 .4 11 1.8-21.7 2 6.2 1.9 8.2 .5-9.8 1.2 8.3 .8-3.2 2.5-24.8 4.6 4.7 .6 10.5 1.7 11.5 3.2-10.9 3.6 8.6 .1-5.7 1.3 8.1 1.2-20 .9 21.5 1.7-18 .8 .7 .7 20.5 1.6-5.4 .8-13.5 1 8.8 .7-16.6 0 11 .6-17.5 0 4.3 1.7 32.1 .6-15.5 1.4 11.3 2.7-6.4 .3-19.3 1.4 31.3 .1-19.9 2.5 8.7 1.3-13.4 1.1 21.9 3.9-4.2 .8-8.5 .9 11.4 .6 4.7 .3-4.8 2.1-11.8 .4 9.9 .1-16.1 3.6 8.8 .1-8.6 2.8 9.7 2.6-1 .3-14.3 1.7-9.9 .3 27 .1-3.5 .6 5.1 .5 5.5 1.1-22 2.1 25.9 .4-36.3 3 9 1.2 22.8 10.3-17.7 3.4-3.3 17.7 15.1 2-12.6 13.9 29.8-150.2 7.3 2.6 3.6 14.8 3.6 1.8-9.5 3.2-8.4 1.6 32.2 2.5-16.6 5.4 2.8 .3 2.6 1.6 9.9 .8 5.8 .8-21.2 2.4-1.4 1.9 9.3 1 3.1 .1 8.6 1.3-31.2 1.5 24.6 3-7.5 .4-21.8 2.7 23 9.3 7 .4-13.5 2.3-13.5 7.1 8.3 3.3 17.5 .2-8.7 4.6 9.7 1.9 0 .9 6.5 .5-32.9 2.2 21.3 4.4-16.9 .3 17.8 .5-2.4 .2-6.5 .3 13.8 1.8-24.9 .3-6.3 4.6 5.8 .4 3.8 2.7 19.4 4.6-21.3 .2 6.1 1.3 15.6 1.5-19.3 .7-1.8 3.7 24.3 3.5-30.5 3.8 17.6 4.9-6.6 .2 7.2 7.8-20.8 18.1 59-175.3-18.3 17 18.3 6.9-18.3 23.2 4.9 .9 27.3 1.9-28.7 2.9 16.1 2.2 4.2 9.1 4.8 18.4-18.7 .5 24.4 3.4-34.9 7 30.4 4.6-2.2 .5 2.7 1.8-3.7 5.1-.9 8.2-26.5 5.6 9.4 6.3 3 4 16.9 1.5-27.1 .8 2.3 6 38.1-92.1 5.8 64-.2 39.3-8.4 2 3.8 8.2"/><path class="sa" marker-mid="url(#bb)" marker-start="url(#bb)" marker-end="url(#bb)" d="m1132.2 375.1-3.7 21.4 9.7 10.7 1.6 27.6-5.5 89.4 35-194.9-8.9 23.3 15.4 11.4-16.4 1.4 15.2 1.3 1.4 10.7-7.8 6.3 7.3 4-17.9 9.1 3.9 2.9-15.9 1 10.1 .9 14.8 1.4-29.8 3.4 22 1.6 5 1.5 10.6 1.4-6.1 2.2-12.4 5.7-13.2 6.2 19.8 1.7-11.4 7.1 4.3 1.6-12.3 .7 26.7 1.2-14.5 9.9-12.6 11.7 30.7 2.2 1 1.9 .4 2.1 35.5-149.2-23.9 13.4-2.4 8.6 31.1 16.4 .9 2.8-20.6 1.6 15.1 .8-13.1 5.3 14.1 5.1-1.8 2.6-6.4 .4 3.6 .2-30.8 2.6 22.4 .5-10.6 .3 17.5 .5-9.8 2.1 15.5 5.9-1.4 .4-14.5 .6 19.6 .2-24.1 3.4 14.2 .1-18.2 2.2 18.7 .4 7.8 .1-20.8 0-14.4 1.7-.3 .5 36.2 2.5-26.5 .6 8.5 1.2-6.9 3.7 18.9 1.2-13.4 2.2-14.8 3 5.4 2.7 16 .4-22.2 1.6 24.8 .4-9.5 1.2-.4 .4 8.6 1.9-15.1 1.7 28.6 4.3-35.1 1.2 9 5.7-2.4 6.9 17 2-24.6 1.6-.7 2.3 36.6 .6-3.7 2.1 0 5-19.6 6.2 14.8 1.8 7.2 5.2 1 .9-32.2 6.6 16 2.6 20-138.1 31.8 5.1-11.7 2.1-8.9 .3 22.2 1.4-18.8 3.6 6.2 10.3 1.8 .4-14.8 1.6 20.8 1.4-21.8 .8 10 1.3 10.5 2.1-14.5 .3-2.8 1.9 8.2 .2 18.2 1.8-12.1 1.3-8.5 1.5 11 2.3-.4 1.7-24.8 .4 28.6 1.3-25.3 1.6 13.3 .6 9.2 3.2-5.3 .1 2.4 2.4-14.1 1.6 5.2 1.5-15.6 1.1-.2 1.2 18.4 1-19.3 2.7 8.4 .5 8.6 1.4 8.6 1-20.7 4.4-.2 .2 3.4 .4 28 .4-25.1 .7 12.7 3.5 10.8 1.1-.1 1-4.1 .7-11.4 .8-3.9 1.4 21.9 .1-12.4 0 13.4 .8-37.4 4 5.6 2 16.3 2.1 1.9 2.4 13.1 0-6.4 1.2-26.7 2 33.4 .4-4.1 1.4-11 .7 4.1 .8-24.5 4 25.4 3.1 .4 5.3-15.9 2.4 18.1 1-19.2 .7-3.5 1.8 28.7 4.8-1.9 8.3-11.5 1.4-4.5 1.7 31.7-139.6-7.4 .9 13.4 3.8 12.5 17.1-30.4 10.6 15 .5-13.7 .4-1.1 .4 19.5 2.7-6.6 .7 20.2 2.4-16.3 1.3 2 2-14.5 4.1-.9 2 19.3 .9-16.7 .8 3.9 0 8.4 .6 .8 2.4-14.1 1.6 3.9 .5-4 .2 17.1 7.5 12.1 .2-25.6 1.8 23.6 2.2-13.5 .5-12.3 .9 23.5 3.3-20.2 1.8-5.5 3 8.2 .6-5.8 6.5 23 0 9.4 2.9-36.8 1.6 22 5.2 8.1 .7-31.4 2.3 4.8 1.8-4.8 1 20.2 .9 13.7 2.2-29.7 .3 12.2 1.5-2.1 2.9-2.5 0-2.9 .4 11.7 .8-11.7 .5 10.8 1.6-.9 2.8 .1 2.1-5.4 15.6-7.6 .2 21.9 .6 1.9 3.9-21.8 18.1 43.8-136.8-9.9 3.4 13.2 10 7 1.3 1.5 6.5-1.6 2.8 10.6 3.1-3.8 4.8-14.7 1.5 7.1 2.3-13.9 6.2 29.1 3.8-36.8 .2 15.2 .1-14.8 1.5 10.2 15 2.9 .6-1.1 .1 21.2 4.4-29.9 5.4 22.2 5-22.6 3.3 1.7 1.2 18.4 .6-22.5 0 11.5 .5 13.3 5.9-7.6 4.4 2.8 .5-8 6.7-8.4 1.7 26.7 3.5-23.3 8.3 19.8 5.8 .3 9.5-28.5 5.6 44.7-166.5 16.4 19.2-13 41.7-7.5 9 23.1 21.9-7.4 12.1-12.5 1.8-3.1 1.3 14.7 6.8-3 5.8"/><path class="sa" marker-mid="url(#bp)" marker-start="url(#bp)" marker-end="url(#bp)" d="m1121.4 134.4 16.3 29.3-6.3 8.6-11 2-15.1 12.3 18.1 21.5 1.8 9.9-14.5 .1 28.6 11.6-4.4 7.2-9.5 11.6 46.7-112.3 7.3 3.7-23.7 4.3 21.8 5.9 .6 3.5-12.2 11 2.8 17.3-10 1.9-9 5.5 1.2 9.4 8.5 5 3.5 .5-21.2 2.6 16.1 0 18.8 6.6-14.4 2.3-9.8 5.9 22.7 6-2.5 8.5-7 6.4 4.4 9.4-24.7 10.9 57.8-149 2.5 7.4-15.7 6.1 18 5.2 6.8 .6-21.4 7.2 6 2.7 19.7 7-1.7 3-16.2 2.9 15 3.2-16.1 2.5 16.7 5.6-36.6 2.1 23.6 .1-20.9 .4 9.9 2-8.3 1.2 15.1 1.1-12.1 .4 15.9 .3-12.7 .1 16.9 3.3-5.2 .4-16.2 .9 21.3 2.4-16 2.8 21.8 .4-29.3 5.5-.1 1 27.4 1.6 0 2 3.6 2.2-8.6 .1-25.6 .3 10.9 1.9 12.9 1.4 10.8 1.2-12.8 1.6-.3 0 15 .3-36.4 2.1 5.8 3.9 31.5 .2-28.4 1.3 3.3 .9-4 1.6 10 .7-7.2 .6 21.1 4.1-20.5 2 24.8 2-17.3 2.1 11.3 4.9-4.5 .5-20.1 .2-.2 9.2 32.3 4.5-5.9 .2-20.6 1.9-2.1 1.2-3.6 12.3-3.1 2.8 15.4 3.4-.5 5.6 33.2-198.7-9.6 33.2 31.3 12.5 6.6 1.7-2.1 1.8-16.1 3.8 1.9 9.3-9.6 2.3 24.4 1.1 0 5.6-8.6 .4-19.9 8.4 7 1.5 9.6 3.6 5.5 .7-7.2 .7-21.2 .2 24.8 .1 9.9 3.6-23 2 4.6 1.5 3.1 0-1.1 .2 .4 .3 2.9 1.5-4 5.5 13.4 3.4-28.5 .3 20.9 .3-22.9 .2 28.3 1.7-8.1 .9-4.1 .8-19.5 3.2 38.3 0-32.9 1.6 16.3 .2-5.8 .8-13.8 9.8 19.7 .7-11.3 0 10.7 .2-20.4 .8 4.3 2.1 27.4 .2-9.8 1.2 0 .6-18.9 .1-1.8 2.1 25.9 2.4-14.3 0-5.9 .2 31.1 2.8-7.4 .6-12.1 .3 8.3 16.2-15.3 1 16.7 .5-12.2 2.7-3.1 4.3-5.6 5.2 29.1 1.2-15.3 .9-13.8 8.7 17.5 3.3-11.2 21.4 12.7 11.5 46.9-159.9-21.6 15.2 .5 2.4 26.4 2.4-16.2 1.6 1.4 4 14.8 .4-9.1 .7-2.8 1.4-5.8 4.4-.4 1.5 5.8 2.2-8.4 2.7 5.6 3.9 12.6 .2-15.4 1.7-19.1 2.1 34.5 1.6-35.4 2.8 37.8 1.8-24.2 1.5-14.9 .6 5.2 2.9 18 .4 6.8 5.7-6.8 1.2-18.4 1.8-1.6 2.9 9.6 3 10.9 1.9-10 3.6 20.1 2.9-12.9 2 18.1 2.6-36.9 .3 21.4 1.3-2.8 1.7 4 .3-19.4 1.3 27.6 1.5-27.1 2.1 13.1 .7-8.4 1 2.5 .1 14.5 .3-16.6 5.5 11.3 .1 10.8 4.3-3.5 .6-1.9 .5-2 2.5-11.7 .2 14.7 6.5-26.3 .4 .4 1.8 .1 14.6 19.4 28.8 26-205 4.2 35.7 15 7.9-23.6 9.9 33.2 9.9-16.5 2.8 14.7 2.6-8.6 7.4-3.3 .7-10.6 4.2-2.2 5.6 .2 2.2-1.9 1.4 25.5 11.6-27.7 1.8-2 .8 3 .8 6.8 4.2 3 .7-12.6 12.5 11.4 8.9-8.9 .6 7.4 18.7-10.9 2.4 32 4-14.2 .5 34.2-103.4 4.8 1.4-17.1 24.7 7.2 4.3 5.1 51.3 2.1 4.3-10.4 .8"/><path class="sa" marker-mid="url(#by)" marker-start="url(#by)" marker-end="url(#by)" d="m899.6 304.4-11 25.8 37-106.7-23.4 10.8 32.9 2.4-10.2 9.4 10.4 12.3-21 17.6 5.7 4 17.7 4.1-1.9 5.1-6.8 1.3-4.7 1.3 7.9 1.3-19.2 1.6 6.2 4.7 13.8 3.8-17.8 2 .2 1.8 22.6 1.7-11.8 3 10 2.1-27.1 8.1 14.8 1.7 10.1 1.5-1.2 1.9 5.5 11.2-12.9 14.2 10.9 18.3 43.1-158.8-22.3 13.9 5.4 7.3-5.3 4.4 .4 .9 8.3 11.5-.1 6.8 3.2 .6-3 .2 .7 4.5-5 8.9 4 1.3 13.9 .5-10 1.2 1.4 .1 1 .5 2.9 .7-15.6 .1-14.4 .3 24 1.8 8.8 1.3-32 .2 12.1 .4 6.3 3.7-12 3.1 1.6 .5-1.9 .5-10.6 .1 7 .1 .2 1 4.1 .8 25.7 1.3-4.2 3.4-20.6 3.5 19.2 5.3 3.7 1.4-19.2 3 8.2 2.8-17.8 .4-.6 .5 4.2 1.1-2.3 2.8 27.3 2.1-23.2 .1 24.7 .8-19.3 1.8-2.8 .2 18.8 .1-2.4 .7-22.2 .8 8.4 .1 1.4 7.3-1.2 .8-5.4 4.4 19.1 13.9-1.9 .5-19.8 .7-3.5 .3 27.7 1.1 2 1.2-12.3 5.3 10.7 10.8 8.4-170 29.2 9.7-17.7 15.6 9.3 1.9 4.4 1.2-11.6 .3 19.5 3.9-26 3.5 28.5 8.7-20.5 3.9-3.6 1.4 20.6 1.8-20.7 .6 3.1 1.7 6.4 2.9 12.4 2.2-3.4 3-26.9 .5 22.7 2.5-21.1 .2 32 .2-37.2 1.3 27.1 .4-20.1 .2 28 .7-5.9 3.3 5.4 1.2-33.7 .7 11 2.9-1.1 2.5 4.8 1.3 18.4 .1-20.1 1.1 13.1 .1-2.8 1.8-1.3 .7 10.3 .1-33.1 .3 17.3 .1-2.2 1.9 10.5 .1-7.2 2.6-6.4 .6-4.5 .7-7.1 1.2 20.5 .5 8.5 5.3-31.1 3 32 .7-30 .9-1.2 1.6 31.2 2.4-13.8 1.3 9.6 0-2.6 1.8-2.5 .1 9.8 3.2-8.6 2.6 13.1 1.4-1.7 1.3 1.8 1.2-29.8 .8 29.3 .3-17.2 1.4-1.9 1.7-6.7 3 26.4 2.6-29.2 1-7.1 1.1 1.7 .2 23.9 1.6 .9 .2 1.9 .3 4.5 .4-6.2 .3-18.5 2.3 19.5 0 5.8 2.6-4.7 .4 9.1 3.7-32.3 6.3-6.9 2 14.6 .3 1.7 2.3 5.5 5.9 5.4 2 11.1 6.2 .9 1.8-7.1 3-19.7 1.8 11.1 4.1-23.6 22 41.3-190.8 4.1 .1-3.6 13.5 9.6 2.6-4.4 7.5 30.5 12-28.9 .5 17.3 4.6 7.6 1.8-14.8 3-14.4 12.1 13.4 .2 10.8 2.4-14 1-9.5 2 11.2 1.5 7.4 .9-11.4 1.8 .3 3 12.2 .5-6.4 .7-6.3 3.2-1.4 5.2 25.1 .2-24 1.9 2.2 1.4 17.9 .1-22.4 .5 11.6 1-13.5 .9 7.7 .2-11.9 1.2 24.5 .8-23.7 .2 34.4 0-16.1 .4-5.5 1.3-1 1.7 15.2 2.8 1.5 5-2.1 1-29.6 .2 7.1 3.7-6.8 1 16.3 1.1-1.6 .4 0 2.1 21.7 .4-14.7 7.2-4.3 1.8 3.2 1.4-1.9 .5-.8 .5-16.3 11.8 11.2 .4-13.4 .9 10.6 2.5 3.2 11.3 15 12.6-5.6 9.7-16.1 1.3 7.2 5 20.3 29.6 32.8-173.9-19 14.5 4.6 13.1-3 3 21.6 8-26.4 .3 14.8 4.7-1.1 1.4 .2 3.6 .9 4.2 6.7 1.5 3.3 .5-15.4 1.4-9 9.5-3.6 .2-1.8 .1 23.9 1.7-17.8 .8 28.9 6.1-18.1 1.5-17.7 2.8 16.9 1.9 1.3 5-14.8 .7 12.8 11.3-3.3 1.7 13 41.7 20.8-106.2 32.5 32.2 8.9 4"/><path class="sa" marker-mid="url(#bb)" marker-start="url(#bb)" marker-end="url(#bb)" d="m1103.2 377.9 14.5 12 60.3-63.2-3.4 27.7-.5 2.4 0 11.1-7.2 10 11.5 5-3.3 1.2-9.2 8 1.1 4.9-20.7 7.6 12.7 .3-.9 5.7 18.6 .2-9.8 .5-24 1.8 35.7 12.7-6 7.3-14.5 27.8-3.7 5.3 14.5 8.9 48.9-146.4-9.8 9-4.6 13.1-3.1 5.7-16.8 2.9 14.3 1.2 .6 2.4-1.5 4.6 10.6 2-4.3 .1 4.4 1.7-11.7 1.2-7.7 0-7 2.8 3.7 .1 1.6 4.6 20.8 .7-23.2 .6 19.6 3.9 15 .8-8.5 .2-29.2 3.8 .5 .9 35.1 .6-24.2 1 22.6 1.1-6.4 2.2-11.4 .1 7.5 5.4-17.6 1.2 4.5 .1-1 2.4 26.6 .6-.8 2.3-5.4 4.5-6.9 3.9 .2 3.5-19.3 5.3 23.4 0-27.2 4.6 7.3 2.6 19.6 3.4 1.9 .1-29.8 .5 36.6 3.6-34.8 1.1-.5 .7 32.2 1.2-26 5.9-7.1 2 32.3 .3 5.8 4.4-27.6 8.1-1 5.6 64.7-147.9 .4 21-29 6.7 28 4.8-9.8 2.1-1.1 6.4-1.8 .2 8.1 1.1 9.7 1.2-22.2 .3 16.3 .4-14.3 1.8-17.5 1.7-.3 1.4 3.1 3.2 2.8 1.2 24.1 .2 4.3 3.2-6.5 3.5 5.7 .5-7.8 .3-2.9 .2 2.3 0-22.7 1.4 29.4 .8-9.6 1.6 3 .2-10.3 .2 6.7 1.2-17.3 .9 1.2 1.3 16.8 2.5 2.5 .2-8.5 .3 9 .1 9.1 .6-11.6 4.5-2.1 3.3-9.3 .2 24 .4 1.4 .4-23.3 1.6 11.4 .5-3.6 .1-13.7 .4 18.2 .1-26.8 .5 35.7 1.4 .9 3.6-19 2 10.9 4.2-20.6 2.5-3.1 .4 17.9 .1 3.7 1.5 1.4 .2-16.7 3.9 8.1 .5 11.4 .2-23.2 2.6 24.8 .4 7.3 .1-12.9 1.4 3.9 .6 2.1 .4-21.5 1.3 8.8 2.9 16.7 .9-15 .9-16.2 1.5 10.8 4.2 21.8 3.4-7.1 .8-.9 1.8-25.6 .4 9.8 2.1 3.3 0-10.5 4.6 17.5 9.6-23.2 .6 29.2 1.6-26.4 6.3 32.7 5.3-19.8 4.4 37-150.3-13.4 3.2 12.8 .6-.3 1.1 17.8 9.2-26.4 2.8 4.4 4.9 3.5 8 7.2 2.8-15.7 1.8 30.9 1.9-18.5 1.3-.1 1.2 9.6 4.3-16.8 .5 11.4 1.3-2.9 1.3 9.8 .4-26.7 1.3 33.1 .9-22.7 3-11.1 .6 20.2 3 12.1 0-16 1.2-12.7 .1 3.5 .9 5.9 .1 7 1.5 3.4 2.8-20.7 .4 16.4 2.6 19.8 3.7-33.8 .6-.8 .8 22.1 3.1-16.7 .9-2.4 2.4 23.2 .6-28.6 .8-1.4 1.9 16.7 1 17.9 .5-26 .9 3.6 1.2 18.4 .2-27.6 7 8.4 1.9-10.6 .4 8.7 1 16.3 1.9-11.8 2.7-13.2 .1 3.1 .6 15.4 .4 13.4 4.5-26.7 2.6 23.1 .8-16.6 4.5 13.6 .2-12.3 1 .8 5.1 .6 .7 16.3 4.4-5 .5-16.2 2.5 17.2 1.5-6.5 1.5-15.2 1.1 62-105.7-24.1 1.9 17.3 2.2-14.5 9.5 23.2 4-18.1 9.1-4.8 10.3 24.1 0-31.3 19.7 21 .7-9.1 5.6 18.9 .7-4.4 6.9-2.6 2.6-11.1 2.9-9.7 1.9 17.2 10.2-3.1 6.1-3.9 .7 31.5-99.1 13.8 67.5 15.4 14.6 .6 15"/><path class="sa" marker-mid="url(#bp)" marker-start="url(#bp)" marker-end="url(#bp)" d="m1095.5 156.1 23-45.3-1 35.3 .2 19.6 21.3 2.2-12.4 5.8 .4 .3-23.3 17.8 8.8 .3 25.7 10.4-.5 15.7-9.5 3.4 8.7 25.3 12.1-155.1 23.4 41.7-20.7 12.5-7.1 4.8 6.2 1-3.1 8.4 22.5 19 2.4 1.4-20.3 2.6-4.6 1.6 .4 14.3 29.2 6.5-26.3 7.2 20.9 1.8 5.7 2.3 1.7 3.7 .1 3.9-22.1 6.8 15.4 1.9 3.6 1.1-1.1 27.7-1 .2 40.1-156-1.7 9.4 1.5 5.9-16.6 1.5 21.3 9.9-36.9 .6 2.5 4.7-1.1 5.3 13.3 5.8-5.4 2.9-4.9 1.4 25.5 2.4-11.2 .1-11.2 1.6-2.2 1.3 12.6 0-2.3 .4 21 1-25.3 11-9.4 4.4 35 2.3-10.7 1.2-24 .3-2.6 .9 8.8 .6 22.1 1.2-28.3 3.2 14.2 .7 13.8 .2-9.7 .4 10.5 .8 6.4 .1-36.6 3.2 35.4 1.7 1.7 .3-6.5 1.2 2.7 2.3-9.5 .1 4.1 2 3.7 .4 5.4 .7-14.1 .6 7.5 .3-17.6 .4-9.7 .7 15.6 3.1-11.2 .5 22.5 8.2-14.8 6.7 8.6 .2 4.5 .9-25.4 3.6 29.3 1.1-14.4 6.6 .9 12.8-3.1 7.7 2.6 .4-4.9 2.3 9 8.1 14.1 25.5-16.1 2.3 18.2-182.1 2.8 10.2 21.2 1.7-5.7 8.3-.6 2 7.4 7.5-8.8 1.2-11.8 3.5-4.9 .9 38.6 2.5-13.5 5.2 8.7 2.9-26.2 2-1 .8-3.9 .6 21.5 1.1-7.7 1-3.5 .1-3.5 .9 29.3 .3-11.5 3.9-18.6 .8-1.5 2.3-.1 3.2 5.8 .8 7.3 6.5-10.2 1.6 .1 1.9 23.3 2.3-16.3 2.6 15.7 1.2-3 6.9 .3 2.9-28.2 .6 16.8 .7 1.7 1.4-10.7 1.2 18.2 1.9-20.2 3.2 27.3 0-33 1.2 25.7 1.7-3.8 1.8-5.9 1.5 9.9 .8-27.9 .6 17.5 .4-17.8 1.1 12.5 1.5-6.2 .7-4.7 4 4 .9 11.9 2 15.5 5.1-.2 1.3-22.3 2.9 21.1 6.5 3.7 2.5-7 1 4.5 .4-25.9 4.1 13.3 1.4-1.5 5.7-17.9 8.9 11.7 17 14.4 7.4 24.9-165.1-7.9 7.4 22.8 2.1 8.7 13.1-31.7 .7 26.8 .2-19.1 4.3 13.7 .7-17.9 6.7-6.2 .5 35.8 9.9-34.5 2.1 30.8 1.7-27.8 3.6 21.5 .2-22.2 1.1 13.6 .4 18.5 2.3-33.1 3.1 2.3 0 11.1 .4 10.4 2.6-14.7 7.4 8 1.4-10 .2 .2 5.9-7.4 2.8 28 1.6-26.5 2.8 27.8 .1-23.6 9.1-3.7 2.7 3.9 2.7 18.9 1.6-1.4 1.7-27.1 1.2 22.5 .6-15.2 9.5 23.4 5.6-11.9 .7-2 10.1-8.9 22.2 26 12.6-32.7 5.9 52-188.2 1.7 16.6-13.9 6.7 4.8 6.1 24.3 6.3-18 38.2-9.4 7.2 12.6 9.3 22.1 7.5-31.9 .4-.1 32.3 27.5 9.3 1.2 17.1 21.9-42.4-4.5 20"/><path class="sa" marker-mid="url(#by)" marker-start="url(#by)" marker-end="url(#by)" d="m876.6 278 .9 28.8 19.5 1.6-3.2 6.7-18.3 18.6-7.9 4.6 14.3 9.4 44.1-113.9 9.6 9.2-6 9.4-10.8 .3-5.8 4.7 2.3 6.5 8.2 1.9-7.3 8.4 12.5 5.8 3.1 .4-31.2 7.2 37.1 16.8-6.6 10.1 6.8 14.6-4.3 4.5 2.8 14.6-.1 23.3-9.5 23.8 28.7-192 15.3 1 8.5 26.1-11.6 12.5-6 4-10.4 2.6 22.4 .8-27.3 4.2 19.8 3.1-.8 2.2 5.7 8.7-.5 7.2-1.7 .5-10.8 .9 14.7 .5-25.8 2.2 25.2 .9-20.6 3.5-.4 .2 19.4 .5-17.1 .2 1.8 .8 22.4 .1-25.2 .8 14.4 1.1-20 1.4 23.9 .3-25.1 2-.2 3.5 25.3 2.1-2.9 1.9 .5 .4-24.6 1.6 4.1 .6-1 1.7 4.7 .4 17 .7-13.2 6.2-3.4 1.1 27.6 .3-7.2 .1 .7 4.9-24.5 .4 25.9 2.1-1.8 2.8 5.2 5-21.4 6.2 20.2 4-31.9 6.6 30.4 3.8 4.3 6.5-6 2.6-.7 21 17.9-179.3 29.2 13.9-35.4 8.7 19.8 17.3-18.3 2.2 21.8 2.6-18.5 6.3 8.4 1.9 7.9 3.2 3.1 2.5 2.2 2.6-2.6 4.9 .1 .3-26.4 .8-.9 1.8 25 1.2-22.2 2.6 26.8 1.8-15.7 2.2 14.4 2.2-18.9 2.2-2.5 2.2 5.1 .3-3.3 1-8.6 2.7 30.7 1.4-28 2.5 28.4 .9 .4 .9-15.5 1.6 19.5 5.2-21.5 1.6-10.3 3.5 7 .8 18.1 1.7-16.7 .3 7.3 .1 8.5 .9-9.3 .6-13.4 .1-5.5 .6 33.1 2.5-23.1 .4-3.5 .8-3.3 1.2 7.7 .5-11.7 .4 9.8 .6 29.3 .2-22.1 .3-4.5 2.4 .4 .9-11.4 11.6 3.4 2.9 33.8 0-30.8 1.2 1.9 .9 10.2 2.5-12.6 3.2 21.2 .1-9.9 1.4-10 2.2 20.7 1.1-22.8 .1 19.1 2.7 7.8 .5-14.5 1 5 5.5-4 1.1-2.9 1.1-13.3 1.7 12.3 3 20.7 19.9-9.4 3-22.3 9.4 74.1-201.3-29.9 8.5-8.7 3.3 12.9 14.5-3.2 13 11 8.9 10.8 2.6-.2 1.9-20.7 .6 14.3 6.2 7.5 2.8-18.7 2.6-9.8 1 31 3.8-28.7 2.8-3.9 2.1 26.5 .1-21.4 3.9 20.4 .1 7.3 2.7-27.2 4.1-.2 .5 25.3 2.1-13.7 .4-18.8 2.5 3.4 1.9 7.5 1.2-10.7 1.6 18.4 2.7-10.1 1 24.8 1-19.4 2.5 13.9 .3-23.4 .3 5.4 .2 25.1 1.1-21.2 .1-9.9 1.1 9.6 0 4.4 3.2-3.4 .1 12 4.3-25.7 1.8 14.1 .4-14.9 .3 5.4 .2 30.7 1.4-21.3 .4-1.3 1.6 8.3 3 8 7.5-6.1 1.4-20.3 3.3 5.3 .1-2.2 10.2 8.4 4.6-7.8 .7 1.8 6.8 8.8 1.3 10.3 0 6.6 2.4-4.2 6.8-29.6 9.7 11.7 7.8 65.8-154.2-37.8 8.8 15.2 19.4-14.2 13.8 13.1 10.7 1.5 .2 3.6 16 9.9 5.1-1.9 12.3-26.3 .6 30.5 1.1 5.7 7-37.6 .1 19.4 .1-9.6 .4 16.7 40.5 18.5-129.2 3.2 30.5-5.3 38.7-3 7 13.7 1.8"/><path class="sa" marker-mid="url(#bb)" marker-start="url(#bb)" marker-end="url(#bb)" d="m1112.2 367.3 3.4 41.3-1.5 79.3 54.1-188 7.6 27.1-25.1 9.3 11.6 14-11.4 9.3 18.2 4.3-3 6.8 12.7 5.9-19.3 3.6 10.8 4-24.6 16.8 17.6 3.9 14.5 .8-9.2 .6-16.9 7.4 23.9 3.6-.7 1.1-23.8 .5 20.9 .4-.2 8.9-9 .1-21.6 20.7 30.1 22.2 35.6-152.4-16.3 12.1 7 3.5 1.5 11.4-10.5 8.9 12.1 6.3-10 1.8-7 .4 9.4 2.1 18.7 1.3-26 .2 23.7 2.1 10 1-22.2 3.5 12.8 5.3-6.2 .4 11.5 .3-25.7 5 24.7 4-2.3 .5 7.5 6.5-.9 .7 .3 .2 .6 1.3-36.1 3.7-1.1 1 19.4 2.5 9.5 .1 2.2 1.3-27.7 3 5.8 .6 25.6 3.6-16.2 .9 18.5 2.9-18.5 .1-2.6 .5-6.2 1.7 24.8 .3-20.1 2.5-5.7 2.1 11.2 5.5 12.1 5.1-2.9 2.8-20.4 1-2.4 .4 4.5 .8 20.6 5.8-17.2 3.3 11.2 2.5 8.8 1.1 2.2 2.7-16.8 .6 8.9 3.4-9.3 .6-10.5 1.5 25.1 21.1 20.5-169.6 4.6 11.4-19.6 6.6 4.3 6.4 6 1.2-8.2 1.9 .9 1.9 9.7 5.6 9.1 8.1 .2 7.2-11.3 .2 25.6 1-21.3 .9 7.6 2.6-19.7 2 33.3 .1-5.4 6.1-25.1 1.6 2 5.3 17.1 2.2-21.7 .3 28.1 2.7 .5 2-1.2 2.4-9.6 .7 2.4 1.8-14.9 .7 7.2 .4 1.5 .6-6.9 .6-8.8 3 35.9 .4-26 .3-9.8 2.4 33.3 .4-29.1 .4-6.4 1.2 1.7 2 33.5 .3-8.2 .1 10.9 .6-38.4 1 37.4 1.3-27.5 .3-8.5 .2 36.3 .2-21.3 1.1 6.5 4.3 9.6 .1-5 .9-.9 0-11 .2-.2 .4-11.5 .2 27.2 .5-21.7 1 3.9 .5 8.4 1.3-13.2 .5 18.4 .9 6.9 .2-8.7 3.1 12.6 1.6-2.4 1.7-17.2 .8-13.9 .5 9.5 1 21.8 4.9-7.2 1.1 6.8 1.8 4 .5-34.4 .5 10.4 2.4 2.9 .2-17.1 2.4 34.7 1.4-11.8 1.3-10.2 2.4 6.4 3.2-14.5 .4 7.9 1.3 21.1 2-28.8 4.7 17.8 9.2 31.1-167.8-11.4 27.3 3.7 1.2 30.7 12.4-10 .7-12.5 9.3-13.9 5.4 6.7 .6 19.3 1.8-4.6 .8-12.5 2.6 13.2 1.6 6.3 2.2 8.4 1.1-30.2 1.3 10.9 2.2 2.5 2.4-16.4 .8 2.2 .9-2.6 .5 30.5 6.8-5.3 .3-2.4 .5 10.2 .3-13.4 .2 9.3 1-27.4 .5-.1 1.4-5.9 .9 34.6 .2-35 4.5 1.4 2.3 38.1 .2-25 .5-7.9 2.2 6.9 .6-6.8 .9 25.8 2.9-30.9 .3 8.1 .8-1.7 .8-3.6 4.8-4.3 .7 28.2 .2 10.9 3.3-29.4 6.4 23 8.8-22.6 5.6 16.7 .7 3.8 1.8-29 3.1 11.4 .6 9.7 1.5 .5 8.3-11.4 3.5 5.6 3.5-.3 1.6 7.5 8.9 28.4-151.1-12.3 24.4 30.5 .1-9.4 19.8 3.8 .3-13.1 8.6-5.9 3.9 19.2 5.8-16.9 15.5-9.1 5.1 32.4 2.8 3.9 7.6-28 8.6 8.4 .3-13.9 7.3 2 13.9 13.7 .8 2.8 5.1-19.1 13.7-1.2 13.7 56.9-88-.6 14.2"/><path class="sa" marker-mid="url(#bp)" marker-start="url(#bp)" marker-end="url(#bp)" d="m1138.8 129.9 .2 29.8-32.1 15.1 19.9 8.1 2.4 14 3.8 6-5.4 34.6 .7 4.6 1.2 8.3 7.9 14 24.5-127.8-1.4 4.3 17.6 8.1-5.5 2-11.6 5.1-8.3 3 1.6 1.4 10.9 11.8 11.7 1.7-22.4 .5 16.8 6-6.4 .6-8.7 1-10.4 7.1 25.1 10.7 6.6 4.2-17.3 .9-15.2 1.5 29.6 .8-26.6 3.1 26.1 4.9-6.3 10.7-4.1 .4 11.2 .1-18.5 4.3 5.6 1.2 11.9 4.3-30.5 .8 7 .5 4.9 6.4 .3 5.3-6.6 3.4 14.2 9.3 13.6 34.4 24.2-187.6 13.7 18.3-4.6 2.8-.8 3.4-1.6 2.7-7.8 10 5.2 .1-16.4 .9 .7 .8 7 1-3.7 .6 9.6 .4-13.7 .7 22.9 1.6-19.3 .1 17.1 2.6-23.5 2.8 18.9 .3-16.7 1-1.2 .8-3.3 .8 27.2 .6-25.3 .2 22 4.7 11 .2-2.9 1.2-.9 .7 4.6 .4-24.5 1 16.6 2.8-5.1 5.6-.8 7.1-5.7 2.1 7.1 .3 3.4 1.2-7.5 3.2-12.8 .4 13.2 3-.9 .1 5.1 1.1 10.1 .2-24.6 .2 19.7 .8-32 3.4 34.5 5.5-.8 .6-13.1 .1 2 1.1-12.4 .4 29 .7 0 1.5-38.4 .3 30 .2-11.3 1.3 6.7 .5 9 2.5-1.6 .1-20.6 .9 10.1 5.3 6.9 3.1-17.5 .8 26.4 5.5-.5 .3-17.7 1.1 17 2.2-19 .9 1.6 .1 2.8 2.5 9 11-27.9 2.9 3.9 9.7 30.5 3.5-23.8 4.3 58.1-185.1-32.5 10.8 25 .8-17.5 5.8 5.6 7.6-5.4 15.2-.6 2.2-5.3 1.4 8.3 6-3.9 2.4 29.4 6.7-15.2 1.3-11.4 3.3-8 2 33.8 .4-34.1 .2 15.6 1 13.9 1.1-24 2.7 12.6 .6-18.1 2 33.3 .9-31 6.7 18.5 .8-6.2 1.8-3.9 .1-8.1 3.7 20 1.3-12.6 1-7.1 .1 33.8 .8-19.3 1.6-5.2 .4 2 .5-6.2 .1 20.9 2.4-16.9 .3 23.9 .2-32.9 .4-.2 4.6 28.7 .7-33.1 .1 11 .7 23.3 1.4-22.3 1.6 14.4 1.2 3.2 2.9-19.6 5-7.2 .3 11.8 .7-10.7 2.1 18.1 9.9 8.5 1-24.9 1.2-4.7 4.6 31.2 1.6-11.9 3.3-18.5 .5 37.1 .5-36.1 5.1 20.8 2.1 4.1 .2 8.2 4.1-21.5 2.4 17.8 .1-23 10.7 29.7 .2-29.6 5-8.9 .2 25.7 17.1-16.2 2.2 14.7 16.6 52.9-193.2-15.5 19.1-2.1 17.8-13.6 4.7 .7 10.5 14.6 4.6-1.9 2.9 14 7.5-25.1 6.8-7.3 2.6 30.7 .2-29 2.3 36.3 .4-9.9 2.2-18.3 .8 1.6 .2 6.1 .5 4.1 2.4-2.2 1.3-16.5 .6 .5 .5 28.3 1.1-2.8 3.4 9.6 .3-2.1 1.8-36.8 .9 36.7 .7-20 .6-6.9 1.5 24.5 .6 3.9 .7-28 1.9 5.3 3.4-2.3 .5 9.3 .9-16.9 .5 22 .1-26.3 6 6.3 2.2-5.5 1.3 22.8 1.7 2.2 1-19.6 2.2-2.8 .3-4 7.8 7.2 .1 25.9 .7-26.6 .1 15.4 .9 8.9 11.8-30.7 7.7 16.1 3.3 18.8 24.1-35.3 5.2 14.5 8.7-10.5 1.9 62.3-162.1-1.2 2.8-18.9 13.7 16.6 3-18.8 8.8 10.9 1.3-2.8 .6-1.8 .5 14.5 11.9-10.2 8.8 5.1 6.4-8.7 16.8 15.1 23.8-18.2 13.7 51.3-98.1-5.4 36.5 22.7 23.6-31.8 20.2 42.8-15.6 22 33.5 38.5-21.9"/><path class="sa" marker-mid="url(#by)" marker-start="url(#by)" marker-end="url(#by)" d="m899.4 247.3-20.8 17.5 59.1-58.6-3.5 .8 1.7 44.2-9.7 6-6.2 3 4.7 .5 11.1 10.8-7.4 3.4-22.7 3.5 16.3 8.9-11.4 .3-6 3.7 28.9 1.7 6.3 5.3-11.2 6.1-2 4.7 2.9 .4-25 4.3 13.8 4.1-4.1 1 14.5 2-7.8 .6 13.6 26.8 32.5-144.9 .9 22.4 11.1 11.1-22.2 6.8-2.6 6.6 6.1 1.4-9.7 2.4-6.2 6.1 26.1 1 .4 4.5-10.5 .6 13.5 .8-29.4 4.2 29.3 .5-31.5 .3 32.8 .4 2 3.1-28.3 .7 28.5 2.6-9.6 1-18.6 .7 24.9 1.1-8.1 2.3-2.2 1.4 9.4 1-2.8 .5-2.7 .5 3.7 2.9 6.6 1.5-22.4 .2-1 4.3 5.2 .9 5.6 .5-11.3 .2-1.2 .6 3.1 1.9 11.2 1.4-15.4 .6 13.4 1.8-21.6 .4 36.2 5.9-10.5 .3 9.1 1.6-10.6 .6 5.9 2.7-9 6.1-20.3 .8 3.6 2.3 26.5 .5-20.5 3.5 16 1-5 5.3-21.7 2.9 26.1 2.9-.4 5.1 3 2-27 10.2 7.1 2.2-.2 4.5 28.1 1.8-18.6 0 31.5-145.4 16.7 12.5 10.4 3.8-27 1.4 20.7 10.5-7.6 6.5-7.9 3.8 4.3 3.5 3.6 4 5.4 2 8.5 .1-17 1 1.1 .8 4.5 .4-22.3 3.8 20.7 .4-21.2 2.6 26.9 1.5-9.7 .1-16.2 .4 3.7 1.6 11.6 .4 6.1 1.3 6.1 1.2-26.2 .9-2.5 .3 21.1 .1-3.3 .1-2 .4 10.1 5.7 5.7 .2-32.9 .9 6.2 0 2.7 .5-6.4 1.9 17.2 .1-15 2.8 24.6 1-10.7 .2 5.5 .6 7 1-27.7 .8 18.5 1.5-19.4 2.7 21 2.9-10.8 1.5-10.2 2.5 5.8 .3 27.1 7-5.8 1.6-17.2 .2 9.9 .8-19.7 .1 10.2 .2-3.1 1.1 9.9 3 2.4 .1-14.6 1.3 9.6 .8-15.4 4.6 6.9 1-12.6 1.5 6.7 .5 30.8 3.4-27.1 .1 10.8 .6 .2 1.7-6 3 10.2 .7-1.5 3.1-3.4 3 12.5 2.1-26.6 14.6 37.3-139.6 15 3.2-18 17.8 33.4 7.5-4 1.4-23.9 1.2 25.4 2.4-19.7 .2-9.2 1.3 2 0 27.1 2.7-3.4 3 3.7 2.3-20.2 4.3-5.3 .5 23.8 .1-19.3 .6-9.9 .6 9.3 1.7 10.4 1-.7 .7 .7 .3 6.8 1.1-9.6 5.1 1.1 .9-17.6 3 19.5 3.7-16.4 3.8 33.1 .3-23.1 .8 24.9 .6-37.5 .1-1.7 .3 21 .6-16.3 1.3 16.7 15.2-20.6 3.3 2.6 .6 13.7 .7 .6 2.7-5.3 2.9-2.5 2.2 25 6.8-34.5 1 38.8 .1-32.8 1.4-6.5 2.1 24.9 .5-21.4 .7 4.7 4.4 11.2 7-19.4 3.7 26.3 8.7 19.2-123.5 7.4 12.3 1.8 9.4 22.6 8-34.5 .6 19.3 2-20.9 2.2 27.3 1.2-14.7 1.8-4.5 6.5 2.6 1.2-2.9 6.2 2.6 1.4 12.9 1.5-16.7 .8-8 1.4 4.6 .8 23 11.3 7.4 .7-29.9 .3 2.4 .7 16.3 2.7 1 5.1-24.7 .3 18.9 7.1-5.7 .5 23.4 3.4 25.4-53.6 8.7 6.9-22.2 25.3-6.3 10.4"/><path class="sa" marker-mid="url(#bb)" marker-start="url(#bb)" marker-end="url(#bb)" d="m1121.8 351.7-17.8 22.2 11.2 1.3 12.2 27.3-2.9 19.2 49.9-93.2-28 7.3 29.4 22.4-2.6 .9-4.9 1 8.1 .3-6.7 6.6-26.1 9.8 32.1 .9 3.3 .5-15.9 1.2-.4 4.9 1.3 .2-.8 1.4 13.5 .6 2.8 2.6-5.4 2.1-1.2 12.9 1.9 2.2 3.3 6.1-12.3 0 5 4.3-4 1.7-1.2 .5-7.9 8.5 10.3 14.4-10.5 11.6 18.7 6.3-17.7 45.3 45.5-174.7 13.1 1.9-5.1 .4-14.3 2.4 10.9 2.9 9.1 12.2 .8 2.4-10 12-7.2 2.2-9.2 .6 16.2 2.6-11.5 .8 15.8 2.8-21.6 .6 25.4 9.6-8.4 .3 6.3 1.5-5.3 1.2 6.1 1-8 .6 6.4 .7 1.3 3.5-4.5 3.5-1.4 3 10.8 5.1-6.6 3.6-14.5 .8-15.5 1.9 16.8 .4 2.2 4.5-.7 2.6-17.8 .3 23.3 1.8 11.8 .2-4.8 .5 3.9 2.4-21.7 1-10.8 1.9 2 .8 2.4 6.5-8.8 1.1 30.3 3.8 5.8 .3-9.5 .8-20.4 3.5 9.8 .9 7.2 10.9-5.1 4.7-3.7 26.5 51.1-178.3-9.3 26.6 3.1 .4 3.8 8.3 4.2 .4-2.8 4 5.3 2.8 .1 .9 3.5 .7-26.9 .5 18.9 2.9-5.2 2.6-14.2 3.2 31.8 2.1-15.2 .2-19.1 1.6 31.4 1.6-18.2 1-15.3 2 24.5 .1 .5 1 1.9 .2-1.4 3-9.1 .2-16.7 2.1 30.4 .9 6.9 .3-8.6 2.1 2.7 1.4-10.5 .3 1.6 .1-22.7 .4 7 .3 28.4 .6-19.5 3.1 10.4 .2-7.3 .7-10.4 .2-3.5 .7 14.6 1.3-2.1 2.4 18.3 1.2-26.1 1.8 22.1 .6-24.6 1.7 18 .7-11.3 .3-5 .4 28.7 .3-16.9 .5-4.5 5.5 7.6 .5 2.5 .1 11 1.6 .1 1.8-4 3.9-4.2 1.2 3.7 .2-17.1 1.1 1.9 2.9-17.1 2.1 8.6 1.3 6.8 1.9 15.4 1.5-15.7 2.1 12.2 .8-22.8 3.7 22.7 .2-17.1 .4-2.1 .4 12 .7 6.9 .2 5.6 2.1-32.1 .5 18 4.1-2.5 2.5 2.8 2.5 9 1.9-16.5 2.8 25.6 .7-37.7 .7 24.9 1.1 5.2 .3-19.4 2.1 16.7 3.1-16.8 6.5 17.4 4.8-1.9 .4 4.3 3.5 34.7-158 1.7 9.5-12.3 7.5 10.2 1.3-11.8 2.5 12.2 1.4-16.5 5 14.8 5.8-14.8 2.3 7.4 15.2 20.8 4.6-37.9 1.4 6.6 .4 32.8 .8-39.9 1.2 35.2 .2-20 .2-9 9.7-5.8 2.3 32.1 .7-7.8 2.8-24.5 .4 36 4.2-17 .5 20.6 1.5-12.5 1.6-12.8 .1-12.6 3.6 4.6 .8 15.8 .5 15 .4-1.3 4.7-19.8 .3-3.9 2.7-6.7 .9 9.1 .4 10.2 1.1 9.9 .3-27.1 3.9 23.7 3.2-20.2 1.8 26 2.5-24.8 .3 4.9 .1-16.6 3.5 4.3 1.4 5.1 2.5-.6 .1 3.8 .1 25.5 1.2-22.3 2.3 4.1 1.6 .2 1 14.5 3.2-.9 1-19.9 1.4-2 0 3.4 .8 20.7 3.6-24.7 3.4 11 2.8 10.6 .6-19.7 4.9 14.8 .7-27.3 .1 0 4.3 4.4 14.8 38.5-152.4 21 5-23 10.9 17.2 11.3-7.4 6.4 15.9 4.8-6.7 3 9.3 12.5 5.5 1.5-14.1 4.5-12.6 4.1 11 3.4-14.2 1.2 8.1 4.7-9.5 3.2 1.2 18.9 3.1 1.2 15.3 1.1 .9 21.7 8.2 9.2-10.1 13.2-11.9 .6 2.3 25.6 64.3-122.1-3.1 3.3-32.3 5.7 5.5 11.4-4.1 4.8 13.6 5.2"/><path class="sa" marker-mid="url(#bp)" marker-start="url(#bp)" marker-end="url(#bp)" d="m1122.7 114.6 4.2 65.6 5.1 5.6-8.6 5.3 14.3 .4 20.4-68 6.2 7.8 11.2 2.9-28.1 2.8 26.5 14.2-17.3 4.8-12.1 5-.5 5.6 21.8 .2 6.5 .8 7 7.6-1.7 6.6-16.5 4.3 10 6.9 3.1 .2-1 2.8-24.1 1 30 3.6-37.1 7 15.7 1.9 2.3 1.6-9.7 8.3 14.2 2.9 2.7 4.8-2 2.8-17.7 3.8 25.6 2-3 7.9 5.6 2.7 32.7-133.8 2.5 5.5-20 8.8-.1 2.3-4.7 3.3 31.8 2.3-29.7 16.5-2.9 2.3 24.6 1.2 1.6 4-9.7 4.2 15.7 1.3-27.3 4.9 3.2 .8 4 2-2.1 .1 5.5 .2 13.1 1.5 2.8 2.4-4 .7-5.1 2.1-15.2 .3 21.5 1-23.9 2.9-8 .3 18.5 4.5-.2 .4 17 1.1-31.7 .8 25.3 5.1-22.7 .8 19.9 5.4 4.8 4.4-23.8 .6 .7 .3 .6 .1 14.3 1-21.3 .3 12.5 .4 7 .8 1.8 1.5-16.9 .3 14.1 1 .8 2.1 9.7 1.7-21.3 4 28.3 2.2-3 2.2-1.8 6.3 2.3 1.6-28.7 3.6 27 1.7-29.8 4 27 8.4-.2 4-22.3 9.7 24.1 6.7 38.6-186-14.7 8.8-15.4 26.1 5.4 9.6-6.1 6.8 2.9 1.7 14.3 1 10.1 .4-22.7 3.1 14.4 .2-5.6 .6 0 1 .7 .5 3.2 .1-15.5 2.4 1.1 3.6-3.9 1.7 31.1 2.4-14.6 .4-3.1 1.8 11.9 .5-25 1 30.4 4.6-29.1 9.5 29.6 .6-25.4 .4 13.1 .8 20.2 3.6-27.2 2 6.4 .1 5.1 0 8.9 .4-29.4 3.6 23.5 4.4 1.8 1.9-8.6 1 13.5 2.9 3.1 .3-10.3 2.2-16.2 1.6-7.9 .9 33.6 2.1-16.2 2 16.3 1-3.6 1.7-28.4 1.9 19.5 1.3-10.5 .4 17.2 1.2-13.9 0 3.7 2-7.8 .9 10.1 3.5-8.1 .6 19.2 .4 .2 3-32.5 9 35.4 .1-2.8 1.9-20.9 1.2 21.4 .4-34.4 1.6 4 10.2 21.4 3.6-18 1.1 6.2 24.9 46.9-198 10.5 29.7-18.8 1.1 .2 10 22.3 10.8-25.1 14-2.9 1.3 26.8 1.1-13.2 .9 12.4 1.6-30.5 13.9 16.2 4.5 4.6 4.7-23.1 2.8 5.7 .5 6.4 .2-9.6 4.6 14 1.5-5.2 2.1 24.2 0-33.6 .7 12.8 1.3-9.2 .5 27.8 .6-14.9 2.1-3.5 .9 10.6 .7-14.2 5.6 2.4 0 19.6 5.8-26.9 .3 9.2 4.1-13.3 .1 6.8 3.5-1 0 8.6 .1-9.8 8.5 10.1 .2 .8 2.2-6.3 5.5 11.1 1.3-15.4 4.2 14.2 1.5-2.8 0 14.3 2.8-24.6 1.6 7 3.6-2 2.5-10.4 3.2 9.9 3.2-8.9 7.2 31.5 13.3-34.9 22 58.7-160 1.9 2 5.9 5.1 2.1 .4 1 21.9-11.7 .5 5.5 2.6 .1 .9-9 2.4 3.5 .7 20.8 6.8-30.1 .4 18.9 8.6-16.4 4.5-7.6 3.5 10.9 .6-.5 .6-.2 .6-7.9 1.8-.2 3.3-.7 1.2 1.8 15.6-4 1.9 28.7 9.5 5.1 9.3-12 5.4 25.7-82.5 8.5 16.1 1.1 18.9"/><path class="sa" marker-mid="url(#by)" marker-start="url(#by)" marker-end="url(#by)" d="m882.1 269.5 13.4 7.7-5 3.3-2.1 2.2 3.5 30.8 2.5 36.6 27.5-128.9 9.3 27.5 .9 1.3-12.6 3.7 13.2 3-16.9 2.2-4.1 3.3 15 8.9 3.7 3.3 2.3 1.8 3 1.2-25.3 3.6 25.9 6-9.2 3.9-10.8 1.8 15.4 .8-13.7 4.6 19 .7-5.3 8.4-.5 3.8 1.7 1.6 2.6 11.2 2.4 1.7 1 2.7-4.8 2.1-26.2 1.7 18.2 33.3 52.2-164-8.4 20.5-10.2 2.5-4.8 10.9 5.8 3.4 14.6 2.6-24.4 .5 .3 5.5 9.5 1.5 15.4 4.1-22.9 4.8-3.9 .8-5.4 1.1 17.2 3-9.2 2 8.4 1.3-.1 1 .3 3.4-11.1 1.9 7.2 5 20.4 5.5-12.2 9-3.9 .7-7.7 .2 19.7 .5-24.7 .2 6.5 1.1-5 .8 22.4 3.6-20.8 .3 23.4 2.3-26.9 1.9 8.9 1 15.2 .1-5.4 .3-14.1 8-10.9 .9 28.8 1-18.1 3.7 6.7 6.4-1.2 2.4 19.2 1-21.2 6.8-5.1 6.4 18.6 1 3.6 1.5-11.2 .6 17.1 2.3-25.6 .8 18.9 9.5 3.1 3.4-18.7 21.9 28-170.6 16.9 12.1-17.9 7.2 7.1 5.5 10.7 1.8-5.2 3.9 19.7 .3-10.2 1.9 8.6 2.8 5.2 3.2-8.5 3-26 .8 22.6 2.7 8.4 .3-15.4 0-1.2 1.7-2.9 .7-2 .4-4.5 .8-.6 .6-5.1 2.5 28.9 5-20.9 1.5 3.9 .7-14.7 .2 28.2 .1-5.2 .5-9.1 1 5.3 .8 12.5 .4-23.9 .4 17.6 1.9 7.3 .1-23 .4-1.5 3.8 29.4 .3-36 .3 26.6 2.4 6.9 .4-10 1.7 1.2 .3-11 3.2 5.8 0-13.6 .8 28.3 .8-23.4 1.4 5.8 .3 9.4 .9-24.7 1.3 10.1 1.3 13.2 .9-12.4 1-5.6 .1 1.9 .1-9.3 .8 16.7 1.3 7.4 .3-6.4 1-11.5 .1-6.4 0 19.3 4.5 .4 .1-2.4 1.2-4.1 1.7-6.6 2.3-1 2.7 6.5 4.8 22.6 .1-30.6 0 2.8 .3-8.6 10.2 21.6 6.6-1.3 1.4-1.8 1.2 8.2 .7 8.5 .1-18.9 .3-3.3 .6 7.6 .7 11.2 3.8-1.1 1.8-24.2 2.5 7.9 .5-3 1.5 11.1 .5 14.4 2.3-7.6 11.6 5.5 5.5-8.2 12.2 31.3-164.7 5.5 7.1 11.4 6.9-19.2 11.8-9.4 .3 12.2 1-6.3 2.8 6.2 3 9.4 .3-.6 4 1.1 0-18.3 4.5-.5 4.3-6.8 1.8 18.6 3 13.6 3.7-34.8 .5 32.9 .1-6.3 3.8 9.5 .9-22.9 .5-4.2 .8 4.3 1.2 1.5 1.2 16.1 2-5.7 .4 12 .7-2.1 4.1-30.3 0 33 1.3-37.9 1.7 17.9 .1-5.7 .4 6.4 1.2-15.8 .2 10.5 2.9-12 0 3.6 .6-2.8 4.1 5.6 .4 22.7 .1-27.4 2.3 10.4 1.6 20.3 .9-25.2 .9 14.1 2.3-19.3 4.7 10.4 .5 13.2 1.1-2.8 2.4-23.8 1 2.7 4.9 3.4 1.1 27.1 .1-13.9 4.5 8.6 1.1-19.5 1.6 14 .7-15.6 3.4 19.5 .8 4.6 7.2-15.4 1.9 19.6 9.5-4.4 20.9 6.3 1.5 33-153.8-20.9 40.1 9.3 15.6-12.2 2.1 12.6 3.9 10.8 6.3-29.5 4.7 7.9 8.3 19.3 5.2-25.2 13.9 29.3 .6-18.4 2.7-9.1 8.5 19.7 28.4-19 11.7 39.1-127.1 2.5 1.8-4.7 3.7 7.4 57.2 6.7 12.1 5.6 11.3-19.6 4.9"/><path class="sa" marker-mid="url(#bb)" marker-start="url(#bb)" marker-end="url(#bb)" d="m1138 356.6-1.3 26-15.9 1-4.2 13-13.4 82.2 65.6-168.7-9 43.9 16.5 6.6-14.5 13.2-10.5 2.2 13.7 6.1-8 2.6 19.9 .8-35.2 8 31 3.1 2.4 2.2 4.7 3.7-33.5 1.5 14.1 10.1-15.2 8.3 28.2 7 1.9 11-11 13.4 2.2 21.8 16.4-152.5 22.6 3.4-19.1 20.2 10.8 .3-1 3.5 10.7 3 11 .9-32.6 13.8 34.5 3-4.1 .5-21.7 2.8-.2 1.1-1.4 .4-9.7 1.6 35.2 2.1-23.5 .7 20.1 .3-32.8 .5 21.4 1.6-14.9 .7 16.1 2-2.9 1.1 5.4 .4-1 1.1 10.1 2.1-9.1 7.2-14.2 .8 5 .3 12.7 .5-13.5 .8 11.1 2.3-2.7 .2-6 6.6-15.4 .6 10.5 .8 16.9 4.5-23.4 .1 28.1 1.6-15.1 5-14.8 1.5 32.6 6.4-26.7 1.2 25.9 1.6-10.7 3.1-23 4.4 19.4 1.3-18.7 .3 30 2.1-1.3 .8-15.1 2.2-6.4 5.6 20.4 12.9 28.4-143.8 18.7 9.1-17.1 2.1 6.2 10.3 10.4 .6-8.8 .2 8.7 4-31 .5 23 .2 7.4 5.9-30.3 2.7 24.9 1.2 1.7 5.1 3.5 .8-25.7 1.9 20.8 2.3 4.3 1.7-19.7 .9-2.9 1.2 12.3 1.5 9.8 2-26.9 4.5-3.7 1.1 7.1 .2-6.9 3.2 18.1 1.8-19.1 2.1 24.5 1.1-20.4 1 23.8 2.4-28.9 .9 18.4 2 9.4 .3-5.9 1.6 6.4 .4 5.9 3.3-1.9 .8-19 .1-10.6 2.3 30.2 .9-6.9 .3-9.3 .3-1.2 .9 8.9 .1-14.4 .1-12.2 2.7 14.9 .2 17.6 .3-3.8 .7-16.1 .2 13 1.1-25.5 3 12.5 3.3 10.6 0 7.1 2.8-23.7 2 10.1 2.4 8.8 .4 10.9 1.1-30.4 .1-5.5 6 23.7 1.4 12.4 2.3 .6 2.2-11.9 3.5-6.9 .4 2.4 6.1-12.6 1-2.6 5.6 3.8 2.2 18.4 1.4-23.1 0-.2 .3 26.9 1.1-31.7 13.3 19.6 3.9-18.3 .1 9.6 6.3 12.2 .7-17.2 8.6 35-165.9 1.2 6.3 13.2 2.6-13.4 21 35 1.5-2.9 7-21.7 1.9 13.1 1.7 .7 3.1-24.4 2 8.7 2.4-7.2 1.1 8.9 .8 8.3 1.4-21.8 1.9 32.7 1.1-9.1 2.1-17.3 3.1 24.7 .1-18.9 .9 3.9 .8 .6 1.2 21 .1-11.8 2 3.7 1-22.8 1.7-6.4 0 .4 1 37.5 3.1-34 .1 5.3 .3 6.8 .3-11.1 .8 1.7 1.8 27.8 2.5-22.1 1.3 16.6 .4 1.3 .9 6.7 2.4-25.3 .5 9.9 3.3-21.7 .4 31.1 .1 2.8 2.4-21.6 3.5 8.2 1.8-13.9 .3-7.2 .1 30.2 .9-29.7 1.2 16 2.1-2.1 2.8 22.6 1.4-27.2 6.8 12.7 .7-18.6 .5 8.1 3.2 7.6 1.1-5.5 3.4 6.4 4.1-10.3 .8 22.7 .8-30.6 10.9-1.8 .5 34.2 6.2-16.1 5.3 18.9 12.8 11.5-138 21 13.8-9.7 .8-11 4.1 19.7 5.8-18.5 2.7-6.5 .3 4.7 6.1 5.9 .9-5.4 .3-2 .3 2.8 6.4 25.3 1.2-28.5 2.4 8.1 10.8-13.5 0 3.3 13-3.9 5.8 36 3-32.8 4.8 16.2 2.7-11.1 6.2 12.6 2.3-19.9 10.2 .1 4.6 5.3 52.6 63.8-208.4-29.4 35.8 21.7 37.8 7.7 6.3-22.7 34.3-1.1 14.1"/><path class="sa" marker-mid="url(#bp)" marker-start="url(#bp)" marker-end="url(#bp)" d="m1132.5 154 6.6 25.7-27.5 7.9 7 34 7.8 23.7 47.1-132.5-14.3 23.6 11.3 7.1-4 16.7-9.2 .5-12.4 1.3 19.1 6.1 16 10.1-15.9 1.6 8.1 8.4-.7 9.1-27 6.8 20.9 .9 .9 .8 .6 3.8-26.4 3.8 10.6 10.4-4.6 1.3 26.1 .2-29.4 9 13.3 2 20 2.3 1.2 9.5-6.3 1.2 5 11.9 1.1 7.3 19.6-152.9 22.2 .6-6.9 12.3-5.7 4.3-23.6 2.8 6.3 1-.6 1.8-4.8 5.4-.8 1.4 19.5 .8 11.8 .7-32.5 .3 28.4 3.1-18.4 .8 17.3 2.2 8.3 5-14.8 4.6-16.3 .1 33 5.4-37.5 3.2 31.5 3.5-3.2 1.1-30 1.4 23.8 2.2 6 1.4-21.4 1.8 21 9.3-6.5 .8-11 2.8 20.7 1.9-.8 2.8-10.8 6 4.1 3.3-19.4 .9 25.7 1.9-12.4 .6 12.1 .2 2.3 1.8 6.1 .3-29.3 6.8 14.6 5.9 1.9 .6-25.1 .5 19.2 .4 15.5 1-36 3.1 12 .4 10.8 .6-22 3.2 16.1 3.2 9.9 5.3 9.6 .2-24.6 0 2.3 8.1 42.2-175.3 15 25.4-.1 27.5-10.5 2-12.5 2.9 29 4.1 2 .5-14.5 .8-2.6 2.1-15.5 3 20.7 5.7-1 3.9-9.1 6.2 4.8 .2-19.3 6.9 17.5 3.2-6.5 .2 4.2 1.3 7.8 .6-13.2 1 .4 4.6 18.9 .9-29.9 .7 33.7 .8-35 5.5 23.7 2.1 8.5 1.6-20.6 .7 13.2 .7-9.5 .3 15.8 .8-29.4 3.4 30.3 4.5 .4 2.1-18.6 .4 21.1 .6-5.5 .2-7 .1-7.7 .1 22.4 1.1-29 1.5-1.2 .5 13.8 1.4-17.2 1.2 .7 .8 3.6 .1 22.9 .1 3.1 .6-5.9 .6-11.2 .2-7.6 1.4 2 1.7 11.5 .3-23.2 .2 10.8 .1-3.1 3.6 9.9 13.5 21.4 5.4-28.1 1.6 21.7 2-21.8 7.9 13.1 .2-1.6 1.6-5.7 .7 17.8 .8-26.7 23.9 33.4-156.4 .5 6.5 4.4 16.7 7.7 .8 4.3 .4 .4 5-5.4 4.3 8.5 3.7-16.9 3.2 8.8 .3 .8 1.7 2.2 3.2 8.8 1.1-22.2 2.6 19.2 1.1 .6 3.1 7.9 .9-21.1 .4-3.8 3 .2 3.8 25.7 1.1-17 1.1-6.2 .2 7.4 .6 22.6 .5-34.8 .6-3.6 2.8 10 .1 12.4 2.5 12.8 .6-25.9 1.2 5 .6 4.2 2.4 4 5.5-20.5 .6 .5 1 27.5 1.3-1.6 3.8 3.1 5.2-9.3 .2-19.2 .2 13.8 .9-4.5 7 21.4 7.7-13.5 1.6-2 3.4-7.9 4.3 17.8 3.8-22.5 9.1 10.3 5.9-9.2 4.9 .7 .7 10.2 2.8 51.9-166.3-22.4 6.3 24.1 38.4 4.1 4.5-30.2 2.2 23 2.2-7.2 2.8-3.9 51.6 9.1 9.2-11.4 .8-2 1.6 1.8 3 11.8 2-10 11.9-14.7 .8-1.4 .9 3.7 7 5.9 .1 4 21 18.4 2.7 40.1-153.6-19.6 26.2-6 11.6 1.9 11.1 3.5 11-10.3 20.4 7.9 4.3-9.1 32.4 44.5-70.5"/><path class="sa" marker-mid="url(#by)" marker-start="url(#by)" marker-end="url(#by)" d="m855.2 307.8 17-46.7 22.1 28.2 2.5 .2-1.4 36.9 41.5-139.3-18.6 54.5 15.2 14.3 1.9 16.6-24.1 8-7.2 4 26.9 3.9-8.4 19 3.8 23.1-4.8 1.1-4.2 11.9 52.7-134.9 8.2 .3-8.4 3.4-1.8 1.1-10.7 31 2.2 1.7 3.9 .1 8.7 11.6-11.9 4-4.8 .1 11.7 3.1 1.5 5.5-9.9 1.9-17 .3 13.1 3.7 8.6 .9 6.7 .8-22.4 0 27.8 .1 .6 7.4-29.8 3.1 22.2 1.2 2.3 2.1-15.1 2.1-9.7 2.3 25.3 0 5.2 1-2.6 .6-22.4 .1 3.8 3-6.5 6.4 9.4 .3 20.2 2-2.6 .8-21.9 .4 14.3 .6 10 2.3-9.8 3.4 8.3 2-25.9 2.6-.3 1.2 14.7 1.3-4.2 2 12.7 2.6-6.5 3-23.6 .3 9.7 2.2 20.9 .1 1.2 1.4-.4 .3 .4 4.5-13.2 8.3-15.6 3 10.9 1.1 15.9 2.8-13.1 3.2 13.7 11 10.2-161.7 35.1 11.3-12 1.9 1.2 12.1-17.3 1.1 23.2 .1 5 4.8-6.5 .6-32.1 3 32 2.4-26.4 1.1 2.5 7.6 27.3 4.8-35.5 3.9 9.5 .2 23.9 .6-14.7 1.3 .1 .2 12.7 2.6 5.3 1.1-9.5 0-3.9 .1-23.7 .2 39 1.1-10.4 1.2 10.4 1.6-17.2 .3 9.6 1.3-7.4 2.3 13.5 .3-24.2 .1 8.5 2.5-6.7 .9 19.5 .7-34.9 .6 20.3 .1 19.2 .4-39.5 1.7 18.3 .3 7.2 3.2-22.3 3.8 16.8 2.8 8.8 .3-1.4 1-17.6 1.9 29.2 .5-35.4 1 3 3.3 8.5 .4 5.9 3.1 8.7 1-17 .5-3.3 .8 10.7 .3-1.5 0 20.7 .1-26.2 0 18.3 1.1 3.9 .1-11.3 .6-6.9 .4 7.2 .7-12.8 .1 2.3 7.3 1.8 1.5 3.1 0 7.7 1.7-2.4 2.1-9.9 .1 19 .5-2.5 6.1-19.5 2.3 1.4 .2 7.4 2.7-9.6 1.1-4.2 4 16.6 1.5-.8 7.3 3.6 1.4 10.6 25.6 37.4-144.7-26.2 1 20 6.8-14.8 2.9 7.3 .6-9.7 9.8 27.3 2.5-11.8 1.2 11.9 4.3-8.4 1.3-11.6 8.2-9.7 1.4 1.5 .9 2.7 .8-7.4 3 30.5 4.5-12.5 4.3-.6 .5 8.5 1.5 4.3 1-31.5 .5 35.4 .2-35.4 1.5 7.6 1.8 13.4 2.1-24.2 .2 30.1 .4 1.3 2.1-6.5 5-14.9 .1-2.5 2.6 23.9 1.8-15 1.9 13 1.9-11.5 1.1 13 .2-22.3 1.6 12.1 1.3-13.5 1.3 5.7 .7 .9 4 20.6 .5-11.6 .3-12.6 2.7 21.2 8.6 6.7 3.5-34.4 2.1 11 .3 18.9 .6-29.6 3.3 19.1 4.3-20.5 2.2 27.2 2.6-7.8 .3-9.3 6.1 26.2 7.4 20.2-147.3-5.1 1.5-13.8 2.6 15.7 4.8 3.7 30.9-6.2 3.2-13.7 9.1 22.5 1.5-21.8 6.2 29.2 .2-14.3 1 8 4.5-17.3 2.7 13 1-13.7 17.4 1.3 5.5 1 1.5-3.9 .8 2.3 18.4 10.9 6.9-12.5 3.3 20.7 44.1 33.1-136.2-8.3 6.7 5.8 7.1-10.7 .9 9.3 11.2-9 5.8 19.6 11.2-9.7 47.7-11.9 22.2"/><path class="sa" marker-mid="url(#bb)" marker-start="url(#bb)" marker-end="url(#bb)" d="m1132 406.1 4.8 3.1 1.1 23.2-17.3 53.6 55.7-128-12.3 4.2 11.1 7.6-25.6 4.6 23.4 4.7-14.5 18.7-12.1 5.7 11.4 2-13.4 2.2 28.8 2.8-16.6 2.5 6.2 1.1-3.8 .9-9.5 9.9 .1 6.3 17.2 .1 10.8 2.2-28.3 5.4 20.4 14.2 2.2 14.1-2.7 13.2 12.4-168.7 14.1 28.8 2.1 4.6 .3 13.3-9 .6 30.4 4.1-21.2 1.6 15.8 .3 1 3.1-18.6 2.9 15.9 7.2-3.8 1.7-4.5 2.2-13.2 .9-6.7 4.8 8.7 1-4.2 0 5.2 .6-1.8 1.7 12.7 .6-6.5 1 12 1.6 7.9 1.6-11.9 2.1-25 1.8 33.8 .2-23.1 4.1 2.8 2.8-.3 1 7.3 .2-7.9 4.4 14.6 4.8-2.8 3.8-5.2 .1-.9 .8 16.2 8.2-12 1.7 12.7 .8-14.3 3.7 10.5 .3-16.6 .1 7.1 3.6 14.1 6.5-5.1 2.1-.1 14-26 2.1 67.8-167.3-16 28-5.7 7.3-10.5 1.9 32.8 4.2-19.2 5.6 2 5.6 19.9 .1-23.7 6.7-11.5 6.6 29.6 .1 .6 .5-29.7 1.3 20.2 1.4-6.6 .2 20.8 2.8-17.4 .6-15.2 3.5 3.9 1.1 3.3 6.6 24.7 1.5-20.9 .1-2.4 .5 19.6 .6-18.2 1.7 18.9 5.1-14.2 1.1 14.7 .2-27.2 2.9 7.2 .8 12.1 .8-19.5 .6 2.9 0 24.3 1.2-15.5 .9 19.8 .2-.9 2.3-8 1.2-11.2 .3 14.9 .6-13.3 .6 10 1.2 2.7 7.7 2.7 1.4-32.2 2.1-1.6 .2 19.9 .7 10.7 1-11 2.8-1.6 4.3 19.5 .5-13.1 .1-2.6 .7-20 .9 3.4 1 10.9 1.1 13.2 .3-27 .8 18.9 6-9.5 .2-.7 2.8 24.3 .4-15.8 2-8.7 3.2 14.8 .7-13.1 7 16.6 8.7-21.4 2.1 9.1 .9-9.9 13 9.6 4.6-9.7 2.9-2.8 23.2 19.5 .4 19.4-164.1-3.4 .9 11.1 2.1 11.6 14.9-14.8 .4 29.8 1.4-24.7 .2 18.6 3-29.6 .4 19.2 .4-11.9 3.4-5.6 9.3 26.7 .3-19.2 2.8-9.1 0 27.7 3.7-24.9 1.2 30.3 1.5-.4 1.3-29.1 .5-4.3 .2-1 .3 2.6 .9 20.8 1-7.4 2.4 7 .7-18.6 1.5-1.1 .7 5.5 .6 19.6 4.1 .1 .2-11.8 1.2-6.9 .3 20.7 3.5-30 .5 3.3 2.4 5 2.3 16.1 1.1 13.9 1.5-36.9 1 23.2 .1-16.2 .1 2.2 1.1 20.5 1.9-12.5 1.1 3.1 1.6-16.1 1.3 33.2 .4-22.2 .2 7.8 1.4 10.2 1-9.9 .2 8.9 1-17.9 1.3 12.5 .6 10.5 0-31.4 .2 9.9 .1 .9 4.9-18.5 2.9 13.2 1.2-12.7 11.4 8.7 8 14.8 4 3.5 2.3-9.3 1.7-16.9 16.8 28.6 19.3 16.5-162.3 .1 17.8 6 5 .7 5.1 1.9 .6 14 4-6.4 3.7-12.9 0 16.1 3.3-19.8 4.6 .6 10.4 31.4 1.4-31.2 6.2-7.6 .4 23.1 3-5.4 10.3-1.7 .5 5 7.1-16.8 .2 25.2 14.9 1.5 8.6 5.7 3.7-23.1 2.4 15.7 3.3-14.1 11.5 41.8-96.6 20.7 1.4-30.5 .7 8.4 14.4-5.6 52.4"/><path class="sa" marker-mid="url(#bp)" marker-start="url(#bp)" marker-end="url(#bp)" d="m1097.2 169.2 25.9-60 5.6 6-9.2 1.6 13.3 1.9 5.9 27.6-32.9 50.4 29.7 5.1-17.6 10.8-8.5 11.6 19.2 17.8 21.4-114.3 19.9 10.9 7.1 9.2-4.7 3.7 5.8 5.9-33.3 3.5 20.4 2.5-9.1 6.1 3.8 3.2 17.5 0-1.2 .2-1.2 1.4-22.3 22.3-7.8 3.3 20.1 2.4 .7 6.8-15 .1 29.1 8-8 6.3-5.3 .2 10.1 .9-1 .6-2.3 4.3 .3 0-5.8 4.8-2 12.2 27.2-153.5 2.6 6.6-5.5 7.2 20.4 .9-22.2 22.9 13.4 6.9-1.7 1.4 2 1.9-9.6 1.8 .9 1.5 9.1 5.5-3.7 1.4-8.9 2.5 29.1 3-12.6 1.3-17.1 1.2 6.2 1.5 22.2 .6-32.9 .2 27.9 .6 4.1 2.2-6.9 1.5-16.3 .1 11.1 .9-5 8.5 4.3 4.7 7.9 2.2-6.4 2.2-1.4 2.9-20.9 .8 23.9 1-16.2 2 6.5 2.2 13.3 .9 5.2 1.1-20.7 5-9.1 1.7-.5 .1 20.8 5.7-4.6 2.4 15.6 1.3-16.1 1.9-5.3 2.2 .3 .5 19.7 2.1-29.3 .9 22.8 .3-12 2.5 6.1 2-17.2 1.8 10.4 .2 5.1 1.9-2.2 .6 16.9 3.7 .9 .2-2.3 3.3-19.8 13.8 2.5 2.5 1.2 2.4-.8 7.9 16.2 5.8-13.9 19.5 27.6-200.7 28.1 31-1.6 1.3-33.2 4.7 37.4 1.3-27.8 2.9 16.6 8.1-27.2 1.6 3.6 .2-3.1 2.8 23.9 1.9-2.7 3.1 12.3 .6-13.1 3.6 10.9 .5 2.3 .2-32 .7 4.3 3.8 5.4 .2-5 .9 8 .1 13.9 2.1-25.7 .6 33.8 .8-14.4 0-17.9 .2 25.7 2-11.7 .6-15.5 .3 34.8 1.7-13.4 1.8-.7 1.3 10.6 .1-15.3 1.5 .8 2.4 7.5 3.2 2.1 2.1-6.6 2.6 9.3 1.7-7.9 3 1.2 2.1-24.4 .7 28.3 .7-11.6 1.7 4.9 2.2 12.7 .1-13 .2 5.5 0-10.3 1 1.1 .7-17.5 .2 35.9 2.2-12.4 .1-5.5 0 13.5 .1-.2 2.4-2.8 .7-22.8 1 29 1.6-17.1 4-5.2 3.9-4.5 1.4 16.5 1.1-.9 .1-6.9 1 17.7 1.5-25.3 .4 1.2 1.1 24.6 1.5-26.4 8 28.8 1-2 .4-16.3 2.3-19.3 2.2 21.2 1.6-20 4.8 7.9 .9 20 1.5-29.1 .3 3 .6 24.6 1.4 5.4 3.8-7.9 6.1-21 10.1 3.6 7.1 12.2 23.2 32.5-194.6 12.4 8.8-8.5 23.6 14.5 5-18.6 1.4 15.3 .4-2.5 4.7-5 4.2 .6 1.5-10.4 5.4 23.6 9.3-12.5 0 9 1.2 1 1.3-22.9 1.3-5.2 .8-2.2 2.6 9.2 1.8 1.3 2.1 22.5 1.9-12.4 3.9 15.9 1.4-25.6 3.4-10 .3 3.5 .8 1.9 2.1 20.6 3-17 .3-1.1 1.6-1.7 2.8 6.7 .6 21.8 4.3-32.5 8.5-1.8 .7 36.2 2.1-27.5 .1 25.2 1.4-14.2 .6-6.6 0 15.5 .4-25.4 3.7 15.8 1.1-20.7 3.3 5 2.5 3 12.7 22.9 2.4 1.1 1-27 5.8-2.9 6.8 4.8 1.6 3.8 .5-.8 10.3 24.6 5.9-9.8 16.7 19.6-191.2 7.8 29.3 7.5 4.4 10.9 8.8-23.4 5.5-8 2.7 2.8 9.7 9.2 3.3 21.7 7.8-31.7 9.6-1.1 .8 4.5 .1 2.9 2.9 20.5 1.7 .2 20.8-22.2 7.4 3.3 5-6 1.3-2.9 .3 32.9 5.1-18.8 5.6-5 .8-.8 4-8.2 2.7 46.5-134.5 19.4 14.4-19 83.9 5.2 22.4"/><path class="sa" marker-mid="url(#by)" marker-start="url(#by)" marker-end="url(#by)" d="m870.2 223 3.3 11.2 16.2 58 .3 16.3 8.9 15.6 23.3-118.4 11.8 30-.5 13.1 .5 17.1-15.6 2.1 7.4 2.8 12.7 2.9-23.6 2.9 6.1 5 14.2 6.3-28.7 5.4 4.8 7.6-3.4 .5 18.8 .7 10.4 .7-7.5 4.1 9.6 3.8-34.5 7.9 22.7 20.5-12.9 1 .2 1 11.7 18.7 32.7-159.2-2.8 14.8 15.5 3.6-17 13.1 19.6 1.2 4.2 8.3-4.9 1.9 .5 1.4-14.4 .1 6.2 7.5-7.4 12 7.7 7.3-6 .3-12.5 1.3-6.6 1.3 6.9 1.9 6.3 2.1 15.4 .6-5.6 .3-13.8 5.6 12.7 1.5 13.3 2-13.2 .1-11.9 1.6 11.2 .7 13.1 2.1-8.6 1.1 3.2 .8-18.7 1.5 12.8 2-11.1 .3 7.5 1.2 5.3 2.3 3.7 1.7-22.5 1.2 26.9 .4-20.5 1.4 11.1 1.6-16.7 4 30.4 .1-10.2 1-23.6 3.6 6.4 3.8 9.9 5.3-6.7 .4-13.7 .6 21.5 .2 7.4 2-3.4 .5-1.4 3.7 .9 5 2.4 13.5-2.9 4.5 13.9 5.3-13.2 5.4 14.9-139.7 32.3 4.6-21.7 4.7 3.9 .3 1.1 3.9-.9 4.8-2.3 .6 14.4 1.2-19.8 1.3-7.6 2.3 6.4 8.5 32.8 4.3-29.4 1.1 20.8 .6-24.2 2.4 23.6 .5-5.8 2.6-23.4 1 30.3 0-20.3 .3 6.8 3.3 4.4 .2-20.6 1.5 38.5 1.5-39.5 .5 38.9 .2-26.6 .1-2.9 7.7 16.7 .2 1.7 0 2.4 1.2 6.9 .3-28.5 .9 30.8 .4-13.4 4.3-22.8 .6-2.4 1.6 0 .4 29.1 1.3-13.1 .6-7.1 .3 3.5 1.5-3.5 3.8 7.2 1.8-8 1.6-2.6 1.6 13 1.3 1.6 .7 11.9 1.8-7.1 .9 9.3 .3-8.7 1.8-3.8 5.7-19 1.1 32.8 1 .5 1-15 1.2-1 2.1 18 0-1.1 .1-36.9 1 35 7.9-22 4.9 17.5 7.8-7.8 3-17.8 8.4 25.2 6.3 14.9-184.8 10.1 1.6 19.6 5 3 18.4-38.4 15.3 36 6.9-29.4 13.7 20.8 .5-19.8 6.2 30.9 2.6-36.1 0 17.1 .3 8.8 .6-20.6 5.7 2.2 .4 21 5.1-25.4 0-3.3 2.1 2.3 1 4.8 .2 3.4 7.4 2.3 2.4-2.8 .8-6.9 2.8 1.3 .8 24.5 .8-28.5 .1 35.4 3.8-32.4 .8 24.4 1.2-20.8 1.4 1.3 2.3 4.5 .1-7.9 .9 18.9 2.9-18.8 .3 26.7 2.8-18.7 2.1 9.2 9.3-9.5 1.2-13.5 1.3 11.7 2.8 13.3 1.8 5.4 1.2-27.1 1.3 8.6 1.3-11.6 3.3 17.2 1.7-19.2 2.6 14.6 .7-6 3.3-8.1 3.5 16.8 3.7 15.1 .4-21.8 0 9.1 5.1 12.3 4-21.7 1.3 25.6 0 40.6-140.6-20.3 3.8-10 36.1-4.8 1.4 15.2 1.2 2.2 20-4.2 3.7 11 .2-18.7 .2 22 8.7 4.3 7.5-16.7 5.8 3.1 .9-13.3 2.4 27.2 .6-30.2 7.5-3.5 1.7 22.2 5.4 13.9 11.3-26.9 11 31.8-95.4 11 13.3 26.2 6.7-.7 3.9-29.4 1.4 5.6 12.5-8.4 17.5 16.8 7.4"/><path class="sa" marker-mid="url(#bb)" marker-start="url(#bb)" marker-end="url(#bb)" d="m1137.2 409.5 2.8 32-6.2 31.9 37.7-175.9-7.1 57.5-7.2 3.3 12.8 14.1-8.5 1.6-2.1 7.9 17.8 9.2-21.1 1.7 11.2 .4-21.6 .7 17.4 .3-4.7 15.3-6.7 5.8 16.9 1 10.8 1.1-4.7 2.4-1.6 13.9-1.7 .9-3.3 12.7 4.6 10.5-5.1 14.4 5.1 9.3 42.9-151.6-14.3 6.9-1.9 4.7-8.8 1.4 20.4 4-15.6 2.1 7.2 2.4-11 2.2 14.1 1.2-2.4 .7 1.5 .8 1.4 .2-15 2.3 23.3 9-28.9 3.3 13.1 .7-11.7 2.2-5.2 .5 34 .8-10.2 1.5 14.4 .6-25.9 1.5-7.2 1.2 25.4 0 2.4 .1 1.1 .1-6.2 3.4-8.1 1.1 10.7 .5 5.6 .3-16.4 .9 3.8 1.9 13.8 .1-7.7 2.5 7 2.8-10.5 .3 9.3 0-4.5 .2-1.8 .5 .3 1.3-9 .1 3.2 2.7 13.6 2.1-13.8 3 13.4 2.1-24.1 .5 23.1 .1-4.9 2.9-12.1 1.7 18.1 1.6-25.8 2.8 27.2 .4-29.5 4.2 19.3 .6 2.1 .7-29.6 2.3 25.4 .3-27.4 5.6 10.4 1.6 25.1 .4-7.2 4.2-2.8 6.8-3.7 8-18.7 .3-.1 2.3 7.7 2.8 2.1 1.6 6.5 5.2 4.4 3.5-22.7 10.6 60.4-175.2-16.3 7.7 21.8 18.2 2.7 1.8-15 5.1-5.6 3.1 28.7 2.3-18.4 1.6 12.6 2.9 .5 4.1-7.9 8.7-23.4 .8 12.6 .8 10.6 8.6-22.4 3.2 5.1 2 26.9 .3-5.2 1-2 3-17.7 1.6 4.7 .3 .9 3.8 11.1 1-10.1 .4 16.3 1.3-26.8 .6 23.5 .3-21.1 .6 28.9 .2-13 .8-10.3 1.1 10.2 .3-3.8 .1 17.4 1.7-13.5 .3 6.4 .8 2 .8-.8 .1-24.4 1.3 10.4 .7-16.2 .1 19.9 1.7 5 .7 7.7 1.4-7.5 .9-19.1 1.5 31.6 .2-29.7 2.7-4.2 .4 33.3 1.4-31 2 17.2 4.1 12.8 2.1 1.1 1.3-18.2 .1 18.8 2.2-10.5 1.5-16.9 2.5 19.3 .4-.3 3.1-22.7 .1 29.7 .1 0 .6-6 .9-29.7 3.4 8.2 .5 10.5 2.3-15.3 2.1 9.6 8.1-12.9 .4 6.4 .7 15.7 5.1 8.1 2.6-13.1 1.1 10.3 2.5 4.5 1-27.8 3.7 32.3 5-17.4 8.1-11.8 4.2-4.7 28.8 70.2-207.1-15.2 39.6-18.4 .1 23.9 1.4 2 8.8-11.4 2.8-2.4 9.2 11.1 .2 5 3.2-18 2.9 25 0-22.5 .1-11.6 1.9 28.2 3.8-.7 1.2 4.8 .3-27.4 2.3 10.1 1.4 11.1 1.9-7.2 1.9-16.2 3.6 35.1 5.3-39.3 8 9.7 1.4 13.4 1.2-10.5 .3 22.5 1.3-23.3 1.7 1.6 .9 16.9 .2-26.7 4.8 1 1.3-2.7 1.2 32.7 .3-32 2.1 9.3 .9-6.1 7.1 14.7 .3 2.1 .1-1.8 1.8 7.2 6.4-23.3 4.6 18 2.3-21.7 .3 1.2 1.2 8.4 6.9 6.7 2 10.7 1.7-9.9 2-6.5 1.6-5.2 2.4 14.8 8.2-15.9 13.7 6.7 6.8 1.8 10.6 44.1-178.9-16.5 23.7 9 41.7 24 7.1-24.9 3.9 20.8 8.3-21.7 .7 11.1 3.4-4.8 2.6-2.6 3.4-11.2 1.9 15.5 3.2 20.7 5.8-19.1 1.6-13.5 5.9 19.1 7.3-23.2 2.4-.6 7 8.7 23.8 28.1 4.9 4.4-164.1 6.3 32.2-5.4 19.5 6.9 5.4 6.7 .2-3.2 44.3 6.9 10-1.7 2.9 13.1 4.8-29.4 8.6"/><path class="sa" marker-mid="url(#bp)" marker-start="url(#bp)" marker-end="url(#bp)" d="m1089.2 111.1 7.8 46.5-28.4 7.1 60.5-41.2-11.3 9.5-.2 5.2-3.7 24.8 9.2 14.5 4.1 10.8-10.7 19.3 1.4 18.7 16 8.4 5.2 2.1 33.1-133.5-1.3 2.9-6.8 17.7 13.3 27-.9 1.9-5.6 3-10.9 1.4 9.4 1.9 .9 .8 3.8 2.4-2.6 .7 7.1 5.4-16.2 2.8-8.1 3.2 13.4 8.1-3.6 3.8 1.5 1.1 3 2.4 6.1 13.8-.6 4.1-7.5 4.9 3.8 4.4-11.7 5.3 17.5 .4-23.7 4.3 27.2 9.8-17.3 11 16.4 15.9-16.5 12.3 36.1-182.9 13.8 .7 1.2 15.7 .3 3.1-7.2 10.5-15.2 2.9 23.2 5.7-23.1 .5 16.2 6.3-18.5 4.7 24.4 2.6-17.5 1.6-10.4 4.2 26.4 1.3-15.9 3.8-5.7 .4 28.3 1.3-30.9 7.6 1.2 .8 21.5 1.6-7.8 .6-5.8 2.1 19.5 .8-17.3 5.3-5.7 2.1 19.4 .4-8.9 .7-19.2 4.5 13 1.7 11.4 4.4-1.2 .5-19.8 .1 20.4 4-5.4 .6-4.6 .5-6.2 7.9-10 1.1 9.4 6.4 26.9 .1-15.6 0 11.1 .3 1.1 .1-20.1 6.3 23.9 2-32.9 4.4 7.2 1.5-3.6 .3-6.9 2.5 9 1.5 14.8 4.3 1.6 1.8-11.1 1.7 20.2 8.9-4.7 1.4-30.5 5.1 18.7 8.1-19.7 4.5 33.3 21.9 45.4-175.1-36.4 7.8 19.9 11.6-18.9 1.6 17.3 .8 11.2 4.9-11.5 .4-11.1 .7 12 1.9 12.7 1.3-5.5 1-12.4 1.5 16.6 .1-18.8 1.2 22.2 3.4-8.3 1.5-.8 1.1-13.6 1.5 23.5 2.3-27.5 .2 12.3 3 3 2.4 5.9 1.1-14.8 .6 13.6 .4-22.7 1.1 26.8 1.1-3.1 .1-26.2 1.4-4.2 .1 26.8 1-12.8 .6 14 .6-2.5 .7 10.3 5.5-11 .8-8.7 1.9 13.5 1-16.8 1-6.1 .9 18.8 .1-8.6 .8 2.7 .9-17.1 1 19.3 2.9-9.1 .7-3.4 1.8-6.9 .1 23.9 .8-15.8 .2-4.9 3.3 7 .1 12.5 .3-9.3 1.8 21.4 .4-19.1 .4-12.6 .3 18.6 1.5-16.9 4-5.4 4.7 28.4 3.1-22.5 15.9 7.1 .6 16.6 2.4-15.9 2.5 16.9 0-.4 2.9-17 5.9-5.7 6.6-1.1 2.4 21.8 34.8-26.1 .4 8.4 8.8 59.8-190.7-15.1 2.3 20.8 8.1-20.8 3.1-9.9 4.7 21.1 11.1-15.8 .4 1.5 3.1 18 15.7 2 .3-34.5 4.3 21.4 0-17.6 1.4-3.9 2.9 2.5 1 20.7 4.1 8.4 3.3-12.8 1.4 5.6 .4-18 6.2 19.4 1.8-22.8 0 8.7 3.6 9.5 .3-.4 1.3-5 1.5-15.5 .2 37.2 2.6-25.2 .3-5.4 .1 19.9 2.5 4.1 3-19.9 1.5-2.9 1.4 10.6 3 9.7 1.1-16.7 1.4 22.8 6.9-3.1 1.7-29.3 1.3 7.8 1.5 1.2 4.8 18 .4-11.5 .6-15.9 1 18.7 2.3-12.6 2.1 22.6 3.1 4.5 7.2-15.5 1.7 3.4 1 14 4.3-1.2 2.8-35.1 5.1 4.1 1.8 26.7 5.7 5.5 2.1 5.9-112.2 5.3 2.9 5.2 24.4-12.9 5.1 .9 1.4 5.9 .3 8.6 1.6-13.5 4.5 5.6 4.8-1 7.8-4.9 1.6 20.4 5.1-9.7 .2 8.4 4.8 5.6 1.1-6.4 1.9-9.3 9.4 3.6 25.2-1.4 4.9 31.1-136.2-3.1 67.2 32.8 67.1 11.8-56.1"/></g><text x="838" y="569.2" font-size="31.5" text-anchor="middle">−2</text><text x="1000.1" y="569.2" font-size="31.5" text-anchor="middle">−1</text><text x="1162.2" y="569.2" font-size="31.5" text-anchor="middle">0</text><text x="1324.3" y="569.2" font-size="31.5" text-anchor="middle">1</text><text x="1486.4" y="569.2" font-size="31.5" text-anchor="middle">2</text><text x="833.9" y="63.5" font-size="31.5" text-anchor="end">2</text><text x="833.9" y="185.7" font-size="31.5" text-anchor="end">1</text><text x="833.9" y="308" font-size="31.5" text-anchor="end">0</text><text x="833.9" y="430.2" font-size="31.5" text-anchor="end">−1</text><text x="833.9" y="552.5" font-size="31.5" text-anchor="end">−2</text><text x="1162" y="599.5" font-size="33" font-style="italic" text-anchor="middle">t</text><text transform="translate(782 297) rotate(-90)" x="0" y="8.7" font-size="33" font-style="italic" text-anchor="middle">x</text><clipPath id="cB2"><rect x="837.8" y="616.2" width="649.2" height="489.3"/></clipPath><rect x="837.8" y="616.2" width="649.2" height="489.3" fill="#eaeaf2"/><path d="M894.4 616.2V1105.5M1005 616.2V1105.5M1115.7 616.2V1105.5M1226.3 616.2V1105.5M1337 616.2V1105.5M1447.6 616.2V1105.5M837.8 648.2H1487M837.8 779.6H1487M837.8 911H1487M837.8 1042.4H1487" stroke="#f3f3f7" stroke-width="1" fill="none"/><g clip-path="url(#cB2)"><path class="sa" marker-mid="url(#by)" marker-start="url(#by)" marker-end="url(#by)" d="m893.7 964.7-26.9 12.3 30.5 4.1 3.9-82.3 28.5 38.5-.2 13.6-16.3 6.6 24.3 4.4-3 16-8.7 47.6 51.4-135.3-2.7 19.3 2.7 4.3-25.1 7.2 26.2 6-25.5 .9-11.7 4.6 34.3 .9-10.3 1.1-.3 7.6 13.5 .7-24.7 6.1 11.7 2.5 .3 8.9-12.5 3.2 15.2 4.7-1.8 .2-7.6 4.4-18.6 .5 20.2 6.4 14.9 12.7-22.9 25.3 42.8-134.1 8.5 9-1.9 5.6 2.8 5.2-22.3 6.3 30.1 7.8-17.7 1.6 15.8 1.2 3.3 4.1 1.3 7.6-19.4 3.8 1.4 2.5 6.7 .2-15.3 1.1 7.5 3.7-9.5 3.3 20.5 4.9-12.8 2 0 .2 22.3 1-14.8 7.7 7.8 1.1-21.2 .7 12.3 1.5 6.8 .1 9.5 .9-32.2 1.3 20 .9-8 .1-2.8 4.5 24.3 1.1-12.1 8.3 4 9.7-.4 4.2-16.3 9.4 8 2.5 32.7-142.1 23.3 1.4-9.2 1.8-23.6 24.2 7.9 3.9 19.1 1.2-19.5 3.6-1.9 3.4-3.5 4.8 22.9 1 0 2.9 6.8 3.2-9.4 .6-2.3 2.2-22.4 2.1 31.9 3.1-.2 4.6 2.6 2.6-20.2 1.7 16.3 2.7-23 4.3 29 4-14.4 .5 1 1 8.4 .2-32.4 .3 36.4 .8-25.8 .6 3.9 3.6 21.8 .8-14.8 .6-22.3 .2 6.5 1.7 12.3 .4-11.8 .1 9.4 1.2 22.9 .9-5.4 4.9 3.8 2.6-9.7 .4-22.5 2.1 15.1 .9-16.2 .2 8.2 1.4 4.1 2.5 9.2 1-20.1 0 25.9 2.6-26.3 .3 29.4 4.2-3.6 2.1-6.3 3-8.8 6.6-3.2 2.6 20.3 .6-15 .8 17.1 .5-20 1 10.4 2.7 .5 7.2 10.5 .2-4.7 .3-11.8 23.5 44.4-168.1-1.8 25.6 3.7 13.5 3 4.3 8.7 5.5-9.9 1.1 3 .5-1.6 .1-28.5 1 7.3 .8 .2 .6 29.8 3.1-10.4 .2-6.8 2.4 3 0-18.8 1.2 30.5 6-26.6 .8-3 .7 10.6 2-6.8 2.5-3.6 .7 21 3.3-20.4 2.1 22.4 .1-24.8 2.5 31.2 4.7-13.8 .9-10 11 15 3.5-1.9 3.2 2.9 .2-19.4 .3 30 2-2.5 1.6-9.6 1.5-22.7 1.5 31.3 .7-34.9 2.7 10.7 3.3-4.5 5 18.9 5.2 1.2 4.6 8.8 1.2-11.2 2.7 10.6 20.1 16.6-158.9 0 29.7-3.6 15.4-5.4 5.5-.2 6.6 17.4 1 15.5 4.2-2.8 1.1-32.7 15.6 20.5 11.1-9 1.6-11.6 .1 2.4 2 13.4 2.1 11.3 9.1 0 3.4-.3 .4-23.7 7.8 8.5 2.9-7.7 2.3 15.9 12.6-18.8 6.6 6.8 13.7 60.4-116.3 5.6 25.5 .1 12.1-25.1 1.9 16.7 1.1 11.3 2.9-27.6 8.8 5.3 8.3 12.1 6-15.6 11.3 3.2 34.7 12.9 8.1 45.5-54.6-14.6 16.2"/><path class="sa" marker-mid="url(#bb)" marker-start="url(#bb)" marker-end="url(#bb)" d="m900.9 714.5 13.4 9.4 7.6 15.2 6.8 1.7 .2 51.8-15.6 18.4 63.4-133.5-23.9 37.2-1.5 14.4 .4 2.6 11.1 4-5.4 4.8 20.5 2.3-5.1 1.7-31.6 3.1 28.4 .9-14.2 2.9-8.7 1.2 19.9 6.1-24.6 1.3 21.4 3.5-7.5 3.7 18 2.5-25.2 10.7 30.2 4.1 .3 1.7-14.1 5-3.7 2.7 4.2 17.5-21.9 3.6 35.7 12 30.4-144.8-5.7 16.2 15.3 10.4-27.2 10.7 5.8 7-7.5 1.1 26.1 2.9-24.8 3.9 20.6 3.6-8.1 1.4-14.8 8.5 29.5 0-12 1.6-6.4 3 19.2 .8-16.6 .4-20.8 0 16.2 3.7 4 .8-7.5 1.4 16.8 1.6-16.2 1.3-12.4 1.7 34 8.9-13.5 0-3.3 1.5 2.2 5.3-4.5 .1-5 1.5-11.6 2.1 31.3 1.6-9.8 2.1 2.3 1.2 2.9 0-.4 .4-3.5 .3 10.7 2.7-31.9 7.9 24.9 3.3-25.5 1.5 31.6 3.7-12 8.1-6.5 13.2-14.2 5.5 35.2 3.4 17.7-139.4-10.4 4.7 5 5.2 24.8 15 2.2 2.2 3.7 5-22 8.3 15.8 4.6-23.8 .8 3.7 1.8 .4 2.4-.4 .3-10.5 1.7 5.6 1.2-3.2 4.6 10.9 .2 15.2 .7-23.1 1.7 22 0-23.5 4 2.9 .4 13.6 4.4 9.4 8.9-14.9 4.4-5 2.5 2.1 1.9 3.1 .7-8.1 2.6 9.3 2.2-12 1.4 29.3 .8 2.2 .6-13.2 2.7-20.2 12.5 24.8 10.3-6.5 1.4 10.1 1.7 24.1-106.3 3 7.1-11.1 1.5-9.7 4.5 8.9 7.7 6.2 .5 14.3 .3-7.7 .1-12.4 1.6-2.1 .3 5.2 .4 10.9 3-5.5 .4-10.1 2.1-2.5 4.3-3 1.4 24.1 1.4-11.1 3.1 5.1 .1-16.5 2.1 27.2 4-16.9 .6-13.1 4.6 20.2 2.5-20.5 7.8 11.9 1.8 10.7 .3-14.2 .9 4.1 .2 11.9 .7 2.2 1.4 .1 1.3-15.1 4.7-4.3 .9 6.3 .3-10 3.3 18.1 1.5 .7 .2-22.9 2.9 36.4 5.9-9.5 .2-18.5 2.3 8.3 4.4 19.9 6.6-.9 .3-33.4 1.1 32.3 5.6 1 14.7-21.6 2.1 11.7 7.9 16.5-167.6 15.2 17.8-8.5 8.4 6.3 4.8-10.7 1.5 31.5 4.1-21.3 6.2 3.8 22.1-17.2 .1 32.3 1.1-27.4 16.3 20 1.9-25.9 .1 31.2 9.5 7 2.1-24.8 2.6 21.8 .9-23.1 1.2 4.6 3.8 20.5 2.7-31.8 13.7 6.9 2.5 22 6.3-32.7 2 10.1 .5 9.9 13.8 49.8-120.8-24.6 16.8-5 8.8 3.8 13.9-1.4 9.3-1.3 13 16.9 22.5-11.8 4.2 41.7-98.6 24.1 33"/><path class="sa" marker-mid="url(#bp)" marker-start="url(#bp)" marker-end="url(#bp)" d="m1092.2 843.1-26.1 4 65.4 4.2-13.9 2-8 2.6 12.3 16.3-11.3 2.2-7.5 1.8 30 27-1.4 10.9 1.6 22 34.2-141.1 3.7 1.1-2.3 16.6-13.6 13.7 20.5 4.5-22.7 9.8-1.1 5.4-2.9 .2-7 .4 15.5 3.9 12 0-27.1 11.1 2.3 12.3 29.9 4.2 1 21.7-11.3 1.7 3.2 6.6-11.6 13.5-6.1 5.5 41.3-147.3 7.7 33.7 7.6 3.6-1.6 .9-8.3 10.3 11.8 2.4-25.8 6.1 19.6 4.2 11.4 1.1-1.2 4.1-23.6 .6-3.2 6.1 26.1 4.3 2.4 1.1-7.8 7.5 4.7 1.1-11.4 2.1 10.5 .4 .5 5-5.4 .8-3.5 2.8 11.2 3.8-1.4 .1-5.2 .2 9.7 0-20.4 1.8 20.3 .3-18.6 8.3-6 2-3.6 13.7 2.3 3.1 14.9 13.9 13.5 13.5 38.7-148.9-34.7 12.3 23.4 .7-11 3.5-1 3.2 10.1 1.3 2.4 0-18.3 2.2 10.5 1-14.6 9.3-1.1 .2 30.6 9.6-5.1 0-10.2 2.6-17.6 9.3 3.9 3.1 14.3 1 2.7 .4 6.6 .8 .3 1.4-2.4 .2-11.2 2.5-12.7 4.3 25.4 6.6 7.8 3.5-21.4 .8 23.8 6.2-36.2 .3 13.4 .1-1.9 .1 13.5 .6 12.9 1.3-11.7 5.7 6 1.2-22.5 .7 15.7 .1-8.2 .1-8.8 .4 7.3 .6 12.6 1.4-11.1 2.5 13.6 3.9 5.3 3.3-32.2 6.5 21.9 .6-24.5 9.8 49.1-132.2 18.3 8.9-14.9 21.7 13.1 6.3-17.9 .6 14.7 3.2 8.8 5.3-.4 3.9-1.8 .4-12.2 .1 6.1 2.3 8.4 4.5-26.7 1.9 19.6 1.1-25.4 2.9 2.8 2.9 34 .6-32 4 28 .1-16 .1-8.6 1.6 17.4 2.6-5.8 1.9-20.2 .6 4.1 1.5 24.6 1-23.5 .8 6.4 .8-2.1 1.2 11.3 .6 10.4 1.8 5.2 .2-9.1 .5 3.7 0-7 .4-10.1 .3-3 .9 6 .6-10.3 .1-6.9 .5 32 .7-1 1.1-3.8 .8-16.8 1.6 16.3 .1-19.5 .1 4 3.2 .4 .2 4.1 .9-8.1 1.7 20.4 1.4-26 .4 .3 5.1 29.4 .7-26 .9 13.4 2.9 2.9 .1-19.3 4.1 7.4 2.1 8.6 .5 13.1 .8-14.6 2.5-15.5 .6 10 2.6-4 .2 31.5 .7-37.2 .2 33.2 3-26.1 5.2 29.3 3-18.2 3.5-2.7 19.1-11.4 2.6 61.8-156.5-23.2 17.4-5.4 20 8.2 .9 19 3.7-20.1 2.2 21.8 2.1-10.8 1.1 5.2 4-17.2 2.8 31.9 .1-29.3 4.7-3.7 .8 17.1 3.7 17.1 6.2-16.4 5-14.4 4.6 7.7 1.9 16 2.2-4.1 2.3-15.8 .8 2.7 3.1 10.1 1.3 13.2 3.1-24.9 1-5 1.2 .4 1.5-1.2 4.8-.6 1 21.7 .6-23.4 1.4 10.1 .1 6.3 4.3 18 .2-3.9 1.1-22.6 4-2.3 .1-9 .9 27.3 8 2 2.9 36.6-106.7-.7 12 7.5 14.8-33.4 7.1-.6 6.4 1.6 3.8 14.2 2.9 .6 30.4-13 2.8-.6 4.9 29.3 4.9-14.5 6.3-9.1 5 6.3 27.7 30.3-75.2"/><path class="sa" marker-mid="url(#by)" marker-start="url(#by)" marker-end="url(#by)" d="m899.6 884.1 21.6 13.2 11 31.8-.5 9.5-5.8 11.3-8.5 5.6-6.6 5.2-3.6 1.9 31.1 35.9-3.3 1.3-4.4 26.3 14-117.8 10.8 .8 18.6 10.6-24.7 5.1 28.8 .9 .1 .5-10.7 10.9-15.3 5.8 2.8 5.8 12.6 2.6-1.2 .7-4.6 2.3 3.5 2.9 9.2 11.7-12.8 22.5-21.1 15.6 20 3.4-4.3 29 48.5-155.4-19.5 5.2 31.1 4.5-15.6 .2-20.7 3.9 3.1 .7 2.7 4.1 9.4 1.9 12.9 .1 5.3 5.2-5.5 2.5-8.5 12.9-1.4 10.9-6.9 1-7.7 .9-.1 2.4 3.6 3.3 14.6 1.6-2.4 3.6 5.1 .3-3.9 .7 18.8 1.2-1.3 2.4-20.5 2.8 2.8 .6-18.7 4.5 28.3 3-12.5 4.1 1.7 .5 4.5 2.4-10 4.7-8.5 .9 15.5 .3 15.6 1-13.3 .2-13.2 1.6 4.8 .1 18.7 2.6-11.6 .1 14.2 1.5 .4 11.1-8.8 .3 9.7 11.6-21 6.7 4.9 4.9 10.4 13.8 28.8-163.3-7.3 5.1 1.7 5.8 4.5 2.9-3.5 13.6 11.8 9.6-1.2 3.5 5.3 .7-8.6 6.3-3.6 .2-6.9 1.4 13.3 .2-25.2 3.7 6.4 2.3 6.8 2.3-12.9 2 5.4 .8-2.5 .4 33.8 2.5-28.2 1-5.1 1 21.7 2.3-11.4 .1-12.5 1.8 19 .6 3.5 .4-11.6 .9 17.4 1.7-28.9 6.5 34 .8-32.2 3.2 18.8 .2-4.8 2 17.6 0-6.7 3.7-12.1 2.9 11.4 .7-4.9 2.2 9.3 1 5.7 1-8.3 .2-10.1 2.2-7.8 0 14.1 .6 5.6 2.3-24 3.2 31.8 7.1-9.1 1-8.8 5.7-13.9 1.9 7 .4 17.7 4.7 6.5 .7-1.1 .8-32.4 .3 15.2 .1 7.7 2.5-16.3 .9 23.7 29.7-17.2 .9 37.4-166.4 10.1 2.6 14.2 11.6-3.4 6.1-19.8 5.1-9.6 2.3 29 8.3-1.7 17.4 6 .9-29.5 .6 10.3 .9 7.6 .6-21.7 1.2 25.3 3.1-25.9 .2 20.8 4.3 9.3 .1-14 .1-13 3.3 23.3 7.5-25.4 .2 21.5 3.9-22 .4 26.2 9.5-16.9 4.9 2 2-16.5 2.3-.7 1.7 4.2 .4-1.6 .9 19.8 1.8-15.4 1 18.4 5.9-7.2 1.5 8.9 1.5-18.6 .5 15.3 5.6 2.8 .3 .1 .2-26.9 3.2 29.9 .5-10.8 5.3-12.4 .5-2.4 .5 15.2 .2 16.5 .5-3.9 19.6-20.7 4 6.1 14 42.8-162 5.2 42-17.9 .4 15.3 1.5-3 3.9 3 1.1-17.9 1.5-1.5 1-1.8 9.1-1.8 .7 12.6 4.7 12.6 .2-18.6 4.4 18 4.6-13.8 .7 1.8 .9-10.2 1.7 21.5 2.6-13.9 2.4-6.9 1.3-3.2 5.3 36.9 1.3-25.7 8 7.4 4.6-15.4 2.3 20.8 11.7 47.6-127.3-20.2 81.5 23.7 15.7-30.4 30.4 39.4-58 6.2 60.1 46.7-61"/><path class="sa" marker-mid="url(#bb)" marker-start="url(#bb)" marker-end="url(#bb)" d="m888.6 723.4 4.8 52-32 19.2 47.2-101.8 24.9 35.8-7.6 10.1 9.6 25.9-15.1 2.7 15.6 .8-33.1 9.4 32.2 3.7-13.6 8.2 14.8 12.7-7.2 24.3 2.8 1.6-9.2 6.9 37.3-128.9 17.1 3.2-14.1 6.9-5.4 8.8 19.2 8.8-23.2 8.3 23.8 2-36.2 4.3 36.4 .3-4.1 10 3.6 10.3-7.1 2.9-.9 1.5 9.4 14.8-10.3 .5-23 5.4 25.3 .7 4.8 .5 1.4 1.9-9 .3 10.8 2.8-17.4 .6 15.9 31.8 2 3.6 .7 17.3 9.1-145.2 24.8 13.3 1.2 7.1-6.6 4.4 4.1 2.4-20.2 1.1 12 1.4 2.4 3.5-24.2 .6 6.8 3.5-4.5 .7 6.7 7.5 27.8 .2-4.6 5.3-17 2.2 8.5 5.6-23.9 .1 21.5 .9-12.5 1.2 13.6 .2-18.3 5 31.9 .3-26.7 5.6 4.2 2.9 14.8 4 6.1 .8-24.6 8.7 6.7 1.7-9.3 1.1 25.2 .7-14.7 4 17.1 2.6-3.8 16.2-21.2 7.1 26.7 3.7 20.9-161.6-5.6 22.3 9.5 .6-7.3 4.8-13 13.4-2.8 .3 9.7 6.8-.7 1.7-.2 1.1 7.3 2.3 23 1.6-32.3 .4 17.5 .4 5.4 .5-11.2 5-4.9 1.2 6.1 .4-.7 1.8 6.1 1.1-1.5 2.2-23.1 1.9 2.5 .4 19.3 1.3-21.4 1 7.9 3.3 7.5 1.4-9.4 2.6 20.4 0-4.5 0-16.2 7.2 14.3 1.6 7.6 1-18.6 1.1-9.7 2 18.7 2-16.6 2.7 18.3 1.6-21.1 .5 17.8 1.3-5.8 0 16.7 .2 .7 .4-18.1 3.2 27.9 1-24.8 1.1 11.2 .9 2.2 .3-13.6 .2 17.7 2.8 .4 1.7-19.5 .4-11.4 .6 3.1 1.3 24.1 .4 1.5 7.3 2.4 6.9-3.1 4.6-23.4 1.9 12.1 2.3 5.2 2.6 .1 3.7-19.4 4 30.5 4.7-19.7 1.2 44.4-122-1.7 1.4 3.1 10.8-15.7 .3 21.2 5.5-14.4 3.6 4.9 5.1-11.4 5.9 15.8 6.9-20.5 10.6 26.4 1.5-4.9 1-6.1 .5 20.6 .1-20.1 .9 7.6 1.4-3.9 .3-9.4 1.1 2.3 2.8-6.5 3.1 29.9 1.2-13.4 5.6-7.7 2 7 1.1-20 .3 22 4.6-23.3 .4 32.3 .2-5.3 7.4-3.1 2.5-7.2 6.6 7.4 1-21.5 5.8 25 .5-23.4 7.7 5.9 .6-6.3 .5 6 25.1 22.6 1.1-14.5 4.4 52.2-141.8-29.6 4.3 30.1 9.8-10.9 2.7-16.4 3.6 32.8 11.6-17 8.1-18.7 3.4 32.7 .5-16.4 2.9-1.6 1.8-9.6 .5 31.3 3.3-36.4 1.2 22.5 .1-18 .3-2.8 .4 20.9 1.1-2.2 8.1-10.7 .9 18.7 9.3-26.2 .3-2.9 1.4 3.2 .2 35.8 1.6-36 2.8 24.3 13.7 6 5.4-18.1 2.6-8.9 10.2-2.6 1.1 3.5 .3-3.5 2.9 58.7-83.6-12.8 8.5 14.7 1.3-19.7 6.6 15 19 10.2 3.5-20.9 14-6.3 26.1 14.4 30.7 64.5-64.1"/><path class="sa" marker-mid="url(#bp)" marker-start="url(#bp)" marker-end="url(#bp)" d="m1099.6 873.2-20.5 16.8 45.2-35.4 10.2 10.5 .5 7.2-23.9 2.3 56.3-83.4-23.6 31.8 23.2 .1 8.3 9.7-12.5 11 17 3.5-6.9 6.8-4.1 4.5-23.9 3.2-4.3 .1 27.5 2.2-16.2 3.7-6.3 2.6 22.3 11.1-1.8 20.3 6.5 6.1-12.7 6.6-2 5.5 15.2 61.4 13.4-179.2-4.1 5.3 29.1 5.3-29.2 9.5 33.9 1.2-10.9 2.2-11.7 2.6-3.2 2.7 11.1 9.4 12.4 .6-2.8 3-22.5 4.5 11.9 7.5 3.4 .6 1.5 .3 9.4 4.2-13.8 8.4 16.3 1.2-11.8 1.3-13.7 5.8 27 .5-27.2 .2 16.1 5.1-20.4 1.6-.2 1.5-2.9 .6-2 3.9 31.4 8.5-25.3 .9 22.6 .3 3.2 1-4.7 1.6-5.3 5.3-7.2 8.3 21.2 8.9-15.2 6.6 52.6-131.5-13.4 12.4-18.9 3.1 16.3 11.1-9.8 1.5 4.8 1.2 1.1 2.4 22.1 5.8-8.2 4.4-20.9 1.4 28.2 .1-31.2 .7 4.6 2.2 9.9 3.1 7.8 1.8 9.6 1-15.2 6 3.8 .5 4.8 .9-20 .2 15.9 3.8 2.9 .8 9.6 .1-20.4 .6 10.6 1.5-26.5 .3 16.1 2.3-17.2 4.3 2.3 .3 4.2 .4-8.4 1.1 .2 .3 29.2 2.5 4.1 3.6-26 .9 24.4 1.2-.7 1.8-4.8 .6-11.5 3.6-3.1 .2 14.1 1.3-13.8 2 19.3 2.2-28.6 2.8-2.4 3.8 14.5 8.1-5 .4-2.1 .8 3.8 3.7 12 14.4 22.9-151.9 12.3 17.8 11.4 17.1-13.3 1.6 20.9 2.1-2.8 1.9-13.6 1.9-3.9 4.7 20 2.3-35.1 9.1 20.1 .4-3.9 3-2.6 .9-11.2 2.6 35.2 3.5-30.3 1.8-8.3 .7 27.4 1-17.7 .9-5.6 1.6 10.9 3.7 18.6 2.3-32.2 1.6 28.2 5.8 5.5 .3 2.8 1-14.4 2.4-19.1 3.2 5.4 .3-9.4 .5 16.6 1.2-1.1 5.4-3.2 3.2-9.3 .7 28.6 1.7-12.3 9.3-3.2 .1 13.8 .2-28.1 6.5 9.1 8.4 4.4 1.9 17.2 4-33.7 2.2-.6 19 75.6-130.9-15.6 3.4-13.7 5.6 14.2 9.4-18.7 .7 13.5 4.2-10.4 1.8 11.6 3.1-13.8 .7 4.8 3.5 21.6 .9 8.3 2.1-20 7.2-13 4.6 24 1.3-16.8 .7 12.1 .2-10.4 1.8-3.4 1.1-1.3 1.5 12.8 1.9 .8 3.9 4.6 .1-23.4 6.6 5.5 .6-6.8 2.3 .1 4.8 1.6 1.1 31.7 4.8-26.6 1.4-6.5 5.7 10.8 1.2-11.5 1.6 19.2 5.4-12.7 0 10 .2 3.8 2.5 .3 4.9-20 13.4 56-105.5 15.4 26.4-20 5.5 19.4 5.5-19.3 .8-.5 3.9 7.8 .6 13 5.5-24 1.6 .7 12.9-10.2 3.8 36.4 10.2-18.3 1.3-18.4 16.5 4.6 3.9 37.7-62.4"/><path class="sa" marker-mid="url(#by)" marker-start="url(#by)" marker-end="url(#by)" d="m882.1 954.7 56-1.2 1.1 32.8 32.1-86.8-31.2 8.6 25.5 3.3-11.3 6.9 9.1 6 10.4 4.1 4.1 3.4-32.7 3.3 17.2 1.1-8.6 1.8 11.2 1.7 7.8 1-6.5 5.8 4.3 2.5-4.6 .5-1.9 .1 11.2 1.7-11.7 2.8 15.5 1-10.6 8-26.9 2.2 27.1 2.6 2.7 4.6 3.9 3.6-27.7 18.1 17.4 .1 2.3 1.9-2.5 14.1 26.3-138.9 7.2 15.3-5.4 2.3 12.9 2.6-9.8 6.3 4.2 2.1-19.1 .2 35.4 5.6-30.9 8.6 7.5 .9 .5 .8 10.4 1.7-3.3 1.1 18.5 2.8-30.5 2.4 29.1 .6-12 .4-9.5 2.8-4.4 .1 19.5 3.6-2.6 3.4-16.4 .6 20.3 .3 2.6 1.5-34.6 .6 35.4 4.4-8.8 .5-26.6 0 2.5 1.1 2.3 1.9-2 .6 35.6 3.1-30.2 .9-6.1 1.9 35.5 2.4-15.6 .6 9.7 .8-13.3 5.8 17.4 .3-17.4 3.3-15.6 1.4 1.1 2.4-2.4 1.7 37.8 2-3.2 11-11.6 2.1-2.8 1.6-19.2 3.7 6.7 .9 69.1-132.2-28.6 22.7-6.8 25.6 25.6 .9-24.9 1.2 7.5 2.7 12.2 10.4-16.3 1.7 28.5 1.5-7.8 0 .7 1.3-25.6 1 31.5 3.4-28.9 7.2 27.9 1.8-2.2 .6-18.9 .4 9 .2-5.3 .5 12.6 .1 1.4 2-18.7 0-11.8 .9 36.1 1.3-31.4 .1-1.2 .7 7.9 1.8-5.1 5.1 16.5 1.6 6.8 .9 8.1 3.7-33.6 1.1 34 9.2-29.5 .7-2.4 .7 16 1.4-.7 1.6 5.6 .6 5.6 1.2-14.4 3.6 6.1 .4-5.7 .1-16 .8 9.2 .6-10.9 .3 3 .3 12 6 .9 12.4 17.3 1.1-11.1 2.6 16.1 9.6-28.8 22.7 3.4 4.4 31.2-178.5 12.1 14.1-11.9 11.5 4.3 5.6 14.6 8.4-23.9 1.2 26.5 2.6-25.1 1.4 11 .7-3.8 3.1-6.3 2.5 10.6 4.6 17.3 3.3-18.1 2.7-5.8 .4 27.1 3.3-10.9 1.7 12.9 1.3-33.1 2.8 27.8 .2 5.3 .2-28.2 1.5-.7 2.8-5.3 2 9.4 .8-3.7 3 28.9 .8-12.2 2.3 8.7 2-18.8 .7 17.6 9.1-13.8 1.2-13.4 .2 9.4 5.1-11.6 3.3 16.3 6.2-16.4 3.5 9 .1-.2 1.7 7.6 .9 0 5.5 17.4 1.3 1.2 1.8-27.1 .3-3.2 4.3-1.5 9.4 11.9 39.3 36.7-154.4-2.6 1.3-6.7 8.4-.7 2.6 12 1.6-4.9 8.8-10.6 10.3 3.8 .6 4.8 2.7 6.7 2.6 4.1 3.6-2.9 2.1 19.2 1.5-2.8 13-21 2.5 6.8 6.2-13.4 1.7-.2 .5 11.6 1.8 16.3 .9-4.2 .1-15.7 2.1 20.4 1.1-19.1 .4-4.5 16.5-9.1 5.9-.6 .3 11.1 1.9-4.5 5 17.7 1.8-5.9 6.5 21.5-100.7 28 10.9-13.4 9.4 23.4 14.9-34.8 38.9-3 10.9 1.4 4.8-1.7 .7 .3 2.8 21.2 5"/><path class="sa" marker-mid="url(#bb)" marker-start="url(#bb)" marker-end="url(#bb)" d="m871.3 743.9 .3 28.8 55.6-77.4 8.4 4.4-8.9 32.5-17.5 5.3 9.2 2.1-3 23.8 18.1 7.4 .6 2.1-32.7 5.6 3.4 4.3 30.2 4 4.6 15.3 29.9-103.6-4.3 18.9-6.9 7.4 16.9 3.4-4.3 .3-28.6 2.7 30.4 13.8 6.1 .6-24.3 4.2 20.8 6.6-15 1.6 4.1 5.9-18 5.4 11 1.3-3 6.1 17.4 10-12.3 5 6.1 .5 12.6 3.9-10.7 6.7-24.3 10.3 67.5-125.5-12.3 18.5 .7 3.8-16.7 .6 22.3 9.9-5.3 1.9-18.5 3.8 17 .5 17.5 3.4-16.4 2.5 19 1.8-30.9 12.6 28.4 3.6-29.6 1 5.6 5.6 3.9 .6-13.3 1.6 7.8 .4 1.8 8.6 4.9 .6 21.1 .9-37 .7 37.1 1-7.8 1.1-16.1 1.5 17.6 1.2-6.5 .1 7.1 1.9-5.9 1.8 4.6 .4-24.7 .9 19.1 .3-8.8 .2-11.8 .5 31.2 1.6 0 1.6 3.4 1.6-21.1 2.5-15.5 3.1 27.3 4.4 1.6 2.3-1.4 1.6-16.3 1.6 21.4 1.4 3.5 2.3-25.2 1.3 21.9 15.4 4.4 12.6-32 2.6 11.3 8.5-10.4 4 18.2 6 35.8-159.4 6.9 10.2-10.5 0 16.6 4.8-22.5 .9 26.6 2-2.6 2.9-19.1 1.3-1.6 .6 11.5 .7-1.6 2.8-18.3 2.2 .1 3.1 2.5 3.7 10.5 1.7-6.8 .3-2.3 .7 18 1.1 2.1 1.9 7.2 2.3-12.2 4.7 6.6 3-20.7 1.7-1.1 .4 1.6 2 8.4 .2 15.9 4.1-33.5 6.6-3.6 2.9 14 .4 14.6 1.2-29 4.3 3.9 2.5 6.7 .6 21.3 1.5-18.6 2.7 12.4 7.6 5.7 6.6-6.4 3.3-3.1 0-6.8 .7 16.5 .6-21.6 2.4 25 3.3-4.8 .6-28.4 1.5 26 .5-9.6 1.8-6.3 3.7 12.1 25.2-4.4 2-14.9 14.9 40.3-149.6 17.7 9.7-11.3 4.9-6.6 10.2 19.2 .2 .1 6.9 13 .5-12.6 7.2 4.2 .5 5 2.1-29.4 1.1 2.7 1.9 2.7 .1-8.6 4.3 31.1 .6 1 3.5-17.7 1-12 2.9 34 1.8-12.6 3.7-7.4 .8-12.4 1.5 1.1 .8 24.7 7.6-13.2 3.3-9.7 15.5 20.4 3.2-4.8 .2-11.9 3.5-2 2-7.3 4.9 34.6 15-12.8 5.7 36.5-163.5-17.4 40.9 28.7 6.6 2.2 3.9 5.2 .9-36.4 .7 27 7.8-29.7 4.6 21.3 5.2-19.5 13.9 15 5.3 18.2 4 3.6 1-31.6 1-1.7 .6 13.1 7.9 17.9 2.8-23.5 3-4 13.5-5.1 .7 13.6 13-16.7 5.2 23 .9-5.7 3.7 15.1 2.6-23.2 8.8 36.9-125.6 9.1 18.1-15.9 6.6 4.6 9.4 21.1 5.8-13.5 9 .3 7.3 3.7 1 4.5 8.9-17.4 29.3 5.3 9.7 34.6-71.9"/><path class="sa" marker-mid="url(#bp)" marker-start="url(#bp)" marker-end="url(#bp)" d="m1055.6 880.7 18.3-8.5-.8 13.3 64.9-42.6-6.2 9.5 7 4.4-24 6.1 12.6 5.1 11.8 1.1-3.7 10.8-14.5 10.2 3.5 4.2 8.6 24.6 16.7-112.9 20.6 20.8 .4 13.5 .2 7.5-28.6 15.7 3.9 4.2 4.3 .1 24 6.4-1.5 .8-12.2 6 7.9 3.4 9.5 5.1-34.3 4.4 27.3 7.1 6.2 8.9-3.1 5.4-4.9 19.5 17.3-114.1 11.3 5.3 6.4 .3 13.2 2.1-19.5 3.3 8.9 3.7 7.5 3.5 2.1 6.1-7.4 1 .3 2.1-12.9 2.9 2.2 .7 5.1 .3-14.6 3.3 28.4 1.2-14.2 .5-19.8 .6 28.5 1.6-31.7 1.1 28.2 5.5-8.4 2.6-4.7 .9 18.1 3.7 4.9 .6-6 .1 1.9 1.9-29 .8 21.8 .1 4.2 .3-6.3 1.1 13 4.2-17.1 .7 18.6 2.9-29.7 4.2 22.4 3.8-9.2 11.3 5.6 11-8.9 19.5-17.8 2.8 16.6 9.3 56.2-163.4-4.7 24.2-21.8 0 23.9 17.8-19.2 2.6 3.6 0-15.7 2.9 31.1 4.8-23.8 2.7-6.9 1.3 10.7 8-10.7 1.8 37.1 2.7-8.9 .1-5.6 3.9-18 2.3-4.4 1.4 12.2 7 17.3 1.3-4.1 .9-17.4 .9 17.8 3.1-22.2 .9 26.9 4.3-9.4 .6 6.4 .6-20.8 .4 29.3 .7-28.9 1.3 16.2 2.9 1.9 .6-7.5 1.9 11.3 .2 9.1 1.9 .1 .9-32.9 4.6 25.6 2.8-26.6 .6 5.9 1.7 20.2 2.2-17.2 4.1 14.6 1.7 6.3 1.6 3.7 4.3-19.8 .8-.1 16.2 18.5 11.6 23.8-141-19.1 5.1 10.4 7.9-.3 1.5-1 2.3 18.5 6-15.2 1.3-6.3 .4-2.8 .6 33.7 1.2-12.6 14.3 .4 6-19.1 2.7 24.2 2 6.4 1.6-30.4 .1 17.3 0 5.3 1-13.5 1.1-5.1 .2 26.3 1.3-5.1 5.9-21.6 .7 5.6 1.5-4.1 .6 19.9 1.9-17.9 2 .9 1.2-6.2 1.2-2.8 5.6 5.4 .7 22.3 .2-11.5 6-3.4 3.1-19.2 1.2 31.1 2.9 5.7 2.6 .1 1.4-15.2 1.3-.9 1.3-18.6 1.2 8.7 .6-.1 .2 22.8 1.5 2.1 1.2-22.6 4.1-6.5 .3 4.8 9.1-6.1 .8 26.2 7.2 18.8-90.9 20.9 .6 4.9 9.2-32.9 8.2 2.1 3.1 26.5 .9-2.1 1.5 3.5 3-27.6 .8 27.5 4.2-14.5 2.4 .9 2.3 4.7 1-7.6 0-9.7 .3-5.8 2.3 35.8 2.1-9.8 2.8-18.6 .2 14.1 .5-6 1-10.4 1.9 3.4 1.9 7.9 6.8-17.4 1.4 6.3 .4-2 2 18.8 5.1-20.3 2.7 42.2-67.7 .9 2.9-.7 3.1 1.5 3.1-3.3 3.6 28.6 5-29.1 2.1 13.5 .1 1 7.2 12.6 5.1-17.9 7.2 15.7 4.4-13.8 4.2 9.1 .5-22.8 1.1 10.8 10.6-3.9 1.2 5.7 26.6-8.1 4 64.8-67.7-19.2 19.1-11.4 24.2 44.8-48.8"/><path class="sa" marker-mid="url(#by)" marker-start="url(#by)" marker-end="url(#by)" d="m893.8 952.7 15.4-34.5 28.5 6.6-3.8 16.9-6.4 .8-18.8 28.1-5.8 32.7 21.8 1.1 38.4-130.8-23 6.4 36.3 30.9-13.3 2.1 4.7 2-27.3 .4 36.8 9.5-9.3 12.2 3.6 2.1-22.1 18 20 6.7 5.8 1 4.1 5.2-33 7.8 8.7 17.8 15.8 7.3-9.9 6.8 16.4 2.2-21.2 2.3 1.3 3.2 54.4-150.4-6 24 3.2 7.6 5.3 2.2 5.6 .1-20.1 4.6 1.6 1 6.5 6.1 6.7 2.2-22.3 2.2 20 .2-3.5 4.7-28.8 2.8 39.3 3.7-19.5 1 18.9 3.9-4 1.3-3.5 6.2-26.1 1.1 14.7 1.1 18.1 .4-.5 3.1-18.6 .1 20.2 1.8-26.4 2.1 24.9 1.2-16.5 .8-3.4 4.1 21.5 .5-25.7 1.7 23.8 0-23.1 2 8.8 .7 .2 .3 13.3 1.4-20 .1-11.7 3.3 26.9 0-.8 .6-3.8 2.2 12.5 .4-21.4 3.1 1.7 3.4 10.5 6.9 7.1 .1-33.7 8.2 27.5 3.8-4.9 16.7-9.7 6.4 51.2-157.7 6 28.5-33.6 12.8 14.6 2.9-4.3 .3-7.4 1.7 21.1 12.7 12.6 .5-26.9 4.2 19.1 6.3-8.8 1.1 5 0-10.6 4.3 7.8 3.3-11.2 1.3 26.2 .3-24.6 .6-12.2 2.2 26.9 1.2-10.9 .8 21.7 1.8-17.4 .5-4.8 .9 9.9 1.9 5.1 .1-13.6 .4 22.2 .2-37.8 .3 32.1 1.5 1.8 .3-18.9 3.5 14.1 1 5.1 1.9-9.8 .1 13.6 .5-32 2.4 31.1 .2-3.1 4.4-29.2 1 10.1 .8-3.5 1.1 19.8 1.3 0 3.1-23.1 1.3 5 2.9-14.4 4.8 12 2.3 14.7 1-8.1 .7-5.8 1.4-4.4 2.2 7.6 1.5 11.7 .1 11.5 16.9-2.6 .8-20.4 5.7 12.3 3.3 2.8 14.9 17.1-142-5.5 7.7 34.5 .1-32.9 5.4 6.5 .4 1.7 2.8-10.4 3.7 14 2.1 3.7 3.6 11 1.2-28.9 .7 23 2-18.3 1 18.3 3.5-24.9 1.6 23.4 .4-16.6 .7 27.9 1.5-11.3 0 1.8 .6-17.7 1.3 22.9 2.9 4.8 .5-33.1 4.8 2.8 2.4-3.6 2.3 19 1.9 8.7 .9 1 .6 1 3.3-14.6 .2 10.1 .2-.7 4.7-20.9 4.6 11.2 .9-12.3 4.1 23.1 2.7 1.3 3.9 5.2 .6 2.7 1.5-30.9 2.5 6.1 2.1 16.5 .5-8 2.8 12.5 15.3-32.2 .1 22.2 2.6-13.8 20 20.2 23.1 36.8-148.7-24.1 32.7 8.2 5 28 1.4-37.5 1.4 14.2 1.4 12.3 .9-.7 3.9-6.4 3.9-16.1 4 9.1 3.5-8.8 24.3 32.4 .8-25.9 1.5-6.4 14.3 27.5 3.8-30.6 1.9 4.7 8.7 45.5-92.1 5.5 1.2 8.3 29.2-9.4 3.9 3.4 18.1 11 5.3-.8 5.6-28 7.9"/><path class="sa" marker-mid="url(#bb)" marker-start="url(#bb)" marker-end="url(#bb)" d="m929.9 737.2 .3 1.8-6.2 12.7-.3 7.4 6.1 2-29 3.8 28.4 27.5-2 1-14.1 10.3 38.3-94.7 20.5 6.1-4.5 1.7 11.9 10.3-16.6 4.1-16.4 5.1 24.7 9.5-29 .2 16.3 3.9-6.1 7.6-6.6 7.4 4.4 .3 22.6 6.4-23.4 3.5 29.1 4.1-7.1 3.9 5.8 2.5-3.7 1.1-29.4 .1 30.6 2.4 1.9 3.7-33.5 1.4 36.5 5.8-21.8 3 13.3 2.2 46.4-108.8-9.7 4.5-8.9 2.5-17 15.6 34.3 2.2-24.1 4.9 3.1 6.3-8.4 5.1 32.5 .7-30.3 1.7 16.1 4.6-3.4 9.8-7.6 .7 .5 .1-7.5 1.9 17.1 1.1 2 2-8.6 .1 11.9 .2-19.7 2.3 24.8 5.3-17.4 6.8-5.6 1.7 15.4 3.1 6.7 .6-10.1 1.2-15.6 5.6 5.7 7 12.7 .6-13.7 .4 15.6 3.5 4.6 4.6 4.6 5.5-19.3 8-11.2 7.7 19.3 12 0 4.1 4.9 7.2 13.3-145.3 22.7 11.4-7.8 9.2-17.1 .3 13.9 5.3 8.6 4.4-1.5 2.4-.8 5.8-7.2 3.4-5.6 2.9 29.6 2.5-35.3 1-2.3 2.8 19.5 1.1 6.6 1.2-14.5 1.4 26.2 3.4-37 4.7 30.1 .8-5.2 .5-20.3 4.7 19.9 1.3-11.7 4.7 24.8 .6-12.6 2.1-18.3 .1 19.6 1.9-28.3 3.5 35.7 .2-31.1 .3 27 2.2 5.1 2-23.7 .5-7.6 1.6-5.1 4.4 22.7 1.1-5 1.1-8.9 8.4 23.7 2.3 1.8 1.9-.2 2-26.9 .3 15.2 .9-21.3 3.5 14.6 4.3-11.1 3.5 21.4 .7-26.3 12.9 21.5 6.3 21.1-136.7-1.9 2.6 4 2.8 10 2.9-9.4 2.8 19.5 1.5 2.7 2.8-27.3 .9 4.9 1.8-.5 12.9 19.8 .3-16.7 2-3.5 3.3 8.5 2.2-9.3 .5 24.4 2.6 6.8 1.8-5.6 2.2-13.7 .1-2.4 4.9 .9 .2 4.6 .1 13.7 3-1.9 1-16.6 2 22.9 .3 1.9 .4-3.4 1.6-27.3 .2 26.9 .5-22.2 3.2 17.9 .1-4.1 3.3 4.5 .7-29.3 3.8 20.6 .9 .2 3.6-14.1 .5 29.5 2.2-22.6 1.9 17.5 .1-13.8 5 14.2 3.1-11.8 .8-.1 3.9 10.6 .6-24.1 5.7 9.4 5.9 2.3 1-14.8 7 18.1 7.2 4.6 3.4 38.2-134.4-20.1 1.2 28.7 1.4-2.5 10.8-10.2 15.2 4.5 5.7-4.6 2.4 3.4 2.3 2.8 6-10.8 10.7 4.6 2.8 17.4 1.3-38.5 .7 35.1 .3-26.2 13.7-2.6 6.3 12.6 .4-13.5 .9 5.3 1.9 17.7 .9-8.3 3-16.4 1.3 7.1 12.5-6.4 2.7 4.3 7.3 3.2 3.8 32-87.3 5.5 10.3 23.8 2 3.8 30-22.9 1.6-5.8 6.7-8.6 6.8 16.8 2.3-3.1 1.9-7.6 35.4-5.1 8.5 39.2-88.2 9.4 13.6 6.9 .6"/><path class="sa" marker-mid="url(#bp)" marker-start="url(#bp)" marker-end="url(#bp)" d="m1099.5 872 33.3-72.8-2.9 10.3 4.2 69.7-6.3 5.8 4.6 46.7 38.6-109.9 8.4 11.6-13.9 3.9-18.4 6.6 12.4 1.8-18.9 2 22.9 8.7 2.6 2.2 13.2 1.6-5.6 1.8-8.6 1.9-10.2 9.1 22.9 .9 1.6 5.9-9.5 0 1.4 2.4-7.7 .4-5.9 .6 14.3 4.8-3.6 1.8-8.3 5.6-13.7 2.4 29.6 9.1 .7 2.4-24.7 2.5 13.3 3.3-6 27.9 44.3-143.3-15.3 12.7 .3 6.8 14.1 3-1.3 .3-10.8 1.4 14.9 1.8-12.2 2.2 22.1 11.8-32.9 1.3 25.8 3.5-11.7 6.8 14.1 1.2-2.4 .7 8.3 .3-.6 8.7-3.8 4.5-26.5 1.4-2.4 .2 27.9 1.1-18.3 1-2.3 .4 15.1 3.5-7.3 .8-11.4 1.7 3.2 6 23.3 .3 1.6 1 2.6 2.8-18.9 3.3 4.4 1.8 9.1 1.2-26.1 4.3 19.3 1.3-.8 3.3-13.8 4.4 18.2 5.6 1.6 .2-6.4 2.9-20.2 .5 33 2.8-30.3 10.1 41.8-138.6-8.5 8.3 3.1 14.9 10.8 4.1-3.8 10.5 .3 11.1 7.2 1.7-2.4 2.1 1.6 .6 21 5.4-6.6 .1-10 .8 6.2 .9-24.9 3.1 29 .7-6 .2-25.5 2.5 31.5 .6-17.6 2.3-1.8 .4 10.5 .6 10.4 0-21.3 3-3 4.5-.9 2.5 22.8 6.4-22.9 0 20.1 .3 4.8 3.7-10.8 .2-1.6 .1-12.3 .3-3.6 3.4 14.2 .5-10.3 1.2 21.3 1.2-28.9 4.7 34.6 .5-7.8 1.4 3.6 2-20.1 .7 23.8 2-20.8 2-8.4 2.2 2.1 2.3-7.5 .6 33.1 2.2-2.1 6.3 7.2 .8-36 .9 35.4 5.3-16.1 18.4-1.5 5.4 59.7-143.9-9.1 3.1-18.7 6.6-7.2 4.1 4.5 3.3 1.6 5.3 14.9 3.4 1.7 5.2-5.8 4.8 3.2 4-1.8 3.4 4.5 4 2.8 .6-21.9 2.7-.2 3 9.2 2.4 1.5 .8-9.3 1.4 4.3 3.8 24.7 .1-32.7 .2 7.1 3.1 6.7 4.4-10.4 1.6-1.1 0 28.2 3.2-6.2 6.4-21.8 1.9 7.6 .7 11.2 .3 12.3 6.4-32 1.8-1.5 .3 13.2 1.6 16.8 .6-9.5 1.8-15.4 2.2-1.8 1.2-6.7 2.2 13.9 .3 18.4 .1-1 2.3-31.1 3.7 12.3 .6 23.9 4.6-22.7 11 26.5-121.2 5.4 8.5 28.6 11-26.7 2.2 20.3 .4 9.2 .4-24.4 4.2-14 1.1 22.5 .1-17.9 4.6 8 3.6 11.2 2.3-.4 1.9-16 2 3.1 4.5-5.5 1.9 29.5 4.1-31.2 1.3 15 1.8-3.2 .3-13.2 0 16.5 2.2 10.3 8.3-12.4 2.4-11.2 2.2 30.7 .9-25.9 .4 12.3 2.7-2.1 5.3-3 4.2-14.4 15.6 9.9 3.7-12.5 10.9 33.1 19.8-8.6 4.3-21.6 12.3 50.6-122.5 4.7 10.3-13.5 2.9 7 2.9-6 5.8-6.1 4.6 28.9 17.8-10.2 4.8 7.6 16.2-27.1 2.4 41.7-64 34.8 1.3-3.1 5.5-21.9 25 16.2 1.2-26.2 24.7 56.9-46.3"/><path class="sa" marker-mid="url(#by)" marker-start="url(#by)" marker-end="url(#by)" d="m898.5 939.1-13.2 4.2 28-56.3 20.4 22.1-13.3 .5-1.5 10.2 4.6 1.7 4.8 4.7 8.7 .6-21.9 32.1 5.9 3.1-3.9 20.8 16 11.5 28.6-120.9-9.6 54.7 4 8-14.8 1.4 32.9 5 .1 .8-10.5 2.2-10.6 1.7 8.9 2.5 11.1 9.2-9.9 1.2-4.6 2.9-1.8 8.3 8.4 1.8 1.2 6.1 .3 1.1-9.9 9.2 22.3 19.9-31.3 28.8 47.8-156.3 16.1 1.6 7.2 11.9-11.4 3.2-21.5 4.9 13.4 8.1-8 .2 15.9 .8 12.1 1.3-8.1 1.8-6 3.7 3.1 3.8-4.1 1.4-24.2 2.1 2.9 1.5 32.4 1-11 8.2-.2 1.2-17.7 1.9 9.7 .3 23.3 1.2-34.8 .1 11 1.8 22.2 .7-24.6 2.6-5.6 .1 8.6 1.5-3.7 1.8-4.3 1.7 9.7 .2 2.7 1.5 7.4 1.9-24.2 .7 14.1 1.6 9.7 2.4-24.1 .5 23.6 .1-17.4 2.3 10.1 5-15.6 1.4 17.8 3.2 7.8 .2-27.2 4.7 17 3.8 7 2.5 8.9 1.8 .9 .1-26.6 2.3-2.4 1-1.2 1.6 1.9 7.4 1.6 6.3 11.9 28.3 53.4-164.8-31.5 4.6 12.8 2.2 4.1 12.4 11.3 5 7.3 4.7-30.1 4.9 9 .3-9.9 13.5 2.9 .7 1.6 5.7-.5 1.5 12.8 .2-2.5 3.7 3.9 4.9-5.7 1-15.8 2.9 21.9 9-8.1 .1 19.8 1.2-38 .9 24.6 .9-9.1 2.6 5.7 .3-1.7 1.6-9.4 1.2 11.9 3.4 3.7 1.1 9.8 1.7 1.9 3.5-8.6 2.5 .2 .3-9.8 .5 13.4 .1-7.9 3.7 12.8 1.9-31.6 2.6-4.3 1.2 32 6.8 2.1 1.3-9.6 2.2-9.4 3.1 10 .3-3.3 4.8-5.1 2-.3 .9 14.1 1.2-22.8 5.7 22.9 1.7-32.7 .6 10.6 10 17.1 19.2 15.4-152.4 7.1 .4-6.8 17.2 22.9 1-14.7 .9-3.9 1.5 19.7 4.2-24.9 9.1 36.4 4.8-26.7 1.2 23.3 .1-20.5 3.5-5.8 .6 16.7 3.8-5.4 3.9-11 10.4 8.9 .9 1.9 1 7.9 2.1 2 2-20.9 4.1 6.5 .8 .6 .1 9 2.6-19.4 .3 10.5 5.2-9.7 .4-.2 1.6 16.3 7 6.6 2.2-17.2 .8 16.9 .4-12.5 3.3 9.6 .9 9.3 3.3-24.2 .6 13 2.2-8.5 4.3-9.2 .1-2.1 .5 26.6 24.8 .9 22.6 23.9-168.1-11.7 48 16.1 3.7 .5 1.5-6.7 1.5 3.1 .1 1.4 7.3-15 .8 3.3 1.6 30.3 .2-12 1 1.9 2.9-15.1 .5-3.8 2-7 .5 4.1 .4-1.6 3-1.9 4.7 7.5 .5 11.3 5.4-8.6 2.1-3.4 .6 16.5 3.8-13.7 .7 8 6.8 16.8 1.6-6.4 6.2-21.8 2.5-6.9 4.6 10.2 19.5-10.9 3 64-72.8-11.3 19.3-4.1 3.3 15.9 9.7-24.9 44.1 32.2 2.2 19-67.6 3 18.5"/><path class="sa" marker-mid="url(#bb)" marker-start="url(#bb)" marker-end="url(#bb)" d="m870.3 791.9 68.4-44.3-33.1 6.3-5.4 30.1 30.5 7.6-23.4 4.2 1.9 10.8-8.6 20.9 69.9-125.2-12.7 .5 18.1 15-12.2 1.3-22.2 1.3 16.6 6 2.4 2.9 9 9.1-25.8 3.6-2.7 20.2 20.1 1.7-18.8 12.8 24 3.2-1.4 .9 5.4 1.7-8 .3-15.7 6.3 17.7 1 8.7 2.1-.7 .3-17.8 13.9-5.8 2.4-1.7 19.6 67.7-143.2-30 9 6 1.8 25.8 9.4-3 1.5-17.2 11.2 6.3 .1 9.4 3.2 .1 3.9-3.3 8.6 10.3 8-15.8 2.5-8.7 .6 5.4 3.4-5.4 6.4 17.4 3.2 7.4 5.3-17.5 .8 1.1 .7 5.1 1.4-2.7 .6-18 .5-1.1 1.6 13.9 1 14.5 1.6-13.6 1.1-10.5 8.4 5.7 1.9 1.1 1.1 2 4.7 19.7 .5-4.3 .9-2.8 1.6-3.9 1.2-6.5 3.3-.5 6.4 18.2 .4-18.7 1.6 6.5 1.7-10.4 3.4-3.1 1.4 6.9 2.8-7.2 2.4 2.7 .6 .9 4.8 5.9 .8 7.5 .3-5.5 2.3 12.2 17.8 19.6-167.4-9.4 30.2 22.4 11.9-.8 .4 5.8 2.9-31.3 3.5 32.5 3.6-9.2 .7-5.4 4.1-4.5 2.1 19.1 .4-31.9 1.2 5.8 1.7-3.6 5.4 3.3 .4 5.5 3.7-7.9 .2 13 2-7.4 .4-6 0 6.3 .6-12.8 3.1 29.5 4.2-20.9 5.4-1.8 .2 32.1 3.7-14.9 .5 3.6 1.7-12.7 2.7 22.1 .2-17.4 0-15.1 .2 7 2.1 14.9 1.4 6.4 7-10.5 1.1-15.6 .1-6.1 1.4 23.6 1 8.8 .1-8.8 .7 12 .2-28.5 .3 19.5 1.5-24.5 .4 8 3.6 2.5 5.4-.4 3.4 19.3 1.8 .2 1.6-17.4 .8-8.9 3.8 5.6 2 6.7 11.3-12.3 13.8 12.4 19.3 46.6-153.7 13.3 1.1-15.8 5.2-8.9 1.2 19.9 .1-8.3 2.7-8.5 2.4-13.3 .2 21.7 2.4-.7 4.7 7.3 1.9-7.9 .7 4.6 1.1-13.8 4.4 7.9 22.5 13.6 .5 2.6 2.8-32.5 .3 27.4 1.3-29.6 .7 21.6 .5-7.9 .7 17.1 2-15.9 1.8-14.3 2.2 33.8 2.3-28.4 1.3-6.6 3 32 .4-14.8 2.6-15.7 .8 33.8 .1-10.8 1-17.1 2.2-7.5 11.6 23.7 1.7 6.2 8-3.1 .4 2.5 .3-26 1.6 2.4 6 15.3 .7-15.2 1.2 26 4.3-5.4 4.1 5.4 1.6-25.4 3.8 27.9 .8-31 9 36.5-164.3 4.4 39.7 28.9 9-33.5 6.9 4.5 5.4-4.4 4.5 4.3 3.4-4.7 8.3 24.7 2.7-17.8 1.5 5.3 .5 15.8 5.9-1.7 5 10.9 .3-10.4 5.9-9.9 3.4-15.1 4.6 31.6 4.6-22.8 2.6 21.9 6.9 3.5 8-1.4 5.9-27.4 1 22.4 4.7-8.8 3-10.4 20.5 37.7-112.1-8.6 3.3 1.4 9.3 33.1 31.6-19 22.9 14.4 3.5-14.1 25.7 27.1-122.9 13.9 38 15.4 30.9-24.5 42.5"/><path class="sa" marker-mid="url(#bp)" marker-start="url(#bp)" marker-end="url(#bp)" d="m1098.6 828.3-32 31.7 72.3-34.8-25.2 52.3 11.2 1.9-17.7 11.9 9.9 .3-1.9 5.9 8.4 7.1 14.3 2.6 41.5-144.5-4.5 57.8-10.9 .4-6.8 2.9-15.9 1.6 16.3 3.4 12.8 1.2-11.4 9.2 1.6 4.9-12.5 3.6 26.9 4.2-9.2 4.2-19.1 0 2.1 5.5 21.8 13.6 5.6 8.1-3.1 .4-4.1 2 1.9 1.2 1.8 1.6-9.4 3.2-2.6 1.4 13.9 2.9 19.5-145.7-8.8 68.6 8.6 8-6.4 9.4 8 1.6 15.7 5-4.8 1.3-25.4 2.6 22.3 1.1-21.5 2.7 26.5 2.7 9.6 1.1-16.6 2.3-10.6 1.4 16 .8-18.2 1.5 13.4 .8 17.8 4.1-15.1 .3 9.5 1.2-6.7 1.3-13.4 1.6 8.6 4.3-.7 1.1-7.7 3.6 16.4 3.6 9.1 .9-21 2.3 12.9 3-11.4 2 2.9 .5 2.1 6.7-1.3 5.1-13.8 2.2 25.1 .7-34.3 12.6 33.4 12.2-24 1.2 46.9-121.6 18.6 5.7-1.4 2.5 5.5 5.8-10 .3-20.4 .1 13.9 1.7 15.3 .8-24.3 4.1-6.6 9.2 11.5 1.1-8.5 1.6 7.5 6.1-17.7 4.5 16.4 4.7 6.9 .7-2.1 1.5-17 .5 2.2 .1 31 6.7-9.5 1.5 1 .6 9.7 .4-13.1 .2 3.3 .2-27.5 .4 7.7 0-5.2 .2 31.3 .2-9.4 1.8-22.1 .6 30.4 .6 .5 6-23.7 4.1-.9 .8-1.4 2.9 3.6 1.4 12.4 1.2-17.9 8.6 23.3 .9-13.5 .3-6.3 .3-9.5 5.2 2.6 1.3 34.8 13.3-16.3 40.2 18.6-170.7 15.5 9.7 5.1 .5-10.2 6.9-10.2 6.9 23.1 .4 3.8 1.1-2.7 1.1-23.5 17.7 0 0 6.1 3.9 19 5.4-25.8 2.2 10.9 3.9 26.3 1.3-14.3 1.8-21.9 3.6 12.2 .2-5.9 5.3 22.2 .8-23.1 1.2-2.2 .4 16.8 .5-21.8 1.6 19.4 1 18.1 5.5-4.9 3.5-20.7 2.3-11.1 .1 6 .1-7 2 25.6 .4-2.1 2.4-4.9 .9 9.8 1.2-22.2 1 28.9 .6-10.1 3.8-14.8 14.7 26.9 12.7-12.2 7.4 14.2 4-14.6 24.5-21.2 11 74.5-151.4-33.9 13.4 29.2 7.6-25.3 2.6 7.9 8.1-6.6 6.7 2.4 2.1 28.4 8-10.6 .5-15.1 5.3-3.6 .7 11.8 3.6-16.1 1 30.2 2.1-22.7 2.6-8.5 3.1-.4 4.5 8.9 2.5 13.2 .8 11.4 1.9-32.3 11.7 6.2 3.5-1.8 11.5-4.6 10.2 49.5-104-14.2 16.4 7.6 4.2 2.5 1.5-11.2 2.3 21.9 15.1-18.5 .8 18.2 5-10.4 3.4 6.7 3.1 7.4 1.6-6.9 1.6 2.7 6.1-1 8.9 57.3-74.7-24.1 7 19.1 8.7-27.8 17.2 9.6 25-4.8 24.1 13.2 5.1-12.4 5.1 9.9 16.8-10.9 .5 32.9-82.4"/><path class="sa" marker-mid="url(#by)" marker-start="url(#by)" marker-end="url(#by)" d="m888.3 957.5 22-55.9 26.1 23.8-14.4 8-11.5 36.2-3.3 25 32 44.2 21-151.3-16 17.9 17.8 5.1-1.9 5.9-15.6 5.6 17.2 2.9-12.7 .5 30.9 4-11.9 .5-6.5 .2 18.2 0-4.3 5.5-18.8 1.5 16.8 3.4-17.9 1.6-10 2.6 16.9 3.5 5 2.5 1.3 1.9-2.5 2.3 6.9 .2-13.6 2.2-3.3 6.9-2.7 2.2 2.3 1 3.9 .9-3.4 5.1 18.4 1.8-13.8 1.3 14.4 .5-29.8 .2 22.1 .3 2.8 .3-30 8.2 34.3 5.6-30 1.1 3.5 6.3-1.6 1.4 5.4 1.4 20.4 10.6-17.6 15.8 12.4 2.2 46.1-146.9-10.3 .3-1.8 15.5 12 4.6-10.5 1.6 2.7 3.1 6.4 0-12.8 1.8-13.1 .5 15.8 .8-16.5 .9 32.5 5.2-5.2 4.2-8.6 .7-18.5 .8 20.9 2.1 4.1 .9-2.8 16.5 10.3 6.5-16.1 2.4 1.5 .1 13.7 4.3-14.4 .2-19.4 1.4 34.3 0-28.4 2.8 19.9 5.8-1.9 1.1 8.8 .6-15.1 6 13.4 4-17.2 .7 18.4 1.5-32 .4 29.5 .6-17.9 2.5 16.7 .5-24 4.3 8.4 1.1-7.8 2.3 17.2 .3-13.2 .8 23.6 8.8-15.4 9.1-6.2 1.2 7.6 3.7 25.5-156.3 3.8 23.9 22.8 5.3-31.3 16.7 10.3 .7-5.7 1.2 14.7 0 2.8 2.9-7.1 2.8 22.1 1.6-33.6 .1-5.1 .4 .2 .9 17.4 3.7-12.9 4.1 18.5 2.2 5.7 1.1 2.4 .4-28.3 .4 31.1 .5-14.2 3.7 7.8 1-16.9 1.5 8.6 1.8 11.8 4.5-6.1 .6 10.9 0-27.6 .4-4.4 3.8 28.9 2.7 2.6 .1-12.7 4.7-14.8 1.1 29.2 .1-18.7 .4-2.7 1.7 18.5 2.5-10.1 .8-8.6 2.3 5 5.4-7.7 .9 8.4 8.8 16.6 .2-24.9 3.5 23.5 .5-5.7 .3 7.2 2.3-23.4 4.7-5.6 4.1-6.7 .9 28 .2-2.6 3.5-10.4 .8 14.2 1.5-.8 5.4-15.2 14.7 11.7 .5-5.6 11.1 9.5 1.4-26.5 17.3 69.9-177.9-24.7 7.5 14.1 5.7 9.4 5.2-30 1.7 18.9 4.5 4.4 .5-26.9 9.3 28.8 2.5-3 2.2-23.8 6.9 9.9 .3-2.2 0-1.6 2.7-2.3 .9 23 3.4-7.6 .3-3.1 1.3-18.6 4.2 8 3.3 9 2.6-16.5 1.8 38.9 2.8-29.3 2.1 19.3 5.4-.1 1 9.8 2.5-23.3 1.7-5.4 3.3 8.3 1.7-15.6 .8-2.4 2.9 36.5 4.7-35.2 1.4 32.4 1.2-33.1 .3 2.5 2.1 14.3 1.8 1.1 3.2-9.1 2.6 12.2 2.2-.8 .4 11 2.7 1.5 18.7-4 1.1-21 9.6-4.2 23.8 70.2-150.7-8.6 4.7-26.6 .2 3.8 2.6 2.6 1.3 16.2 1.4-6.5 9.4-5.1 1.7 3.6 2.9-13 2.3 26.5 4.4-21.8 .3 6 6-11.9 6.8 21.8 2 6.7 1.6-2.3 1.5 4.2 4.1 4.2 5-3.1 2.9-4.6 5 11.8 .6-24.1 2.1 5.4 1.4-13.1 4 21.6 12.7-26.8 2.4 7.5 9 16.5 1-22.6 1.2 4.7 10.1 49.8-99.5-13.1 5.9 .6 15.2 27 16.2-24.1 1.2 .7 12.2 3.9 15.7-2.4 25.1-9.4 .2 12 18.9 34.5-61.4"/><path class="sa" marker-mid="url(#bb)" marker-start="url(#bb)" marker-end="url(#bb)" d="m932.2 707.5 2.3 3.6 2.5 .7-4.2 6.1 7.2 16.7-30.2 20.1 4.6 7 2.3 5.5 12.7 1 2.7 11.1 2.2 22.3-32.6 16.8 31.3 19.6 27-134.1 1.8 25 6.3 8.6 10 1.6-.4 9.7-35 .4 25.1 5.2-17.8 8.1 29 4.4-1.7 0-24.9 6.8 19.4 16.3-28.5 2.3 22.2 23.2 .3 .4 8.9 8.2-12.7 4.4 12.9 .9 19.5-144.9 24.3 6.7-19.7 3.4-6.6 2.2-11.6 12.6 15 6.1 18.2 .3 4.2 11.1 .3 .8-14.9 3.7 9.6 2.8-24.9 .4-.4 .5 14.9 6.6 2.3 7.7 5.2 2.1 0 4.4 3.9 2.7-31.6 2 20.3 .3-15.1 .1 2.4 .9 18.9 3.2 .9 1.3-4.9 1.9-6.9 .9 6.3 3.5-2.1 8.3 13.1 0-17.6 5.8-16.9 1.8 26.3 3.5-5.8 3.8 3.4 5.4-12.5 1.2 25.6 12.7-19.2 15.4 19.4 0 19.2-136.4-.9 6.2 21.9 14.7-35.7 6.9-2.5 1.5 28.1 2.4-.3 0-9.8 3.5 20.9 4-36.2 4.5 7.6 1 26.6 3.2-34.9 5.1-1.7 6 20.3 1.2-4.9 .4-.7 3.3 8.3 .3 15.5 .5-35.4 .4 13.5 1.5-5.5 0-6.4 2.2 18.9 .9-1.8 .3 .6 1.2-15.8 1.6 14.8 .3 7.5 3.5-26.4 2.2 29.3 5.5 2.7 .2-2 .6-25.5 1.1 6.5 1.1-12.4 1 4.6 .6 26.4 .7-1.4 .9 7.9 .4-37 .5 4.1 .2 5 .6-10.9 .3 19.7 .3 17.6 2.4-5.6 1.1 3.4 3.1-6.2 11.9-18 .4 28.7 4.5-31.3 1.2 13 11.8-5.6 1.4-11.3 2.3 6.6 2 16.3 8.4 6.2 5.3 24.1-165.7-12.8 18.3 .1 15.9 7.3 9.4 10 1.6-4.7 6.2-6.7 .2-10.8 3.1 31.8 1.9-5.6 4.3-1.5 1.6-16.8 5.2 .4 5.6 26 2.9-9.2 3.2-22.4 1.3 36 5-21.5 .6 16.3 4.4-10.2 .9-14.7 1.5-7 3.6 21.3 4.3 13.9 2-31.7 3.1 13.1 3.8-7.3 3.8 21 .9 1.7 1.7-24.1 6.3 21.5 .7-26 1.1 1.3 8.8 .9 .3 15.5 2.5-8.9 6.4 19.2 16.4 9.6-154.1 11.1 5.7-6.8 22.2-.7 9.9 21.5 1.9-.6 3.3 8.4 10.4-16.5 1.8-3.7 1.3 21.4 3-8.5 10.1-18.9 5.1-4.5 .6-.9 1.6 28.1 12.4-19.5 1.1-7.8 .1 24.8 .7-26.3 2.1 30.1 2-29.6 4.3 4.3 8 26.9 11.8-1.4 17.7-5.2 6.9-22.6 7 54.2-116.2-7.9 33.3 6.5 10.4-16.7 8.9 24.3 7.6-6 .6 1.1 1.7 10.9 10.7 15.3-45.1-5.1 27"/><path class="sa" marker-mid="url(#bp)" marker-start="url(#bp)" marker-end="url(#bp)" d="m1136.8 802.3-9.6 24.9-1 7.2-6.1 .4 10.5 .2 8.2 10.8-18.6 5.1 15.8 9.8-13.4 17.2 14.7 9.5 41.8-95.5-4.4 46.1-15.5 2.8 17.4 3.3-9.2 1.9-7.8 .2-10.5 1.4-5.5 17.6 14.9 6.4 8.5 .4 6.9 .2-12.5 1.3 8 2.9 9.1 4.6-25 .2-.7 9.4 15.9 6.9-16.2 12.6 20.7 3.7-27.8 .7 28.9 8.8-.1 47.4 27.1-175.9-4.2 14.6 16.2 6.7-23.9 13.1-6.9 4.1 25.1 3.8-12.1 2.4 2.3 1.3 18.7 2.3-35.3 .4 34.9 3.2 1.7 2.5-36.2 1.4 11.6 3.2 21.2 .6 1 2.1-11.1 .5 8.3 7.1-23 .2 22.6 1.3-15.1 .3 22.5 1.2-37.5 2.3 11.9 .7 12.2 6.7-.3 1.8-19 .4 25.6 1.6-22.9 3.4-9 .4 5.9 4 12.2 3.6-15.5 .8 30.8 1.9-20.8 4.7 16.8 2.5-27.6 .8 36.1 6.1-.1 15.8-22.4 4.7 35.6-146.3 27.1 16.8-21.5 7.5-4.9 12.1 10 12.3-20.5 .1 14.7 .1-15.2 2.7 35 2.4-17.4 2.5 11.9 2.2-5.5 1.1-14.3 1.5 23.5 5.4-8.9 0-6 2 8.7 1.9 9.4 1.8-13.2 1.1 1.5 1.2-17.7 1-4.2 1.4 28 3.7 .3 5.4-23.7 .7-2.7 .4 15.8 2.7-10.8 4.7 15.6 2.4 1.5 .3-20 1.8 10.8 3.1-13.9 .9 14.5 2.4 .7 1.8 19.4 0-36.4 .3 25.6 .2-2.8 .2-11.8 1.8-12.6 0 9.3 3.8 18.7 1.7-19.3 10.6-1.8 4.8 12.1 18.2 10.2 13.8 35.4-169.4-5.5 40.1-19.1 7.1 0 11.7 .3 .4-1.1 1.3 30 6-17.4 .6 23.7 0-24.5 2.4-4.9 1.3 28.2 2.2-19.3 .1-12.7 0 13.5 .2 11.6 1.9-20.4 .2-7.5 .3 26.3 4.7-6.4 4.2-7.1 .6-4.9 14.7 23 .8-20.5 3.8-8 1.5 8 1.4 23.6 1.6-33 1.4 30.3 2.4-20.8 .2 26.6 .3-10.2 1-21.6 2.8 33 .7-36.7 2.1 33.1 8.3 .2 6.3-20.9 3.9 2.5 4.1 11.1 16.7 21.7-130.3 24 21.5-27.9 5.6 10 4.1-.8 1.9-3.5 5.1 17 6.5 7.8 2.8-8.9 .6 4.5 1.5-12.3 7.4-17.5 5.1 6.6 1.1-3 2 11.8 .9-10.6 .6 6.4 2.1 24.5 1-37.8 1.1 12.6 .3 9.6 .9 15.7 1.2-9.6 1.2 3.1 .3-6.5 .9-17 1 4.1 1.4 10.5 1.9 16.4 .2-10.6 .9-4.2 12.9 8.5 15.5-10.7 7.5 45.9-91-14.2 12.5 7.9 18.3 11.3 2.9-33 9.8 .5 2 5.2 2.7 14.6 4.7 18.8 35.8-10.2 6.2 14.3-103-2.2 41.4-.1 18.1 31.9 10.6"/><path class="sa" marker-mid="url(#by)" marker-start="url(#by)" marker-end="url(#by)" d="m908 913.8 3 14.1-6.2 29.6 4.8 37.7 25.5 31 24.1-142.4 9.2 9.5-24.4 1.1 11 5.4-4 12.9 26.2 3.9-25.4 6.1 15.1 5.5-16.6 11.5 15.5 4.1-3.4 2.8 15.7 2 .5 9.4-11 1.7-2.3 11.9-17.8 .6 27.9 8.9-22.3 4.7 23.3 .4-11.4 1.7-12.4 4.1 19.8 2.8 17.1-121.9-4.8 9.1 .9 7.7 5.3 13.2 8.7 1.4 2.9 1.7-2 8.1 6.9 2.2-2.5 1.2 3 .6 2.5 2.7 5 .7-18.4 2.6 19.7 2.5-19.8 1.1-7 .3 8.6 .4 16.7 1.8-3.8 1.9-26.6 1 2.7 6.7-6.4 3.1 26.4 11.7-23.4 1.8 33.1 4.8-28.3 .6 14.9 .7-7.5 1.6-12.6 .9 .9 1 14.6 1.7 20.5 1.8-6.6 10.9-31.5 2.3 21.8 .8-12.6 1.5 26.2 4.5-2.7 1.6-27.2 4.1 16.6 20.2 6.3 .3 3.9 5.1 16.3-125.4-2.8 4.4-2.5 4-.8 1.3 8.3 .5 16.4 2.1-6.3 2.1 16.8 5.3-34.9 .7 32.3 4-14 .2 9.9 .9-12.3 .5-10.5 1.8 27 1.2-33.8 1.9-1.8 .5 19.9 2.3-18.4 2.7 0 2.9 35.9 2.3-29.7 3.8 19.6 .4 8.2 2.4 0 1-8.3 .8-13.5 2.7 13 1.2-15.2 .7-2.8 .1-.9 .5 21.8 .3-7.6 0-19.7 .6 27.8 0-3 1.2-1.9 .8-25 1-1 .6 .5 .2 36.3 .9-18.9 3.2 6.3 .5-24.3 .1 19 .6-3.5 3 8.4 1.3-19.9 1.7 34.5 .7-36.2 6.8 35.5 .4-10.1 .6-17.6 2.5 27.7 .5-4.2 2.2-10.2 1.6-17 .6-5.7 1.2 21.4 4.7-8.5 1.8 15.3 1.5-1.5 2.6-18.4 .2 25.8 4.5-27.9 8.5 13.4 6.7 29.7-141.4 20.7 20.1-19.2 7-1.3 10.4 .7 1.6 4.3 11.8-9 2.2 10.1 4.5-13.3 .1 35.2 2-5.2 .9-17.1 2.9-2.7 .3-9.2 2.2 26.5 .8-2.4 4.3 3.5 2.3 7.3 0-22.4 2.7 6.5 2.2-12 4.4 10.8 1.1-14.9 1.2 29.8 1.4-25.1 2.7 16.3 3.3-10.2 5.7 .6 2.3-14.5 2.3 6.6 .1 24 .6-25.9 2.1 17.5 6.7 12 .3-5.5 5.5-32.8 1.2 22.8 4.2 16.3 .7-29.1 3.4 1.3 19.4 38.6-121.5-9.4 .7 11 6.8-1.1 6 9 .6-3.9 2.7-4.8 7.3 3 1.2 13.8 2.3 1.1 1 4.3 .2-31.5 10.9 36.8 5.3-33.9 3.3 8 4.8 18.8 2-29.1 .1 34.7 .2-28.6 1.9 0 2.6 11.5 3.3-13.4 .5 22.1 3.3-20.1 .6-.7 2.6-1.9 13 29.6 2-6.5 28.6-4 4.5 33.7-102.2-11.3 13.3 5.6 16.2-11.4 21.9 7.5 13.4 18.4 3.5-8.5 13.3 21.6-82 4.1 21.9"/><path class="sa" marker-mid="url(#bb)" marker-start="url(#bb)" marker-end="url(#bb)" d="m891.9 785.7 18.4-49.2 6.5 6.9 14.9 1.6-23 28.1 17.9 5.3-4.5 42.8 10.5 3.5 30.8-116.4-15.8 10 15.7 .5-20 4.7 31 4 1.2 .8-1.6 2.2-27.4 6.4 3.5 3.3 6.9 13.3 22 10.2-1.4 1.2-5.9 .4 6.3 .5-9 2.6-20.3 8.3-.1 2.7 20 3.1-13.4 2.2 15.5 5.2-9 1.8 3.1 5.2 8.9 23.4-6.4 29.9 8.2 3.3 11.9-154.2-3 24.5 6.4 1.1 23 4.9-31.1 .9 31.7 2.3-29.5 4.3-4.8 4.5 33.5 3.6-10.4 10.9-5.5 .5 20.7 2.1-26 1.2-6.6 .5 17.1 1.9 .3 1-7.4 .4 11 .7-19.7 2.2 26.2 .3-2.5 .6 7.9 3.8-6.2 .9-21.9 .4 13.9 2.3-1.9 2.6 11.1 4.4 5.9 .7-11.5 2-21.2 1.5 23 8.3-7.5 6.5-6.7 .6 6.3 1.4 2.9 2.6-7.7 .8-4.4 5.7 23.3 2.8-35.7 3.1 58.9-101.4-.1 1.1 5.4 1.2 1 2.9-19 3.1 8 1.2-3.3 1.3-10.7 .2 20.8 5.7 6.5 3.1-20.6 4.7 23.9 1.6 5.6 .6-27.3 .9 4.1 .6-.4 .8 2.5 3 7.3 6.8 13.2 2-4.2 8.7 4.8 4.3-12.8 1.2 14.6 3.4-33 .2 18.5 3.9-4 2.2-10.8 0 29.3 .5-.1 .4-24 .5-7.5 3.8 16.7 1.5 11 .8-32.5 2.3 10.7 .4 23.5 5.2-5.5 0-20.8 .7 17.4 3.8-12.9 2.2 6.1 3.8 10.3 1.4-2 1.8-17.7 5.6 21.9 2-2.8 .7 6.8 5-33.5 1.1 .7 12.3 47.2-141.9-6.1 .1-1.2 2.3 2.3 2 22 6.4-18.1 9.6 26.4 6.8-28.2 13.5 4.8 2.2 6.8 10.6-4.9 3.6-14.6 .8-.5 8.2 22.9 1-7.3 .3 2.6 .3 1.8 .2 5.7 .3 5.4 .7-27 .6 21.1 1.1-6.7 2.1-6.5 3.5 6 1-4.6 .2-9.2 .2 18.7 2.8 5 1-9.2 .6-9.4 2.9 26.7 .3-17.5 4.6-10.3 2.9-8 2.7 22.9 6-22.9 .4-.4 2.5 5.8 9.4 28.4 1-24 2.5-1.7 4 13.6 4.3 18.8-118.3 4.6 1.1 31.1 24.1-13.9 3.2-5.3 2.5-13.2 1.2 30.9 7.2 2.6 8.5-20.8 2.2-15.4 3.2 1.9 3.5 32 2.2-15.1 6.9-1.9 4.4 9.5 3-23.6 .8 32 10-33.2 1.8 10.8 .5-7.1 4.5-4.7 2.1 3.3 5.2-4.5 5.3 35.8 4-34.4 1.8-.2 12.1 28.8 26.3-1.3 .6 31.1-151.6-10.8 18.5 10 1.9-13.4 5.4 3.6 8.6 5.7 14.5-11.5 8.6 22.2 9-6.4 16-14.9 13.7 5.2 4.1 1.7 12.9 48.8-36.6"/><path class="sa" marker-mid="url(#bp)" marker-start="url(#bp)" marker-end="url(#bp)" d="m1113.3 839.2 10.1 4.8-20.1 7.9 33.3 4.8-2.8 20.7-27.8 22.9 65.8-103.3 .6 23.3-28.9 8.7 26.8 6.4 3.9 .8-23.1 .1 15 .3 12.5 1.4-12.4 17.9 11.7 9.7-2.6 3.4-1.5 1.1 5.1 1.7-19.8 5.3 2.2 3 9.4 6.6-21.2 .1 27.2 12.5-26.5 .4-4.4 3.5 21.8 15.1 44.1-168.7-24.7 44.1 8.5 6.5-14.1 4.2 20.8 12.5 5.4 1.3 4.1 7.8-19.2 10.2-9.5 .9 11.1 1.2 11.5 7.8-.4 6.2-22.9 1.5 31.2 1.9-10.9 .7 1.1 1.4-12.2 .6-6.5 6.7 17.6 .8-9.4 2.4 11 3-18.9 .9 17.6 2.6-17.9 3.3 8.6 1.5-7.6 .8-.8 2.1 4 .9 22.3 2.8-19 4-2.6 .1-3.6 4.1 10.7 .9-12.4 .2 25.7 1.2-7.4 3.5-22.4 10.9 5.2 .4 17.3 9.9 10.4 21.1 43.4-116.9-21.6 3.8-7.4 5.3 12.3 2.1-1.9 9.9 5.8 2-3.1 .8 7.7 2.7-18.4 .1-10.1 8.5 34.7 .5-10.3 .9-15.2 .1 21.3 1.2 5.4 1.2 1.7 1.3-8.2 1.1-6.3 .2 3.2 3.1-1.4 1.2-10.7 .7-1.7 .4 3.6 .8-5.1 3.1-5.6 .7 21.9 .1-1.2 .3-19 .2 16.2 .1-18.3 5.2 11.2 2 16 1.5 6.3 1.2-38.1 1.3 2.7 .4 27.6 3.7 7.9 .4-9.9 .7-13 .7-.3 4.2-13.2 4.5 29.2 0 .8 2-24.7 9.3 12.3 2.4-6.5 4.2 20.1 5.6-8.8 1.3 5 15.4 28.4-150.8 13.6 15.6-12.5 1.1-1.2 2.2 9.5 1.9-15.4 1.7 8.2 3.3 0 1.3 7.5 .7 4.7 .1 3.2 6.5-23.9 8.3 19.9 0 1.6 .8-25.3 2.3 4.8 .8 10.8 5.6 7 .7 3.9 1.5-2 0 4.4 1.8-12.7 .1-22.8 1.1 20.2 4 3.9 0 10.6 .7-31.7 .3 4.1 1.7 7.5 4.4 18.7 6.1-21.3 1.1 7 1.2 6.6 .4 11.2 2.2-29.5 1.4 8.1 .7 16.9 4.4-18.1 7.2-3.7 1.6-.9 0-1.3 2.6-7.2 .6 12.4 .7 17.8 4.9-29.4 3 19.5 2.2 3.9 6.6-19.6 1.1-5.7 8.2 6 1-2.9 1.8-2.9 6.5 6.5 2.7 5.7 12.3 59-134.3-12 .1-3 8.7-6.7 15.3-3.7 .5 8.3 2-10.7 5-4.9 10.1 .2 3 24.5 1.2 3.8 2.4 9.1 0-33.4 2.9 31.8 .1-10.8 1 13.4 4.8-25.7 2.5-9.7 .7 36 .8-20.1 .6-14.3 2.7 21.3 2.5-18.9 3.6 9 2.5-12.3 .6 22.4 4.1-3.4 .4-7.9 .6 2.9 5.8-2.4 .2 11.7 1.2 .2 2.6 8.7 2.1 1.6 7.2-11.3 1.6 8.5 1.3-20.8 1.9-7.3 3.6 1.6 15.3 33.3-101.9 38.1 7.5-21.5 7.3 2.8 12 7.7 5-25.9 .7 11.2 5.7 11.7 2.8-17.9 10.8-6.9 1.9 30.5 9.6-25.2 4.8 22.1 2.1-.7 .2-10.2 36.3 41.8-127-.2 46.4 13.8 1.7-.6 1.8-25.6 7 17.9 42.1-22.6 12.3 60.9-65.1-20.3 51.7"/><path class="sa" marker-mid="url(#by)" marker-start="url(#by)" marker-end="url(#by)" d="m895.1 904.2 19.5 4.5 20.9 4 1.6 18.6-1.2 5.3-23.7 6.4 21 25.3 4 6.9-32.6 19.2-1 .4 55.1-85.1 17.9 8-1 .1-29.3 1.7 31.3 14.2-11.7 2.6 9.8 4.2-12 4.7 .4 16.7-4.3 1.7 4.4 6.4 11.6 4.7-6.8 3 2.6 1.7-4.6 3.6 2.5 5.6 28.2-120.2-14.9 .1 21.1 8.4 3.2 6.3-24 11.4 36.6 9.3-26.8 8.9 19.6 .5 1.7 .8-6.7 3.3-26.1 3.6 11.1 3.2-10.7 5.9 34.2 1.5-1.2 3-33.8 3.5 24.2 3.5 13.3 1.5-3.9 .2-28.6 9.3 5.6 4.7 15.7 .2-18.6 2.3-7.6 .4 7.9 .7-6.2 1.8 10.4 3.5-11.8 .4 36 .1-18.7 1.9 15.1 4-21.2 1.3-.7 1 18.1 9-4.6 3.6 13.3 3.6-2.9 5.2-25.5 .9 19.9 .1-7.5 25.4-5.8 3.7 59.6-136.3 2.3 2-5.9 2.1-20.1 11.3 3 4.4-9 10.5-5.3 2.6 36.2 1.8-16.4 1.8 15.7 2.4-23.7 .4 7.6 .5-17.7 1.2 27.6 8.9 7.9 0-37.7 .4 17.3 .2-17.6 .7 .4 .1 14.3 2.3 7.1 4.9-17.3 1.4 14.4 1.7-6.1 5.3-2.5 0 8.6 2.7 11.1 .3-12.5 1.7 .1 1.1-.7 .2 18.5 .6 1.8 2.6-37.1 1.1 28.8 .1-6.2 1.5 8.9 1-21.8 3.4 24.1 .4-31 6.2 0 12.4 13.7 2.2 5.8 1.8-12 2.8-6.4 .5 30.4 3.9-12.9 2.5-7.9 4.2-13.9 7.2 10.2 2.8 66.8-149.3-11.7 17.8-3.8 5.7-1.1 5.3 13.2 0 5.5 3.8-25 1.9 24.2 2.8-14.2 6.1-22.5 4.5 3 .1 4.4 .7 21.6 2-29.9 5.9 11.3 1 18.3 1.1 3.8 1.6 2.8 1.4-19.4 4.1-6 3.4-6.9 1.1 20.7 1-12.4 2.1 24.1 2.5-15.2 .4-15.6 0 7.5 .5 0 3 13.2 .6-17.5 14.7 22.9 1.5-13.1 1.4 12.2 3.7-24.6 0 8.4 1.6 5.6 .8 16.2 3.6-5.3 11.3-30.5 2.5 21.6 3.8-3 .1 1.7 13.2-21.4 1.4 15.8 .3 8.9 5.2-11.9 1.4 20 5.7-6.7 8.4 40.6-172.3-18.4 24.9 10.8 12.4 18.6 1.1-6 1-4.3 4.8-12.9 2.1 10.8 5.1 10 .6-18.7 9.2-2.9 9.3 22.4 1.5-33.8 4.3 24.2 3.1-18.4 6.1 28.5 1.6 1.5 8.7-27.1 1.8 10.6 1.8-8.8 8.3 4.2 14.4-5.5 4.3 23 1.5-23.4 1.1 3.8 6.9 1 .5 0 3.6 19.6 11.2 12.4-95.4-3.4 12.3 16.6 6.1 2.5 6.9-2.6 12.2-4.8 .5 .1 15.3 19.5 43.7 68.4-90.6"/><path class="sa" marker-mid="url(#bb)" marker-start="url(#bb)" marker-end="url(#bb)" d="m883.7 816.6 55.9-114.8-13.7 9.3 11 19.6-15.6 6.6 16.1 .3-24.3 7.2 4.6 16.8 10.2 15.9 4.7 19.5 46-106.4-19.6 14 19.4 4.4-2.2 .2-6.4 8-16.5 13.3 26 13.9-32.7 2.4-3.6 1.4 24.2 8 1 4.9 3.7 1.8-30 .7 30.1 4.7-13.8 4 18.5 7.1-12.3 2.4-5.5 .6 13.6 .3 0 5.2-20.1 10.1 19.5 13.7 8 2.9-20.1 22.3 33.7-144.2 25.4 16.2-8.7 3.8 6.5 9.4-7.5 4.6-19.1 2.7 11.1 .3-1.1 10.1 17.3 2.3-21.1 1.7 .6 1.9 10.7 8.1-22.7 1.4 7.7 .3 17.5 1.4-15.1 .2 4.4 3.6 19.5 3.2-7.9 .1 4.6 5.5-8.6 3.1-15.9 1 23.9 1.3-3.6 2.6 .6 4.1 5.9 .5-1.5 7-36.1 .2 10.9 8.9 8 2.5 4.6 1.2 2.4 .7 4.8 1.5-27.8 2 8.4 1.5 4.1 .2 2.9 3.1-9.6 6.3 3.1 15.7 25.6 6.6 41.6-169-25.5 28.5 16.7 13.3 1.5 1.3-8.8 .2 8.1 .3 5.4 .3-28.1 .5-1.5 2.6 28.1 4.5-26.4 1 19.4 8.4-10.7 .3-8.9 .4 7.9 2.7 6.8 .4-21.4 1.8 6 .7 15.4 .6 10.1 3.1-8.6 .4 1.8 1.5-2.3 1.8-12.1 2.3 4.8 0-6.4 .6 26.6 4-27.7 .5 26.3 0-34.8 .8 17.4 .4 21.5 0-6.1 .1-23.4 .4-.1 .4 10 .7 6.2 3.6-15.7 2.1 22.9 1.8-21.4 .4 20.6 1-15.3 .5-.5 0 9.1 2.3 13.1 2.3-36.8 .1 14.5 1.2-7.7 .8 1.7 2.3-2 1.4 5.4 .6 3.5 .9 7.7 .8 7 1.1 3.1 .3-10.3 10.7 3.5 .4-25.2 .3 23.9 1.7 6.3 8.9-15.2 5.7 5.6 10-16.7 28.5 16.5 .6 44.4-133.9 3 4.5 5.2 5.9-25 .7 2.4 6.8-2.4 4.8-.4 .9-6.1 .4 5.1 .2 12.6 2.9 16.2 3-22.9 2.9-2.2 1.6-5.7 2.5 5.2 5.3 25.3 5.7-5.4 .4-32.6 3.2 32.1 2.2-1.1 .7-22.4 .8 10.5 1.3 3.7 1.9 7.9 .9-18.3 .8 7.5 1.9 7.8 .7-15.5 2 22.5 5.2-30.7 3.6-1.5 1.9 17.4 4.5-13 1 4.4 5.2-.6 4.2 2.5 .5 7.2 2.9-6.7 1.1 9.2 8.5-19 6.7 3.5 .1 7.8 3.4 14.3 21.7 32.6-159.9-14.6 19.7-3.3 21.5-4.4 1.5 29.7 2.4-18.1 5.3 11.4 12.1-17.3 8.7 13.1 1.2-17.1 .9 12.7 2 17.6 8.2-25.7 .5 25.3 .8-25.5 1.5 33.3 4.4-31.9 3.4 15.3 .6 .7 3.4-14.8 6.4 16.3 9.4-21.5 1 28.7 1.4-8.4 1.5-19.4 1.9 22.3 0-9.3 1.1 14.5 18.9-12.1 5.3-12.1 16 43.6-124.8 9.4 4.7-14.4 3.2-.6 3.8 12.7 1.3-17.9 3.8 .7 16.8 28.9 14.4-11 9.9-2.7 1.5 2.5 9.6 11.2 1.9-18 8.4 44.5-43.1-3.6 3.6 .9 8.9"/><path class="sa" marker-mid="url(#bp)" marker-start="url(#bp)" marker-end="url(#bp)" d="m1092.7 853.2-9.6 21.8 17.3-40.1 18.9 .7 1.3 17.7 13.7 27.2-14.4 .3-8.8 .8-8.4 6.5 74.3-69.6-3.7 12.9-24.1 1.5 3.2 .6 15.7 2-3.6 5.5 12.4 1.8-12.1 3.7-23.5 1.9 14.6 4.6 14.4 21.5 .3 7.2-23 4.6 22.5 5.2-.4 7.1-9.4 5.8 15.4 2.1-27 4 29 9.8 28.6-123.7 9.9 2.7-30.7 29.1 13.9 7.1-3.2 5.6 3.1 2.4-7.8 1.3 12.3 1.2 15.5 1.9-17.1 2.7 5.1 0-10.3 1.4 4.4 1.5 6.3 3.3-18.4 1 17.6 .5 2.1 1.3-9.2 1 2 4.3 7 .2 1.6 1.7-10.2 9.1 2.7 .4 11.3 .9-33.3 7.5 16.9 4.7-9 .9 25.9 2.7-2.3 1.4-32.1 3.1 14.6 1.5 20.4 1.3-8.3 4.4-19.5 6.1 6.4 3.2 .7 .6 18.3 1.7-20.5 33.5 22.7 1.8 4.4 7.1-6.3 4.6 40.2-168.5-18.5 5.3 23.5 2.7-32 1.3 6.5 12.6-9.7 1.5 17.1 3.8-12.8 7.6 25.8 .1-11.2 4.8-14.4 4.2-5.1 1.5-1.4 1.6 31.9 1.1-30.9 .3 25.2 .8-10.4 0-7.2 7.9 8.4 1.8 9.1 3.4-13.6 .1 1.6 1-13.6 4.3 5.8 0 7.2 1.8-3 1.5-8.7 1 18.8 .1-.7 .1 3.9 1.3-18.9 1.3 11.5 .7 6.1 1.1-8.9 1 13.6 1 10.4 2-27.1 6.7 20.1 3.8-12 1.4 16.6 1.4-20.1 6.8 12.5 1.8-25.1 .6 34.9 1.3-25.5 .2 15.8 7.8-4.6 4.2 7.9 .5-4.3 3.1-1.9 1.2 7.6 5.4-24 2.6 20.6 1.5-11 2.6-3.7 13.3 57.4-139.5 2.2 4.2-33.3 13.5 14.7 0 10.6 .8-2.3 5.8-17.7 3.6 26.3 1.2-1 3.1-20.1 5.7 6.8 .4-5.4 6.6 5.8 0-6.8 .4 1.8 .1-1.6 2.1 12 3.2 13.9 2.9-15.7 .4-20.1 .5 10.8 .4 6.9 1.2-12.6 1 25.4 .9-14.8 1.1 4.5 .1-8.4 6.3 16.7 .5-12.9 0 11.9 .1-12.4 3.4-6.1 1.6-3.7 .3 28.1 .2-6.6 6-4.9 .9-9 1.9-1.1 2.7 1 2.8 16.3 .2-28.2 1.4-3.2 .2 20.6 7.6 7.6 6-4.4 2-10.8 .6 2.6 2.6 14.3 11-29.4 2.6 22.7 26.3 46.8-126.1 0 2.2 7.1 4.2-20.7 1.2-2.7 3.3 .5 13.3-3.4 6.6 22 3-29.5 .6 11.9 .4-14.5 2.5 5.4 .2 6.4 0 4.6 .3 21.5 .9-32.8 2.8-.6 2.9 5.4 3.9-9.1 1 30.2 2.3-17.8 4.8-4.4 3.1-2.1 .5 12 8.9-14.2 2.5 3.5 1.4 12.3 2.8-14.8 1.9-3 16.8 13.2 10.8 54.8-119.7-16.1 31.5 0 2.4-8.7 3.4 3.4 3.2-5 .6 7.9 4.3-3.2 2.2 29.2 11.2-3.1 17.1-2.3 3.8-20.5 50.9 1.1 7.2 56.6-99.1-30.3 8.9 24.6 8.1-18.9 4.6 36.9 40.5"/><path class="sa" marker-mid="url(#by)" marker-start="url(#by)" marker-end="url(#by)" d="m939.5 895.9-.4 37.8-13.2 8.9-6.6 .6 11.4 .1-.1 1.6-26.9 7.9 20.6 5.2 8.4 2.1 .8 33.5-15 4.9 20.6 7.1 20-116.2 14.4 8.8-22 14-10.1 2.2 34.8 9.1-9.3 10.9-15.6 6.9 13.7 2.5-3.6 .5 17.2 1.1-7.5 4.3-19.6 3.9-8.1 7.4 32.5 4.3-22.9 1.5 13.5 1.4 6.6 4.1-28.7 .9 3.5 1.5 25.6 28.1-2.1 11.4 4.4 19.2 30.3-138.6 5 7.7 5.9 .4-11.1 .9 13 3.5-2.5 1-5.1 0 1.5 1.4-18.4 2.5 2.2 1.8-7.7 1.9-2.2 .7 16 .4-16.6 .3 7.1 .4 19.8 3.6-14.7 0-16.7 4 11.3 4.3 3.8 0 9.2 1.6-24.4 .9 16.4 .2 20.3 3.2-15.4 3.1 7.1 4.2-26.5 1.9 35.2 1.9-18 5.8-9.3 0 26.2 .1-14.3 .1 1.9 .2-17 6.1 29 5.3-32.1 .5 24.9 11.1-22.1 3.5-3.5 8.8 9.2 5.5 25.7 1.2-10.9 1.8-1.4 7.1-11.9 2.8-3.4 1.8-2.3 43.1 66.3-194.2-21.1 .7-10.8 17.9 15.2 9.4-6.2 6.5 18.4 1.3-9.5 2.5-3.5 2.4-16.9 8.1 10.9 1.8 14.6 4.9 .6 1.1-14.8 3.3 6 1.2-3 1.4 20.9 .8-21.1 2.4-8.2 1.1 17.7 1.5 6.3 .9 7.7 3.4-21.3 .1 2.8 .1 10.5 .5-18.3 2.6 11.2 1.1-2.4 .1 17.2 .1-30.6 3 23.1 .7-16.4 .4 6.5 .8 11.4 .8-2.9 .5-1.5 3.2 7.7 3.1-17.6 4.6 9.2 .4-4.9 .8-8.8 .3 5.1 5.7 19.2 1.2-1.3 .3-12.4 8.8 6.7 1.1-28.5 .7 36.9 2.9-29.2 5.5 16.6 1-7.3 2.5 15.3 1.6-16.9 2.1 2.3 .3 18.3 1.7-33.2 2.2 29.8 0-34.6 6.8 20.1 .7-19.6 6 27.7 .9-8.6 4.2 33.6-104.9-.2 6.8-.6 .2 6.2 .8-2.5 2.4 3.4 6.1-7.1 .9-6.6 5.7-5.1 .6-.8 3.3 7.4 .3 7.4 1.5 24.6 .9-23.2 1.5-11 5 4.2 1.6 14.9 4.4-1.7 2-13.8 .8 6.8 .5 19.8 1.4-12.3 7.5-5.5 .5-6.3 .1 25.5 2.8-22.1 1.9 3.6 3.8 11.7 4.1-22.2 .1 3.3 1.8-.6 11.8 24.9 .5-19.6 1.4 22.2 18.8-1.4 6.2 .2 23.5 27-130.9 11.3 8.8-2.9 2.9-25.7 1.5 7.9 .5-13.1 .1 28.7 .5-11.6 4.2-5 6.4 15.6 2.6 .2 .1-28.4 3 12.5 5.2-6.3 5.3-1.6 2.1 7.4 .2 13.5 2.7 2.7 4.5-1.2 .1-27.9 4 24.7 6 .5 4.1-15.2 2.3 16.3 2.6-25.6 11 5.8 .1-4.2 2.1 30 3.8 30.9-98-14.5 25.7-5 11.7 6.4 4.3-1.9 1.8 6.9 29.7-.4 15.3 27-38.9 20.7 30.8-3.2 29"/><path class="sa" marker-mid="url(#bb)" marker-start="url(#bb)" marker-end="url(#bb)" d="m881.1 738.3-6.2 47.2 56.3-45.9 5.9 8.1-6.3 16.5-25.5 .2 26.7 29.5 39-77.6 8.8 1.3-23.6 1.8 1.1 11.5-1.2 7.6 10.3 .4-6 2.1 .4 2.3-5.1 3.5 14.9 3.1-.7 1.6 8.8 5.8-28.5 .9 23.5 0-17.7 7.7 23.9 25.2-2.4 8.6-9 .2-2 1.7-5.2 .5 5 3.3 4.4 .8-28.7 12.3 31.6 31 19.2-166.7 16 15.9 6.9 24.1-13.4 3.5-17.2 1.3 24.4 3.1 5.2 .6-21.9 1.1-3.7 .6-3 .2 1.1 .1 6.1 .7-7 .3 31.2 6.1-26.3 .6 5 1.7 20.6 .8-14.8 4.3-1.4 1 17.7 2.9-21 .9 .4 0 7.9 1.2-14.6 .6 5.4 .3 4 6-16 2.5 1.2 3.5 15.1 5.3 10.6 1.1-9.7 .9-.1 3.2 17.6 2.2-12.5 1-4.6 6.7 12.7 3.4-17.9 .7 .8 0 7.7 2.5 2.1 .4 3.9 3.9-1.3 1.5-5.7 1.1 9.7 9-4.4 2.4-11.7 1-2 1.8 10.2 3.8 40.8-113.6-18.2 3.8-8.4 2.5 23.2 2.1 2 6.7 4.6 1.6-8.2 4.1 .3 3.2-21.1 .2 27.2 3.3-2.2 0 12 1.2-7.6 .9-9.6 0 13.2 2-12.4 .9-14.7 1.4 6.9 .2 19.2 1.8-32.1 .6 18.2 .2-17.7 1.8 25.7 1-11 1.1 21.1 .4-16.9 .1 .4 1.7-7.4 1.6 4.7 2-1.8 1.7 5.2 .6 .8 3.4-20.6 4 27 .4-19.3 .1-2.3 2.5-4.8 5.1 37.1 2.6-23 2.4 3.5 .4 7.9 0 8.8 1.4-11.5 11-12.4 .8 18.3 1.4 3.2 .2-16 3.7 19.6 1.2-26.6 1.8 25.3 .9-7.5 1.3-23.1 8.3 33 11.6-19.5 7.7 6.1 3.8 35.4-127.9-17.5 11.8 10.7 12.1 4 7.3-12.5 3 24 3.6 7 .5-27.8 .6 18.1 2.2-22 3.8 25.8 1.9-6.4 .1-6.6 1.1-17.1 .2 30 .9-23.6 2.4 11.9 .2-9.1 .9 5 4.1 1.7 .4 5.7 3.9-2.5 1.6-3.6 .4 21.6 1.7-23.3 3.3-12 .5-.9 .1 17.3 2.6 6 1.6-17.4 2.9 32 2.9-38.2 1 37.8 0-34.2 1.4 23.3 .4-15.6 2.9 2.9 2.4-7.2 .9 17.4 5-12 1.8-5.5 2.3 8.7 9.1-14.1 .1 23.1 1.3 8.6 7.9-29 2 14.6 2.4-5.8 11.7 4.7 5.1 13.2 18.3 12.4-174.5 29.3 22.5-33.5 13 5.7 8.2 14.6 17.3 4 1.9-12.9 5.3 5.5 2.2-3.7 1.5-1 0-5.5 5.5 9.7 4.2 23 3-36.7 7.2 12 2.7-12.5 37.1 11.1 6.9 16.6 2.9 35.1-97.4 8.5 2.6-28.5 2.5 28.8 7.8-3.7 7.2-19.2 1.9-9.6 6.1 23.4 9.6-10.4 .4 16.2 5.5 8.7 14-39.1 .1 20.5 4.3 25.5-34.1 7.1 44.4"/><path class="sa" marker-mid="url(#bp)" marker-start="url(#bp)" marker-end="url(#bp)" d="m1067.2 854.3 70.9-20.4-19.5 7.3 18.3 8.8-12.5 1.1-2.6 3.2-1.4 3.5 10.2 3.9 5 .2-7.5 14.2-14.1 40.8 62.1-162.6-22.4 55.4-9.9 18.4 31.2 .3 4.8 9-28.8 .6 9.4 8.2 17.4 8.7-21.7 10.1 12.8 11.4-19.5 4.5 4 9.7 22 1.4 3.3 12.5-11.8 18.8 46.3-140.4-19.6 13.3 6.2 35.4 7.3 .9-4.5 6.4 1.6 3.4 2.3 .7-25.1 .4 24 4.1-3.3 1.8 1.1 .2-9.6 .3 14.6 6.1-14 2.5-4.4 4.9-8.9 .1 2.5 1.9 36.5 2.2-25.8 1.2 3.6 .4 10.3 2.3-4.6 .7-22.6 2.2 38.3 4.1-14.9 2.7 15.5 .6-17.5 .7-18.3 .1 19.1 .2-17.4 0 7 1.2-4.3 2.9 14.2 .1-19 .8 21.3 4-2 1.2 8.4 .4-11.9 1.3 .7 6.4 8.2 16.6-2.8 7.5-16.5 53.7 45.3-219.4 4.5 42.9-3 9.1 8.6 2.6-7 .8 7 5.8-3.1 1.3-18.3 .7 33.4 8.2-36.1 2.4 9.8 1.6 26.4 1.4-23.4 3.5-6.7 .3 19.7 1.2 6.8 2.6 3.8 1.9-28.1 .5 26 1.4-1.3 .3-4 2 .6 1.1 2.3 1.6-8 2.6 4.5 1.2-22.1 5.2 5.6 .5-1.1 2.4 7.4 .2-6.5 .9 7.8 2.6 2.1 3.6-5.6 7-12 .8 22.9 2.8-10.3 1.7-1.8 .2-.5 .2 5.2 5.3-4.4 2.1 9.9 1-15 1.7 6.6 1 8.1 .7 14.5 1.1-23 3.4 3.7 2.3-16.5 1.9-1.2 2.5 15.4 3 18.5 9.5-8.4 2.3-14.8 8.3 21.2 .9-16.7 .1 12.6 20.3 31.8-164.4 12.5 16.2-15.5 16.9 17.7 1.6-3.7 7.3-30.5 3.7 11.6 .6-8.6 1.2 10.3 1.8 1.3 .9-17.1 4.6 1.4 2.2 12.7 5.2 10.2 .8-21.8 1.9 21 .3-9.7 1-5.3 3.8 24.4 .7-1 2.3-6.2 2.4-15 .2-4 1.1 19.7 1.7 4.7 .4-21.5 1.8 .3 7.7 9 4.3-4.6 1.8 1.1 .6-13.9 .3 2 5 11.1 .5-5.4 3.9 4.2 2.3-6.2 3.9-2.3 2.8 .6 1.2 7.2 .8-8.3 3.7-2.8 1 27.3 1.1-14.9 3 9.6 2.3 3.2 5.5-23.3 .5 6.9 5.4 8.8 12.5 46.3-152.8 2.6 25.4 6 3.9-28.3 6.7 24.7 7.3-25.1 18 6.4 2.8 20.8 9.1-14 2.6-17.2 .8 35.4 .8-29.9 2.2 5.5 .8-.1 3.4 11.2 10.5-8.6 1.2 10.4 4.6-22.5 .6 2.5 4.8 16.9 .9-2.9 .8-16 5.6 2.5 2.3-.7 .6-.9 7.4 11.1 5-12 2.2 32.2 5.6-9.9 10.7 15.5-115.4 .9 11.7 5.9 28.7-1.7 3.5-5.9 7 7.1 3.8 28.4 .2-23.9 3.8 13.5 6.8 9.6 .6-29.5 3.6 23.5 26.7-15 15.9 50.5-115.9-22.2 58.4 15 31 15.6 1.3"/><path class="sa" marker-mid="url(#by)" marker-start="url(#by)" marker-end="url(#by)" d="m877.3 968.2 15 .1 2.3 3.8 11.8-65.6 5.9 30.4 19.6 29-1.7 55.8 21.9-111.5 2.7 35.9-6.2 .9 24.8 2.5 5 11-35.6 4.6 25 .1-18.9 11.5 21.3 .7-6 5.5 15.2 6.8-14.6 3.5 2 27.6-21.7 14.2 58.8-167.4-22.9 26.4 37.7 6.9-7.4 .9-.4 .6-24.6 1 11 2.2 9.6 .9-22 9.8 2.8 5.3 8.2 2.7-9.6 .6 15.3 1.5-15.1 .1 21.3 1-9.7 1.5 8.2 .5-15.1 2.5 10.5 .3 1.6 1.8 15.5 2.4-24.4 .4 4.4 5.7 6.4 3.6-21.8 1.7 3.4 .1 7.7 .2 19.5 .7-33.4 1.4 36.4 2.8-6.8 1 9.6 2.3-9.9 1.2-27.1 2.2 2.1 1.9 33.3 3.4-29.1 3.2 5.6 1.5-1.3 .5-2.9 3 13.8 .5-13.6 2.1 14.1 .1 10.3 .6-4.1 1.6-29.4 4.8 10.7 1.5-5.4 5.6 25.8 .4-21 8.3-11.5 6.3 11.5 14.5 44.1-157.8 8 22.1 12.5 .3-29.4 1.5 5.1 10.9 8.4 .9-2.6 7.7 2.8 2.4-3.6 1.4 17.8 6.5-23.8 1.9 19.3 .2 3.9 3 1.7 .1-25.9 .9-7.7 .3-2 .2 25.4 .7-15.8 2.9 27.6 5.1-9 .4-25.5 3.7 2.6 3.3-3.3 1.6 17.4 .8-4.8 4.8 11.2 0 1.7 .2-11.2 5.3-9.8 .9-5.7 3.5 4.2 0 33.1 1.7-28.8 3.7 2 2.1-4 2.6-3.5 4 24.6 .6-7 1.7-21.6 3.8 23.7 1.9-12.9 3.8 9.9 .9 3.5 5.8 3.7 3.6-24.6 1.2 5.7 .5 18.4 .5-10.2 7.4 7 2.5-5 5.1 17.8 12.2-27.8 28.7 33.7-181.6 31.4 15.5-27.2 4.7 4.3 8.8 9.1 15.8-12.3 .3-3.4 .4 6.5 3.9-10.4 2 18.3 4.2-12 0 10.7 3.6 .7 1.5 14 2.5-3.8 2.2-16.7 4.9-10.5 7.6 5 .2 4 4.9 .3 .2 7.2 2.1-2 .3 20.5 .7-18.7 3.2 9.2 .9 10.7 3.6-31.7 7.5 27.4 1-2.8 6.7-16.7 4.9 8.6 3-8.2 5.1-6.2 4.9-1.4 8 16.1 20.4 18.8-153.8 2.2 10.1 10.1 12.6 3.6 8.3-14.2 6.7 11.1 2.4 14.5 5.7 2.7 1.4-8.4 4.4-9.3 4.4 17.5 1.9-10.2 8.6-4.5 3.7-8.8 9.3 9.8 .2-1.3 1.8-12.2 .2 26 3.7-7.4 7.2-10.6 3.2 12.2 .6-1.7 .5-1.7 1.6 8.5 4.6-27.5 4.9 3.7 2.2 23 1.8-26.1 7.5 31.7 5.2-23 16.6 4.8 .7 8.4 29.9 33.5-149-12.4 15.2 4 18.9 3.8 8.9-10.6 5.9 21.8 1.3-4.5 5.7 4.8 8.3 30.6-17.1-13.4 16 8.3 26.3"/><path class="sa" marker-mid="url(#bb)" marker-start="url(#bb)" marker-end="url(#bb)" d="m895.6 824.6 24.5-88.4 10.5 12.5-6 1.5-12.9 .9 23 8.4-30 5.8 1.8 .9 24.2 42.3 21.1-129.7 25.9 16.1-26.5 4.9-.1 11.4 9.9 9.7 3.1 .5 .3 4.8 6.9 3.5-24.2 11.9 15.5 15.7 14.9 13.5-20.6 .7 15.6 2.2-7.3 .9-1 6.2-3.2 1.2 2.5 6 11.7 4.2-26.7 16.7-3.7 2.7 32.2 1-.6 9.5 16-122.3 11.6 11-8.8 1.3-10.7 3.7 18.4 4-10.7 1.1 22 2.1-11.2 1.6 7.8 2.1-10.9 .9-1.8 2.2 6.6 5.2 11.9 .2-8.7 15.9-8.3 .5 17.4 1.2-14 .3 13 1.3-23.5 .7 8.3 1.3-15.9 1-4.6 1.6 14.3 3.5 7.7 2.9-21.1 .1 16.4 .3-16.7 .4 7.2 1.8 31 .7-27.8 1.4 13.9 .9-19.3 .7 3.3 .6 16.5 5.9 6.4 1.4 4.9 3.2-12.6 1.3-6.7 15.3-11.2 5.8 31.9 5.5-35.1 1.5 30.4 .9 25.3-130.4-11.6 9.6 26.7 5-31.8 11.7 17.1 .2-13.9 7.7 7.4 5.9 21.6 .3 3.3 .6-25.4 6.9-5.5 .6 16.1 1.2-1.2 1.5-8.7 7.9 25.4 1.2-29.6 1.1-3.1 .7 13 .2-9.5 5.8 26 .9-7.7 .3-6.2 .6-9.5 .5-2.1 2.1 19.9 2-11.6 1.7 3.4 4.9-.1 .2 17.5 1.8-12 .5 12.8 1.5-26 1.9 21.2 4.7-27.3 8.1 23.9 4-1.9 .7-28.6 .4 .2 .1 19.2 4.8 15 .7-24.7 5.4 13.2 3.2 8.1 .7 2.3 2.2 29.9-112.4-11.8 6.9 14 12.6-4.3 5.3 5 8.5-4.8 4.7-11.7 .6 22 2.3-18.5 6.6-6.3 .9-3.6 .8-2.3 4.9-1.7 2.8 8.3 .4 3.1 2.2-5.6 2.7 26.7 2-16.4 .4 14.2 .4-21.4 3.6 11.6 1 9.6 1.7-19.5 .4-8.8 1.3 17.3 5-8 .3 16.9 .3-19.2 3.8 3.2 .2 11.4 1.9-3.4 0 2.1 5.7 8.4 9.2-14 7.5-8.6 4.5 8.9 1.2-1.9 16-4.4 .8 21.1 1.3-13.9 9.8 28.1-134.8 5.5 8.4-8 3.6 5.5 3.8 13.8 6.5 9.6 6-12.1 .1 7.6 8-5.1 3.8-19.5 1.4 24.3 16.6-20.7 .7 10.6 7.4 22.1 1.8-16.6 7.6 15.6 .7-33.3 2.3 2.4 1.2 10.4 1.9-8.5 7.7-5 3.7-4.4 5.1 3.5 .1 14.5 .2-.4 3.4 .4 1.4-9.8 2.2 27.3 13.8-33 10.3 30.1 14.7 19.9-133.2 3.3 36.1-8.1 1.4 1.5 29.8 6.5 2.5 .3 4.7-9.1 8 4.2 19.1 63.5-86.5-14.7 16.3-3 27.1-2.7 35.4"/><path class="sa" marker-mid="url(#bp)" marker-start="url(#bp)" marker-end="url(#bp)" d="m1097.6 821.2-31.3 40.1 48.4-23.8 13.2 20.9 9.5 7.7-11.3 6-20.6 6.6 20.1 9.1-18.1 12 3.8 7.6 23.4 2 41.9-103.3-5.1 22.5-10.1 5.9 9.1 .1-15.2 4.9 19.7 4.9-19.9 4.3-10.5 .1 29.8 2.3-3 5.3-6 8.3-19.6 14.1 26.3 13.9-20.9 .2 10.7 .1 2 2-22.4 3.4 28.9 7.4-23.7 3.8 22.2 3.8 4.2 23.6 26.4-141.7 3.7 .9 11.1 2.1-8.5 7.1-23.6 .2 19.6 4.2 2.2 7.8-.3 3.7 6.5 .3-27.8 4.7 13.4 1.4 13.1 6.7 9.4 2.2-1 1.1-22.2 0 1.2 1.2 15.4 3.9-18 6.3 8 .5-9.2 2.6-4.4 1.9 4.2 .7-7.9 1.2 1.6 2.4 7.3 2.9 16.9 2 7.2 3.8-16.9 2 17.2 1.1-13.2 .2 3.9 .5 4.8 0-14.6 .5-10.2 .1-2.9 3.2 6 0 4.6 5.2-8.2 5.1 7.3 .9-7.7 .1 14.9 4.9 6.6 1.5 5.5 .8-17.3 1.1-9.8 4.9 .5 4.5 9.6 2.3-16 1.3 16.3 10.6 9.4 1.9 44.7-123-17.1 8 10.1 18-14.6 .3 19.7 .8-28.6 .1 21.6 4.8-22.2 1.6 21.9 .7-11.9 1.3 29.1 1.8-14.4 2.4 2.6 .8-22.2 2-1.4 4.4 26.1 .9-5.9 3.7 11.9 .5-32 2.6 35.2 .5-26.6 1.1-8.3 4.6 2.4 2.1 2.4 2.3-1.3 1.7 7.9 .3 22.6 .8-27.2 3.8 18.5 4.1-18.6 1.2-2.1 .3 18 1 9.8 1-26.4 6.7 18.7 1.1 9.6 1.6-31.5 .1-6.3 3.2 2.4 0 10.8 2 12.3 1.4-12.4 3.1-6.6 1 15 .2 2 .3-4.1 .3 12.8 .2-.3 .5-14 6 5.3 8.8-18.5 6.5 31.1 .6-28.9 0 20.9 3-20.9 1.2-1.1 11.7 16.4 8.4 40.1-153.7-12.5 6.7 18.5 6.2-26.2 5.5 3.7 2.9 1.4 3.8-6.4 19.4 36.7 5.1 1 .1-6.6 .6-15.8 1.7 19.1 4.6-15.3 .9-8.6 .1-10.2 4.2 2.6 1.2 20 .8 .3 4 5 2.9 6.1 0-23.3 2.2-7.6 2.8 25.2 .9-12.6 0 19.2 0-20.9 .7-15.7 .4 12.1 1.1 11.7 2.9 6.3 .1-25.2 .7 15.5 2.2-14.4 .9 18.8 2.3 5.3 5.3-9.8 .7-16.3 2.1 10 1.2 19.6 .7-22.5 1.1 10.7 1.8-5 .8 20.6 .5-29.9 2.3 13 10-9.9 4.4 11.3 3.3-11.6 9.9-8.3 .1 23.6 5.8-17 5.4 15.6 23.2 48.2-159-3.9 14.5-9.5 13.3-17.6 10.9 22.3 3.8-23.4 3.4 30.8 6.2 3.1 4.8-15.4 1.4-6.2 .1 19.3 1.2-16 1.6-11.6 1.1 21.6 2.6-24.7 2.4 14 .3 17.8 0-3 .7 4.6 .7-25.6 1.1 12 2.3 8 0 5 3.3-22.1 1.8 18.6 4.6-26.3 .5 27 2.6-17.4 2.9 .9 1.2-11.7 1.1 8.1 1.5-7.4 1.1 17.2 0-5 2.2 15.6 15.2-.1 1.5-12.9 6.7-8.3 .6-5.7 2.8-2.8 13.9 52.6-140.1 22.2 23.5-11.3 11-3.3 14.9-13.3 5.4 12.4 2.5 9.3 6.6-1.2 8.9-28.3 1.1 31.2 2.3-29.3 8.3 2.8 9.8-.7 51.5 43.9-100 2.7 17.9 2.5 58.8"/><path class="sa" marker-mid="url(#by)" marker-start="url(#by)" marker-end="url(#by)" d="m887.3 940.4 15.1-23.3 34.1 4.9-11.2 7.6 2.3 10.4 11.7 1.1-26.5 31.2-3 3 10.4 9.7 .5 6.1 47.3-91.2-2 12.5 4.6 17.6-14.7 6.3 18.6 2.3 5.4 10.9-10.3 6-2.9 4.1-18.5 2.7 29.4 5.1-16.1 5.2 15 2.4-13.8 1.7 2 3.6 4.2 1.2 8.8 1.5-25.3 13.5 18.8 34.9 34.8-155.7 .7 1.8 3.4 4.5 2.8 3.9-7.9 2.7 8.2 .5-7.8 21.8-3.7 5.9-10.3 1.2 10.4 3.9-13.6 4.1-3.4 .3 14.4 3.2 2.2 2.2 12.7 1.3-17.1 .3 9.8 1.2-2.4 1.5 4 .1 4 .4-27.2 .1 31.9 3.1-14.7 .5-.7 1.7-5.5 .2 21.8 2.9-3.8 2.2-20.9 .3 3.9 .8 22.7 1.3-39.5 .4 5.7 1.1 25.7 .6-3.2 6 3 .1-15.7 3-4.9 2.1 24.6 3.4 2.5 6.6-13.9 3.5-13.2 9.7-.4 .8 20.7 2.3-9.3 1.3-16.9 .7 7.9 .9-9.6 3.8 13.3 21.2-2.7 4.8 64.1-161.8-24.4 26.6-10 2.6 15.5 7.7 1.3 6.2 5.7 5.4-4.6 .2-19.7 4 11.7 .5-3 1.5 17.1 .2-11.3 .7-11.5 1.9 33.4 1.3-20.4 .1-7.2 1.9 18.9 1-21.6 .6 8.2 3.3 19.7 7.1-16.4 5.2 13.3 .8-.5 .1-18.2 .1 24.1 5.1-35.2 .7 20.7 2.5-16.3 .3 10.3 5.1 9 .2-10.2 .1 1.9 4.2 5.7 .4 12.8 1.1-1.8 .7-10.2 2.7 8.9 .3 2.3 2.8-5 1.4-26.6 .3-2.7 .3 35.1 .2 .4 .6-12.2 2.2 7.9 .3-30.8 4.3 17.2 .8 4.9 1.4 14.1 3.9-2.1 1.4-25.2 1.6-.4 2.4-4 10.5 7.3 12.6 54.5-147.8-21.5 6.2 4.3 9.1 .9 9.3-.2 2.8 17.6 4-15.6 .3 16.1 4.5-25.6 12.6-.1 .9-3.2 .3 21.4 .6-1.5 6.3-15.3 3.4 22.6 3.1-7.4 3.3 14.7 3-21.6 .9-3.7 3 26.9 .3-2.2 1.2-6.2 .2 8.4 1.3-22.6 0 16.1 10.4-29.1 2.4 9.8 1-3.2 3.2 9.5 4.2-15.3 3.3 19.6 .4 5.1 .6 .1 1.8 11 .1-13 1.6-24.1 21.5 4.8 2.9 20.7 2.5-18.3 0-1.5 1 7.3 1.9 3 16.3 17.8 2.6 11.2-123.4-.2 12.9 4.2 5.3 20.3 10.8-19.2 7.2 7.2 1.2-2.7 .7 18.2 2.8-8.2 1.6 8.5 .4-26 .2 6.7 .3 4.1 3.2-11.3 1.8 10.7 4.3-12 4.8 19.4 4.1 10.3 8-22.9 3.9 26.7 2.4-5.2 .2-11.4 5.4-16.1 5.8 12.6 1.1-19 7.2 2.7 8.1 1 3.6 16 2.1 13.8 4.6-.1 13.2-25.8 10.2 61.5-161.7-7.5 15.5-21.7 37.5 16.8 22.4 17.3 11.1-7.3 10.6 .3 30.2-14.2 11.1 43.5-50.2"/><path class="sa" marker-mid="url(#bb)" marker-start="url(#bb)" marker-end="url(#bb)" d="m899.3 731.4-25.3 65.3-1.6 4 54.3-105.6 4.7 26.4 1.9 1.6-2.2 8 1.6 48.7 4.7 5.1-17.9 11 19.7 1.5-5.6 2.5-21.3 4.8 49.2-109.3 5 12.3-19 9.9 20.4 2.1 1.1 6.4-13.7 2.9-1.9 1 21.1 2.5-11.1 10.7 4.5 .9 4.3 10.3 2.5 .5-21.9 .5 24.9 .1-21 2.9-3 1.8 12 2.1 .9 1.6-26.3 4.1 .7 1.8 29 5.3-16.2 4.5-3.9 5 28.1 4-5 17.6-32 .8 34.2 10.6-6.5 19.1 38.7-127.1-17.7 2.1-1.9 10.8 10.9 2.5-14.6 18.7 23.3 .4 12 1.1-14 .5-.2 2.5-14.8 .7 11.7 .9 10.9 3.8 0 4.2 2.8 0-2.7 2.2-23.8 2.6 13.6 8.3-8.8 3.1 24.1 2.6-18.7 1 5.1 2.1-15.4 2.6 11.6 2.7 13.1 .5-15.4 6.7-3 13.7-3.6 14.9-9.4 4.5 25 1.1-8.6 17.6 24.2-176.1 6.2 16.2-4.2 8.9 14.7 4.7-4.5 5.3 22.2 9.9-12.5 .1 8.2 4.8-7 1.5-7 2.6-2.7 .8 8 8-3.8 .6-10.7 1 .9 2.2 3.3 1.3 .3 5.7-3 1.5 16.3 .2 7.6 3.5-25.6 1.3 .8 .7 14.3 6.9-20.8 1.4 8.4 .7-1 .9-6.1 4.8 10.6 2.1 17.5 1.1 .8 1.2-20.7 1.3-5.4 1.7 22.4 .8-12.4 2.2-6.7 2.8 8.2 .1 4.9 .1 2.9 1.1 3.7 2.9-21.4 4.2 8.3 .1-1.3 2.1 18.3 1.2-12.9 4.5-14.1 5.8 6.8 2 4.2 2.2-1.8 1.8-5.8 13.9 22.2 .7-30.3 5.2 35.2 8.1-34.7 6.8 20.9 3.7 19.4-157.4 13 17.8 18.3 5.4-28.4 1-3.8 5.5 32 1.7-29.6 .3 20.5 1.3-20.8 4.9 4.6 1.7-7 .7 11.3 1 5 5.8-9.7 2 18.7 .1 7.7 1.5 1.7 .3-22.9 1.3 10.4 2-6.4 2.9 14.3 5.9-31.7 1.4 36.6 2.2-34.5 1.9 7.2 3.8 3.8 3.3 11.1 .7-13.6 3.8 18.4 2.8-12.8 .6-10.8 .9 28.8 .7 4.1 .9-8.6 1.1-28.7 4.6 29.3 .2 5.2 1.1-26.8 1.3 13 .2-7.5 1.7 18.3 4-3.8 4-.8 1.8-6.9 3.4-16.4 .6-3.9 .1 12.3 2.2-2.6 .3 .7 4.5 6.5 2.1-18.8 3.7 11.9 2.9-1.6 1.5-9.8 4.3 31.3 1.1-7.6 24.6 17.6-128.7 30.8 6.6-6.5 1.6-24.5 5.1 4.5 9.1-.4 .4 24 10.7-25.4 .8 29.1 2.6-18.3 4 5.4 .7-15.1 7.5 11.1 2.9 20.2 1.6-19.2 .1-13.6 2.3 15.8 2.8 2.4 .1 7.8 3.4-11.5 3.6-6.6 .9 8.6 1.2-12.6 .1 4.2 3.7 9.7 14.1-4.5 1.1-4.7 3.1 2.6 6.1-7.1 6.6 11.7 6.7-16.2 13 38.1-143.4 3.7 14.8 22.1 15-26.7 8.5 .4 5.2 4.7 5 7.5 6-6.1 9.3 1.9 1.8-8.7 2.2 1.9 .1-1.4 6.1 3.4 4.5-2.2 7.3 5.1 6.5 27.9 20.4-32.5 10.1 51.9-36.5 10 4.6-24.6 .1"/><path class="sa" marker-mid="url(#bp)" marker-start="url(#bp)" marker-end="url(#bp)" d="m1075 836.9 6.6 .8-8.8 48.4 44-54.3 9 1.3-22.3 15.6 30 12.2-17 4.4 7.2 .9-8 9.7 14.1 9.9-21.4 3.1 15.4 5.8-10.9 15.4 50.1-111 15.2 15 .6 15.9-8.8 2.1-27.3 3.8 14.9 3.2 17.4 1.5-11.3 6.3 .1 10 14.7 5.3-.1 10.1-5.4 1.8-5.2 2.6 .3 6.7-8.3 2.3-6.4 4.7-.3 3.1-5.2 6.6-4.7 27.1 21.9 17.1 28.5-146.1 13.8 9-10.1 1.5 6.8 19.3 9.6 7.5-10.9 1-20.9 1.2 20.9 4 12.6 1.3-8.9 3.3 4.8 1.1-1.6 4.9-6.6 1.4-7.1 2.2-6.6 1.5 10.2 3.3 11.4 .5-15.6 2.3 11.5 3.3-9.1 .6-13.3 2.2 34.9 5.5-17.4 1.9-3.9 4.6-4.9 1.8 26 .7-33.2 8.7 31 .5-33.4 2 9.3 .8 11.2 9.7-22.3 .2 24.3 25.9 49.1-121.1-27.3 9.1 14.6 4.4-22 1.6 26.2 5.9-26 .7 12.7 2.1-5.9 7.9-2 0 13.4 1.4-2.4 1.2 19.1 1.3-8.5 .7-11.3 7.6-7 2.1 7.9 2.7 14.3 4 .9 .2-29.2 3.7 33.8 .6-33.1 1.8 26 2.7-25.5 1.3 21.7 .2-5.8 .3-17.2 1.6 23.6 2.6 11.1 2.3-9.5 1.6-21.1 .2 20.5 2.4-19.9 .9 7.2 1.7 16.3 4.1-22.9 .5 11.1 12.7 16.4 1-34.1 .6 21.6 0-10.3 1.8 23.4 .3-33.8 5 25.1 5.2 11 1.4-30.2 13.2 13 2.3 35-111.5-10.8 10.1 23 5.8-24.7 2.1 33.9 1.8-25.6 3.5 25.1 .3-5 8.3 5.5 3-22.5 1.6 2.6 4.5-10.1 .1 14.7 2.8 .4 1.3-16.4 3.3 27.5 .9-22.9 .7-4.4 .3 3.4 0 7.2 .9 10.2 1 3.3 .3-14.9 4.2-.9 .7 1.4 .2-9.4 1.3 20.1 .1 5.9 .1-12.9 6-.3 1 19.6 2.2-4.3 .3-28.5 8.9 25.7 .1 .5 4.7-32 9.1 26.3 6.7-7.2 2.1 7.6 2-2.2 12.7-3.6 7.7 27-160.4-3.5 20.2 9 30.1 18.4 .2-15.4 3.7 14.4 2.6 .1 10.7-29.1 .7 0 5.1 34.1 .7-34.3 .4 9.3 3.3-9.1 .7-.8 .3 33.9 2.5-20.8 3.7 17.6 3-9.4 1.4-2.3 .4-19.5 3.2-.1 .5 15.7 2.2 .7 1.1-1.8 1.9 15.1 1.9-2.7 5.5-18.6 2.6-5.2 4.3 19.1 5.7 9.5 18.9 2.6 1.5-17.7 0 47.8-99.3-21 7.4-.6 3.2-3.3 2.8 14.7 1.5-2.6 3.2 9.4 .3 5.1 11.7-24.2 7.8 18.2 20.8 .6 6.5-13.4 10.9 15.9 7.2-6.4 7.7 37.4-65.9-2.9 20.2-11.2 45.5-.2 6.6"/><path class="sa" marker-mid="url(#by)" marker-start="url(#by)" marker-end="url(#by)" d="m892.2 969.2 18.8-71.8 9.1 17.3 4.6 3.5 3.4 4.5-8.9 3.5-18.2 25.4 36.8 3.2-12 8.7 6.6 .7 6.3 7-23.8 6.8-4.9 11.2 9.9 1.6 47.2-90.1-2.7 6.1-16.8 15.2 31.4 .3-14.4 2.5 8 1-.6 5.7 7.8 15.4-.1 1.2-17.1 8.9-11.9 10.8 12.7 14.3-3.4 3.9 18.5 25.7 22.1-150.3-7.4 16.1 19 2.2-7.1 15.2-5.9 2.4-8.3 6.4 14.5 5.2 5.9 3-13.6 0-.1 .1 15.2 1.3 6 .6-9.1 9.7 4.8 2.1 3.2 .9-5.2 9.2-24.1 .5 1 6.1-7.8 3 34 .4-4.8 4.3-18.4 3.9-11.9 .5 36.6 .2-25.7 1.2 7.2 5-4.9 2-11.6 1 3.6 .5 33.4 2-32.3 2.2 30.7 .1-19.8 1.9 18.9 .6-22.9 1.5 24.6 0-13.6 2-21.4 11.9 22.5 1.5 3 1-13.7 1.2 19.9 .4-8.2 4.4 10.4 .2-18.1 1.1-1 3 6.2 28.6-.8 11.7 47.6-168.3-17.2 .5 23.9 13-5.1 13.1-10 5.7 11.2 1.7-22.3 3 3.6 1.8-8.2 7.8 2.2 .4 19.7 11.8 6 1.8-9.1 .2 2.9 .4-5.4 .3 15.5 2.3-4.3 1.4-34.3 2.1 24 .6-6.3 0 6.7 1-6.6 7.5 11 8.2-6.5 1.4 4.9 1.1-10.7 1.1 14.1 0 1.8 2.1-18.6 2.9 24 .6-20.6 1.9 16.2 11.1-9.6 2.9-.8 2.2-3.5 2.3 4.3 .3-2.3 .2 1.6 1.7-7.9 2.1-9.4 .2 13.1 2.1 3 2.9-12.7 1.2 4.6 1.1 4.6 .7 10.4 .4-24.7 1.3 24.3 5.5-6.4 1.1-6.2 4-8.2 1.6 26.1 1-25.4 7.6 35.3-140.8 33 1.5-1.1 3.2-5.5 11.2-16.3 6.3 24.8 8.3-10.2 6.1-28 .6 5 3-2.4 .7 32 4.9-31.9 2.3 .3 2.7-1.9 2.5 12.8 2.3 17.1 2.1-3.4 1.2-11.9 2.6 .3 2.2-14.1 1.5 28.1 .3 9.5 2.1-24.4 .4 9 1.3-7.6 2.7 3 1.5 .7 3.2-6.7 1.4 13.7 1.7-7.3 1.1-4.5 .1-2.2 3.1-1.6 4.1-5.6 .1 5.9 .3 11.5 2.6-19.3 3.6 10.5 4.3-3.5 3.2 20.4 1.4-18.8 1.9 23.8 3.7-24.8 8.9-.1 1.6 25.6 .3-.5 3.1 .7 .8-11.1 5.5-8.7 13-14.6 .8 5.4 8.9 46.5-170.9-2 25.6 25.8 2.1-30 11 29.6 5.6-11 4.8-22.1 7.4 31.4 2.5-22.9 0 6.8 2.9 17.3 .8-28.2 .8-8.4 5.1 27.4 11.4 9.3 1-35.1 18.3 24.9 4.4 9 3.7-14.8 5.6-18.2 3.1 34.5 1.3-36.6 3.2 17 .4 16.1 16.8-29 2.6 8.6 3.5 8.8 12 1.6 15.3 18.3-101.1 3.7 16.2 3 23.3 6.3 13.6 4.8 37.6-14.3 14.6 76-93.5"/><path class="sa" marker-mid="url(#bb)" marker-start="url(#bb)" marker-end="url(#bb)" d="m862.4 785.1 4.7 10.2 66.1-111.2-31.2 74.6 8.7 5.8 14.1 7 4.8 1.5-16.2 13 36.7-103.5 14.4 25.4-23.8 4 21.6 8-8.4 3.8 15.5 3.2 8.2 2.1 1.7 9.2-29.8 4.5 15.8 20 3.4 0 2 4.3-19.2 12.4 20.5 6.1-13.8 .3-10.7 10.2 24.3 4.3-18.7 .7 25.3 2.2-33.9 20.7 21.3 22.1 53.6-163.7-10.7 14-26.7 3.3 19.3 10.3-1.3 5.5 12.4 3.1-6.7 7.3-25.2 4.3 20.4 3.8-18.4 1.5 13.2 .5 17.4 1.4-23.2 .1-7.9 1.7 28.9 .9-3.2 9.9-18.8 .8 3.1 .8 8.1 .4 5.2 .3-19.5 1.8 25.5 2.7-18.6 .5 11.6 5-.7 1.6-15.7 .1 27.9 1.5-3.9 1.6-1.3 3.7-3.7 7.2-17.5 3.1 16.8 6.6-3.1 2.2-2.7 13.6-14.5 1.3 17.8 11.3 15.3 1.2-34 .3 31 2.5-25 .1 20.8 4.4 22.5-134 1.1 15.4-4.4 2.2 22.4 11.8-19.9 7.3 3.1 2.1-14.1 .2 .1 .2 8.1 .9-.6 2.6-3.2 .4 23.1 1.7-27.8 2.4 24 .5-17.9 .5 24.2 3.9-.3 .5-17.7 2 24.3 2.3-7.5 2.5-.9 .2-18.6 4-6.6 .6 25.8 3.7-9.5 2.6-15.8 1.3 26 1.1-24.7 2.3 8.5 .3 8.8 .7 8.2 1.6-30.9 1.6 28.1 .5 1 .6-21.1 0 7.8 1 18.1 .2 2.2 3-18.8 1.4-14.4 .1 2.6 .5 14.5 1.5 1.7 4.2 15.9 .7-6.2 3.3-12.4 4 17.3 1.5-6.1 2.7-16.4 8.6 0 2.7 3.8 0-16.1 .9 13.5 6.4 8.8 5.2-12.4 1.6-7.6 7.3 17.1 .3-12.5 7.5 31.1-132.3 10.5 21 15.9 .6-4 .4-5.7 12-13.3 .1 14.3 12.8 13 4.6-22.4 1.1 5.2 .2 .2 .5-2.3 .2 1.8 2 19.6 4.1-18.6 3.7-2.5 1.8 22.6 5.5 2.3 1.2-6.3 1.1-.5 .5 5.1 .2 3.6 2-38.1 .5 31.3 4.7-17.3 .3-10.1 4.9-1.3 .5 22.6 4.3 10.2 .8-17.1 3.4-6.5 .4-10.2 .6 7.8 4 16.2 9.7-14.6 1.7 10.4 1.8-20.6 1 26.2 20.4 25.6-156.6 14.8 33.8-3.1 2.9-25.2 11.5 9.4 6.1 22.6 3.5-5.7 .1-18.4 .4 4 .1 7.6 2.1-19.2 2.2 9.6 5.4 19.8 .8 .7 .9 .9 3-16.9 3.9 16.3 .2 6 4.8-12.4 13-10.4 2.1-3.8 9-5.3 8.6 24.9 3.5-17.1 2.8 23.1 2.1-4.9 4.4-5.4 1-17.2 11.8 16.8 7.2 52.5-89.9-21.2 5.1-3.7 4.3 23 5.6-21.7 14.5 5.9 5.1-10.4 5.3-9 4.5 31 8.2-4.9 15.5-19.1 11.7 18.5 6.7"/><path class="sa" marker-mid="url(#bp)" marker-start="url(#bp)" marker-end="url(#bp)" d="m1080.7 873.7 17.3 12.5 10.1-75.4 27.6 11.3-18.4 4.5 17.7 6.9-2.6 1.6-17.7 48.7 19.5 .5 3.6 1.8 1.9 6.7 26.8-117.1 2.2 16.3-7.7 34.2 4.3 1.3 2.2 6-14.8 6.5-9.1 8.3 .7 6.1 .7 11.6 4.3 .3 25.7 6.2-14.8 5.3 12.9 1-2.8 8.3 4.5 35.6-6.1 2.4-4.2 5.7 29.5-175.1-3.3 18.6 7.6 6.6-11.8 19.7 19.1 11.6 12 5.1-30.9 4.2 15.6 19.9 12 0-7.9 1.6 13.4 1.9-37.8 2.5 26.3 5.4 .1 .9 .7 1.7 10.3 1.7-11.6 6.1-14.6 1.1 24.5 1.6-4 3.2 4.7 .8-2.5 .2 .6 8.6 .8 .1-3.1 3.6 4 .5-18.8 3-9.6 4.1-7.5 4.4 24 3.1-25.7 18.6 34.8 14.9 1.2 1.6-16.4 2.1 12.5 5 24.5-150.4-17.1 5.3 32 6.1-14.8 19.7-3.8 .5 4.5 3.7 .6 .2 19.5 .3-13.9 4-22.5 4 23.8 4.7-11.3 .3 4.2 2.5 7.8 1.4-2.6 1.3-8.7 .2 17.1 .8-3.1 1.2-13.2 1-13.9 3.8 32.9 .7-19.1 .2-14.9 .9 30.3 .2-8.5 4.9 7.8 2.1 2.4 1.1-11.7 .5 16.3 .1-18.3 .9 17.3 2.4-11.9 1.7-.1 .1-23.4 2.5 35.6 .6-27.2 .5 11.8 4.4 4.6 .6 2.5 1.2-4.3 1-21.7 2.3 6.8 1.6 8.3 6.2 4.9 1-21.3 .2 17.4 .8-9.1 1.2 16.9 7.1-.3 2.3 9.9 .3-19.2 .4 10.6 .8 2.7 4.4-11.9 4.1 6.9 10.2-12.4 .3-9.2 9.8 47-134.8 4.7 20.5-5.7 .9-8.3 6.6 17.3 2.2 11.8 2.4 5.3 3.4-16.4 1.7-6.2 .6 26.6 4.5-31.4 .3 13.3 2.8 17.5 3.2-28.8 1.8 3.5 1.8 6 .6-13.7 1.2 8.2 2.1-11.4 .9 10 .8 13.4 .8-15.6 8.1 14.8 .8 14.6 .8-11.8 .9-1.2 1.4-15.4 .3 22.6 1.8-18.6 2.1 23.6 3.6-34.9 2.8-.4 2 .1 .2 19.7 .3-10.3 .9 25.6 3.6 1.2 3-4.4 2.6-9.5 6.6-5.2 1.4-2.3 .5 11.8 1.7-11.7 1.8-6.5 3.7 12.6 6.7 11.5 6.8 2.5 8.4-21.5 6.5-8.1 7.1 3.8 .9-3 8.5 51.9-141.4 10.4 5.1-29.5 4.1 10.7 5.4 7.8 3.5-4.3 2-11.6 5.3 25.2 6.8-9.6 3.4-17.7 .8 22.1 1.2-19.7 4.4 8.6 6.4-2.8 6.1 3.3 2.3 4.8 2-16.3 5.1 4.9 1.1 2.2 1.5 4.8 5.5 14.7 1.8-16.8 .4-3.1 2.3 3.7 1.4 20 1.3 5.2 3.8-28.6 2.3 10 3.6 16.1 .1-20.5 17.7 20.7 4.6 3.5 .2-8.3 8.6 4.1 .6-12.9 3.7 5.8 4.6-19.8 5.5 10.1 2.1 34.4-129.7 4.6 4.7 8.6 39.5-10.8 3.6 10.5 3.2 11.1 10.4-30.4 3.7 9.2 1.2-4.7 2.4 25 .4-7.2 .5-12 35.4-2.7 11.5-12.7 3.9 40.4-77.3 25.2 7.6-22.2 23.6 0 7.8-4.6 8.2"/><path class="sa" marker-mid="url(#by)" marker-start="url(#by)" marker-end="url(#by)" d="m1036.2 782.2"/><path class="sa" marker-mid="url(#by)" marker-start="url(#by)" marker-end="url(#by)" d="m993.5 822.8"/><path class="sa" marker-mid="url(#by)" marker-start="url(#by)" marker-end="url(#by)" d="m940.1 838.3"/><path class="sa" marker-mid="url(#by)" marker-start="url(#by)" marker-end="url(#by)" d="m1123 796.9"/><path class="sa" marker-mid="url(#by)" marker-start="url(#by)" marker-end="url(#by)" d="m1175.1 771.5"/><path class="sa" marker-mid="url(#bb)" marker-start="url(#bb)" marker-end="url(#bb)" d="m1182.3 876.2"/><path class="sa" marker-mid="url(#bb)" marker-start="url(#bb)" marker-end="url(#bb)" d="m1138.2 926.9"/><path class="sa" marker-mid="url(#bp)" marker-start="url(#bp)" marker-end="url(#bp)" d="m1010.9 723.5"/><path class="sa" marker-mid="url(#bp)" marker-start="url(#bp)" marker-end="url(#bp)" d="m1019.4 741.6"/><path class="sa" marker-mid="url(#bp)" marker-start="url(#bp)" marker-end="url(#bp)" d="m1069.6 711.4"/><path class="sa" marker-mid="url(#bp)" marker-start="url(#bp)" marker-end="url(#bp)" d="m1087 714.1"/><path class="sa" marker-mid="url(#bp)" marker-start="url(#bp)" marker-end="url(#bp)" d="m1118.5 728.3"/><path class="sa" marker-mid="url(#bp)" marker-start="url(#bp)" marker-end="url(#bp)" d="m1126.5 742.1"/><path class="sa" marker-mid="url(#bp)" marker-start="url(#bp)" marker-end="url(#bp)" d="m1149.7 752.8"/><path class="sa" marker-mid="url(#bp)" marker-start="url(#bp)" marker-end="url(#bp)" d="m1163.1 745.4"/><path class="sa" marker-mid="url(#bp)" marker-start="url(#bp)" marker-end="url(#bp)" d="m1169.7 761.4"/><path class="sa" marker-mid="url(#bp)" marker-start="url(#bp)" marker-end="url(#bp)" d="m1193.8 736.8"/><path class="sa" marker-mid="url(#bp)" marker-start="url(#bp)" marker-end="url(#bp)" d="m1087 766.2"/><path class="sa" marker-mid="url(#bp)" marker-start="url(#bp)" marker-end="url(#bp)" d="m1087 772.9"/><path class="sa" marker-mid="url(#bp)" marker-start="url(#bp)" marker-end="url(#bp)" d="m1030.9 789.7"/><path class="sa" marker-mid="url(#bp)" marker-start="url(#bp)" marker-end="url(#bp)" d="m1056.3 796.1"/><path class="sa" marker-mid="url(#bp)" marker-start="url(#bp)" marker-end="url(#bp)" d="m1144.4 790.2"/><path class="sa" marker-mid="url(#bp)" marker-start="url(#bp)" marker-end="url(#bp)" d="m1149.7 807.6"/><path class="sa" marker-mid="url(#bp)" marker-start="url(#bp)" marker-end="url(#bp)" d="m1092.3 800.9"/><path class="sa" marker-mid="url(#bp)" marker-start="url(#bp)" marker-end="url(#bp)" d="m1119 806.2"/><path class="sa" marker-mid="url(#bp)" marker-start="url(#bp)" marker-end="url(#bp)" d="m1089.6 821.7"/><path class="sa" marker-mid="url(#bp)" marker-start="url(#bp)" marker-end="url(#bp)" d="m1028.2 825.7"/><path class="sa" marker-mid="url(#bp)" marker-start="url(#bp)" marker-end="url(#bp)" d="m874.7 809.7"/><path class="sa" marker-mid="url(#bp)" marker-start="url(#bp)" marker-end="url(#bp)" d="m1105.7 843.6"/><path class="sa" marker-mid="url(#bp)" marker-start="url(#bp)" marker-end="url(#bp)" d="m1183.1 784.9"/><path class="sa" marker-mid="url(#bp)" marker-start="url(#bp)" marker-end="url(#bp)" d="m1029.2 932.4"/><path class="sa" marker-mid="url(#bp)" marker-start="url(#bp)" marker-end="url(#bp)" d="m1081 898.2"/><path class="sa" marker-mid="url(#bp)" marker-start="url(#bp)" marker-end="url(#bp)" d="m1094.2 911.5"/><path class="sa" marker-mid="url(#bp)" marker-start="url(#bp)" marker-end="url(#bp)" d="m1122.8 942.3"/><path class="sa" marker-mid="url(#bp)" marker-start="url(#bp)" marker-end="url(#bp)" d="m1107.4 880.6"/><path class="sa" marker-mid="url(#bp)" marker-start="url(#bp)" marker-end="url(#bp)" d="m1167.3 971.3"/><path class="sa" marker-mid="url(#bp)" marker-start="url(#bp)" marker-end="url(#bp)" d="m1180.3 995.1"/><path class="sa" marker-mid="url(#bp)" marker-start="url(#bp)" marker-end="url(#bp)" d="m1060 915"/><path class="sa" marker-mid="url(#bp)" marker-start="url(#bp)" marker-end="url(#bp)" d="m1010 950"/></g><text x="894.4" y="1132.8" font-size="31.5" text-anchor="middle">−0.5</text><text x="1005" y="1132.8" font-size="31.5" text-anchor="middle">0.0</text><text x="1115.7" y="1132.8" font-size="31.5" text-anchor="middle">0.5</text><text x="1226.3" y="1132.8" font-size="31.5" text-anchor="middle">1.0</text><text x="1337" y="1132.8" font-size="31.5" text-anchor="middle">1.5</text><text x="1447.6" y="1132.8" font-size="31.5" text-anchor="middle">2.0</text><text x="833.9" y="659.2" font-size="31.5" text-anchor="end">2</text><text x="833.9" y="790.6" font-size="31.5" text-anchor="end">1</text><text x="833.9" y="922" font-size="31.5" text-anchor="end">0</text><text x="833.9" y="1053.4" font-size="31.5" text-anchor="end">−1</text><text x="1162" y="1162" font-size="33" font-style="italic" text-anchor="middle">t</text><text transform="translate(782 861) rotate(-90)" x="0" y="8.7" font-size="33" font-style="italic" text-anchor="middle">x</text><rect x="599.8" y="64.3" width="114" height="86" rx="4" fill="#eaeaf2" fill-opacity="0.8" stroke="#d6d6de" stroke-width="1"/><circle cx="638" cy="87.7" r="4.8" fill="#93360f" stroke="#fff" stroke-width="0.6"/><text x="694.5" y="95.5" font-size="29" text-anchor="middle">1</text><circle cx="638" cy="126.5" r="4.8" fill="#fcb50d" stroke="#fff" stroke-width="0.6"/><text x="694.5" y="134.3" font-size="29" text-anchor="middle">2</text><rect x="599.5" y="633.6" width="114.3" height="85.5" rx="4" fill="#eaeaf2" fill-opacity="0.8" stroke="#d6d6de" stroke-width="1"/><circle cx="638" cy="657.2" r="4.8" fill="#93360f" stroke="#fff" stroke-width="0.6"/><text x="694.5" y="665" font-size="29" text-anchor="middle">1</text><circle cx="638" cy="696.2" r="4.8" fill="#fcb50d" stroke="#fff" stroke-width="0.6"/><text x="694.5" y="704" font-size="29" text-anchor="middle">2</text><rect x="1360.7" y="65.4" width="112.7" height="123.1" rx="4" fill="#eaeaf2" fill-opacity="0.8" stroke="#d6d6de" stroke-width="1"/><circle cx="1398" cy="89.2" r="4.8" fill="#93360f" stroke="#fff" stroke-width="0.6"/><text x="1454.5" y="97" font-size="29" text-anchor="middle">1</text><circle cx="1398" cy="127.4" r="4.8" fill="#fcb50d" stroke="#fff" stroke-width="0.6"/><text x="1454.5" y="135.2" font-size="29" text-anchor="middle">2</text><circle cx="1398" cy="165.3" r="4.8" fill="#f7f7c4" stroke="#fff" stroke-width="0.6"/><text x="1454.5" y="173.1" font-size="29" text-anchor="middle">3</text><rect x="1360.4" y="629.3" width="113" height="123" rx="4" fill="#eaeaf2" fill-opacity="0.8" stroke="#d6d6de" stroke-width="1"/><circle cx="1398" cy="652.6" r="4.8" fill="#93360f" stroke="#fff" stroke-width="0.6"/><text x="1454.5" y="660.4" font-size="29" text-anchor="middle">1</text><circle cx="1398" cy="691.2" r="4.8" fill="#fcb50d" stroke="#fff" stroke-width="0.6"/><text x="1454.5" y="699" font-size="29" text-anchor="middle">2</text><circle cx="1398" cy="729.1" r="4.8" fill="#f7f7c4" stroke="#fff" stroke-width="0.6"/><text x="1454.5" y="736.9" font-size="29" text-anchor="middle">3</text><text x="413.7" y="30" font-size="41" font-weight="bold" text-anchor="middle" style="font-family:'Liberation Serif',serif">(a)</text><text x="1173.6" y="30" font-size="41" font-weight="bold" text-anchor="middle" style="font-family:'Liberation Serif',serif">(b)</text></svg></body></html>
